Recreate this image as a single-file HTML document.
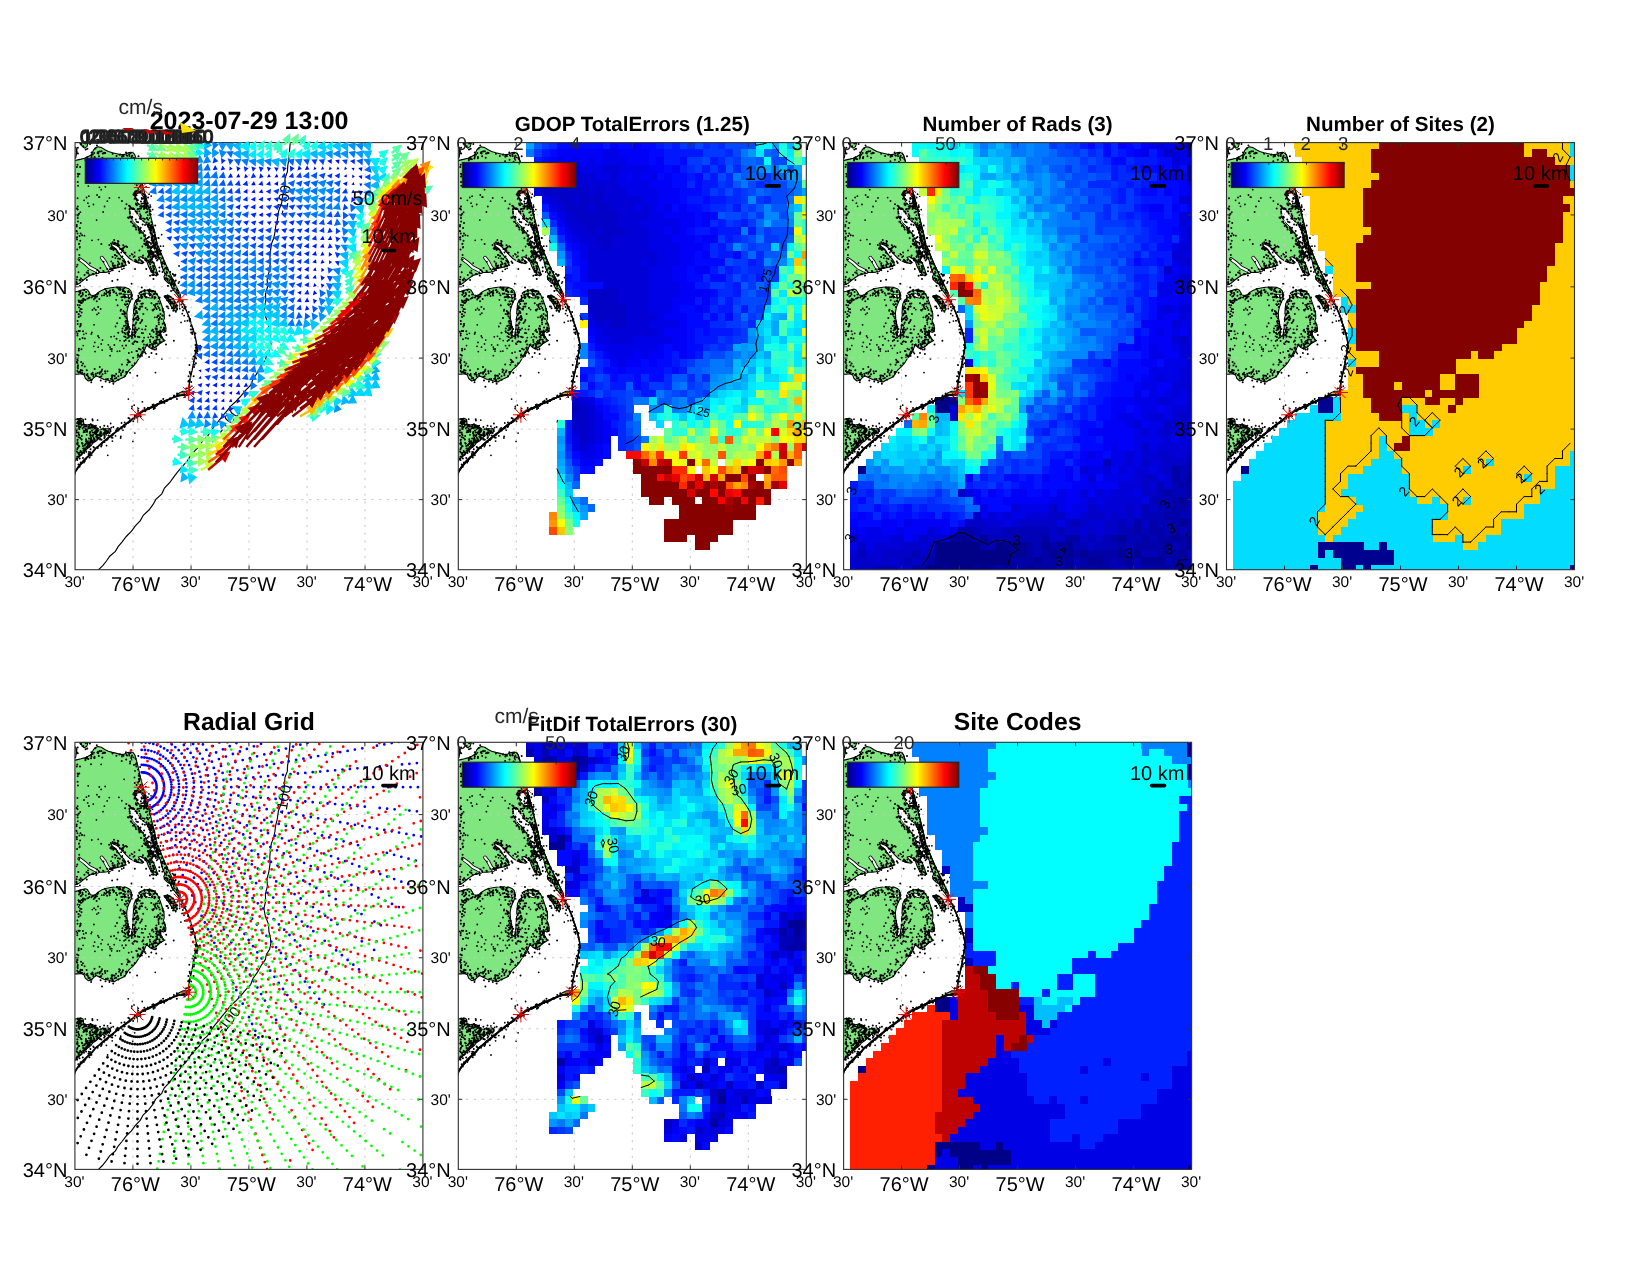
<!DOCTYPE html>
<html><head><meta charset="utf-8"><title>HFR totals</title>
<style>html,body{margin:0;padding:0;background:#fff}svg{display:block}text{font-family:"Liberation Sans", sans-serif;fill:#000;-webkit-font-smoothing:antialiased;text-rendering:geometricPrecision}</style></head><body>
<svg width="1650" height="1275" viewBox="0 0 1650 1275">
<rect width="1650" height="1275" fill="#fff"/>
<g opacity="0.999">
<defs>
<linearGradient id="jet" x1="0" x2="1" y1="0" y2="0"><stop offset="0.0000" stop-color="#000080"/><stop offset="0.0312" stop-color="#00009f"/><stop offset="0.0625" stop-color="#0000bf"/><stop offset="0.0938" stop-color="#0000df"/><stop offset="0.1250" stop-color="#0000ff"/><stop offset="0.1562" stop-color="#0020ff"/><stop offset="0.1875" stop-color="#0040ff"/><stop offset="0.2188" stop-color="#0060ff"/><stop offset="0.2500" stop-color="#0080ff"/><stop offset="0.2812" stop-color="#009fff"/><stop offset="0.3125" stop-color="#00bfff"/><stop offset="0.3438" stop-color="#00dfff"/><stop offset="0.3750" stop-color="#00ffff"/><stop offset="0.4062" stop-color="#20ffdf"/><stop offset="0.4375" stop-color="#40ffbf"/><stop offset="0.4688" stop-color="#60ff9f"/><stop offset="0.5000" stop-color="#80ff80"/><stop offset="0.5312" stop-color="#9fff60"/><stop offset="0.5625" stop-color="#bfff40"/><stop offset="0.5938" stop-color="#dfff20"/><stop offset="0.6250" stop-color="#ffff00"/><stop offset="0.6562" stop-color="#ffdf00"/><stop offset="0.6875" stop-color="#ffbf00"/><stop offset="0.7188" stop-color="#ff9f00"/><stop offset="0.7500" stop-color="#ff8000"/><stop offset="0.7812" stop-color="#ff6000"/><stop offset="0.8125" stop-color="#ff4000"/><stop offset="0.8438" stop-color="#ff2000"/><stop offset="0.8750" stop-color="#ff0000"/><stop offset="0.9062" stop-color="#df0000"/><stop offset="0.9375" stop-color="#bf0000"/><stop offset="0.9688" stop-color="#9f0000"/><stop offset="1.0000" stop-color="#800000"/></linearGradient>
<clipPath id="clip"><rect x="0" y="0" width="348.0" height="427.1"/></clipPath>
<g id="land">
<polygon points="-1.2,18.2 2.7,17.3 6.1,16.5 9.5,15.6 13.3,13.9 16.3,12.2 17.3,10.1 18.4,7.6 20.1,5.5 23.1,4.2 26.5,5.0 29.9,7.2 33.3,8.9 37.5,10.1 41.8,11.1 46.0,12.2 49.4,11.8 52.8,10.3 55.8,9.7 58.3,10.3 60.0,12.7 61.7,18.6 63.4,25.4 65.1,33.0 67.2,41.5 69.3,49.2 71.5,56.8 73.6,65.3 75.7,73.8 77.8,82.2 79.9,90.7 82.5,103.7 83.3,103.6 85.9,110.4 88.4,116.4 91.0,122.3 93.9,128.7 96.9,135.0 100.3,141.8 103.7,148.6 105.4,152.9 104.6,156.2 102.2,152.0 99.5,148.6 96.9,145.2 95.6,141.8 92.7,140.1 90.1,137.6 88.9,134.2 90.1,131.6 88.4,128.2 86.7,123.2 85.5,117.6 83.3,114.7 79.9,113.4 77.8,114.7 76.6,117.6 78.7,120.6 80.8,125.7 82.5,131.2 81.6,133.3 79.1,132.1 75.7,128.2 73.6,124.0 71.9,119.3 68.9,115.9 65.9,114.2 63.4,114.7 65.5,117.2 68.7,119.9 67.2,121.0 62.1,119.8 57.9,118.1 54.5,115.9 51.1,112.5 48.1,109.2 45.2,105.8 42.2,103.2 37.5,101.1 36.0,102.4 38.4,104.5 41.3,107.0 43.5,110.4 46.0,113.8 49.0,116.8 50.7,120.2 49.8,123.2 46.0,124.4 41.8,125.3 37.5,126.1 35.8,127.8 32.4,129.5 29.0,129.8 24.8,129.9 22.3,130.6 18.9,131.6 15.5,132.5 12.1,134.6 8.7,137.2 5.3,140.1 2.7,141.8 -1.2,142.7" fill="#80e680" stroke="#000" stroke-width="1.1" stroke-linejoin="round"/>
<polygon points="-1.2,149.6 2.7,148.6 6.1,147.6 10.4,146.5 12.5,147.3 14.2,149.9 15.5,152.4 18.4,152.9 21.0,152.0 23.1,149.9 26.5,147.8 30.7,146.2 35.8,145.2 40.9,144.5 46.0,144.4 50.3,144.8 53.6,146.1 55.8,148.2 56.9,152.0 56.4,156.2 54.5,160.5 52.8,164.7 51.8,169.8 52.1,175.8 53.2,181.7 54.1,187.6 53.6,192.3 54.9,194.0 56.6,191.9 57.5,186.8 57.9,180.8 58.3,174.1 58.6,167.3 59.2,161.3 60.9,157.5 63.8,155.4 66.8,153.7 65.1,152.0 63.8,150.5 66.4,148.8 70.6,147.6 74.9,147.3 79.1,148.6 82.1,151.6 84.2,155.8 85.9,160.5 87.6,165.6 89.1,170.7 89.3,175.8 88.4,178.3 90.0,181.3 91.0,185.9 90.6,188.9 88.4,189.8 86.7,188.5 85.2,190.6 86.7,194.0 88.9,197.4 90.1,197.8 85.0,200.7 80.8,204.5 76.6,206.2 74.4,204.9 71.9,202.4 70.6,204.5 69.3,207.9 67.2,211.3 63.8,215.9 60.9,220.6 57.9,224.0 54.5,227.0 51.5,231.2 49.8,234.2 46.0,235.9 42.2,237.6 39.6,239.4 36.7,238.9 33.3,237.7 29.0,236.9 24.8,235.0 21.4,233.3 18.9,235.0 16.7,237.4 13.3,238.4 10.4,235.9 9.1,232.5 6.1,231.2 2.7,231.6 -1.2,231.6" fill="#80e680" stroke="#000" stroke-width="1.1" stroke-linejoin="round"/>
<polygon points="-1.2,277.0 2.7,276.2 6.1,275.8 8.3,277.0 8.7,281.3 11.6,282.5 15.5,281.7 19.3,283.0 22.3,285.5 24.4,287.2 29.0,286.1 34.6,285.9 35.8,288.9 31.6,290.9 27.3,292.3 24.4,295.3 21.4,298.2 18.0,300.4 15.9,303.3 12.1,306.2 7.8,310.4 3.6,314.7 -1.2,319.3" fill="#80e680" stroke="#000" stroke-width="1.1" stroke-linejoin="round"/>
<polygon points="89.1,153.5 92.7,152.9 96.5,154.7 99.5,158.4 101.8,163.0 102.2,167.3 100.3,168.5 97.3,165.6 94.8,161.3 91.8,157.1" fill="#80e680" stroke="#000" stroke-width="1.1" stroke-linejoin="round"/>
<polygon points="6.1,0.1 13.1,0.1 11.9,4.0 9.4,5.5 7.1,3.8" fill="#80e680" stroke="#000" stroke-width="1.1" stroke-linejoin="round"/>
<polygon points="-1.2,4.2 1.0,5.0 1.7,9.3 0.7,15.2 -1.2,16.1" fill="#80e680" stroke="#000" stroke-width="1.1" stroke-linejoin="round"/>
<polygon points="113.7,248.6 114.1,252.4 108.8,252.9 104.6,253.0 101.2,253.7 103.7,250.7 107.9,248.6" fill="#80e680" stroke="#000" stroke-width="1.1" stroke-linejoin="round"/>
<polygon points="62.6,271.5 67.2,268.3 75.7,264.4 84.2,260.5 92.7,256.9 92.7,257.8 84.2,261.5 75.7,265.6 67.2,269.5 63.0,272.9" fill="#80e680" stroke="#000" stroke-width="1.1" stroke-linejoin="round"/>
<polygon points="60.9,51.3 65.5,50.0 68.9,55.1 69.8,62.7 67.2,63.6 63.0,61.0 60.4,55.9" fill="#fff" stroke="#000" stroke-width="0.9"/>
<polygon points="54.5,66.1 59.6,67.0 63.0,72.1 66.4,77.2 71.5,81.4 74.9,87.3 76.6,95.8 78.7,103.7 74.0,103.7 71.5,96.7 67.2,89.0 63.0,83.9 58.7,79.7 55.3,73.8" fill="#fff" stroke="#000" stroke-width="0.9"/>
<polygon points="74.0,103.7 78.7,103.7 79.9,107.9 82.5,112.5 84.2,115.9 82.5,115.1 78.7,111.7 76.1,107.9" fill="#fff" stroke="#000" stroke-width="0.9"/>
<polyline points="4.4,116.5 9.5,120.2 14.6,124.9 19.7,127.4 22.7,129.3" fill="none" stroke="#000" stroke-width="3.8" stroke-linecap="round"/>
<polyline points="4.4,116.5 9.5,120.2 14.6,124.9 19.7,127.4 22.7,129.3" fill="none" stroke="#fff" stroke-width="2.2" stroke-linecap="round"/>
<polyline points="26.7,115.1 29.9,119.3 32.4,124.0 35.0,127.6" fill="none" stroke="#000" stroke-width="3.8" stroke-linecap="round"/>
<polyline points="26.7,115.1 29.9,119.3 32.4,124.0 35.0,127.6" fill="none" stroke="#fff" stroke-width="2.2" stroke-linecap="round"/>
<polyline points="51.1,153.3 55.8,153.3" fill="none" stroke="#000" stroke-width="3.8" stroke-linecap="round"/>
<polyline points="51.1,153.3 55.8,153.3" fill="none" stroke="#fff" stroke-width="2.2" stroke-linecap="round"/>
<polyline points="70.6,152.0 74.0,153.7 76.6,154.1" fill="none" stroke="#000" stroke-width="3.8" stroke-linecap="round"/>
<polyline points="70.6,152.0 74.0,153.7 76.6,154.1" fill="none" stroke="#fff" stroke-width="2.2" stroke-linecap="round"/>
<polyline points="104.6,156.2 106.2,158.8 108.8,162.2 111.3,168.1 113.9,174.1 116.0,180.8 118.1,186.8 119.8,192.7 121.1,198.7 122.1,205.7 121.5,202.8 120.7,208.7 119.5,214.7 118.5,220.6 117.3,226.5 115.9,232.5 114.6,238.4 113.9,244.4 113.7,249.5 113.9,252.0 108.8,252.0 105.4,252.4" fill="none" stroke="#000" stroke-width="1.4" stroke-linejoin="round"/>
<polyline points="105.4,252.4 99.5,254.4 92.7,257.3 84.2,260.9 75.7,264.9 67.2,268.8 62.6,272.2 56.2,277.5 49.4,282.5 42.6,287.8 35.8,293.2 29.0,298.7 23.1,303.8 20.6,305.7 17.2,310.0 12.1,314.7 7.8,318.9 3.6,324.0 0.2,329.1 -1.2,333.8" fill="none" stroke="#000" stroke-width="1.9" stroke-linejoin="round"/>
<path d="M95.2 129.3h.01M16.5 9.9h.01M90.8 135.6h.01M69.3 64.8h.01M60.0 126.5h.01M57.0 17.2h.01M64.6 44.4h.01M103.4 150.5h.01M29.1 10.6h.01M61.8 119.1h.01M92.5 138.0h.01M70.4 117.6h.01M42.9 121.8h.01M61.5 21.0h.01M2.0 94.6h.01M73.9 112.3h.01M68.2 46.6h.01M75.1 117.3h.01M70.3 115.6h.01M76.4 129.2h.01M51.0 9.9h.01M74.4 65.0h.01M64.1 31.6h.01M96.5 141.4h.01M63.1 27.3h.01M78.8 93.4h.01M94.9 134.4h.01M2.4 22.2h.01M78.5 132.5h.01M81.9 107.4h.01M1.9 24.3h.01M74.8 71.2h.01M73.9 111.0h.01M14.2 132.6h.01M97.4 138.8h.01M11.6 15.4h.01M78.8 126.6h.01M78.3 89.0h.01M66.5 118.2h.01M80.2 129.8h.01M63.8 117.3h.01M1.6 139.5h.01M76.9 129.2h.01M49.9 119.3h.01M65.2 24.6h.01M1.8 82.3h.01M91.6 129.1h.01M55.1 21.3h.01M48.6 13.5h.01M96.8 140.1h.01M41.0 101.2h.01M4.8 104.3h.01M55.6 10.7h.01M70.8 61.1h.01M100.7 137.8h.01M23.8 129.2h.01M80.5 113.3h.01M37.8 123.1h.01M99.9 138.4h.01M21.4 132.8h.01M2.2 106.8h.01M82.7 106.4h.01M87.6 121.2h.01M82.7 131.8h.01M83.3 95.4h.01M10.6 17.1h.01M37.8 125.8h.01M43.4 98.8h.01M59.0 22.8h.01M42.9 101.7h.01M47.3 108.1h.01M63.8 33.4h.01M87.4 114.8h.01M27.7 11.0h.01M46.9 121.3h.01M1.7 88.6h.01M2.5 55.6h.01M2.4 122.1h.01M83.0 103.9h.01M71.6 62.6h.01M78.2 128.6h.01M16.5 14.3h.01M4.3 116.8h.01M38.9 125.4h.01M95.1 158.2h.01M26.6 8.6h.01M2.7 66.9h.01M13.2 130.7h.01M95.7 141.0h.01M84.0 112.0h.01M81.8 132.0h.01M73.0 54.9h.01M76.9 83.8h.01M27.4 15.1h.01M56.3 15.7h.01M75.6 86.9h.01M2.7 39.5h.01M16.1 16.0h.01M4.3 112.5h.01M5.1 137.9h.01M36.2 104.7h.01M75.6 82.8h.01M103.6 157.7h.01M76.0 83.2h.01M70.3 53.8h.01M75.3 64.5h.01M22.5 10.3h.01M41.7 113.4h.01M68.9 66.5h.01M74.5 118.9h.01M65.9 58.9h.01M97.9 137.1h.01M23.9 13.6h.01M34.0 130.6h.01M17.5 131.4h.01M75.3 87.9h.01M25.3 125.4h.01M36.0 126.8h.01M45.1 12.0h.01M66.7 118.8h.01M72.1 64.2h.01M39.6 105.9h.01M92.3 125.3h.01M91.3 124.8h.01M71.3 117.6h.01M96.0 148.4h.01M65.0 33.9h.01M63.4 119.9h.01M2.0 96.9h.01M70.9 53.7h.01M99.5 142.3h.01M2.7 73.0h.01M102.4 149.9h.01M47.7 105.9h.01M71.0 70.0h.01M2.9 78.9h.01M79.3 126.5h.01M41.5 13.4h.01M2.2 141.4h.01M4.2 101.1h.01M2.1 134.4h.01M86.4 120.2h.01M68.1 30.5h.01M81.7 130.7h.01M1.7 84.0h.01M7.1 92.7h.01M38.3 107.5h.01M7.3 137.5h.01M42.4 100.9h.01M43.7 111.0h.01M19.5 15.0h.01M75.1 72.3h.01M101.5 147.1h.01M61.1 119.1h.01M2.7 75.3h.01M37.7 99.7h.01M88.7 118.7h.01M49.5 119.9h.01M77.4 93.5h.01M39.0 101.2h.01M47.4 121.8h.01M28.2 128.4h.01M72.4 63.3h.01M19.6 14.5h.01M39.1 97.5h.01M5.6 90.9h.01M54.1 11.7h.01M20.4 6.0h.01M42.9 98.4h.01M70.9 63.4h.01M10.5 17.9h.01M84.4 124.9h.01M38.9 124.9h.01M4.0 101.5h.01M2.7 31.1h.01M84.6 108.9h.01M84.4 128.6h.01M4.8 85.4h.01M13.5 16.6h.01M74.4 119.9h.01M35.4 105.8h.01M61.7 42.6h.01M76.5 87.8h.01M64.7 37.5h.01M91.7 136.0h.01M54.4 13.3h.01M12.1 14.7h.01M42.8 123.9h.01M87.3 119.8h.01M96.7 138.3h.01M46.7 120.9h.01M34.2 102.4h.01M46.4 106.4h.01M75.5 87.4h.01M42.2 109.8h.01M2.8 33.9h.01M77.7 128.5h.01M46.2 124.0h.01M63.4 13.6h.01M81.2 99.8h.01M81.5 99.6h.01M79.8 113.3h.01M84.0 109.2h.01M79.1 97.3h.01M89.7 136.5h.01M73.0 118.0h.01M37.5 114.5h.01M4.6 104.9h.01M52.2 13.1h.01M42.5 122.8h.01M92.3 126.9h.01M80.7 95.6h.01M75.1 121.9h.01M5.2 98.1h.01M78.1 112.5h.01M3.0 43.2h.01M44.2 102.9h.01M75.0 133.1h.01M32.1 126.5h.01M76.2 126.2h.01M82.7 109.9h.01M73.5 119.1h.01M5.1 24.3h.01M48.1 107.9h.01M42.8 100.8h.01M11.8 137.3h.01M78.7 93.4h.01M90.8 125.7h.01M67.6 115.0h.01M77.4 115.0h.01M36.8 104.5h.01M12.6 16.3h.01M39.8 123.0h.01M24.9 9.0h.01M99.5 142.3h.01M87.3 124.1h.01M91.6 132.9h.01M44.9 116.5h.01M76.5 95.1h.01M53.2 119.0h.01M68.0 112.9h.01M18.4 131.3h.01M50.4 110.2h.01M72.4 66.7h.01M71.3 116.5h.01M61.5 118.5h.01M54.1 120.4h.01M23.3 11.0h.01M75.4 118.3h.01M11.6 130.0h.01M44.6 12.2h.01M2.9 72.2h.01M59.5 109.9h.01M43.1 115.9h.01M17.8 11.8h.01M4.0 71.1h.01M18.4 131.7h.01M81.9 109.0h.01M51.6 12.6h.01M58.6 15.1h.01M80.1 83.0h.01M61.5 24.1h.01M45.1 106.3h.01M34.7 126.6h.01M64.2 38.9h.01M5.7 80.4h.01M46.8 18.7h.01M92.0 130.2h.01M37.7 127.6h.01M48.3 105.3h.01M96.2 142.6h.01M63.0 40.2h.01M104.7 154.6h.01M2.5 90.9h.01M77.1 132.3h.01M51.3 17.1h.01M19.5 15.7h.01M76.5 128.1h.01M56.6 14.4h.01M60.3 117.1h.01M75.5 83.3h.01M29.1 10.1h.01M16.1 21.9h.01M36.4 106.5h.01M75.3 85.5h.01M40.9 106.9h.01M60.9 22.1h.01M84.4 107.8h.01M73.0 114.0h.01M89.4 120.6h.01M78.4 136.3h.01M91.8 130.2h.01M88.7 127.4h.01M92.7 136.3h.01M52.0 104.5h.01M78.5 126.4h.01M5.8 136.0h.01M40.4 125.0h.01M4.5 93.3h.01M93.9 133.4h.01M79.0 127.0h.01M90.0 135.8h.01M98.4 141.4h.01M47.0 14.2h.01M57.5 111.8h.01M48.2 105.7h.01M75.5 124.3h.01M64.1 36.8h.01M47.2 123.4h.01M42.8 102.9h.01M61.0 117.8h.01M78.2 124.5h.01M26.3 101.4h.01M79.1 125.7h.01M66.8 41.9h.01M67.5 119.4h.01M73.6 85.0h.01M72.2 75.8h.01M104.5 151.6h.01M83.3 107.1h.01M71.2 126.5h.01M69.8 54.9h.01M55.3 19.1h.01M90.0 125.8h.01M76.4 82.1h.01M1.7 95.0h.01M39.2 106.7h.01M104.1 153.4h.01M92.4 137.2h.01M70.3 59.5h.01M16.3 12.8h.01M21.9 3.0h.01M2.7 63.9h.01M75.1 116.9h.01M38.7 123.5h.01M73.9 80.6h.01M1.5 88.5h.01M64.7 36.4h.01M85.8 111.1h.01M57.1 13.2h.01M81.0 115.8h.01M10.4 16.5h.01M48.2 102.7h.01M78.9 88.2h.01M65.3 44.6h.01M1.7 65.8h.01M47.2 121.0h.01M77.9 123.5h.01M85.6 111.8h.01M47.4 12.6h.01M81.2 100.3h.01M4.4 31.3h.01M3.3 32.0h.01M3.4 129.7h.01M75.3 114.3h.01M48.0 117.9h.01M39.7 112.4h.01M60.7 16.4h.01M74.9 121.3h.01M76.5 120.0h.01M37.6 11.1h.01M91.6 126.1h.01M36.1 126.0h.01M49.5 104.2h.01M28.5 128.6h.01M4.5 137.5h.01M48.0 118.1h.01M89.7 121.6h.01M66.8 48.3h.01M48.8 123.3h.01M95.2 135.1h.01M62.4 119.6h.01M97.6 145.7h.01M23.1 9.4h.01M80.9 102.3h.01M76.6 90.8h.01M64.4 108.0h.01M1.7 136.9h.01M9.5 132.4h.01M37.7 105.7h.01M99.6 146.0h.01M78.0 85.0h.01M30.2 10.4h.01M22.2 127.3h.01M100.3 132.1h.01M59.8 40.8h.01M24.8 8.8h.01M81.8 101.0h.01M65.7 42.7h.01M72.4 69.1h.01M56.8 111.5h.01M39.7 100.1h.01M48.8 118.6h.01M98.8 142.4h.01M90.6 131.2h.01M79.1 89.7h.01M47.2 13.8h.01M37.8 120.6h.01M75.7 71.9h.01M78.9 123.6h.01M4.7 196.6h.01M54.1 198.3h.01M61.5 175.0h.01M49.8 161.6h.01M54.0 149.4h.01M80.0 163.7h.01M2.6 217.8h.01M44.2 229.5h.01M13.4 155.6h.01M60.3 165.6h.01M39.2 148.8h.01M4.4 158.9h.01M59.1 189.5h.01M29.5 150.6h.01M76.7 148.8h.01M81.4 196.8h.01M4.0 152.1h.01M75.7 152.5h.01M91.6 163.8h.01M68.3 151.3h.01M81.3 211.3h.01M25.8 229.5h.01M74.6 203.4h.01M62.7 212.9h.01M50.4 178.8h.01M82.7 192.7h.01M6.1 219.5h.01M8.5 157.2h.01M57.8 195.8h.01M19.5 155.6h.01M38.2 238.8h.01M5.3 228.7h.01M63.2 153.1h.01M50.4 170.8h.01M53.2 158.3h.01M59.3 172.7h.01M10.9 153.1h.01M78.0 204.1h.01M89.9 182.4h.01M85.4 193.4h.01M45.3 146.2h.01M18.4 233.8h.01M47.5 229.5h.01M57.2 189.5h.01M59.0 189.0h.01M85.8 189.5h.01M63.9 166.3h.01M13.8 151.8h.01M83.1 173.5h.01M77.3 148.9h.01M58.6 182.3h.01M39.2 233.1h.01M14.4 154.8h.01M87.6 181.2h.01M60.3 185.2h.01M63.5 154.6h.01M7.8 152.0h.01M51.2 180.6h.01M4.1 149.2h.01M53.6 184.7h.01M34.4 148.8h.01M4.9 183.9h.01M53.6 188.8h.01M94.5 173.0h.01M84.4 197.2h.01M49.2 171.8h.01M49.5 154.0h.01M7.5 150.5h.01M59.6 176.7h.01M5.0 158.7h.01M46.1 232.7h.01M32.2 153.5h.01M15.5 237.3h.01M70.6 165.3h.01M51.0 229.5h.01M8.0 220.9h.01M27.1 226.9h.01M63.8 206.1h.01M12.4 231.4h.01M46.0 231.0h.01M11.7 227.7h.01M74.9 197.4h.01M87.3 172.9h.01M69.6 148.8h.01M61.2 179.8h.01M51.4 175.7h.01M66.3 161.1h.01M4.0 159.5h.01M81.5 183.3h.01M82.5 196.8h.01M25.1 234.4h.01M71.2 202.3h.01M44.7 145.5h.01M56.3 152.5h.01M62.1 170.5h.01M61.3 169.3h.01M66.6 155.3h.01M60.0 198.6h.01M63.0 174.3h.01M82.9 173.2h.01M69.4 152.8h.01M59.1 192.4h.01M17.6 230.2h.01M48.1 228.0h.01M2.8 226.0h.01M26.6 228.5h.01M3.7 208.0h.01M37.2 236.8h.01M52.6 178.8h.01M62.2 187.2h.01M84.6 200.3h.01M16.5 237.5h.01M68.8 207.0h.01M6.5 230.6h.01M3.6 157.9h.01M45.0 147.3h.01M78.6 151.6h.01M22.3 151.6h.01M48.4 168.4h.01M44.5 151.2h.01M78.2 203.9h.01M64.4 194.7h.01M77.6 148.5h.01M52.4 183.6h.01M75.4 151.4h.01M50.1 149.4h.01M68.3 198.1h.01M93.3 165.7h.01M83.7 179.9h.01M23.1 164.3h.01M47.2 188.6h.01M24.3 156.4h.01M57.3 191.3h.01M85.8 184.8h.01M35.0 147.9h.01M39.7 233.4h.01M83.4 172.8h.01M2.6 181.5h.01M3.5 212.9h.01M63.1 157.1h.01M24.7 224.5h.01M8.8 156.7h.01M18.4 232.2h.01M59.7 220.7h.01M1.8 169.5h.01M46.9 221.8h.01M33.5 149.5h.01M2.4 190.8h.01M37.8 238.1h.01M83.7 155.5h.01M22.6 230.4h.01M62.8 194.1h.01M51.4 187.0h.01M53.8 218.6h.01M68.8 202.0h.01M23.2 150.8h.01M6.7 157.8h.01M53.4 148.4h.01M55.0 230.1h.01M79.2 206.9h.01M6.9 222.8h.01M50.6 197.4h.01M42.1 152.7h.01M52.2 186.2h.01M9.1 147.7h.01M88.6 169.2h.01M42.0 144.8h.01M51.5 185.3h.01M20.5 153.4h.01M57.3 156.4h.01M61.5 187.2h.01M49.7 169.7h.01M47.5 185.9h.01M27.5 231.6h.01M11.0 149.5h.01M52.2 161.3h.01M50.4 194.3h.01M77.6 187.6h.01M20.4 155.1h.01M68.5 204.9h.01M90.4 153.4h.01M42.6 145.2h.01M67.1 177.3h.01M74.8 153.0h.01M44.6 151.2h.01M75.9 194.0h.01M85.5 191.3h.01M20.7 231.2h.01M51.4 231.2h.01M85.4 171.3h.01M43.2 190.2h.01M42.1 180.6h.01M53.9 184.4h.01M48.6 148.3h.01M72.9 147.7h.01M58.0 182.6h.01M75.2 199.4h.01M30.6 239.0h.01M54.6 159.5h.01M52.9 191.3h.01M88.8 180.7h.01M31.2 148.2h.01M63.0 212.0h.01M7.3 227.8h.01M21.7 158.6h.01M41.1 231.5h.01M59.3 188.4h.01M77.0 154.5h.01M58.1 215.2h.01M16.7 232.0h.01M37.6 147.6h.01M43.9 146.6h.01M89.7 187.9h.01M50.8 185.3h.01M37.0 234.4h.01M97.2 160.9h.01M70.3 186.8h.01M2.4 192.9h.01M16.2 239.6h.01M47.8 154.4h.01M59.1 165.1h.01M83.4 159.0h.01M32.4 228.7h.01M87.6 166.2h.01M54.0 155.6h.01M41.5 196.2h.01M2.8 223.1h.01M3.5 171.6h.01M30.0 228.6h.01M52.3 190.1h.01M2.7 224.1h.01M84.4 176.2h.01M12.3 232.7h.01M61.2 159.4h.01M67.1 163.9h.01M47.3 171.5h.01M7.1 230.4h.01M81.7 186.0h.01M4.8 188.5h.01M84.6 154.9h.01M89.7 185.6h.01M67.8 160.9h.01M80.5 165.0h.01M89.4 186.0h.01M4.7 168.6h.01M20.8 233.0h.01M64.1 213.4h.01M84.4 189.3h.01M46.4 154.7h.01M45.6 168.2h.01M19.6 226.4h.01M63.0 177.5h.01M23.0 151.1h.01M38.6 149.6h.01M32.0 150.0h.01M61.9 161.4h.01M80.3 162.3h.01M79.9 154.9h.01M83.9 165.3h.01M52.5 217.2h.01M49.8 154.9h.01M2.3 228.4h.01M66.5 155.4h.01M80.0 150.7h.01M53.5 194.9h.01M69.5 148.5h.01M53.4 192.4h.01M56.2 153.6h.01M59.9 171.2h.01M56.2 150.4h.01M24.6 230.0h.01M44.0 147.0h.01M62.3 199.4h.01M70.1 151.5h.01M74.1 150.7h.01M6.0 160.5h.01M5.2 150.7h.01M67.4 209.0h.01M67.3 210.9h.01M5.3 166.5h.01M45.1 227.6h.01M5.8 227.5h.01M8.0 188.7h.01M5.6 183.0h.01M37.9 147.1h.01M54.9 186.4h.01M50.6 191.6h.01M3.7 174.5h.01M80.9 198.3h.01M37.2 138.3h.01M82.0 174.6h.01M58.2 176.7h.01M91.3 192.5h.01M43.3 233.6h.01M53.2 192.8h.01M14.8 235.5h.01M2.7 162.3h.01M61.6 168.9h.01M46.1 150.8h.01M5.8 181.4h.01M37.5 238.7h.01M72.2 201.8h.01M80.5 200.5h.01M4.7 162.7h.01M60.0 190.9h.01M62.9 212.9h.01M57.0 195.6h.01M49.2 145.5h.01M50.6 154.3h.01M77.4 206.1h.01M17.6 153.7h.01M77.9 167.9h.01M69.9 209.7h.01M65.1 164.2h.01M82.3 161.2h.01M53.3 153.5h.01M62.2 233.2h.01M50.6 182.8h.01M43.4 237.1h.01M98.8 198.1h.01M76.9 205.4h.01M35.9 236.2h.01M64.6 166.8h.01M6.6 153.3h.01M69.5 147.5h.01M78.7 201.5h.01M81.2 191.4h.01M52.2 184.2h.01M81.8 151.6h.01M84.4 191.5h.01M52.9 182.3h.01M53.0 219.9h.01M66.7 163.8h.01M87.9 173.1h.01M2.2 212.1h.01M79.0 166.6h.01M81.6 166.3h.01M59.9 194.1h.01M73.6 148.3h.01M59.4 167.0h.01M54.7 219.4h.01M47.7 148.3h.01M76.4 160.7h.01M50.0 187.6h.01M16.6 154.9h.01M65.5 207.0h.01M30.1 146.5h.01M82.8 189.0h.01M62.9 158.5h.01M70.2 154.0h.01M86.1 199.7h.01M52.9 149.5h.01M84.8 167.3h.01M87.9 187.3h.01M50.5 154.2h.01M51.1 159.0h.01M49.6 151.9h.01M81.3 194.1h.01M80.2 200.4h.01M2.6 224.9h.01M1.7 219.3h.01M64.8 158.5h.01M29.0 152.6h.01M48.2 147.6h.01M66.4 178.9h.01M3.8 206.2h.01M78.0 194.8h.01M24.7 231.1h.01M89.3 186.7h.01M27.1 244.2h.01M76.4 210.3h.01M67.9 205.5h.01M51.9 229.5h.01M79.4 151.3h.01M50.5 162.4h.01M83.8 176.5h.01M90.3 188.5h.01M75.0 202.2h.01M49.6 149.2h.01M42.5 137.1h.01M56.7 193.9h.01M83.5 177.7h.01M34.5 239.7h.01M64.7 166.1h.01M13.5 235.8h.01M74.2 149.0h.01M45.9 167.2h.01M22.0 154.0h.01M5.3 159.7h.01M65.2 214.0h.01M48.3 151.8h.01M69.0 207.4h.01M88.2 197.2h.01M38.3 241.1h.01M62.7 173.5h.01M87.7 172.9h.01M53.5 158.0h.01M5.8 153.9h.01M44.7 175.3h.01M60.8 189.4h.01M81.1 203.9h.01M47.9 144.8h.01M56.8 152.5h.01M34.9 151.0h.01M37.5 233.0h.01M57.6 187.2h.01M88.9 184.9h.01M9.8 196.0h.01M58.3 187.0h.01M58.6 172.7h.01M57.1 223.0h.01M6.6 170.0h.01M9.7 224.0h.01M51.1 178.2h.01M61.4 158.6h.01M78.5 148.7h.01M56.8 194.1h.01M32.8 236.3h.01M51.0 203.0h.01M75.8 148.3h.01M80.3 154.9h.01M78.7 199.4h.01M77.4 202.2h.01M34.4 151.2h.01M66.6 210.6h.01M49.6 233.6h.01M48.3 145.8h.01M3.8 171.7h.01M5.3 229.6h.01M85.4 188.5h.01M86.4 195.1h.01M5.2 149.1h.01M88.9 185.8h.01M30.3 230.7h.01M65.2 180.5h.01M66.7 155.5h.01M5.5 148.2h.01M36.6 235.9h.01M84.9 174.6h.01M6.4 206.7h.01M71.0 154.9h.01M84.1 192.3h.01M80.4 200.9h.01M67.2 154.3h.01M47.1 157.7h.01M2.5 178.3h.01M66.7 144.8h.01M60.5 163.6h.01M5.0 143.1h.01M16.3 231.4h.01M2.9 222.6h.01M2.3 220.4h.01M44.2 226.9h.01M41.2 235.4h.01M11.4 232.5h.01M34.7 152.9h.01M66.2 153.3h.01M25.7 238.0h.01M48.9 183.4h.01M80.0 151.0h.01M61.6 165.3h.01M36.8 233.0h.01M62.1 177.2h.01M81.7 187.0h.01M2.3 217.1h.01M77.5 167.3h.01M3.5 188.5h.01M5.5 173.2h.01M86.7 176.5h.01M4.1 229.5h.01M74.0 148.1h.01M45.3 147.0h.01M61.4 208.5h.01M79.5 156.0h.01M84.6 161.0h.01M78.7 189.5h.01M21.0 153.8h.01M63.7 176.0h.01M87.8 168.1h.01M65.9 149.7h.01M51.5 229.3h.01M59.1 165.9h.01M86.8 194.6h.01M61.0 168.4h.01M9.3 231.1h.01M52.6 181.4h.01M3.3 230.0h.01M8.2 156.1h.01M60.6 175.6h.01M85.9 195.0h.01M13.1 233.8h.01M26.3 233.6h.01M82.7 192.9h.01M50.2 174.0h.01M31.0 151.4h.01M84.8 199.0h.01M39.7 235.9h.01M7.5 195.5h.01M68.3 171.4h.01M58.0 188.8h.01M66.5 152.1h.01M49.5 190.4h.01M50.5 171.0h.01M77.8 204.2h.01M56.6 141.2h.01M52.0 222.2h.01M52.3 164.5h.01M59.5 187.5h.01M90.9 201.9h.01M5.5 181.4h.01M12.4 231.4h.01M31.1 236.6h.01M9.7 157.1h.01M41.1 150.7h.01M7.9 157.6h.01M37.7 237.4h.01M47.5 147.5h.01M47.6 189.7h.01M83.1 201.8h.01M89.8 188.5h.01M10.4 282.8h.01M8.3 308.1h.01M10.9 283.7h.01M2.6 309.9h.01M21.1 294.1h.01M25.4 293.4h.01M6.6 311.9h.01M1.6 293.1h.01M2.5 299.6h.01M19.4 284.2h.01M3.4 289.8h.01M5.4 278.7h.01M21.2 290.7h.01M29.2 290.3h.01M5.3 284.3h.01M20.8 289.3h.01M17.3 283.9h.01M20.4 288.6h.01M13.6 300.7h.01M22.9 287.8h.01M6.2 278.3h.01M16.9 299.9h.01M2.7 301.3h.01M35.3 288.3h.01M10.7 287.1h.01M30.6 287.6h.01M3.6 280.4h.01M28.8 291.1h.01M21.3 286.6h.01M10.9 298.7h.01M27.2 300.5h.01M9.9 289.3h.01M14.4 285.5h.01M8.2 285.5h.01M6.9 309.8h.01M4.4 286.5h.01M4.2 292.6h.01M15.1 300.2h.01M10.4 283.6h.01M16.1 295.3h.01M32.1 286.6h.01M9.7 307.5h.01M19.6 296.8h.01M12.6 303.0h.01M6.5 282.8h.01M11.5 286.8h.01M4.6 315.9h.01M4.4 278.8h.01M25.9 286.6h.01M1.6 287.8h.01M2.5 301.9h.01M2.8 279.2h.01M19.7 284.9h.01M20.0 290.6h.01M15.1 285.5h.01M12.0 288.9h.01M11.2 309.2h.01M7.1 278.6h.01M14.8 299.9h.01M4.6 312.7h.01M13.9 296.0h.01M19.7 289.9h.01M15.3 293.1h.01M6.0 280.4h.01M2.2 317.4h.01M29.5 287.2h.01M38.3 284.5h.01M15.2 298.4h.01M3.9 285.2h.01M2.8 276.6h.01M4.1 285.0h.01M22.0 289.5h.01M2.4 280.0h.01M15.9 282.5h.01M16.6 284.0h.01M20.3 285.2h.01M9.7 305.9h.01M5.3 276.2h.01M13.5 284.2h.01M32.4 289.5h.01M6.4 282.2h.01M8.3 286.5h.01M32.4 290.4h.01M8.8 305.9h.01M11.9 287.4h.01M17.3 284.3h.01M3.9 283.7h.01M5.4 309.1h.01M19.2 296.1h.01M19.0 284.1h.01M13.2 302.7h.01M13.8 300.7h.01M17.0 282.9h.01M15.4 291.8h.01M2.1 306.6h.01M10.7 282.4h.01M8.5 289.6h.01M3.5 294.6h.01M8.2 281.9h.01M19.6 298.4h.01M6.4 296.7h.01M2.1 280.6h.01M3.7 281.9h.01M15.7 297.0h.01M17.4 293.2h.01M25.1 284.5h.01M33.0 289.2h.01M14.5 302.7h.01M6.5 309.8h.01M5.9 279.9h.01M25.8 289.3h.01M5.5 312.6h.01M2.9 276.3h.01M13.0 304.7h.01M14.7 290.6h.01M19.9 298.3h.01M18.8 296.5h.01M22.8 286.2h.01M30.8 289.0h.01M22.5 294.3h.01M9.2 283.9h.01M17.7 298.4h.01M25.0 296.8h.01M25.3 296.5h.01M1.5 315.8h.01M24.9 293.0h.01M3.7 313.6h.01M22.5 295.3h.01M17.6 277.9h.01M17.8 284.6h.01M26.0 290.2h.01M29.2 283.1h.01M22.9 295.4h.01M15.5 306.6h.01M11.1 298.2h.01M4.5 281.1h.01M11.3 304.7h.01M1.7 289.9h.01M18.9 305.0h.01M6.9 300.4h.01M5.4 308.5h.01M4.2 303.7h.01M15.6 299.9h.01M3.6 311.5h.01M33.2 286.0h.01M31.6 288.3h.01M3.7 291.6h.01M25.4 290.5h.01M22.1 296.5h.01M9.1 310.4h.01M30.4 287.3h.01M10.7 301.4h.01M21.2 287.7h.01M22.3 287.1h.01M20.5 291.7h.01M29.8 289.9h.01M28.3 290.8h.01M25.6 289.1h.01M2.2 314.1h.01M4.0 278.4h.01M8.0 278.9h.01M25.0 290.6h.01M15.7 281.7h.01M3.8 303.8h.01M26.8 302.4h.01M12.8 301.2h.01M25.6 291.8h.01M15.6 299.0h.01M17.6 286.9h.01M30.1 286.9h.01M25.4 290.5h.01M15.1 289.8h.01M14.8 302.2h.01M17.4 276.7h.01M11.2 300.7h.01M13.5 302.4h.01M2.3 297.3h.01M7.6 285.7h.01M2.7 305.5h.01M16.2 284.6h.01M10.9 306.8h.01M19.7 297.9h.01M22.3 292.4h.01M5.6 281.2h.01M7.9 303.5h.01M9.6 302.8h.01M23.1 292.3h.01M21.9 292.6h.01M11.8 300.1h.01M19.9 285.0h.01M8.2 305.8h.01M9.0 287.8h.01M4.5 277.7h.01M31.8 287.4h.01M2.6 300.6h.01M4.3 276.7h.01M3.6 313.9h.01M7.3 301.0h.01M30.4 288.3h.01M19.3 297.1h.01M10.4 283.7h.01M16.1 286.2h.01M5.1 295.2h.01M21.6 287.3h.01M12.6 300.7h.01M12.6 299.9h.01M16.1 297.7h.01M30.3 290.3h.01M20.2 290.8h.01M16.3 282.9h.01M5.0 279.5h.01M1.8 283.5h.01M30.4 289.9h.01M17.0 299.7h.01M11.0 296.7h.01M1.8 308.9h.01M1.9 301.2h.01M10.5 305.9h.01M2.6 297.1h.01M4.5 310.1h.01M95.4 157.1h.01M99.0 165.7h.01M91.9 155.4h.01M93.3 155.2h.01M90.0 153.8h.01M92.4 153.0h.01M100.5 163.8h.01M99.1 162.4h.01M93.8 158.6h.01M96.9 165.7h.01M97.4 156.3h.01M98.7 163.1h.01M94.7 158.5h.01M95.4 159.1h.01M97.9 165.1h.01M92.8 153.0h.01M100.5 165.0h.01M95.3 154.2h.01M102.0 166.5h.01M98.7 161.1h.01M91.0 154.1h.01M92.0 154.5h.01M97.0 160.9h.01M93.5 156.8h.01M102.3 163.0h.01M93.4 156.3h.01M98.2 168.1h.01M99.3 160.5h.01M94.0 153.7h.01M101.0 162.8h.01M91.5 154.8h.01M89.9 154.5h.01M92.6 163.8h.01M96.9 159.3h.01M95.7 160.8h.01M100.8 169.1h.01M91.1 154.4h.01M91.1 154.7h.01M99.2 159.1h.01M98.1 156.1h.01M71.3 63.8h.01M70.6 58.0h.01M58.9 51.8h.01M61.2 50.9h.01M65.0 50.0h.01M66.4 61.1h.01M63.6 48.9h.01M64.2 49.6h.01M69.7 52.5h.01M68.6 54.0h.01M60.1 48.8h.01M69.0 63.5h.01M61.5 56.5h.01M62.3 49.1h.01M69.9 61.3h.01M59.3 50.4h.01M65.5 49.0h.01M61.6 50.4h.01M60.9 60.9h.01M61.8 62.7h.01M61.0 61.9h.01M59.3 56.1h.01M70.3 60.8h.01M67.0 56.1h.01M58.4 52.0h.01M70.8 59.5h.01M71.1 65.7h.01M66.7 63.6h.01M66.7 55.3h.01M69.4 63.8h.01M61.4 61.3h.01M67.8 63.9h.01M69.9 58.3h.01M69.8 56.1h.01M68.1 60.8h.01M63.4 61.1h.01M60.4 55.0h.01M64.8 66.1h.01M61.5 52.7h.01M63.1 48.0h.01M61.4 48.4h.01M65.1 63.8h.01M62.8 57.6h.01M59.4 52.1h.01M68.3 51.3h.01M70.5 60.1h.01M70.7 55.8h.01M59.2 52.7h.01M59.7 51.0h.01M59.7 53.1h.01M68.2 90.6h.01M59.5 82.8h.01M78.1 99.2h.01M75.4 86.6h.01M66.1 95.6h.01M54.0 63.2h.01M64.1 86.8h.01M60.7 76.9h.01M80.5 99.6h.01M73.0 83.8h.01M60.3 84.3h.01M54.5 66.6h.01M53.6 75.3h.01M75.6 90.0h.01M76.9 95.2h.01M55.3 64.7h.01M69.6 98.5h.01M55.8 79.1h.01M76.6 98.0h.01M65.6 85.2h.01M56.6 79.2h.01M64.5 90.3h.01M58.0 65.7h.01M80.0 93.0h.01M74.3 86.9h.01M67.6 81.9h.01M62.9 66.5h.01M64.7 75.8h.01M78.6 87.0h.01M63.2 84.3h.01M58.9 82.4h.01M76.8 96.6h.01M63.6 85.8h.01M70.0 82.5h.01M79.5 105.3h.01M69.3 93.7h.01M60.8 84.9h.01M63.0 79.6h.01M77.5 97.7h.01M78.2 100.7h.01M65.4 88.5h.01M78.5 99.1h.01M69.2 101.2h.01M79.6 102.4h.01M57.3 74.8h.01M71.0 96.2h.01M80.3 100.8h.01M72.2 82.0h.01M65.0 71.6h.01M79.5 89.7h.01M59.2 66.7h.01M79.2 101.6h.01M73.0 82.0h.01M65.7 73.1h.01M78.4 89.7h.01M78.6 98.9h.01M75.3 84.1h.01M54.7 69.3h.01M74.1 82.3h.01M50.2 66.0h.01M53.0 74.9h.01M64.8 86.5h.01M79.9 96.0h.01M77.8 99.2h.01M55.1 63.9h.01M54.7 74.4h.01M79.7 103.1h.01M57.0 74.2h.01M68.6 78.7h.01M69.5 96.8h.01M79.6 103.3h.01M75.8 100.3h.01M62.2 70.9h.01M51.4 61.6h.01M58.2 83.5h.01M54.9 71.2h.01M75.3 90.2h.01M79.1 101.6h.01M61.8 69.2h.01M65.9 76.4h.01M71.8 99.1h.01M77.9 97.4h.01M57.6 80.6h.01M78.3 99.7h.01M60.6 69.0h.01M73.9 94.3h.01M69.2 92.9h.01M56.4 75.7h.01M74.0 99.6h.01M71.0 102.2h.01M66.3 89.8h.01M55.1 74.0h.01M61.1 86.8h.01M77.0 85.9h.01M57.4 66.4h.01M77.8 95.3h.01M77.3 104.7h.01M56.5 65.7h.01M77.0 91.8h.01M70.3 92.7h.01M65.8 74.5h.01M70.3 101.4h.01M79.7 94.2h.01M64.3 68.7h.01M70.9 100.6h.01M68.0 76.0h.01M71.6 80.0h.01M72.6 99.0h.01M79.8 104.3h.01M73.5 103.6h.01M72.8 103.5h.01M61.5 79.2h.01M71.8 102.5h.01M72.7 95.4h.01M69.7 76.4h.01M63.6 87.4h.01M64.4 89.4h.01M78.1 99.9h.01M69.3 98.2h.01M69.2 88.3h.01M77.1 111.9h.01M83.3 114.9h.01M75.3 112.0h.01M73.0 108.6h.01M72.6 104.8h.01M78.9 109.3h.01M78.0 103.1h.01M75.3 105.2h.01M78.4 111.2h.01M84.9 111.7h.01M84.7 115.1h.01M75.7 109.8h.01M75.3 105.2h.01M83.3 109.3h.01M73.2 105.2h.01M82.6 109.9h.01M80.8 114.5h.01M72.9 109.1h.01M79.8 102.0h.01M83.5 109.5h.01M86.8 116.0h.01M75.4 107.9h.01M78.8 109.8h.01M82.6 112.5h.01M75.1 109.0h.01M77.0 104.4h.01M82.1 106.8h.01M80.1 105.5h.01M80.0 113.0h.01M75.6 108.8h.01M76.6 108.6h.01M82.4 111.4h.01M83.1 113.6h.01M83.4 110.2h.01M80.3 103.3h.01M77.0 109.8h.01M81.1 109.2h.01M83.9 111.8h.01M83.1 113.3h.01M74.1 109.6h.01M120.3 190.9h.01M109.9 254.3h.01M54.5 279.3h.01M26.5 297.2h.01M120.8 220.6h.01M116.6 243.6h.01M15.5 312.8h.01M95.0 255.7h.01M121.5 209.4h.01M26.1 303.8h.01M6.9 320.6h.01M115.2 247.7h.01M63.3 273.6h.01M114.4 222.5h.01M84.8 259.2h.01M114.7 250.3h.01M77.5 262.4h.01M114.6 237.8h.01M86.7 259.1h.01M95.8 256.5h.01M113.5 233.7h.01M49.8 284.0h.01M41.0 287.6h.01M8.9 319.8h.01M112.4 178.1h.01M36.5 295.0h.01M89.4 260.0h.01M43.4 287.9h.01M62.3 272.3h.01M113.8 238.2h.01M62.0 275.1h.01M58.2 278.6h.01M113.3 238.9h.01M125.0 203.2h.01M9.8 318.3h.01M119.9 208.2h.01M47.0 286.2h.01M49.3 284.3h.01M107.7 158.4h.01M5.8 321.1h.01M10.6 316.7h.01M59.8 273.0h.01M120.4 202.5h.01M37.4 295.2h.01M108.9 252.3h.01M50.8 281.9h.01M121.0 215.8h.01M120.0 190.7h.01M117.3 191.5h.01M7.9 315.3h.01M116.1 189.8h.01M122.6 208.5h.01M121.9 207.6h.01M35.4 293.3h.01M78.3 264.2h.01M81.0 263.5h.01M9.0 318.2h.01M101.8 252.6h.01M85.8 260.7h.01M117.2 189.6h.01M13.9 309.5h.01M82.4 261.7h.01M49.6 280.0h.01M5.2 322.0h.01M85.5 259.3h.01M47.9 287.3h.01M115.7 187.0h.01M4.5 324.2h.01M53.4 275.5h.01M109.1 165.8h.01M114.8 244.7h.01M78.6 266.5h.01M119.0 224.3h.01M116.2 239.3h.01M83.1 261.3h.01M28.4 299.2h.01M115.1 176.3h.01M118.6 233.7h.01M38.1 291.6h.01M34.4 290.4h.01M122.1 210.8h.01M55.5 278.5h.01M120.5 214.7h.01M122.9 203.5h.01M105.5 158.1h.01M106.2 161.9h.01M8.9 319.0h.01M114.0 249.3h.01M102.0 251.0h.01M102.8 159.1h.01M88.2 256.5h.01M74.0 266.3h.01M114.7 229.5h.01M54.6 278.9h.01M122.7 206.4h.01M118.6 218.9h.01M111.2 246.0h.01M91.4 258.4h.01M114.5 176.6h.01M79.9 265.5h.01M64.1 270.4h.01M115.9 183.4h.01M116.9 186.8h.01M111.7 250.3h.01M123.1 204.6h.01M74.3 265.7h.01M121.4 203.7h.01M29.4 299.5h.01M69.4 265.5h.01M86.2 258.1h.01M82.0 262.7h.01M111.5 252.5h.01M79.6 265.2h.01M121.6 202.3h.01M54.7 278.3h.01M49.1 282.4h.01M62.1 271.2h.01M118.5 213.8h.01M15.3 311.7h.01M14.9 311.3h.01M87.6 259.8h.01M59.5 276.2h.01M32.9 296.2h.01M31.8 297.5h.01M120.1 195.1h.01M14.5 315.0h.01M41.6 286.6h.01M117.7 186.7h.01M37.5 292.7h.01M99.0 252.8h.01M98.7 254.5h.01M42.3 286.0h.01M88.0 259.6h.01M54.5 276.1h.01M3.4 322.0h.01M114.7 178.1h.01M62.3 274.2h.01M29.2 295.4h.01M72.9 265.2h.01M33.4 292.9h.01M91.8 258.3h.01M5.7 320.0h.01M110.7 164.3h.01M107.9 167.8h.01M42.9 285.5h.01M89.3 260.4h.01M115.5 231.4h.01M13.5 311.5h.01M101.9 256.4h.01M113.1 245.7h.01M53.0 280.3h.01M107.4 252.2h.01M114.0 247.1h.01M64.5 272.8h.01M70.2 268.7h.01M113.3 248.2h.01M9.4 317.5h.01M115.1 230.9h.01M109.2 251.7h.01M119.4 222.2h.01M86.6 258.9h.01M78.5 261.9h.01M117.6 216.1h.01M115.6 179.9h.01M113.8 169.5h.01M109.1 251.8h.01M48.9 283.1h.01M121.0 205.0h.01M22.7 305.4h.01M107.3 164.3h.01M6.3 0.1h.01M12.4 0.2h.01M10.8 0.9h.01M5.9 1.8h.01M12.4 6.1h.01M13.9 -2.0h.01M8.4 3.6h.01M5.3 0.8h.01M10.7 7.0h.01M15.0 1.3h.01M1.6 8.6h.01M1.6 7.0h.01M1.8 10.5h.01M2.8 5.1h.01M2.9 11.0h.01" stroke="#000" stroke-width="2.0" stroke-linecap="round" fill="none"/>
<path d="M77.6 119.6h.01M73.0 114.4h.01M82.9 110.9h.01M86.6 92.1h.01M80.7 109.2h.01M77.8 98.2h.01M73.7 119.7h.01M80.5 101.8h.01M79.5 114.0h.01M75.3 107.8h.01M81.9 118.0h.01M78.1 119.9h.01M82.8 116.9h.01M82.0 106.7h.01M78.8 120.4h.01M86.0 108.1h.01M76.4 111.7h.01M82.8 110.4h.01M80.7 112.8h.01M81.3 105.8h.01M82.3 104.4h.01M81.8 105.9h.01M74.8 111.8h.01M72.5 101.4h.01M70.7 102.7h.01M75.7 111.1h.01M83.5 111.1h.01M81.7 108.3h.01M76.1 105.8h.01M73.4 108.5h.01M74.0 113.1h.01M76.5 116.4h.01M79.5 100.8h.01M77.6 114.0h.01M74.2 99.8h.01M77.9 103.9h.01M76.8 116.4h.01M74.1 113.1h.01M67.3 103.9h.01M76.7 108.9h.01M78.1 113.8h.01M97.6 131.4h.01M106.3 135.1h.01M94.0 139.3h.01M97.8 141.4h.01M95.7 136.8h.01M102.0 147.8h.01M97.3 139.5h.01M99.6 140.3h.01M92.7 143.2h.01M99.2 140.4h.01M96.6 142.0h.01M98.0 147.7h.01M93.1 143.4h.01M99.0 140.8h.01M104.0 123.4h.01M99.1 133.3h.01M96.5 135.5h.01M104.1 139.2h.01M96.3 139.5h.01M92.2 136.4h.01M94.2 140.1h.01M100.2 133.0h.01M98.8 144.0h.01M98.6 132.0h.01M94.4 137.6h.01M87.4 129.4h.01M101.8 148.5h.01M94.4 137.5h.01M96.6 137.0h.01M103.4 140.5h.01M109.1 173.0h.01M113.0 173.8h.01M106.0 179.8h.01M104.7 166.1h.01M109.8 178.5h.01M98.5 163.5h.01M107.2 171.1h.01M59.6 35.2h.01M75.1 62.5h.01M69.5 58.5h.01M65.7 48.8h.01M71.8 75.3h.01M71.5 61.5h.01M76.1 53.5h.01M76.3 79.4h.01M74.0 51.6h.01M67.7 50.9h.01M66.1 65.9h.01M69.6 65.4h.01M66.5 50.2h.01M62.4 67.0h.01M66.7 56.2h.01M63.2 46.2h.01M69.1 59.4h.01M72.8 77.0h.01M70.5 55.8h.01M77.7 85.0h.01M74.5 75.5h.01M61.3 49.5h.01M69.8 55.5h.01M71.0 44.3h.01M74.8 66.9h.01M62.8 66.6h.01M70.1 54.1h.01M72.7 72.6h.01M70.0 63.9h.01M68.7 55.9h.01M64.3 36.5h.01M77.6 67.0h.01M70.9 60.7h.01M72.8 60.5h.01M66.3 64.9h.01M73.3 77.2h.01M75.6 68.6h.01M68.5 55.7h.01M60.1 28.6h.01M84.3 107.8h.01M80.8 95.6h.01M85.5 103.6h.01M82.7 111.7h.01M79.4 105.7h.01M83.6 95.5h.01M79.0 102.2h.01M80.1 105.4h.01M88.3 103.5h.01M79.7 92.3h.01M79.3 105.2h.01M80.7 96.7h.01M76.2 84.7h.01M79.9 101.8h.01M76.0 101.4h.01M53.3 256.5h.01M57.0 263.9h.01M56.8 265.8h.01M67.3 259.2h.01M65.7 273.6h.01M63.3 268.3h.01M59.1 262.6h.01M63.4 266.0h.01M25.0 292.7h.01M28.1 285.8h.01M57.8 298.8h.01M26.3 293.2h.01M36.3 285.1h.01M32.6 283.6h.01M45.6 295.4h.01M30.1 289.1h.01M46.5 280.4h.01M59.8 290.5h.01M46.4 284.4h.01M40.5 293.3h.01M45.8 293.9h.01M20.5 289.4h.01M35.4 286.9h.01M35.6 280.9h.01M17.4 283.8h.01M25.7 291.3h.01M29.2 293.1h.01M33.3 287.3h.01M30.0 294.2h.01M3.7 303.4h.01M20.2 290.7h.01M12.0 299.0h.01M23.6 295.3h.01M15.9 293.1h.01M15.4 300.2h.01M18.3 304.2h.01M13.0 298.5h.01M32.7 312.7h.01M14.3 304.3h.01M17.7 292.8h.01M14.8 302.3h.01M24.6 292.2h.01M16.7 312.5h.01M22.7 288.3h.01M7.4 301.0h.01M9.7 302.1h.01M30.5 297.6h.01M37.3 298.5h.01M14.3 283.6h.01M23.0 287.1h.01M28.7 287.0h.01M18.5 294.7h.01M31.5 303.0h.01M31.1 292.3h.01M19.3 290.5h.01M10.6 287.6h.01M15.2 309.6h.01M17.5 289.9h.01M18.4 292.0h.01M29.6 290.2h.01M12.1 304.2h.01M16.6 296.9h.01M15.6 295.9h.01M21.7 287.3h.01M19.1 290.0h.01M11.7 284.1h.01M17.5 292.9h.01M16.6 288.1h.01M17.6 298.9h.01M17.3 283.2h.01M9.5 282.3h.01M19.5 285.9h.01M14.3 284.0h.01M19.8 283.7h.01M6.6 297.0h.01M17.0 287.4h.01M9.9 285.9h.01M11.7 292.2h.01M20.9 283.1h.01M6.8 293.4h.01M13.1 285.9h.01M15.0 289.3h.01M11.9 289.2h.01M10.4 276.6h.01M21.8 293.8h.01M22.5 277.5h.01M14.2 282.8h.01M19.2 290.1h.01M17.3 286.3h.01M34.4 55.3h.01M11.5 54.9h.01M40.2 112.5h.01M26.3 22.1h.01M16.9 97.7h.01M49.2 37.0h.01M28.1 69.4h.01M29.5 63.9h.01M23.8 54.5h.01M14.0 63.7h.01M24.5 54.5h.01M19.5 15.4h.01M21.5 77.5h.01M24.4 44.7h.01M18.4 61.9h.01M13.8 53.6h.01M44.0 55.0h.01M46.9 58.4h.01M30.3 44.2h.01M22.0 52.4h.01M9.4 93.1h.01M32.3 58.6h.01M12.8 60.6h.01M13.3 43.5h.01M23.3 97.0h.01M5.3 69.6h.01M19.1 10.4h.01M9.1 57.7h.01M26.2 47.1h.01M41.1 157.2h.01M13.1 128.1h.01M1.6 124.0h.01M1.5 140.3h.01M26.8 152.9h.01M42.5 162.8h.01M42.6 162.8h.01M22.0 171.8h.01M20.8 167.3h.01M17.4 167.3h.01M18.8 156.9h.01M12.3 156.1h.01M14.9 120.5h.01M6.6 166.6h.01M1.5 189.1h.01M19.0 153.6h.01M35.0 150.4h.01M10.4 157.2h.01M25.6 166.3h.01M19.2 165.9h.01M23.6 170.5h.01M6.8 160.3h.01M8.0 159.1h.01M49.0 170.5h.01M48.8 205.7h.01M66.7 190.4h.01M63.8 185.8h.01M35.0 204.5h.01M54.3 189.6h.01M52.1 195.5h.01M60.6 181.2h.01M23.2 204.6h.01M57.5 200.8h.01M47.3 203.1h.01M74.8 191.6h.01M68.1 198.0h.01M58.2 201.6h.01M80.9 207.0h.01M62.6 214.7h.01M69.0 195.1h.01M81.8 200.6h.01M57.5 192.8h.01M85.2 187.7h.01M84.0 189.8h.01M39.2 193.7h.01M53.8 210.4h.01M76.8 201.0h.01M77.4 202.5h.01M49.2 198.4h.01M61.5 199.0h.01M56.7 209.5h.01M59.7 186.5h.01M68.1 190.5h.01M70.8 211.0h.01M62.0 208.6h.01M44.9 198.0h.01M39.3 202.4h.01M26.2 201.4h.01M44.6 208.5h.01M23.0 193.4h.01M20.0 209.0h.01M36.0 194.2h.01M23.9 195.0h.01M33.3 202.2h.01M16.8 189.9h.01M40.5 183.9h.01M3.9 164.7h.01M49.1 193.8h.01M35.3 206.5h.01M35.1 213.1h.01M19.7 199.8h.01M36.8 206.4h.01M16.3 191.3h.01M8.2 203.0h.01M19.0 182.2h.01M18.7 203.7h.01M27.4 197.5h.01M27.1 207.5h.01M11.1 190.7h.01M36.7 208.5h.01M8.7 191.7h.01M42.3 208.7h.01M74.0 214.4h.01M81.1 161.0h.01M78.7 162.2h.01M81.2 206.2h.01M86.8 216.3h.01M73.2 194.7h.01M77.2 113.8h.01M82.4 194.9h.01M81.0 187.1h.01M74.7 191.3h.01M67.3 199.2h.01M67.0 213.3h.01M92.0 157.7h.01M81.9 190.8h.01M65.8 212.3h.01M78.2 129.7h.01M79.6 198.0h.01M81.4 189.1h.01M83.8 181.7h.01M82.8 163.7h.01M60.5 170.9h.01M80.7 199.8h.01M60.2 193.6h.01M80.4 230.0h.01M59.6 183.1h.01M72.2 167.0h.01M67.1 186.7h.01M79.7 174.7h.01M79.5 154.5h.01M80.5 185.7h.01M77.6 187.0h.01M82.0 189.8h.01M76.9 188.2h.01M70.8 183.6h.01M59.1 199.4h.01M74.6 146.9h.01M80.2 148.8h.01M58.7 177.2h.01M80.3 200.2h.01M40.3 115.5h.01M49.3 109.9h.01M43.6 120.0h.01M44.2 128.7h.01M28.6 119.1h.01M54.9 113.2h.01M51.0 103.6h.01M58.5 114.5h.01M36.0 100.7h.01M46.9 126.6h.01M51.0 122.5h.01M59.6 113.6h.01M48.8 125.7h.01M69.8 101.4h.01M59.7 118.7h.01M47.4 113.7h.01M42.8 118.7h.01M37.6 121.4h.01M21.2 129.8h.01M46.2 109.9h.01M46.5 114.5h.01M44.4 121.4h.01M36.2 118.9h.01M42.3 108.8h.01" stroke="#000" stroke-width="1.8" stroke-linecap="round" fill="none"/>
</g>
<g id="coasttop"><polyline points="104.6,156.2 106.2,158.8 108.8,162.2 111.3,168.1 113.9,174.1 116.0,180.8 118.1,186.8 119.8,192.7 121.1,198.7 122.1,205.7 121.5,202.8 120.7,208.7 119.5,214.7 118.5,220.6 117.3,226.5 115.9,232.5 114.6,238.4 113.9,244.4 113.7,249.5 113.9,252.0 108.8,252.0 105.4,252.4" fill="none" stroke="#000" stroke-width="1.4" stroke-linejoin="round"/><polyline points="105.4,252.4 99.5,254.4 92.7,257.3 84.2,260.9 75.7,264.9 67.2,268.8 62.6,272.2 56.2,277.5 49.4,282.5 42.6,287.8 35.8,293.2 29.0,298.7 23.1,303.8 20.6,305.7 17.2,310.0 12.1,314.7 7.8,318.9 3.6,324.0 0.2,329.1 -1.2,333.8" fill="none" stroke="#000" stroke-width="1.9" stroke-linejoin="round"/><polyline points="58.3,10.3 60.0,12.7 61.7,18.6 63.4,25.4 65.1,33.0 67.2,41.5 69.3,49.2 71.5,56.8 73.6,65.3 75.7,73.8 77.8,82.2 79.9,90.7 82.5,103.7 83.3,103.6 85.9,110.4 88.4,116.4 91.0,122.3 93.9,128.7 96.9,135.0 100.3,141.8 103.7,148.6 105.4,152.9 104.6,156.2" fill="none" stroke="#000" stroke-width="1.1"/></g>
<g id="grid">
<line x1="58.0" y1="0" x2="58.0" y2="427.1" stroke="#c8c8c8" stroke-width="1" stroke-dasharray="2.2 5.6"/>
<line x1="116.0" y1="0" x2="116.0" y2="427.1" stroke="#c8c8c8" stroke-width="1" stroke-dasharray="2.2 5.6"/>
<line x1="174.0" y1="0" x2="174.0" y2="427.1" stroke="#c8c8c8" stroke-width="1" stroke-dasharray="2.2 5.6"/>
<line x1="232.0" y1="0" x2="232.0" y2="427.1" stroke="#c8c8c8" stroke-width="1" stroke-dasharray="2.2 5.6"/>
<line x1="290.0" y1="0" x2="290.0" y2="427.1" stroke="#c8c8c8" stroke-width="1" stroke-dasharray="2.2 5.6"/>
<line x1="0" y1="72.3" x2="348.0" y2="72.3" stroke="#c8c8c8" stroke-width="1" stroke-dasharray="2.2 5.6"/>
<line x1="0" y1="144.2" x2="348.0" y2="144.2" stroke="#c8c8c8" stroke-width="1" stroke-dasharray="2.2 5.6"/>
<line x1="0" y1="215.5" x2="348.0" y2="215.5" stroke="#c8c8c8" stroke-width="1" stroke-dasharray="2.2 5.6"/>
<line x1="0" y1="286.5" x2="348.0" y2="286.5" stroke="#c8c8c8" stroke-width="1" stroke-dasharray="2.2 5.6"/>
<line x1="0" y1="357.0" x2="348.0" y2="357.0" stroke="#c8c8c8" stroke-width="1" stroke-dasharray="2.2 5.6"/>
</g>
<g id="frame">
<rect x="0" y="0" width="348.0" height="427.1" fill="none" stroke="#303030" stroke-width="1.1"/>
<path d="M58.0 0v4M58.0 427.1v-4M116.0 0v4M116.0 427.1v-4M174.0 0v4M174.0 427.1v-4M232.0 0v4M232.0 427.1v-4M290.0 0v4M290.0 427.1v-4M0 72.3h4M348.0 72.3h-4M0 144.2h4M348.0 144.2h-4M0 215.5h4M348.0 215.5h-4M0 286.5h4M348.0 286.5h-4M0 357.0h4M348.0 357.0h-4" stroke="#303030" stroke-width="1" fill="none"/>
</g>
<g id="star" stroke="#f00" stroke-width="1" fill="none"><path d="M-8 0h16M0 -8v16M-5.7 -5.7l11.4 11.4M-5.7 5.7l11.4 -11.4"/></g>
</defs>
<g transform="translate(75.05,142.60)">
<g clip-path="url(#clip)">
<use href="#land"/><use href="#grid"/>

<polyline points="215.3,-1.0 214.8,5.0 214.2,11.0 213.8,17.1 212.7,23.1 212.4,29.1 210.1,35.1 209.6,41.3 209.2,47.5 207.5,53.8 206.7,60.0 203.5,68.7 202.3,77.4 200.7,83.3 200.0,89.2 198.8,95.2 196.5,101.1 195.6,107.0 194.9,114.4 195.1,121.8 194.0,129.3 192.1,136.7 192.5,144.1 190.5,151.5 190.7,158.9 189.0,166.3 190.5,174.2 193.7,182.0 194.0,189.0 195.6,196.0 195.9,201.5 194.7,207.0 191.5,212.1 190.5,217.1 186.1,223.4 182.6,229.8 178.1,236.2 175.7,242.5 170.5,247.8 166.2,253.1 161.3,258.4 155.4,263.7 151.7,268.6 147.4,273.6 143.5,278.5 139.5,283.4 136.0,288.4 132.7,293.3 127.4,298.4 124.4,303.5 119.5,308.5 115.3,313.6 112.0,318.7 107.1,324.0 102.6,329.3 98.6,334.6 94.8,339.9 89.4,345.5 86.8,351.2 80.8,356.8 77.9,362.1 73.9,367.4 68.2,372.7 65.3,378.0 60.3,383.3 56.5,388.6 51.2,393.9 47.1,399.2 43.1,404.0 40.3,408.8 34.7,413.6 31.4,418.4 27.5,423.2 22.5,428.0" fill="none" stroke="#000" stroke-width="1.15"/><text transform="translate(211,73) rotate(-80)" style="font-size:15px">-100</text><text transform="translate(148,293) rotate(-52)" style="font-size:15px">-100</text>
</g>
<use href="#frame"/>
<path fill="#0000b7" d="M123.3 235.8L126.4 236.4L125.8 233.3z"/><path fill="#0000c7" d="M278.6 28.2L279.5 25.2L276.4 25.4z"/><path fill="#0000d7" d="M276.4 42.2L279.5 42.4L278.6 39.5zM126.0 229.9L126.3 226.8L123.2 227.7zM269.2 27.5L272.1 26.3L270.0 24.0zM285.9 43.8L287.3 41.0L284.2 40.8z"/><path fill="#0000e7" d="M277.2 35.6L279.8 33.8L277.2 32.0zM261.3 27.0L264.4 26.6L262.8 23.8zM238.4 27.3L241.5 26.4L239.5 23.9zM268.6 33.6L271.6 35.0L271.8 31.7zM253.7 27.4L256.9 26.4L254.7 23.8zM245.9 27.1L249.1 26.6L247.5 23.7zM153.7 250.3L156.7 252.1L157.2 248.7zM276.3 50.6L279.8 50.1L278.1 47.0zM153.7 259.2L157.2 259.4L156.1 256.0z"/><path fill="#0000f7" d="M254.2 121.7L257.0 119.5L254.0 117.6zM145.9 266.8L149.6 267.1L148.5 263.6zM237.7 127.9L241.4 128.4L240.5 124.7zM246.3 129.4L249.5 127.4L246.4 125.2zM238.0 144.3L241.7 143.4L239.5 140.3zM192.0 35.0L195.7 34.5L193.9 31.2zM154.3 28.0L157.6 26.1L154.6 23.8zM145.7 258.6L149.4 259.7L149.1 255.9zM138.1 250.2L141.4 252.3L142.1 248.5zM199.4 34.8L203.3 34.7L201.8 31.1zM169.2 35.6L173.0 34.3L170.4 31.2zM161.1 35.0L165.2 34.6L163.4 31.0zM222.2 149.9L225.6 152.1L226.4 148.1z"/><path fill="#0008ff" d="M246.7 145.4L249.6 142.5L245.8 140.9zM286.7 36.6L287.3 32.6L283.3 33.5zM245.5 121.1L249.5 120.2L247.1 116.8zM237.4 135.7L241.5 136.2L240.5 132.2zM176.2 49.9L180.2 50.7L179.4 46.6zM245.3 113.1L249.4 112.6L247.4 109.0zM145.5 250.5L149.3 252.3L149.5 248.1zM253.7 114.1L257.3 111.9L253.9 109.3zM237.2 119.7L241.4 121.0L241.0 116.6zM191.4 56.2L194.8 59.0L196.2 54.8zM191.7 79.1L194.5 82.5L196.6 78.6zM286.6 29.0L287.5 24.7L283.1 25.5zM168.5 244.4L173.0 244.0L171.0 240.0zM183.6 64.7L187.6 66.7L187.9 62.2zM244.9 97.1L249.4 97.4L248.0 93.1zM244.8 104.7L249.3 105.2L248.2 100.9zM183.6 50.0L188.0 50.7L187.0 46.3zM229.8 27.5L234.3 26.8L232.0 22.9zM183.5 72.5L187.6 74.5L187.9 70.0zM263.7 21.3L264.5 16.8L260.1 17.7zM176.0 42.7L180.6 42.7L178.9 38.5zM252.6 97.3L257.1 97.3L255.5 93.1zM198.8 41.5L203.0 43.2L203.1 38.7zM237.8 152.6L242.1 151.0L239.0 147.7zM193.4 29.0L196.1 25.4L191.7 24.2zM160.6 251.5L165.1 252.1L164.0 247.6zM267.8 41.0L271.6 43.4L272.4 38.9zM161.6 260.8L165.6 258.7L162.1 255.7z"/><path fill="#0018ff" d="M222.4 28.0L226.8 26.5L223.8 23.0zM130.0 249.8L133.7 252.6L135.0 248.2zM152.8 242.7L157.0 244.8L157.4 240.2zM201.5 29.2L203.7 25.1L199.0 24.6zM130.1 241.8L133.5 245.0L135.2 240.7zM238.8 161.3L242.1 158.0L237.9 156.1zM162.2 28.9L165.6 25.7L161.4 23.7zM122.3 242.2L126.1 245.0L127.3 240.5zM160.5 244.1L165.3 244.3L163.7 239.8zM145.6 27.8L150.2 26.7L147.5 22.8zM229.5 159.7L234.3 159.3L232.2 155.0zM236.9 103.6L241.2 105.8L241.7 101.0zM183.3 56.9L187.7 59.0L188.0 54.2zM221.7 126.5L225.7 129.2L226.7 124.4zM208.4 29.1L211.6 25.5L207.0 23.9zM236.9 112.3L241.7 113.2L240.7 108.4zM175.7 56.8L180.0 59.0L180.5 54.2zM190.9 42.0L195.7 43.1L195.0 38.3zM145.1 242.5L149.3 244.9L150.0 240.1zM198.8 87.2L202.5 90.4L204.1 85.8zM184.1 36.0L188.6 34.3L185.3 30.7zM168.0 49.4L172.5 51.1L172.4 46.2zM246.4 138.1L249.9 134.8L245.5 132.7zM177.8 29.2L181.0 25.4L176.3 23.9zM229.9 168.2L234.5 166.6L231.4 162.8zM137.3 242.7L141.8 244.9L142.2 240.0zM229.1 142.5L233.7 144.6L233.9 139.6zM152.6 235.7L157.4 237.0L156.9 232.1zM198.8 79.2L202.4 82.7L204.3 78.1zM183.2 42.2L188.1 43.1L187.2 38.2zM137.4 257.5L141.5 260.4L142.7 255.6zM229.1 127.1L233.7 129.1L233.8 124.0zM221.5 159.0L226.5 159.7L225.3 154.8zM114.4 249.9L118.6 252.8L119.7 247.8zM256.6 21.5L256.8 16.5L252.0 18.2zM276.1 59.9L280.6 57.5L276.7 54.2zM152.8 35.2L157.9 34.9L155.7 30.3zM137.6 27.7L142.6 26.9L140.1 22.5z"/><path fill="#0028ff" d="M221.8 86.8L225.2 90.6L227.5 86.0zM129.6 226.8L133.8 229.8L135.1 224.8zM252.6 106.0L257.6 104.8L254.6 100.6zM169.8 29.3L173.5 25.6L168.7 23.6zM206.2 35.0L211.4 35.0L209.5 30.2zM183.1 79.9L187.5 82.6L188.5 77.5zM229.1 151.7L234.3 151.9L232.6 147.0zM175.6 79.4L179.6 82.8L181.3 77.8zM175.5 95.2L179.8 98.3L181.0 93.2zM221.3 119.0L225.9 121.5L226.6 116.3zM221.5 95.0L225.5 98.3L227.2 93.4zM229.0 135.5L234.1 136.7L233.2 131.5zM167.9 63.7L171.9 67.2L173.7 62.2zM213.6 34.3L218.8 35.4L217.9 30.2zM285.3 53.0L288.2 48.6L283.0 47.6zM198.6 55.8L202.4 59.4L204.4 54.5zM263.3 123.3L264.9 118.2L259.7 118.6zM146.6 21.4L150.6 17.9L145.9 15.4zM190.7 48.9L195.3 51.4L196.0 46.1zM279.7 21.7L279.8 16.3L274.8 18.3zM251.9 33.1L256.5 35.8L257.3 30.6zM185.7 29.6L188.7 25.2L183.5 24.0zM153.5 268.8L158.2 266.4L154.3 262.9zM236.5 96.6L241.7 97.9L241.0 92.6zM167.6 57.4L172.7 59.0L172.3 53.7zM129.4 258.9L134.6 260.1L133.8 254.8zM215.4 29.2L219.5 25.7L214.7 23.2zM228.9 88.1L233.7 90.4L234.1 85.0zM167.9 79.2L171.9 82.8L173.8 77.8zM261.7 99.7L265.4 95.7L260.3 93.8zM91.3 94.9L95.4 98.4L97.1 93.3zM160.0 64.4L164.7 67.1L165.5 61.7zM252.3 90.5L257.7 89.3L254.6 84.8zM129.3 219.9L134.4 221.9L134.4 216.5zM198.3 71.8L202.7 75.0L204.1 69.7zM228.9 111.0L233.5 113.9L234.5 108.5zM175.2 64.7L180.2 67.0L180.5 61.6zM175.7 35.7L181.1 34.7L178.2 30.1zM228.7 104.0L233.9 105.9L233.8 100.4zM221.1 111.9L226.3 113.6L226.0 108.1zM206.2 94.4L210.0 98.5L212.4 93.5zM259.4 33.1L264.2 35.9L265.0 30.4zM213.7 94.9L217.9 98.5L219.7 93.2zM175.4 71.4L179.5 75.1L181.5 69.9zM167.5 42.2L173.0 43.3L172.0 37.8zM213.6 79.4L217.9 82.9L219.6 77.6zM206.1 86.9L210.1 90.7L212.2 85.5zM190.6 71.7L195.0 75.1L196.6 69.7z"/><path fill="#0038ff" d="M159.8 236.1L165.4 237.1L164.3 231.5zM221.0 166.7L226.6 167.7L225.5 162.1zM182.8 87.6L187.6 90.6L188.6 85.0zM190.4 103.4L195.4 106.1L196.1 100.5zM136.8 266.7L142.4 267.8L141.4 262.2zM190.7 63.4L194.8 67.4L197.0 62.2zM260.7 91.6L265.6 88.6L261.0 85.2zM243.9 88.5L249.3 90.3L249.0 84.6zM221.0 134.6L226.1 137.2L226.6 131.5zM271.3 22.1L272.6 16.6L266.9 17.4zM144.4 235.2L149.7 237.4L149.8 231.7zM221.3 71.1L225.4 75.2L227.7 70.0zM129.4 233.7L133.6 237.8L135.8 232.5zM251.5 81.1L257.2 82.4L256.4 76.7zM121.6 249.7L126.3 253.1L127.7 247.5zM236.2 80.3L241.5 82.7L241.8 76.9zM213.4 87.4L218.1 90.7L219.5 85.1zM236.2 88.4L241.7 90.4L241.5 84.6zM221.0 141.8L225.8 145.1L227.1 139.4zM198.0 48.4L202.9 51.7L204.2 46.0zM152.0 49.9L157.7 51.3L156.9 45.5zM262.0 115.7L265.5 111.0L259.8 109.5zM145.6 276.8L150.8 274.1L146.4 270.2zM121.4 266.5L127.0 268.0L126.3 262.2zM228.9 78.9L233.1 83.1L235.4 77.7zM198.1 63.7L202.7 67.4L204.5 61.8zM220.9 34.7L226.8 35.5L225.4 29.7zM182.5 111.4L188.0 113.9L188.2 107.9zM125.0 208.8L127.6 203.4L121.6 203.0zM266.8 50.6L272.8 51.0L271.0 45.3zM159.6 42.5L165.6 43.3L164.1 37.5zM137.6 21.0L143.2 18.7L139.0 14.3zM205.5 103.5L210.8 106.2L211.4 100.2zM213.1 119.3L218.6 121.7L218.8 115.6zM175.0 87.3L179.9 90.8L181.4 85.0zM240.1 22.4L242.3 16.7L236.3 16.8zM213.2 102.9L218.2 106.4L219.6 100.5zM267.7 67.8L273.3 65.6L269.2 61.2zM213.4 63.3L217.8 67.5L220.1 61.9zM121.2 258.7L127.0 260.4L126.5 254.4zM254.9 139.3L257.8 133.9L251.7 133.2z"/><path fill="#0048ff" d="M205.3 41.8L211.2 43.6L210.8 37.5zM253.5 131.1L258.1 127.0L252.5 124.3zM262.1 108.2L265.6 103.1L259.6 101.7zM154.8 22.3L158.5 17.3L152.5 15.7zM205.6 79.1L210.3 83.1L212.3 77.3zM213.4 141.0L217.8 145.4L220.3 139.7zM137.0 276.1L143.1 274.8L139.7 269.6zM136.4 227.0L141.9 230.1L142.8 223.9zM205.8 63.0L210.0 67.6L212.7 62.0zM144.0 220.3L150.0 222.1L149.5 215.8zM190.0 111.5L195.7 114.0L195.9 107.7zM205.4 110.6L210.5 114.2L212.0 108.1zM243.6 81.4L249.8 82.5L248.5 76.3zM228.2 119.6L234.2 121.6L233.8 115.3zM128.7 266.3L134.7 268.2L134.3 261.9zM248.2 22.6L249.9 16.4L243.6 17.2zM220.7 40.4L225.9 44.1L227.4 37.9zM228.2 95.4L233.7 98.6L234.7 92.3zM98.3 94.8L103.2 98.8L105.1 92.7zM182.2 103.8L188.1 106.2L188.3 99.9zM238.2 170.1L242.9 165.6L237.0 163.0zM220.7 102.5L225.7 106.6L227.6 100.4zM205.6 71.0L210.2 75.5L212.6 69.6zM167.1 94.7L172.1 98.8L174.1 92.7zM243.6 32.4L248.7 36.4L250.5 30.2zM205.3 55.9L210.5 59.8L212.2 53.6zM151.7 43.0L158.2 43.2L156.0 37.1zM167.0 87.1L172.3 91.0L173.9 84.7zM136.2 219.8L142.2 222.3L142.4 215.8zM113.3 257.8L119.0 260.9L119.8 254.4zM189.9 87.3L195.3 91.0L196.7 84.6zM212.8 149.6L218.4 153.1L219.6 146.7zM212.9 126.0L218.2 129.9L219.8 123.6zM220.8 63.1L225.4 67.7L228.1 61.8zM136.4 234.3L141.7 238.0L143.2 231.6zM266.7 59.2L273.2 58.6L270.3 52.7zM159.6 78.7L164.2 83.3L166.8 77.4zM159.2 95.6L165.0 98.6L165.6 92.1zM105.8 110.4L111.0 114.4L112.8 108.1zM251.0 73.6L257.5 74.8L256.2 68.4zM113.2 266.7L119.6 268.1L118.6 261.7zM159.2 50.0L165.6 51.4L164.5 45.0zM295.7 38.0L295.2 31.5L289.3 34.4zM197.4 111.5L203.5 114.1L203.6 107.5z"/><path fill="#0058ff" d="M159.2 56.3L164.8 59.8L166.0 53.3zM97.9 110.8L103.6 114.3L104.8 107.8zM213.0 156.6L218.0 161.0L220.2 154.7zM220.6 78.9L225.6 83.3L227.9 77.1zM90.2 72.2L96.1 75.3L96.9 68.7zM151.4 227.8L157.7 230.0L157.4 223.3zM82.5 72.8L88.8 75.1L88.7 68.5zM174.5 103.0L180.1 106.6L181.3 100.0zM82.5 65.3L88.9 67.2L88.4 60.6zM189.7 118.8L195.6 122.0L196.4 115.4zM98.0 79.4L103.4 83.3L105.0 76.8zM232.8 22.8L234.7 16.4L228.0 17.0zM229.6 177.4L235.4 174.0L230.1 169.8zM151.4 72.3L157.4 75.3L158.0 68.6zM166.7 236.3L173.4 237.3L171.9 230.8zM213.0 70.8L217.8 75.6L220.5 69.5zM212.8 110.2L218.1 114.5L220.2 108.1zM235.5 33.2L241.6 36.3L242.2 29.5zM159.0 103.5L165.1 106.5L165.6 99.7zM90.1 87.8L96.2 90.9L96.8 84.2zM212.6 134.1L218.5 137.6L219.6 130.9zM189.7 95.1L195.4 98.9L196.8 92.2zM166.7 71.9L172.5 75.5L173.7 68.7zM82.4 50.0L89.1 51.5L88.1 44.8zM151.5 63.6L157.0 67.8L158.8 61.2zM197.4 94.9L202.9 98.9L204.7 92.3zM258.6 40.2L264.1 44.3L265.9 37.7zM113.5 101.9L118.3 106.8L121.1 100.5zM90.0 64.8L96.4 67.5L96.5 60.6zM158.9 119.2L165.2 122.0L165.5 115.1zM227.7 33.8L234.3 36.1L234.0 29.2zM121.3 276.3L128.1 274.9L124.3 269.1zM120.7 118.5L126.6 122.2L127.9 115.4zM213.0 55.1L217.8 60.1L220.7 53.8zM287.5 22.8L287.9 15.9L281.3 18.0zM166.5 111.9L173.1 114.1L172.7 107.1zM258.6 74.5L265.6 74.5L263.0 68.0zM158.9 227.1L165.1 230.3L165.7 223.3zM90.1 79.6L96.0 83.3L97.2 76.4zM158.8 127.1L165.3 129.7L165.4 122.8zM197.2 118.5L203.1 122.2L204.4 115.3zM169.4 255.3L174.2 250.2L167.6 247.6zM220.8 176.4L227.6 174.8L223.7 169.1zM174.2 134.3L180.3 137.7L181.2 130.7zM204.8 48.8L211.0 52.0L211.7 45.0zM268.1 77.0L273.8 72.8L267.8 69.0zM120.5 126.8L126.9 129.8L127.4 122.8zM113.2 110.0L118.5 114.6L120.9 108.0zM227.9 40.1L233.5 44.4L235.5 37.6zM143.6 35.2L150.7 35.6L148.5 28.9zM126.7 217.2L127.3 210.1L120.5 212.2zM105.2 118.9L111.5 122.1L112.2 115.1zM143.5 227.1L149.8 230.3L150.5 223.3zM143.6 42.8L150.7 43.5L148.7 36.7zM181.8 95.4L188.0 98.9L188.9 91.8z"/><path fill="#0068ff" d="M74.5 34.1L81.4 36.1L80.8 29.0zM120.5 134.8L127.0 137.6L127.2 130.4zM212.5 40.4L218.4 44.4L220.0 37.4zM151.1 212.7L158.0 214.6L157.2 207.5zM159.1 86.6L164.4 91.3L166.9 84.6zM269.9 101.2L273.5 95.0L266.4 93.9zM159.0 71.1L164.5 75.7L166.8 68.9zM143.4 118.7L149.7 122.2L150.7 115.1zM243.1 55.9L248.9 60.1L250.7 53.1zM204.8 118.0L210.6 122.4L212.5 115.4zM166.3 127.1L173.0 129.8L173.1 122.6zM228.0 63.0L233.2 68.0L235.9 61.3zM258.2 48.7L264.6 52.1L265.4 44.9zM166.3 228.0L173.3 230.1L172.6 222.9zM143.3 127.1L150.1 129.8L150.1 122.6zM151.1 102.9L157.2 106.8L158.6 99.6zM189.3 126.5L195.7 130.0L196.6 122.8zM143.3 56.8L150.0 59.8L150.3 52.6zM250.5 56.9L257.2 59.8L257.4 52.5zM105.1 134.1L111.4 137.8L112.6 130.6zM258.9 83.4L266.0 81.8L261.9 75.7zM143.4 110.6L149.5 114.6L151.1 107.4zM197.0 102.8L203.1 106.8L204.6 99.7zM268.4 85.2L273.9 80.3L267.3 77.0zM235.4 39.9L241.1 44.6L243.4 37.5zM296.7 30.3L294.9 23.1L288.9 27.4zM205.1 148.1L210.1 153.6L213.3 147.0zM250.7 40.0L256.5 44.6L258.6 37.4zM112.7 134.3L119.2 137.8L120.1 130.4zM135.6 142.8L142.5 145.3L142.4 137.9zM245.3 155.0L251.0 150.3L244.4 146.7zM218.1 23.3L219.4 16.0L212.1 17.4zM150.9 57.4L157.9 59.7L157.5 52.3zM156.1 15.5L158.5 8.5L151.1 8.8zM97.3 72.5L104.1 75.5L104.4 68.0zM163.7 23.4L166.2 16.3L158.7 16.6zM173.8 112.0L180.9 114.2L180.4 106.8zM275.9 69.6L281.6 64.7L275.0 61.2zM120.2 142.8L127.3 145.3L127.0 137.8zM128.2 275.8L135.7 275.5L132.7 268.6zM181.5 141.9L188.1 145.6L189.1 138.2zM151.0 86.9L157.1 91.4L159.1 84.1zM254.6 148.0L258.4 141.5L250.9 140.4zM128.0 102.5L134.2 107.0L136.0 99.6zM127.8 134.9L134.9 137.7L134.8 130.1zM181.4 118.9L188.2 122.3L188.9 114.8zM135.4 212.3L142.5 214.9L142.4 207.4zM97.7 101.7L103.0 107.1L106.2 100.2zM128.1 27.8L135.7 27.8L132.9 20.7zM212.0 165.3L218.8 168.8L219.6 161.3zM150.7 119.4L157.8 122.2L157.8 114.5z"/><path fill="#0078ff" d="M127.8 205.3L135.3 207.0L134.1 199.4zM237.6 178.4L243.4 173.4L236.6 169.9zM166.0 220.6L173.5 222.4L172.4 214.8zM143.2 87.2L149.6 91.4L151.2 83.9zM246.0 163.4L251.0 157.4L243.6 155.0zM143.1 50.4L150.7 51.6L149.0 44.1zM235.1 71.4L241.4 75.9L243.2 68.4zM257.8 56.8L264.8 60.0L265.3 52.3zM250.2 65.7L257.7 67.4L256.5 59.8zM166.0 103.3L172.9 106.8L173.7 99.2zM135.4 49.7L142.7 52.0L142.2 44.3zM143.2 102.6L149.5 107.0L151.3 99.5zM143.0 72.4L150.0 75.6L150.5 67.9zM158.4 142.0L165.2 145.7L166.1 138.0zM143.0 212.2L150.2 215.0L150.1 207.2zM279.2 15.7L280.8 8.1L273.2 9.4zM227.7 70.6L233.3 76.0L236.2 68.8zM150.7 110.8L157.4 114.7L158.6 107.0zM166.0 141.9L172.8 145.7L173.9 138.0zM143.0 142.5L150.1 145.5L150.3 137.8zM104.7 126.9L111.8 130.1L112.2 122.3zM204.3 134.1L211.0 138.0L212.2 130.3zM138.1 7.3L143.9 2.0L137.0 -1.4zM196.8 133.4L203.0 138.1L205.1 130.6zM165.9 119.9L173.4 122.1L172.7 114.3zM127.8 126.1L134.4 130.3L135.9 122.6zM158.3 111.0L165.2 114.7L166.1 106.9zM295.5 46.8L295.7 39.0L288.4 41.7zM112.5 94.9L119.0 99.3L120.6 91.6zM135.5 94.5L141.7 99.3L144.0 91.8zM220.1 184.0L227.9 183.0L224.0 176.1zM104.6 150.5L112.0 153.2L111.8 145.4zM204.2 126.6L211.2 130.2L212.0 122.3zM112.4 126.4L119.3 130.2L120.3 122.4zM135.3 150.0L142.4 153.4L142.9 145.5zM127.6 212.3L135.0 215.0L134.8 207.1zM135.4 42.9L143.2 43.8L141.2 36.1zM158.2 220.7L165.9 222.5L164.7 214.6zM242.5 64.1L249.3 68.0L250.5 60.2zM189.0 133.5L195.4 138.2L197.4 130.5zM225.4 23.7L227.4 16.0L219.5 17.0zM173.5 228.4L181.3 230.1L180.0 222.3zM128.0 78.6L133.9 83.9L136.6 76.4zM174.0 237.7L181.9 237.1L178.3 230.0zM212.0 47.7L218.3 52.6L220.5 45.0zM135.2 127.0L142.5 130.1L142.7 122.1zM150.8 94.5L157.1 99.4L159.3 91.7zM127.7 35.3L135.7 35.9L133.3 28.3zM81.6 33.8L89.1 36.5L88.9 28.5zM268.5 93.5L274.1 87.8L266.7 84.7zM97.2 86.6L103.4 91.6L105.8 84.0zM135.4 102.3L141.8 107.2L144.0 99.5zM181.2 133.9L188.0 138.1L189.4 130.2zM171.9 23.7L173.8 15.9L165.9 17.1zM219.5 55.7L226.1 60.4L228.0 52.6zM119.8 158.7L127.6 160.9L126.8 152.9zM135.2 110.9L142.3 114.8L143.3 106.8zM135.2 34.8L143.2 36.1L141.4 28.2zM211.6 173.9L219.3 176.5L218.9 168.4zM142.9 94.9L149.7 99.3L151.3 91.4zM135.1 181.6L142.8 184.2L142.3 176.1zM188.9 141.3L195.5 146.0L197.4 138.1zM104.5 79.8L111.6 83.7L112.7 75.6zM175.5 247.6L182.4 243.2L175.8 238.5zM158.0 150.4L165.6 153.4L165.6 145.3zM127.5 142.3L134.8 145.7L135.3 137.6zM150.5 79.3L157.3 83.8L159.0 75.8zM278.1 78.5L281.4 71.1L273.2 70.8zM135.1 134.8L142.6 137.9L142.7 129.8zM204.1 164.8L211.0 169.2L212.5 161.2zM89.1 49.6L96.9 52.1L96.4 44.0zM73.9 50.0L81.7 52.0L80.7 43.9zM104.5 72.0L111.7 75.9L112.6 67.8zM234.6 48.5L241.8 52.5L242.8 44.4zM158.0 158.7L165.9 160.9L165.0 152.8zM211.8 183.0L219.9 183.6L217.5 175.8z"/><path fill="#0087ff" d="M120.1 86.6L126.4 91.7L128.9 83.9zM270.7 109.7L273.7 102.1L265.5 102.1zM234.6 64.1L241.8 68.1L242.8 60.0zM104.4 142.9L112.2 145.5L111.7 137.4zM135.0 158.3L142.7 161.1L142.5 152.9zM189.0 156.2L195.1 161.6L198.0 153.9zM142.7 157.9L150.2 161.2L150.5 153.0zM196.3 126.3L203.5 130.4L204.7 122.3zM142.7 64.6L150.2 68.0L150.6 59.8zM295.7 54.9L295.7 46.6L288.1 49.7zM242.2 72.7L249.8 75.7L249.8 67.4zM165.6 135.3L173.5 137.8L172.9 129.5zM196.6 148.6L202.9 153.9L205.5 146.0zM127.4 42.3L135.4 44.1L134.2 36.0zM104.8 101.9L111.0 107.3L113.7 99.5zM173.2 150.2L180.9 153.5L181.1 145.2zM180.9 126.7L188.4 130.3L189.0 122.0zM127.3 57.1L135.0 60.1L135.0 51.8zM112.2 118.1L119.0 122.8L120.9 114.7zM142.6 173.8L150.4 176.5L150.1 168.3zM257.5 66.2L265.7 67.4L263.9 59.3zM173.4 141.6L180.4 146.0L181.9 137.8zM150.2 134.8L158.0 137.9L158.0 129.6zM127.4 118.2L134.4 122.7L136.1 114.6zM142.6 197.2L150.5 199.6L149.9 191.3zM173.2 126.9L180.8 130.3L181.2 121.9zM142.6 189.4L150.5 192.0L150.0 183.6zM157.9 165.3L165.4 169.1L166.1 160.8zM89.0 56.9L96.7 60.2L96.9 51.8zM173.3 157.0L180.4 161.5L182.0 153.3zM181.1 156.7L187.9 161.6L189.9 153.5zM150.2 220.3L158.2 222.8L157.6 214.4zM294.1 24.0L296.5 16.0L288.2 16.7zM195.8 23.8L196.5 15.5L188.5 17.8zM127.9 21.0L136.2 19.6L131.9 12.4zM89.0 26.5L97.1 28.6L96.1 20.3zM246.3 171.7L251.2 164.8L243.0 162.8zM134.9 173.6L142.7 176.7L142.7 168.3zM157.8 135.5L165.9 137.8L165.1 129.4zM96.6 33.7L104.5 36.7L104.3 28.2zM204.3 155.9L210.4 161.7L213.5 153.9zM150.2 127.2L158.1 130.2L157.9 121.7zM127.2 165.9L135.1 168.9L135.0 160.5zM253.1 156.0L259.0 149.9L251.2 146.6zM127.2 174.6L135.5 176.3L134.1 168.0zM81.4 43.0L89.9 43.9L87.5 35.7zM180.7 23.8L181.1 15.4L173.1 18.1zM104.4 94.6L111.3 99.5L113.4 91.3zM146.4 15.9L151.8 9.3L143.7 6.7zM119.6 26.7L127.8 28.6L126.5 20.2zM142.5 149.8L150.1 153.7L150.9 145.2zM203.9 141.3L210.9 146.1L212.8 137.8zM127.4 110.0L134.2 115.1L136.5 106.9zM242.3 39.6L248.9 45.0L251.5 36.9zM150.1 142.6L158.0 145.8L158.0 137.2zM150.1 204.9L158.3 207.4L157.6 198.9zM104.2 57.1L112.1 60.2L112.1 51.7zM142.5 166.6L150.7 168.7L149.7 160.3zM135.3 86.1L141.5 91.9L144.7 84.0zM226.9 47.8L233.8 52.8L235.9 44.5zM73.5 41.8L81.7 44.4L81.1 35.9zM265.9 15.7L264.8 7.2L257.3 11.2zM165.4 157.8L173.2 161.4L173.7 152.8zM157.8 213.4L166.3 214.8L164.4 206.4zM249.9 47.5L256.6 52.9L259.2 44.7zM188.7 148.4L195.2 154.0L198.1 145.9zM128.9 285.8L136.6 281.9L130.2 276.2zM142.4 134.5L150.2 138.1L150.7 129.6zM150.1 189.2L158.1 192.1L157.9 183.5zM264.2 133.3L265.7 124.8L257.3 126.5zM287.1 8.4L288.7 -0.0L280.2 1.6zM286.3 63.3L289.0 55.1L280.4 55.6zM227.0 55.1L233.5 60.7L236.3 52.5zM81.2 58.2L89.7 59.8L88.1 51.3zM150.0 157.7L157.9 161.4L158.4 152.8z"/><path fill="#0097ff" d="M134.7 119.0L142.6 122.6L143.1 114.0zM181.0 148.4L187.6 154.0L190.4 145.8zM172.9 119.4L181.1 122.5L181.0 113.8zM287.3 16.3L288.6 7.7L280.1 9.7zM112.2 276.1L120.9 275.7L117.3 267.8zM142.8 78.4L149.3 84.2L152.3 76.0zM165.3 173.1L173.2 176.9L173.8 168.2zM219.2 47.3L225.9 53.0L228.7 44.7zM149.9 165.8L158.1 169.1L158.1 160.3zM104.3 86.5L111.2 91.9L113.7 83.5zM196.1 141.0L203.1 146.3L205.5 137.8zM111.6 142.7L119.9 145.8L119.7 137.0zM88.7 42.4L97.3 44.3L95.9 35.6zM119.4 79.6L127.1 83.9L128.3 75.2zM134.6 203.9L142.5 207.8L143.3 199.0zM142.3 181.9L150.7 184.3L149.9 175.5zM242.1 47.5L249.0 52.9L251.5 44.5zM258.6 270.3L266.8 266.9L260.6 260.6zM147.3 8.6L151.7 0.9L142.9 -0.4zM234.4 55.4L241.4 60.7L243.8 52.2zM119.6 109.8L126.5 115.3L129.1 106.8zM137.2 15.4L144.4 10.2L136.9 5.4zM111.6 72.3L119.7 76.0L120.2 67.2zM119.2 72.3L127.3 76.0L127.9 67.1zM134.8 71.1L142.0 76.4L144.3 67.7zM279.9 8.5L280.9 -0.3L272.3 2.0zM180.9 230.1L189.8 229.7L186.2 221.5zM119.7 20.6L128.6 20.0L124.8 11.9zM165.2 149.4L172.9 153.9L174.4 145.1zM112.0 86.2L118.7 92.0L121.7 83.6zM149.8 150.5L158.2 153.6L158.0 144.7zM245.0 179.4L251.6 173.2L243.5 169.4zM103.9 34.7L112.7 36.5L111.1 27.6zM145.9 287.2L152.0 280.6L143.7 277.4zM165.1 165.3L173.2 169.3L173.9 160.3zM119.8 101.2L126.0 107.7L129.8 99.5zM126.8 158.3L135.3 161.3L134.9 152.3zM134.5 64.1L142.5 68.4L143.5 59.4zM96.2 57.9L105.0 60.1L103.8 51.1zM172.9 221.6L181.9 222.4L179.3 213.8zM273.3 16.2L272.8 7.1L264.6 10.9zM126.9 71.7L134.7 76.3L136.1 67.3zM119.1 34.0L127.8 36.8L127.1 27.7zM127.3 93.7L133.9 99.9L137.2 91.4zM257.5 16.4L257.8 7.3L249.2 10.4zM119.1 150.5L127.6 153.6L127.4 144.5zM111.4 150.7L120.1 153.6L119.5 144.5zM96.1 26.4L104.9 28.9L104.0 19.8zM126.7 150.7L135.4 153.6L134.8 144.5zM203.3 173.6L211.8 176.9L211.7 167.8zM126.7 197.3L135.5 199.9L134.7 190.8zM210.6 24.5L212.3 15.5L203.3 17.2zM142.1 205.4L151.0 207.4L149.5 198.4zM111.5 34.8L120.4 36.5L118.8 27.5zM103.7 41.6L112.3 44.7L112.1 35.6z"/><path fill="#00a7ff" d="M111.3 57.4L120.1 60.3L119.6 51.1zM156.2 8.9L159.1 0.1L149.8 0.7zM126.8 86.8L134.5 92.0L136.5 83.0zM134.4 79.3L142.3 84.2L144.0 75.0zM73.1 26.8L82.2 28.8L80.7 19.6zM134.2 57.0L142.9 60.5L142.9 51.1zM296.2 231.6L305.2 228.9L299.3 221.6zM118.9 174.2L127.9 176.8L127.0 167.4zM188.6 24.4L189.0 15.0L180.1 18.1zM157.2 196.8L165.9 200.1L165.8 190.7zM136.0 285.9L144.6 282.2L137.9 275.6zM111.6 78.6L119.0 84.4L121.6 75.4zM103.6 49.7L112.5 52.5L111.9 43.1zM119.2 94.2L126.7 99.9L129.2 90.9zM164.8 205.3L174.0 207.6L172.7 198.2zM111.2 41.6L120.1 44.8L119.8 35.3zM126.5 189.6L135.6 192.3L134.7 182.8zM172.5 165.3L181.0 169.5L181.7 160.0zM182.5 240.6L190.6 235.7L183.0 229.9zM227.8 186.0L236.4 182.2L229.7 175.6zM80.5 26.2L89.6 29.1L89.0 19.6zM95.8 65.0L104.8 68.3L104.5 58.8zM103.6 27.2L113.0 28.7L110.9 19.4zM195.9 155.6L202.8 162.2L206.4 153.4zM149.4 173.9L158.4 177.0L158.0 167.4zM118.8 41.4L127.7 44.9L127.6 35.3zM128.7 15.4L137.0 10.6L129.6 4.6zM118.8 57.9L128.1 60.2L126.8 50.7zM95.8 41.3L104.7 44.9L104.8 35.3zM165.8 16.7L166.0 7.1L157.0 10.4zM149.4 197.7L158.7 199.9L157.4 190.3zM126.4 182.4L135.9 184.4L134.3 174.9zM157.0 173.1L165.7 177.2L166.4 167.6z"/><path fill="#00b7ff" d="M126.3 64.7L135.3 68.4L135.5 58.7zM265.7 262.9L274.8 259.4L268.2 252.3zM128.4 7.4L137.1 3.0L129.8 -3.4zM203.5 24.8L204.6 15.1L195.2 17.7zM134.0 166.5L143.3 169.2L142.4 159.5zM156.9 181.4L166.0 184.8L165.9 175.1zM118.7 64.3L127.4 68.6L128.2 58.8zM111.0 64.7L120.0 68.4L120.1 58.7zM118.7 50.3L128.2 52.4L126.7 42.8zM111.0 26.8L120.6 28.9L119.0 19.3zM133.9 197.6L143.4 200.0L142.2 190.3zM264.0 141.9L266.2 132.3L256.5 133.8zM105.3 339.8L114.1 335.5L106.9 328.9zM154.2 280.4L159.8 272.4L150.3 270.1zM242.8 16.7L242.4 6.9L233.4 10.9zM88.0 34.5L97.5 36.8L96.2 27.1zM126.2 49.7L135.6 52.7L135.0 42.8zM295.2 9.2L296.6 -0.5L287.0 1.8zM278.2 87.6L281.9 78.4L272.0 78.3zM156.8 189.8L166.4 192.3L165.2 182.5zM103.2 64.9L112.5 68.5L112.4 58.5zM272.2 261.2L282.0 260.6L277.8 251.6zM273.3 9.0L273.1 -1.0L264.0 2.9zM272.3 118.6L273.6 108.7L264.0 111.2zM156.8 205.0L166.3 207.9L165.4 197.9zM295.0 238.0L305.0 237.7L301.0 228.5zM195.3 164.2L203.4 169.9L205.7 160.2zM133.8 189.5L143.3 192.5L142.5 182.5zM253.4 165.0L259.5 157.0L249.8 154.3zM164.4 213.3L174.2 215.4L172.6 205.5zM187.6 164.2L195.8 170.0L198.1 160.2zM173.8 16.9L173.7 6.8L164.3 10.7zM165.3 9.3L166.4 -0.7L156.7 2.0zM263.0 149.9L266.6 140.5L256.5 140.5zM149.0 181.5L158.5 184.9L158.2 174.8zM305.1 47.7L303.1 37.8L294.6 43.2zM293.9 17.4L297.2 7.8L287.0 8.3z"/><path fill="#00c7ff" d="M95.3 49.7L105.1 52.8L104.4 42.6zM202.5 182.4L212.5 184.6L211.0 174.5zM278.9 95.7L281.8 85.8L271.5 86.7zM305.2 40.1L303.2 29.9L294.4 35.5zM265.9 9.2L265.5 -1.2L256.0 3.0zM250.6 17.1L250.2 6.6L240.6 10.9zM187.3 171.7L195.8 177.9L198.4 167.7zM287.0 72.4L289.4 62.1L279.0 63.7zM254.1 173.3L259.5 164.2L249.1 162.6zM110.8 20.4L121.3 20.7L117.7 10.8zM236.8 188.1L244.6 180.9L235.0 176.3zM194.6 173.0L204.2 177.6L205.0 167.0zM164.0 180.7L173.6 185.3L174.3 174.7zM272.7 255.3L282.7 252.0L275.9 243.9zM294.7 246.1L305.3 245.3L300.6 235.8zM112.3 286.5L122.1 282.4L114.7 274.7zM110.4 49.9L120.6 52.9L119.6 42.2zM163.3 273.6L167.4 263.8L156.8 263.5zM119.6 286.1L129.7 282.6L122.8 274.5zM171.7 213.8L182.3 215.4L179.8 205.0zM104.3 286.1L114.4 282.7L107.5 274.5zM171.7 172.1L180.8 177.8L182.8 167.3z"/><path fill="#00d7ff" d="M194.5 181.6L204.7 185.1L204.1 174.3zM259.3 264.9L267.6 258.1L258.2 252.9zM179.4 164.0L188.2 170.2L190.8 159.8zM179.3 221.5L189.9 223.1L187.5 212.6zM301.4 33.5L305.1 23.4L294.3 23.7zM163.8 197.1L174.1 200.5L173.4 189.7zM272.5 126.9L273.8 116.2L263.3 119.0zM251.6 9.2L249.8 -1.7L240.4 4.1zM279.0 253.5L290.0 253.3L285.7 243.1zM286.8 246.2L297.8 245.4L293.0 235.5zM179.1 172.4L188.7 177.9L190.3 167.0zM171.3 196.8L181.7 200.7L181.4 189.6zM286.3 252.5L297.3 253.8L294.5 243.1zM114.2 341.8L122.3 334.3L112.3 329.5zM287.5 239.9L298.2 236.9L291.4 228.1zM263.3 158.4L266.9 147.8L255.8 148.4zM313.2 40.5L310.9 29.6L301.6 35.7z"/><path fill="#00e7ff" d="M251.5 272.9L260.2 265.7L250.4 260.3zM280.5 111.7L281.5 100.4L270.7 103.6zM174.5 9.7L173.7 -1.6L163.5 3.3zM301.3 26.0L305.3 15.5L294.0 15.6zM218.3 193.5L229.3 190.9L222.9 181.6zM296.6 226.3L306.2 220.2L297.0 213.5zM235.4 17.8L235.2 6.4L224.7 10.8zM171.0 189.1L181.8 193.1L181.5 181.7zM167.6 186.1L167.6 186.1L164.9 188.0L174.1 193.1L172.3 182.8L169.6 184.7L169.6 184.7zM254.2 7.2L254.2 7.2L257.1 8.8L258.0 -1.6L249.3 4.3L252.1 6.0L252.1 6.0zM105.4 16.6L105.5 16.6L103.7 19.4L114.2 20.7L108.5 11.8L106.8 14.6L106.7 14.6zM120.5 10.4L120.6 10.4L119.8 13.6L130.1 11.4L121.9 4.8L121.1 8.1L121.1 8.0zM182.1 210.4L182.2 210.4L180.2 213.1L190.5 215.3L185.7 205.9L183.7 208.5L183.6 208.5zM178.0 15.2L178.0 15.1L181.0 16.5L181.1 6.0L172.9 12.6L175.9 14.0L175.8 14.1zM212.5 187.7L212.7 187.8L210.9 190.6L221.4 191.8L215.7 182.9L213.9 185.8L213.8 185.7zM105.1 327.4L105.3 327.4L104.6 330.7L114.8 328.4L106.6 321.9L105.8 325.1L105.7 325.1z"/><path fill="#00f7ff" d="M185.2 15.2L185.4 14.9L188.3 16.6L189.1 6.1L180.4 12.1L183.3 13.7L183.2 14.0zM189.8 210.0L190.0 210.2L187.9 212.7L198.0 215.6L193.8 205.9L191.6 208.4L191.4 208.2zM175.5 177.9L175.6 178.2L172.8 179.8L181.5 185.8L180.6 175.2L177.7 176.9L177.6 176.7zM190.5 185.9L190.7 186.2L188.0 188.1L197.2 193.2L195.3 182.9L192.6 184.8L192.4 184.5zM227.7 190.6L228.0 190.6L228.1 193.9L237.5 189.1L227.9 184.9L228.0 188.2L227.6 188.2zM288.8 228.6L289.2 228.6L288.9 232.0L298.8 228.1L289.6 222.9L289.3 226.2L289.0 226.2zM90.1 16.1L90.5 16.3L88.5 19.0L98.8 21.2L94.0 11.8L91.9 14.4L91.6 14.2zM306.0 30.1L306.4 29.8L308.5 32.4L313.0 22.8L302.7 25.3L304.9 27.9L304.5 28.2zM74.7 16.4L75.1 16.6L73.2 19.4L83.7 20.9L78.3 11.9L76.4 14.6L76.0 14.4zM191.0 177.6L191.2 178.0L188.2 179.6L196.6 186.0L196.3 175.4L193.3 176.9L193.1 176.5zM182.7 185.9L183.0 186.3L180.3 188.4L189.7 193.3L187.6 182.9L184.9 184.9L184.6 184.5zM212.3 195.6L212.7 195.9L211.2 198.8L221.7 199.3L215.5 190.8L213.9 193.8L213.4 193.5zM183.1 177.7L183.4 178.2L180.5 179.8L189.2 186.0L188.5 175.4L185.5 177.0L185.2 176.5zM268.6 132.0L269.0 131.6L271.5 133.7L274.1 123.4L264.5 127.9L267.1 130.0L266.7 130.5zM291.8 62.1L292.2 61.6L294.9 63.6L296.8 53.1L287.5 58.2L290.2 60.2L289.9 60.7zM275.8 100.7L276.3 100.3L278.7 102.6L282.1 92.6L272.1 96.3L274.5 98.6L274.1 99.1zM283.6 77.5L284.0 77.0L286.5 79.2L289.6 69.1L279.8 73.1L282.3 75.3L281.8 75.8z"/><path fill="#08fff7" d="M174.6 201.6L175.2 202.2L172.7 204.5L182.5 208.5L179.4 198.3L176.9 200.6L176.4 200.0zM82.2 16.1L82.9 16.6L80.9 19.3L91.4 21.2L86.2 11.9L84.3 14.6L83.6 14.2zM178.0 7.7L178.4 7.0L181.4 8.3L181.1 -2.3L173.1 4.7L176.2 6.0L175.8 6.8zM189.9 193.9L190.5 194.5L188.0 196.8L197.9 200.8L194.7 190.6L192.2 192.9L191.7 192.3zM97.1 319.8L98.0 320.0L97.3 323.3L107.6 320.8L99.2 314.3L98.5 317.6L97.6 317.4zM280.8 242.7L281.7 242.9L280.6 246.1L291.2 244.7L283.4 237.5L282.4 240.7L281.5 240.4zM136.0 291.6L136.9 291.4L137.7 294.7L145.8 287.8L135.4 285.8L136.2 289.1L135.4 289.3zM223.4 15.5L223.9 14.7L226.8 16.3L227.5 5.7L218.9 11.9L221.8 13.5L221.3 14.4zM197.5 193.9L198.2 194.6L195.7 196.9L205.6 200.9L202.4 190.7L199.9 193.0L199.3 192.2zM196.7 211.1L197.6 211.6L196.1 214.6L206.8 214.7L200.1 206.4L198.7 209.4L197.7 208.9zM167.4 262.3L168.3 261.8L170.1 264.6L175.9 255.7L165.3 256.8L167.1 259.7L166.2 260.2zM120.0 2.6L121.0 2.8L120.3 6.1L130.7 3.6L122.2 -2.9L121.5 0.4L120.5 0.2zM188.9 228.2L189.9 228.4L189.5 231.7L199.6 228.5L190.7 222.6L190.3 226.0L189.2 225.8zM97.5 15.8L98.4 16.5L96.3 19.2L106.7 21.4L101.9 11.9L99.8 14.6L99.0 13.9zM296.5 214.7L297.6 214.5L298.3 217.7L306.7 211.2L296.3 208.8L297.1 212.1L296.0 212.4z"/><path fill="#18ffe7" d="M189.0 218.5L190.1 219.1L188.4 222.1L199.1 222.7L192.8 214.0L191.2 217.0L190.1 216.4zM127.6 290.2L128.9 290.3L128.8 293.6L138.5 289.2L129.0 284.5L128.9 287.9L127.7 287.8zM182.0 201.6L182.9 202.5L180.5 204.8L190.4 208.6L187.1 198.5L184.6 200.8L183.8 199.9zM230.6 7.7L231.3 6.6L234.1 8.5L235.6 -2.1L226.5 3.4L229.3 5.3L228.6 6.4zM250.6 261.1L251.8 260.7L252.7 264.0L260.8 257.1L250.3 255.1L251.2 258.4L250.0 258.7zM283.6 85.7L284.4 84.6L287.1 86.8L289.7 76.4L280.0 81.0L282.6 83.1L281.7 84.1zM182.1 193.7L183.0 194.7L180.5 197.0L190.4 201.0L187.3 190.8L184.8 193.1L183.8 192.1zM204.7 194.3L205.7 195.2L203.5 197.7L213.8 200.6L209.5 190.8L207.3 193.3L206.2 192.4zM235.2 276.4L236.5 276.0L237.4 279.3L245.6 272.4L235.1 270.4L235.9 273.7L234.6 274.0zM204.8 186.3L205.8 187.3L203.5 189.8L213.7 193.0L209.8 183.1L207.4 185.5L206.4 184.6zM207.5 15.6L208.3 14.4L211.1 16.3L212.7 5.7L203.5 11.2L206.3 13.1L205.5 14.2zM204.2 203.1L205.4 203.8L203.8 206.8L214.5 207.3L208.2 198.7L206.6 201.7L205.3 201.0zM192.8 15.8L193.5 14.5L196.5 16.1L196.9 5.4L188.4 11.8L191.4 13.4L190.7 14.7zM305.8 22.8L307.0 21.8L309.3 24.3L313.2 14.4L303.0 17.6L305.3 20.0L304.2 21.1zM197.3 185.9L198.4 187.0L195.8 189.3L205.7 193.4L202.7 183.2L200.2 185.4L199.1 184.3zM280.4 235.9L282.0 236.1L281.6 239.5L291.7 236.2L282.7 230.4L282.3 233.7L280.8 233.5zM104.4 289.9L106.0 290.0L105.8 293.4L115.7 289.5L106.4 284.3L106.2 287.6L104.6 287.5zM238.7 8.0L239.4 6.6L242.5 8.2L242.9 -2.5L234.3 3.9L237.3 5.5L236.6 6.9zM305.5 14.8L306.7 13.8L308.9 16.4L313.6 6.8L303.1 9.2L305.2 11.9L304.0 12.9zM242.6 268.4L244.2 268.1L244.8 271.4L253.5 265.1L243.1 262.4L243.7 265.7L242.1 266.0z"/><path fill="#28ffd7" d="M112.0 289.7L113.7 289.9L113.3 293.3L123.4 289.7L114.3 284.1L113.9 287.5L112.3 287.3zM189.5 201.4L190.7 202.6L188.2 205.0L198.3 208.8L194.9 198.6L192.4 201.0L191.2 199.7zM215.4 15.8L216.3 14.4L219.2 16.1L220.2 5.4L211.3 11.4L214.2 13.1L213.3 14.6zM192.7 8.1L193.5 6.6L196.5 8.1L197.0 -2.6L188.4 3.8L191.4 5.4L190.6 7.0zM112.0 9.6L113.6 10.2L112.6 13.4L123.2 12.1L115.5 4.7L114.4 7.9L112.7 7.4zM96.6 297.4L98.4 297.6L98.1 301.0L108.2 297.4L99.0 291.8L98.7 295.2L96.9 295.0zM174.1 254.2L175.9 253.4L177.2 256.6L184.4 248.6L173.6 248.1L174.9 251.2L173.2 252.0zM265.0 251.7L266.9 251.8L266.8 255.2L276.7 251.1L267.2 246.0L267.0 249.4L265.1 249.3zM299.9 55.2L300.8 53.4L303.8 55.0L304.2 44.2L295.6 50.8L298.6 52.3L297.7 54.1zM258.3 161.8L260.2 161.0L261.5 164.1L268.6 156.0L257.8 155.6L259.2 158.8L257.3 159.6zM184.7 8.2L185.7 6.4L188.7 8.1L189.7 -2.6L180.7 3.4L183.7 5.1L182.6 6.9z"/><path fill="#38ffc7" d="M275.6 117.1L277.0 115.5L279.6 117.7L282.4 107.3L272.5 111.7L275.2 113.9L273.8 115.6zM200.1 8.3L201.2 6.4L204.2 8.0L204.9 -2.7L196.1 3.5L199.1 5.2L198.0 7.1zM111.9 328.7L114.1 328.7L114.2 332.1L123.8 327.1L113.8 322.8L114.0 326.3L111.8 326.4zM203.1 10.9L204.1 8.8L207.2 10.3L207.4 -0.5L198.9 6.2L201.9 7.7L200.9 9.8zM102.4 313.3L104.7 313.4L104.6 316.8L114.5 312.7L105.0 307.5L104.9 311.0L102.5 310.9zM278.4 244.3L280.7 244.5L280.5 247.9L290.6 244.1L281.2 238.7L280.9 242.1L278.6 241.9zM117.4 3.6L119.7 4.3L118.7 7.6L129.4 5.9L121.3 -1.3L120.4 2.0L118.1 1.3zM226.0 3.1L227.2 1.0L230.1 2.7L231.0 -8.0L222.1 -1.9L225.1 -0.2L223.9 1.9zM271.7 151.4L273.5 149.7L275.9 152.2L279.6 142.1L269.4 145.6L271.8 148.0L270.0 149.7zM110.0 320.9L112.4 321.2L112.0 324.6L122.3 321.1L113.1 315.4L112.7 318.8L110.3 318.5zM271.7 143.7L273.4 141.9L275.9 144.2L279.1 133.9L269.1 137.9L271.6 140.2L270.0 142.0zM294.0 221.3L296.4 221.0L296.8 224.4L306.0 218.7L295.8 215.2L296.2 218.6L293.7 218.9zM271.7 135.9L273.5 134.1L276.0 136.5L279.3 126.2L269.2 130.1L271.7 132.4L270.0 134.3zM125.4 290.3L127.9 290.4L127.8 293.8L137.8 289.5L128.1 284.6L128.0 288.0L125.5 287.9z"/><path fill="#48ffb7" d="M201.8 221.3L204.4 221.7L203.9 225.1L214.3 222.2L205.4 215.9L204.8 219.3L202.2 218.9zM201.2 205.6L203.4 207.4L201.2 210.0L211.7 212.7L207.1 202.8L204.9 205.5L202.7 203.7zM310.2 42.1L311.4 39.6L314.6 41.0L314.5 30.2L306.1 37.1L309.2 38.6L308.0 41.1zM271.0 244.3L273.8 244.0L274.2 247.5L283.4 241.7L273.2 238.2L273.5 241.6L270.7 241.9zM348.0 50.5L350.6 48.9L352.4 51.9L358.3 42.8L347.5 43.9L349.3 46.9L346.8 48.4zM224.9 198.2L227.9 198.4L227.7 201.8L237.8 197.9L228.3 192.5L228.1 196.0L225.0 195.8z"/><path fill="#58ffa7" d="M71.3 11.4L74.1 12.9L72.4 16.0L83.3 16.6L77.0 7.8L75.3 10.8L72.4 9.3zM133.3 298.0L136.6 297.4L137.1 300.9L146.1 294.7L135.6 291.6L136.2 295.1L132.9 295.6zM210.7 3.0L212.1 -0.0L215.3 1.4L215.2 -9.5L206.8 -2.5L209.9 -1.0L208.5 2.0zM317.6 19.1L320.1 16.8L322.5 19.4L326.6 9.3L316.2 12.4L318.5 15.0L316.0 17.3zM278.6 236.7L281.9 236.6L282.0 240.0L291.8 235.1L281.8 230.7L281.9 234.2L278.5 234.3zM71.3 3.5L74.4 5.1L72.8 8.2L83.7 8.5L77.0 -0.2L75.4 2.9L72.4 1.4zM102.4 305.6L105.9 305.7L105.8 309.2L115.8 304.8L106.1 299.8L106.0 303.3L102.5 303.2zM317.5 11.3L320.3 9.1L322.4 11.8L327.2 1.9L316.6 4.5L318.7 7.2L316.0 9.4zM317.5 26.9L320.3 24.8L322.4 27.5L327.3 17.7L316.6 20.1L318.8 22.9L316.0 25.0zM110.1 298.0L113.6 298.1L113.4 301.6L123.5 297.4L113.8 292.3L113.7 295.7L110.2 295.6zM287.0 89.3L289.6 86.9L292.0 89.5L295.9 79.3L285.5 82.6L287.9 85.2L285.3 87.6zM217.0 205.8L220.5 206.6L219.8 210.0L230.4 207.6L221.8 200.9L221.0 204.3L217.5 203.5z"/><path fill="#68ff97" d="M187.1 244.2L190.5 242.8L191.9 246.0L199.1 237.8L188.1 237.4L189.5 240.6L186.2 242.0zM218.3 3.1L220.1 -0.2L223.2 1.5L223.8 -9.4L214.9 -3.0L218.0 -1.3L216.2 1.9zM317.6 34.7L320.3 32.1L322.7 34.7L326.8 24.5L316.3 27.8L318.7 30.4L316.0 32.9zM263.4 252.0L267.1 251.3L267.8 254.8L276.7 248.4L266.1 245.5L266.7 249.0L263.0 249.6zM109.7 3.6L113.3 5.0L112.1 8.3L123.0 7.4L115.5 -0.5L114.2 2.8L110.6 1.4zM294.8 65.7L296.9 62.3L299.9 64.2L301.1 53.2L291.8 59.2L294.9 61.1L292.8 64.5zM325.2 19.1L328.2 16.4L330.5 19.1L334.9 9.0L324.3 12.0L326.6 14.6L323.6 17.3zM240.8 267.2L244.4 265.5L245.9 268.7L252.9 260.2L241.9 260.2L243.4 263.4L239.7 265.1z"/><path fill="#78ff87" d="M209.3 213.5L213.3 214.6L212.4 218.0L223.2 216.0L214.8 208.8L213.9 212.3L209.9 211.2zM79.0 3.6L82.7 5.4L81.2 8.6L92.2 8.7L85.3 0.1L83.8 3.2L80.0 1.4zM109.7 11.4L113.8 13.1L112.4 16.4L123.5 15.6L116.0 7.5L114.6 10.8L110.6 9.2zM286.2 229.0L290.7 228.8L290.8 232.4L300.7 227.3L290.6 222.9L290.7 226.4L286.1 226.6z"/><path fill="#87ff78" d="M302.0 205.8L306.2 203.9L307.6 207.2L314.8 198.8L303.8 198.5L305.2 201.7L301.0 203.6zM117.8 298.0L122.4 298.0L122.4 301.5L132.4 296.7L122.3 292.0L122.4 295.6L117.8 295.6zM279.6 120.2L281.8 116.1L284.9 117.8L285.7 106.8L276.7 113.2L279.8 114.9L277.5 119.0zM287.1 96.9L289.9 93.1L292.8 95.2L294.8 84.3L285.1 89.6L288.0 91.7L285.2 95.5zM310.3 49.9L311.9 45.4L315.2 46.6L314.2 35.6L306.3 43.3L309.6 44.6L308.0 49.0zM110.1 305.6L114.9 305.6L115.0 309.1L124.9 304.2L114.8 299.6L114.9 303.2L110.1 303.2zM148.9 290.2L153.2 288.1L154.8 291.2L161.6 282.5L150.5 282.7L152.1 285.9L147.9 288.1zM125.4 298.0L130.2 298.1L130.1 301.7L140.3 297.2L130.4 292.2L130.3 295.7L125.5 295.6zM233.1 274.9L237.5 272.7L239.1 275.8L245.9 267.0L234.7 267.3L236.4 270.5L232.0 272.8zM317.9 42.1L319.7 37.5L323.0 38.8L322.1 27.7L314.1 35.4L317.4 36.6L315.7 41.2zM156.8 282.5L160.7 279.6L162.8 282.5L168.2 272.7L157.2 274.7L159.3 277.6L155.4 280.5zM110.1 313.3L115.1 313.2L115.1 316.8L125.1 311.9L115.0 307.3L115.1 310.8L110.1 310.9z"/><path fill="#97ff68" d="M325.2 26.9L329.2 23.8L331.4 26.6L336.4 16.7L325.5 19.1L327.7 21.9L323.7 25.0zM287.2 104.7L289.9 100.4L293.0 102.3L294.4 91.3L284.9 97.1L287.9 99.1L285.2 103.4zM117.9 320.9L123.0 320.5L123.2 324.1L132.9 318.5L122.5 314.5L122.8 318.1L117.7 318.5zM79.0 11.4L83.7 13.6L82.2 16.9L93.3 16.8L86.2 8.2L84.7 11.4L80.0 9.2zM294.8 73.5L297.7 69.1L300.7 71.1L302.2 60.0L292.7 65.9L295.7 67.8L292.8 72.2zM125.5 305.6L130.8 305.1L131.1 308.7L140.7 303.0L130.3 299.2L130.6 302.7L125.3 303.2zM117.9 313.3L123.2 312.8L123.5 316.4L133.1 310.8L122.7 306.9L123.0 310.4L117.7 310.9zM256.1 174.9L260.9 172.5L262.5 175.7L269.4 167.0L258.2 167.1L259.8 170.4L255.0 172.7zM94.3 11.4L99.1 13.9L97.4 17.1L108.6 17.6L101.9 8.6L100.2 11.8L95.4 9.3zM248.4 182.6L253.4 180.4L254.8 183.7L262.2 175.3L251.0 174.9L252.4 178.2L247.4 180.4zM194.7 236.6L199.9 234.9L201.0 238.3L209.1 230.6L198.0 229.2L199.2 232.6L193.9 234.3z"/><path fill="#a7ff58" d="M102.0 3.6L106.9 5.9L105.4 9.2L116.6 9.2L109.5 0.5L108.0 3.8L103.0 1.4zM125.6 313.2L131.2 312.2L131.8 315.8L140.9 309.3L130.1 306.3L130.8 309.9L125.2 310.9zM94.3 3.6L99.4 6.0L97.8 9.2L109.0 9.3L102.0 0.6L100.4 3.8L95.3 1.4zM117.9 305.6L123.5 305.2L123.8 308.8L133.5 303.2L123.1 299.2L123.3 302.8L117.7 303.2zM302.6 57.7L304.8 52.5L308.1 53.9L307.6 42.7L299.2 50.2L302.6 51.6L300.4 56.8zM102.0 11.4L107.1 13.8L105.6 17.1L116.8 17.0L109.7 8.4L108.1 11.6L103.0 9.2zM248.3 259.6L253.7 258.0L254.8 261.4L263.1 253.8L252.0 252.2L253.0 255.7L247.5 257.3zM294.3 213.5L299.6 211.3L301.0 214.7L308.6 206.5L297.4 205.8L298.7 209.1L293.4 211.3zM263.7 167.1L269.0 164.6L270.5 167.8L277.5 159.0L266.3 159.2L267.9 162.4L262.7 165.0zM86.7 3.6L92.1 5.9L90.6 9.2L101.9 8.7L94.4 0.3L93.0 3.7L87.6 1.4zM240.6 190.4L246.2 188.5L247.4 191.9L255.4 184.0L244.3 182.8L245.4 186.2L239.9 188.1zM271.7 159.2L276.0 155.1L278.5 157.7L282.4 147.1L271.8 150.7L274.3 153.3L270.0 157.5z"/><path fill="#b7ff48" d="M164.5 274.7L169.1 270.8L171.4 273.5L176.0 263.2L165.1 266.2L167.5 269.0L162.9 272.9zM332.9 26.9L337.4 22.8L339.9 25.5L344.2 15.1L333.4 18.3L335.8 21.0L331.3 25.1zM255.9 251.9L261.7 249.9L262.9 253.4L271.0 245.5L259.7 244.2L260.9 247.7L255.2 249.7zM141.2 297.9L146.8 295.4L148.3 298.7L155.6 290.1L144.4 289.9L145.9 293.2L140.3 295.7zM332.9 34.7L337.6 30.8L339.9 33.6L344.7 23.4L333.8 26.2L336.1 29.0L331.3 32.9zM279.6 127.9L282.4 122.4L285.6 124.0L285.9 112.7L277.0 119.6L280.2 121.3L277.4 126.8zM325.2 34.7L330.0 30.8L332.4 33.6L337.2 23.4L326.2 26.1L328.5 28.9L323.7 32.9zM86.6 11.4L92.2 14.3L90.5 17.5L101.8 17.9L95.0 8.9L93.3 12.1L87.7 9.3zM125.7 320.9L131.9 319.3L132.7 322.9L141.5 315.7L130.4 313.5L131.3 317.0L125.1 318.5zM202.2 228.9L208.5 227.9L209.1 231.5L218.3 225.0L207.5 221.9L208.1 225.5L201.8 226.6z"/><path fill="#c7ff38" d="M126.0 328.4L132.1 325.5L133.7 328.8L140.8 319.9L129.4 320.0L131.0 323.3L124.9 326.2z"/><path fill="#d7ff28" d="M294.9 81.3L298.3 75.2L301.5 77.1L302.4 65.8L293.1 72.2L296.3 74.0L292.8 80.1zM278.8 228.9L285.6 227.4L286.4 230.9L295.3 223.9L284.2 221.4L285.1 225.0L278.2 226.6zM279.4 143.6L284.1 138.4L286.8 140.9L290.1 130.0L279.6 134.4L282.3 136.8L277.6 142.0zM287.2 112.5L291.1 106.6L294.1 108.7L295.8 97.4L286.0 103.2L289.1 105.3L285.2 111.1zM232.9 198.1L239.7 196.6L240.6 200.2L249.5 193.2L238.4 190.6L239.2 194.2L232.3 195.8zM133.4 305.6L140.4 303.8L141.3 307.4L150.0 300.1L138.9 297.9L139.8 301.5L132.8 303.3zM325.3 42.5L330.6 37.6L333.1 40.3L337.4 29.8L326.5 33.1L329.0 35.8L323.6 40.8z"/><path fill="#e7ff18" d="M279.4 135.9L284.2 130.0L287.1 132.4L289.9 121.3L279.5 126.1L282.4 128.5L277.6 134.3zM317.9 49.9L320.5 42.7L324.0 44.0L322.9 32.6L314.7 40.7L318.2 41.9L315.7 49.1zM340.5 50.4L346.5 45.2L348.9 48.1L353.5 37.6L342.5 40.6L344.9 43.4L339.0 48.6zM286.5 221.2L294.1 219.0L295.1 222.5L303.7 214.8L292.3 213.1L293.4 216.7L285.8 218.9zM225.1 205.9L232.9 204.9L233.3 208.6L243.1 202.5L232.2 198.8L232.6 202.5L224.8 203.5z"/><path fill="#f7ff08" d="M263.6 244.3L271.1 241.9L272.2 245.4L280.6 237.6L269.2 236.0L270.4 239.6L262.8 242.0zM271.2 236.6L279.2 234.2L280.3 237.7L288.8 229.9L277.3 228.3L278.4 231.9L270.5 234.3zM209.8 221.3L218.0 220.3L218.4 224.0L228.2 217.9L217.3 214.2L217.7 217.9L209.5 218.9zM310.3 57.7L313.2 49.9L316.7 51.2L315.7 39.7L307.4 47.7L310.9 49.0L308.0 56.9z"/><path fill="#ffe700" d="M302.5 65.6L306.6 57.6L310.0 59.3L310.3 47.7L301.1 54.8L304.5 56.5L300.4 64.5zM217.4 213.6L226.4 212.4L226.9 216.2L236.7 209.9L225.6 206.3L226.1 210.0L217.1 211.2zM339.8 27.2L349.0 26.5L349.3 30.3L359.4 24.4L348.5 20.3L348.8 24.1L339.7 24.8z"/><path fill="#ffd700" d="M287.2 120.1L291.8 111.9L295.1 113.8L295.8 102.1L286.3 108.9L289.7 110.8L285.1 119.0zM172.2 267.0L179.1 260.7L181.7 263.5L186.1 252.7L174.9 256.1L177.5 258.9L170.5 265.3zM133.6 313.2L142.3 309.2L143.9 312.6L151.4 303.6L139.7 303.5L141.3 307.0L132.6 311.0zM141.4 305.4L149.5 300.3L151.5 303.6L157.8 293.7L146.2 295.1L148.2 298.3L140.1 303.4z"/><path fill="#ffc700" d="M302.1 198.0L310.6 192.3L312.8 195.5L318.8 185.4L307.2 187.1L309.3 190.3L300.8 196.0zM340.6 42.5L347.9 35.3L350.6 38.1L354.6 27.0L343.5 30.9L346.2 33.6L338.9 40.8zM325.6 49.9L329.4 40.5L333.0 41.9L332.4 30.2L323.7 38.1L327.2 39.5L323.3 49.0z"/><path fill="#ffb700" d="M233.2 267.2L242.4 262.1L244.3 265.5L251.2 255.9L239.4 256.6L241.2 260.0L232.0 265.1zM225.6 274.8L234.7 269.4L236.7 272.7L243.2 262.8L231.4 264.0L233.4 267.3L224.3 272.8z"/><path fill="#ffa700" d="M294.5 205.7L304.0 199.7L306.0 203.0L312.4 192.9L300.6 194.3L302.7 197.6L293.2 203.7z"/><path fill="#ff9700" d="M287.2 135.7L292.8 125.8L296.2 127.8L297.2 115.9L287.4 122.7L290.8 124.7L285.1 134.5zM333.2 49.9L337.2 39.2L340.9 40.5L339.8 28.6L331.3 37.0L334.9 38.3L331.0 49.0zM240.8 259.6L251.2 254.3L253.0 257.8L260.3 248.4L248.3 248.7L250.1 252.2L239.7 257.4zM286.7 213.4L297.1 208.2L298.9 211.7L306.2 202.3L294.3 202.6L296.1 206.1L285.6 211.3z"/><path fill="#ff8700" d="M340.6 34.7L348.9 26.4L351.7 29.2L355.7 17.9L344.4 21.9L347.2 24.7L338.9 33.0zM287.2 127.9L292.5 117.3L296.0 119.0L296.2 107.1L286.8 114.5L290.3 116.2L285.1 126.8zM317.9 57.7L321.9 46.4L325.6 47.7L324.3 35.8L315.9 44.3L319.6 45.6L315.7 56.9zM340.9 65.5L345.4 54.3L349.1 55.8L348.3 43.8L339.5 51.9L343.2 53.4L338.6 64.6zM325.6 57.6L329.4 46.1L333.1 47.4L331.6 35.4L323.3 44.2L327.1 45.4L323.3 56.9z"/><path fill="#ff7800" d="M279.5 151.3L287.2 141.6L290.3 144.1L293.0 132.3L282.2 137.6L285.3 140.1L277.6 149.8zM294.8 89.1L301.5 78.5L304.9 80.6L306.3 68.7L296.1 75.1L299.5 77.2L292.8 87.8zM179.9 259.3L188.5 250.2L191.4 252.9L195.1 241.4L183.9 245.8L186.8 248.5L178.1 257.7z"/><path fill="#ff6800" d="M302.6 73.4L308.1 61.9L311.7 63.6L311.8 51.5L302.4 59.1L306.0 60.8L300.4 72.4zM248.4 251.9L260.0 246.1L261.8 249.6L269.2 240.0L257.1 240.3L258.9 243.9L247.4 249.7zM310.2 65.6L315.6 53.6L319.3 55.3L319.0 43.1L309.8 51.0L313.4 52.6L308.0 64.6z"/><path fill="#ff5800" d="M133.8 320.7L144.7 313.3L147.0 316.7L153.2 306.2L141.2 308.0L143.4 311.3L132.4 318.7z"/><path fill="#ff4800" d="M149.2 297.7L159.2 288.4L162.0 291.3L166.4 280.0L154.8 283.6L157.6 286.6L147.6 295.9zM256.1 244.2L268.4 238.3L270.1 241.9L277.8 232.4L265.6 232.5L267.3 236.1L255.0 242.1zM263.7 236.6L276.4 231.1L278.0 234.8L286.0 225.6L273.8 225.2L275.4 228.9L262.7 234.3zM279.0 221.2L291.8 215.7L293.4 219.4L301.5 210.2L289.3 209.7L290.9 213.5L278.0 219.0zM332.9 42.5L342.8 32.5L345.7 35.4L349.7 23.8L338.2 28.0L341.1 30.9L331.2 40.8z"/><path fill="#ff3800" d="M271.4 228.8L284.3 222.6L286.0 226.3L293.7 216.7L281.4 216.8L283.2 220.5L270.3 226.7zM294.9 96.8L301.6 84.2L305.2 86.1L305.7 73.8L295.8 81.1L299.4 83.0L292.8 95.7zM187.3 251.8L199.4 243.6L201.7 247.0L207.9 236.4L195.7 238.3L198.0 241.7L186.0 249.8z"/><path fill="#ff2800" d="M202.5 236.5L215.6 229.9L217.5 233.5L225.0 223.8L212.7 224.1L214.6 227.7L201.4 234.4zM194.9 244.2L207.9 237.0L209.8 240.6L217.0 230.6L204.7 231.3L206.7 234.9L193.7 242.1z"/><path fill="#ff1800" d="M156.9 290.0L168.0 279.8L170.8 282.9L175.4 271.4L163.6 275.0L166.4 278.1L155.2 288.2zM317.9 65.5L323.0 51.1L326.8 52.4L325.5 40.1L316.8 48.9L320.7 50.3L315.7 64.7z"/><path fill="#ff0800" d="M256.3 182.5L268.9 173.2L271.4 176.5L277.3 165.6L265.0 167.9L267.5 171.3L254.8 180.6zM294.9 104.5L301.6 90.0L305.4 91.8L305.3 79.3L295.7 87.3L299.5 89.0L292.7 103.5z"/><path fill="#e70000" d="M263.9 174.8L277.2 164.7L279.7 168.0L285.5 156.9L273.2 159.4L275.8 162.8L262.5 172.8zM333.2 57.6L338.4 41.6L342.4 42.8L340.7 30.4L332.1 39.6L336.1 40.8L331.0 56.9z"/><path fill="#d70000" d="M302.6 81.1L308.8 65.1L312.8 66.7L311.9 54.1L302.7 62.7L306.6 64.3L300.4 80.2zM294.9 112.4L303.4 97.3L307.1 99.4L308.1 86.8L297.7 94.1L301.4 96.2L292.8 111.2zM240.8 198.0L256.1 189.7L258.1 193.4L265.6 183.2L252.9 183.9L254.9 187.6L239.7 195.9zM271.6 167.0L285.4 156.3L288.0 159.7L293.7 148.4L281.3 151.1L283.9 154.4L270.1 165.1z"/><path fill="#c70000" d="M141.5 313.0L155.3 302.4L157.9 305.7L163.6 294.4L151.3 297.1L153.8 300.5L140.0 311.1zM217.7 221.2L234.2 215.2L235.6 219.2L244.5 210.2L231.9 209.0L233.3 213.0L216.9 218.9zM164.5 282.3L177.3 270.2L180.2 273.2L184.7 261.4L172.7 265.4L175.6 268.4L162.9 280.6zM248.5 190.3L263.6 180.9L265.9 184.5L272.7 173.9L260.1 175.3L262.4 178.9L247.3 188.2zM133.9 328.2L147.5 316.9L150.2 320.1L155.5 308.6L143.2 311.8L146.0 315.0L132.3 326.4zM310.3 73.3L316.7 56.6L320.7 58.1L319.7 45.4L310.5 54.2L314.5 55.7L308.0 72.4z"/><path fill="#a70000" d="M210.1 228.9L227.0 221.3L228.7 225.3L237.1 215.5L224.3 215.2L226.0 219.1L209.1 226.7zM302.2 190.2L316.7 178.1L319.5 181.4L324.9 169.7L312.4 172.9L315.2 176.2L300.7 188.3z"/><path fill="#970000" d="M233.1 205.8L250.3 197.9L252.1 201.8L260.4 191.9L247.5 191.8L249.3 195.7L232.1 203.6zM225.3 213.5L243.3 207.3L244.7 211.4L253.9 202.4L241.1 200.9L242.5 205.0L224.5 211.2z"/><path fill="#870000" d="M287.2 143.5L298.1 127.0L301.7 129.4L303.5 116.6L292.4 123.3L296.1 125.7L285.2 142.2zM294.5 197.9L310.5 186.3L313.1 189.8L319.3 178.4L306.6 180.8L309.1 184.3L293.1 196.0zM172.2 274.7L186.1 260.3L189.2 263.3L193.3 251.0L181.2 255.6L184.3 258.6L170.5 273.0zM218.0 274.8L234.4 262.2L237.1 265.7L243.1 254.1L230.3 256.8L233.0 260.3L216.6 272.9zM294.9 120.1L304.1 101.5L308.1 103.5L308.3 90.4L298.0 98.5L302.0 100.5L292.8 119.0zM279.5 159.1L292.2 142.5L295.7 145.2L298.5 132.4L286.8 138.4L290.3 141.1L277.6 157.6zM225.6 267.1L242.9 254.6L245.5 258.2L251.8 246.6L238.9 249.1L241.5 252.7L224.2 265.2zM233.2 259.5L251.5 248.0L253.9 251.7L260.9 240.6L247.8 242.2L250.2 245.9L232.0 257.5zM240.9 251.8L259.5 240.9L261.8 244.7L269.1 233.8L256.0 235.0L258.3 238.8L239.6 249.8zM302.6 89.0L312.2 69.5L316.2 71.4L316.4 58.2L306.0 66.4L310.0 68.4L300.4 87.9zM286.9 205.6L304.7 193.1L307.3 196.7L313.8 185.2L300.8 187.4L303.3 191.1L285.5 203.7zM149.3 305.3L164.4 289.4L167.6 292.5L171.8 280.0L159.4 284.7L162.6 287.8L147.5 303.6zM294.9 127.9L305.1 107.0L309.1 109.0L309.3 95.7L298.8 104.0L302.9 106.0L292.7 126.8zM333.2 65.5L340.8 43.2L345.1 44.7L343.6 31.4L334.3 41.0L338.6 42.5L331.0 64.7zM317.9 73.3L325.7 50.8L330.0 52.3L328.6 39.0L319.1 48.5L323.5 50.0L315.7 72.5zM248.5 244.2L269.5 232.1L271.8 236.1L279.5 225.0L266.0 226.1L268.3 230.1L247.3 242.1zM310.3 81.1L318.5 58.3L322.8 59.9L321.5 46.4L311.9 55.9L316.2 57.5L308.0 80.3zM141.6 320.5L158.1 302.8L161.5 305.9L165.6 293.0L153.0 298.0L156.4 301.1L139.9 318.9zM279.1 213.4L300.4 201.1L302.7 205.1L310.3 194.0L296.9 195.1L299.2 199.1L277.9 211.3zM263.8 228.8L284.9 215.6L287.3 219.5L294.6 208.0L281.2 209.6L283.6 213.5L262.6 226.7zM271.5 221.1L293.1 208.5L295.4 212.5L303.1 201.3L289.5 202.5L291.9 206.5L270.3 219.0zM256.1 236.5L278.4 224.5L280.6 228.6L288.7 217.6L275.1 218.3L277.3 222.3L255.0 234.4zM195.1 251.8L215.9 235.3L218.8 239.0L224.9 226.7L211.5 229.7L214.4 233.4L193.6 249.9zM302.6 96.8L314.3 72.9L318.5 74.9L318.7 61.1L307.9 69.7L312.1 71.8L300.4 95.7zM187.4 259.4L208.5 242.8L211.4 246.5L217.6 234.1L204.1 237.2L207.0 240.9L185.9 257.5zM202.6 244.1L226.1 228.6L228.7 232.5L235.9 220.6L222.1 222.6L224.7 226.6L201.3 242.1zM210.3 236.5L234.4 221.7L236.9 225.8L244.6 214.1L230.6 215.5L233.1 219.6L209.0 234.4zM164.6 290.0L185.0 269.4L188.5 272.8L193.2 259.5L179.9 264.2L183.3 267.7L162.9 288.3zM302.6 104.5L313.9 77.2L318.4 79.1L317.6 64.9L307.1 74.4L311.7 76.3L300.4 103.6zM325.6 65.4L334.6 37.2L339.2 38.7L337.3 24.6L327.6 35.0L332.3 36.5L323.3 64.7zM302.3 182.4L324.8 162.9L328.0 166.5L333.7 153.5L320.0 157.4L323.2 161.0L300.7 180.6zM256.2 190.2L280.8 173.3L283.6 177.3L290.6 165.0L276.6 167.3L279.4 171.3L254.9 188.3zM287.2 151.3L304.2 126.8L308.2 129.6L310.6 115.6L298.2 122.6L302.2 125.4L285.2 149.9zM240.9 205.7L266.5 189.8L269.1 193.9L276.8 182.0L262.7 183.6L265.2 187.7L239.6 203.6zM264.0 182.5L287.6 163.5L290.6 167.4L296.8 154.5L283.0 157.8L286.1 161.7L262.5 180.6zM248.6 198.0L273.9 181.4L276.6 185.5L284.0 173.3L269.9 175.3L272.6 179.4L247.2 196.0zM294.9 135.6L307.8 108.1L312.3 110.2L312.2 96.0L301.2 105.0L305.6 107.1L292.7 134.6zM317.9 81.0L327.0 52.0L331.7 53.5L329.7 39.4L320.0 49.8L324.7 51.3L315.6 80.3zM233.2 213.4L259.9 199.0L262.2 203.3L270.7 191.8L256.4 192.5L258.8 196.8L232.0 211.3zM333.2 73.2L342.1 44.1L346.8 45.6L344.7 31.5L335.1 42.0L339.8 43.4L330.9 72.5zM217.9 228.8L244.7 214.3L247.0 218.6L255.4 207.1L241.2 207.9L243.5 212.2L216.7 226.7zM172.2 282.3L193.1 259.6L196.7 262.9L200.9 249.2L187.7 254.6L191.3 257.9L170.5 280.7zM310.2 88.9L322.7 60.4L327.3 62.4L326.8 48.0L316.0 57.4L320.5 59.4L308.0 88.0zM149.3 312.8L169.8 289.2L173.5 292.5L177.4 278.6L164.2 284.4L168.0 287.6L147.5 311.3zM225.5 221.1L253.3 206.1L255.6 210.5L264.1 198.9L249.8 199.6L252.1 204.0L224.4 219.0zM302.6 112.3L315.4 83.4L319.9 85.4L319.5 71.0L308.6 80.4L313.2 82.4L300.4 111.3zM271.6 174.7L295.9 154.0L299.1 157.8L305.0 144.7L291.1 148.4L294.3 152.2L270.1 172.9zM294.6 190.2L318.9 169.5L322.1 173.3L328.1 160.1L314.1 163.8L317.3 167.6L293.0 188.3zM279.3 167.0L304.2 145.3L307.5 149.1L313.4 135.7L299.3 139.7L302.6 143.5L277.7 165.2zM225.7 259.4L251.9 239.2L255.0 243.2L261.5 230.2L247.3 233.3L250.4 237.3L224.2 257.5zM179.9 274.6L201.8 249.3L205.7 252.6L209.6 238.5L196.2 244.4L200.0 247.7L178.1 273.0zM210.4 274.7L236.3 253.5L239.6 257.4L245.8 244.2L231.6 247.7L234.8 251.6L208.9 272.9zM287.0 197.9L312.7 175.8L316.1 179.7L322.0 166.2L307.9 170.1L311.2 174.0L285.4 196.0zM218.0 267.1L244.3 245.6L247.6 249.5L253.9 236.2L239.6 239.8L242.8 243.7L216.5 265.2zM233.3 251.8L261.6 231.5L264.6 235.7L271.7 222.7L257.1 225.3L260.2 229.5L231.9 249.8zM202.9 282.3L225.7 256.0L229.6 259.4L233.6 245.1L220.0 251.0L223.9 254.4L201.1 280.7zM333.2 81.0L343.3 47.1L348.3 48.6L346.0 33.9L336.0 45.0L341.0 46.4L330.9 80.3zM302.6 120.1L317.2 87.7L321.9 89.9L321.6 75.0L310.3 84.6L315.0 86.7L300.4 119.1zM317.9 88.8L328.0 54.4L333.0 55.8L330.6 41.1L320.7 52.2L325.7 53.7L315.6 88.1zM287.2 159.0L306.8 128.7L311.2 131.6L313.2 116.7L300.4 124.6L304.8 127.4L285.2 157.7zM333.2 96.7L347.2 63.1L352.0 65.1L351.2 50.1L340.1 60.2L344.9 62.2L331.0 95.8zM333.2 88.8L343.8 53.6L348.8 55.1L346.5 40.3L336.4 51.4L341.5 52.9L330.9 88.1zM310.2 96.7L325.2 63.0L330.0 65.1L329.6 50.1L318.2 59.9L323.0 62.0L308.0 95.8zM240.9 244.1L271.6 223.6L274.6 228.0L282.3 215.0L267.4 217.2L270.3 221.6L239.6 242.1zM294.8 143.5L314.6 112.2L319.0 115.0L320.8 100.0L308.1 108.1L312.5 110.9L292.8 142.2zM279.3 205.6L308.5 182.3L311.8 186.5L318.4 172.9L303.7 176.3L307.0 180.4L277.8 203.7zM325.6 73.2L336.1 37.1L341.2 38.6L338.8 23.6L328.7 34.9L333.8 36.4L323.3 72.5zM302.6 127.8L318.4 93.5L323.2 95.7L323.0 80.5L311.4 90.3L316.2 92.5L300.4 126.8zM195.1 259.4L224.1 234.8L227.6 238.9L233.8 225.0L219.1 228.9L222.6 233.0L193.5 257.6zM271.5 213.4L302.9 191.7L305.9 196.0L313.5 182.9L298.5 185.3L301.5 189.7L270.2 211.4zM248.6 236.5L280.5 215.6L283.4 220.0L291.4 207.0L276.3 209.1L279.2 213.5L247.2 234.4zM164.6 297.6L191.0 269.8L194.9 273.5L199.7 259.0L185.4 264.5L189.3 268.2L162.8 296.0zM256.2 228.7L287.8 206.7L290.9 211.1L298.4 197.9L283.4 200.4L286.4 204.8L254.9 226.8zM325.5 120.0L340.6 84.2L345.5 86.3L344.8 71.0L333.4 81.2L338.3 83.3L323.3 119.1zM202.7 251.8L233.2 227.5L236.5 231.7L243.2 218.0L228.3 221.4L231.7 225.6L201.2 249.9zM310.2 104.5L324.8 67.8L329.8 69.7L328.8 54.4L317.6 64.9L322.6 66.9L308.0 103.6zM210.3 244.1L242.3 220.7L245.5 225.1L252.8 211.5L237.7 214.4L240.9 218.8L208.9 242.2zM263.9 221.1L296.9 198.3L299.9 202.8L307.7 189.4L292.4 191.9L295.5 196.4L262.5 219.1zM218.0 236.4L251.0 213.9L254.1 218.4L261.9 205.0L246.6 207.4L249.7 211.9L216.6 234.5zM302.5 174.4L323.8 140.4L328.4 143.3L330.2 128.0L317.2 136.3L321.8 139.1L300.5 173.2zM172.2 289.9L199.3 260.2L203.4 263.8L207.8 249.0L193.5 254.9L197.6 258.5L170.5 288.3zM310.3 112.2L325.2 74.0L330.2 76.0L329.1 60.5L317.8 71.2L322.9 73.1L308.0 111.4zM302.6 135.6L319.8 98.3L324.8 100.6L324.6 85.1L312.7 95.0L317.6 97.3L300.4 134.6zM310.1 159.0L332.7 124.5L337.3 127.5L339.4 112.2L326.1 120.2L330.7 123.2L308.1 157.7zM310.2 120.1L327.1 81.9L332.0 84.1L331.6 68.6L319.9 78.7L324.9 80.9L308.0 119.1zM264.0 190.1L295.4 162.7L299.0 166.8L305.1 152.5L290.2 156.8L293.8 160.9L262.4 188.3zM317.9 96.7L334.2 58.1L339.2 60.3L338.6 44.8L327.0 55.1L332.0 57.2L315.7 95.8zM294.8 151.2L317.4 115.8L322.0 118.7L323.9 103.3L310.8 111.6L315.4 114.5L292.8 149.9zM179.9 282.3L207.3 250.4L211.5 253.9L215.6 239.0L201.4 245.2L205.5 248.8L178.1 280.7zM225.6 228.8L261.3 206.3L264.2 210.9L272.5 197.8L257.1 199.7L260.0 204.3L224.3 226.7zM279.3 174.7L310.5 145.9L314.2 149.9L319.9 135.5L305.1 140.1L308.8 144.1L277.7 172.9zM271.7 182.4L303.3 154.0L307.0 158.1L312.9 143.8L298.1 148.2L301.7 152.3L270.1 180.6zM256.3 197.9L290.4 172.3L293.7 176.7L300.9 163.0L285.7 166.1L289.0 170.4L254.8 196.0zM287.2 166.7L309.8 130.5L314.4 133.4L316.2 118.0L303.1 126.3L307.8 129.2L285.2 165.4zM248.6 205.6L283.1 180.3L286.3 184.7L293.6 171.0L278.4 174.0L281.6 178.3L247.2 203.7zM195.1 267.1L227.9 239.5L231.4 243.6L237.9 229.5L222.9 233.4L226.4 237.6L193.6 265.2zM240.9 213.4L276.2 188.9L279.3 193.3L287.0 179.9L271.7 182.4L274.8 186.9L239.6 211.4zM233.2 221.1L270.0 198.0L272.9 202.7L281.2 189.6L265.9 191.4L268.7 196.0L232.0 219.1zM187.6 297.6L216.8 265.3L220.8 269.0L225.3 254.1L210.9 260.1L215.0 263.7L185.8 296.0zM210.4 251.7L244.0 223.6L247.5 227.8L254.0 213.7L239.0 217.6L242.5 221.8L208.9 249.9zM202.7 259.4L236.4 231.2L239.9 235.4L246.4 221.3L231.4 225.2L234.9 229.4L201.2 257.6zM164.7 305.1L189.5 268.1L194.0 271.2L196.3 255.8L183.0 263.7L187.5 266.8L162.7 303.8zM218.0 244.1L255.1 217.1L258.3 221.5L265.7 207.8L250.5 210.7L253.7 215.1L216.6 242.2zM325.6 112.2L342.4 69.4L347.5 71.4L346.4 55.9L335.1 66.5L340.1 68.5L323.3 111.4zM271.7 190.1L306.3 159.4L309.9 163.5L315.9 149.2L301.1 153.5L304.7 157.6L270.1 188.3zM317.9 135.6L337.4 93.4L342.3 95.7L342.2 80.2L330.3 90.1L335.2 92.4L315.7 134.6zM225.6 236.4L264.0 209.9L267.1 214.4L274.8 200.9L259.6 203.4L262.7 207.9L224.3 234.5zM263.9 197.9L301.1 168.8L304.4 173.1L311.4 159.2L296.2 162.6L299.6 166.9L262.5 196.0zM233.3 228.8L272.3 202.2L275.4 206.7L283.2 193.3L267.9 195.7L271.0 200.2L231.9 226.8zM248.6 213.3L286.8 185.4L290.1 189.8L297.4 176.1L282.2 179.0L285.4 183.4L247.2 211.4zM294.7 182.4L329.2 149.5L332.9 153.4L338.5 138.9L323.8 143.8L327.5 147.7L293.0 180.7zM240.9 221.1L280.8 194.0L283.8 198.6L291.7 185.2L276.4 187.5L279.4 192.1L239.6 219.1zM256.3 205.6L294.6 176.0L298.0 180.3L305.0 166.5L289.8 169.8L293.2 174.1L254.8 203.7zM325.6 81.0L339.0 34.4L344.3 35.9L341.8 20.6L331.5 32.2L336.7 33.7L323.3 80.3zM287.0 190.1L322.6 156.9L326.3 160.9L332.0 146.5L317.3 151.1L321.0 155.1L285.4 188.4zM210.4 267.1L247.7 235.7L251.2 239.8L257.6 225.7L242.6 229.7L246.2 233.8L208.9 265.2zM218.0 259.4L256.8 227.8L260.2 232.0L266.8 218.0L251.8 221.7L255.2 225.9L216.5 257.6zM302.5 166.7L328.4 123.8L333.1 126.6L334.6 111.2L321.7 119.7L326.3 122.6L300.5 165.4zM202.8 274.7L240.8 241.5L244.4 245.6L250.5 231.4L235.6 235.6L239.2 239.7L201.2 272.9zM179.9 305.2L213.4 267.4L217.5 271.0L221.8 256.2L207.6 262.2L211.7 265.8L178.1 303.6zM279.3 197.8L317.0 164.1L320.6 168.2L326.6 153.9L311.7 158.2L315.4 162.3L277.7 196.1zM225.7 251.8L265.6 220.1L269.0 224.3L275.8 210.4L260.7 213.9L264.1 218.2L224.2 249.9zM325.6 104.5L345.3 56.5L350.3 58.6L349.5 43.1L338.0 53.5L343.1 55.6L323.3 103.6zM310.2 151.2L337.9 106.8L342.5 109.7L344.3 94.3L331.2 102.7L335.8 105.5L308.1 150.0zM317.9 127.8L339.3 79.9L344.3 82.1L343.9 66.6L332.1 76.7L337.1 78.9L315.7 126.8zM233.3 244.1L276.3 212.9L279.5 217.3L287.0 203.7L271.7 206.5L274.9 210.9L231.9 242.2zM271.6 205.6L313.8 172.8L317.1 177.1L324.1 163.3L309.0 166.6L312.3 170.9L270.1 203.7zM325.6 88.8L340.2 37.1L345.4 38.6L342.8 23.3L332.6 35.0L337.9 36.5L323.3 88.1zM263.9 213.3L307.5 180.0L310.8 184.3L317.9 170.5L302.7 173.8L306.0 178.1L262.5 211.4zM241.0 236.4L285.7 203.8L288.9 208.2L296.3 194.6L281.1 197.5L284.3 201.9L239.5 234.5zM256.3 221.0L301.3 187.7L304.5 192.1L311.8 178.5L296.6 181.4L299.8 185.8L254.8 219.1zM248.6 228.7L293.9 195.6L297.2 200.0L304.5 186.4L289.3 189.3L292.5 193.7L247.2 226.8zM325.6 96.7L345.9 43.4L351.0 45.3L349.8 29.9L338.6 40.6L343.7 42.5L323.3 95.8zM310.2 143.3L332.7 89.5L337.7 91.6L336.9 76.1L325.4 86.5L330.4 88.6L308.0 142.4zM317.9 120.1L341.7 66.1L346.7 68.4L346.2 52.9L334.5 63.0L339.5 65.2L315.7 119.1zM294.8 174.4L325.9 123.4L330.6 126.3L332.2 110.8L319.2 119.3L323.9 122.2L292.8 173.2zM302.5 159.0L333.7 107.7L338.4 110.5L340.0 95.1L327.0 103.6L331.7 106.4L300.5 157.7zM179.9 297.6L219.7 251.8L223.8 255.4L227.9 240.5L213.7 246.7L217.8 250.3L178.1 296.0zM195.3 274.6L234.3 226.5L238.5 229.9L242.2 214.8L228.2 221.5L232.4 225.0L193.4 273.1zM202.8 267.0L249.0 225.3L252.6 229.3L258.5 215.0L243.7 219.5L247.4 223.5L201.2 265.3zM287.0 182.4L331.5 138.6L335.3 142.5L340.6 127.9L326.0 133.0L329.8 136.9L285.3 180.7zM210.4 259.4L257.5 217.6L261.1 221.7L267.2 207.4L252.3 211.7L255.9 215.8L208.8 257.6zM317.9 112.2L341.1 53.7L346.2 55.7L345.1 40.2L333.8 50.8L338.9 52.8L315.7 111.4zM310.2 135.6L335.0 77.2L340.0 79.3L339.4 63.8L327.8 74.1L332.8 76.2L308.0 134.6zM218.1 251.7L266.3 210.2L269.8 214.4L276.1 200.2L261.1 204.3L264.7 208.4L216.5 249.9zM225.7 244.1L276.2 205.0L279.5 209.3L286.5 195.5L271.4 198.8L274.7 203.1L224.2 242.2zM172.3 305.2L213.7 256.4L217.8 259.9L221.8 244.9L207.7 251.3L211.8 254.8L170.4 303.6zM317.9 104.5L341.6 44.2L346.7 46.2L345.7 30.7L334.3 41.3L339.4 43.3L315.7 103.6zM279.3 190.1L326.4 145.3L330.2 149.2L335.7 134.8L321.0 139.6L324.7 143.6L277.7 188.4zM271.7 197.8L319.8 153.7L323.5 157.7L329.3 143.3L314.5 147.9L318.2 151.9L270.1 196.1zM310.2 127.8L336.2 67.3L341.2 69.5L340.7 54.0L329.0 64.2L334.0 66.4L308.0 126.9zM294.9 166.7L328.8 110.3L333.5 113.1L335.0 97.6L322.1 106.2L326.8 109.0L292.8 165.4zM179.9 289.9L222.5 239.3L226.6 242.8L230.6 227.8L216.5 234.2L220.6 237.8L178.1 288.4zM233.3 236.4L286.3 196.7L289.5 201.0L296.7 187.3L281.6 190.4L284.8 194.7L231.9 234.5zM302.6 143.3L327.7 81.5L332.7 83.5L331.8 68.1L320.4 78.5L325.5 80.6L300.4 142.4zM302.5 151.2L335.9 93.3L340.7 96.0L341.9 80.6L329.1 89.4L333.9 92.1L300.4 150.0zM264.0 205.6L316.6 162.7L320.0 166.9L326.7 152.9L311.6 156.6L315.1 160.8L262.5 203.7zM172.3 297.6L216.7 246.1L220.8 249.6L224.9 234.7L210.7 240.9L214.9 244.5L170.5 296.0zM256.3 213.3L309.1 170.3L312.6 174.6L319.2 160.6L304.2 164.2L307.6 168.5L254.8 211.4zM241.0 228.7L296.3 188.6L299.5 193.0L307.0 179.4L291.7 182.2L294.9 186.7L239.5 226.8zM279.3 182.4L329.1 134.9L332.8 138.9L338.4 124.4L323.6 129.3L327.4 133.2L277.7 180.7zM294.9 158.9L329.2 99.4L333.9 102.1L335.2 86.7L322.4 95.5L327.1 98.2L292.8 157.7zM248.7 221.0L302.2 177.5L305.7 181.7L312.3 167.7L297.3 171.4L300.7 175.6L247.1 219.1zM287.0 174.7L336.9 126.1L340.7 130.0L346.1 115.4L331.4 120.5L335.2 124.4L285.3 172.9z"/>
</g>
<use href="#star" x="141.8" y="187.5"/><use href="#star" x="179.6" y="299.7"/><use href="#star" x="188.6" y="392.5"/><use href="#star" x="137.7" y="414.8"/>
<text x="67.5" y="149.8" text-anchor="end" style="font-size:20px">37°N</text>
<text x="67.5" y="220.5" text-anchor="end" style="font-size:15.5px">30'</text>
<text x="67.5" y="293.9" text-anchor="end" style="font-size:20px">36°N</text>
<text x="67.5" y="363.7" text-anchor="end" style="font-size:15.5px">30'</text>
<text x="67.5" y="436.3" text-anchor="end" style="font-size:20px">35°N</text>
<text x="67.5" y="505.2" text-anchor="end" style="font-size:15.5px">30'</text>
<text x="67.5" y="576.9" text-anchor="end" style="font-size:20px">34°N</text>
<text x="74.5" y="587.4" text-anchor="middle" style="font-size:15.5px">30'</text>
<text x="135.6" y="590.8" text-anchor="middle" style="font-size:20px">76°W</text>
<text x="190.6" y="587.4" text-anchor="middle" style="font-size:15.5px">30'</text>
<text x="251.6" y="590.8" text-anchor="middle" style="font-size:20px">75°W</text>
<text x="306.6" y="587.4" text-anchor="middle" style="font-size:15.5px">30'</text>
<text x="367.6" y="590.8" text-anchor="middle" style="font-size:20px">74°W</text>
<text x="422.6" y="587.4" text-anchor="middle" style="font-size:15.5px">30'</text>
<text x="249.1" y="129.3" text-anchor="middle" style="font-size:25.0px;font-weight:bold">2023-07-29 13:00</text><text x="118.6" y="114.2" style="font-size:21px;fill:#262626">cm/s</text><rect x="85.3" y="158.3" width="112.4" height="25.1" fill="url(#jet)" stroke="#262626" stroke-width="1.2"/><line x1="85.3" y1="158.3" x2="85.3" y2="160.5" stroke="#262626" stroke-width="1"/><line x1="92.4" y1="158.3" x2="92.4" y2="160.5" stroke="#262626" stroke-width="1"/><line x1="99.4" y1="158.3" x2="99.4" y2="160.5" stroke="#262626" stroke-width="1"/><line x1="106.4" y1="158.3" x2="106.4" y2="160.5" stroke="#262626" stroke-width="1"/><line x1="113.4" y1="158.3" x2="113.4" y2="160.5" stroke="#262626" stroke-width="1"/><line x1="120.5" y1="158.3" x2="120.5" y2="160.5" stroke="#262626" stroke-width="1"/><line x1="127.5" y1="158.3" x2="127.5" y2="160.5" stroke="#262626" stroke-width="1"/><line x1="134.5" y1="158.3" x2="134.5" y2="160.5" stroke="#262626" stroke-width="1"/><line x1="141.6" y1="158.3" x2="141.6" y2="160.5" stroke="#262626" stroke-width="1"/><line x1="148.6" y1="158.3" x2="148.6" y2="160.5" stroke="#262626" stroke-width="1"/><line x1="155.6" y1="158.3" x2="155.6" y2="160.5" stroke="#262626" stroke-width="1"/><line x1="162.6" y1="158.3" x2="162.6" y2="160.5" stroke="#262626" stroke-width="1"/><line x1="169.7" y1="158.3" x2="169.7" y2="160.5" stroke="#262626" stroke-width="1"/><line x1="176.7" y1="158.3" x2="176.7" y2="160.5" stroke="#262626" stroke-width="1"/><line x1="183.7" y1="158.3" x2="183.7" y2="160.5" stroke="#262626" stroke-width="1"/><line x1="190.7" y1="158.3" x2="190.7" y2="160.5" stroke="#262626" stroke-width="1"/><line x1="197.8" y1="158.3" x2="197.8" y2="160.5" stroke="#262626" stroke-width="1"/><g style="font-size:18.7px" fill="#262626" stroke="#262626" stroke-width="1.3" text-anchor="middle"><text x="85.3" y="143.2" fill="#262626">0</text><text x="92.3" y="143.2" fill="#262626">10</text><text x="99.3" y="143.2" fill="#262626">20</text><text x="106.4" y="143.2" fill="#262626">30</text><text x="113.4" y="143.2" fill="#262626">40</text><text x="120.4" y="143.2" fill="#262626">50</text><text x="127.5" y="143.2" fill="#262626">60</text><text x="134.5" y="143.2" fill="#262626">70</text><text x="141.5" y="143.2" fill="#262626">80</text><text x="148.5" y="143.2" fill="#262626">90</text><text x="155.6" y="143.2" fill="#262626">100</text><text x="162.6" y="143.2" fill="#262626">110</text><text x="169.6" y="143.2" fill="#262626">120</text><text x="176.6" y="143.2" fill="#262626">130</text><text x="183.7" y="143.2" fill="#262626">140</text><text x="190.7" y="143.2" fill="#262626">150</text><text x="197.7" y="143.2" fill="#262626">160</text></g><path d="M122 128l12 0l-6 3zM143 129l16 3l-10 2zM160 130l14 3l-9 2z" fill="#c80000"/><path d="M180 122l16 9l-14 2z" fill="#ffe000"/><text x="387.6" y="204.9" text-anchor="middle" style="font-size:20px">50 cm/s</text><text x="388.7" y="243.1" text-anchor="middle" style="font-size:20px">10 km</text><line x1="383.1" y1="250.5" x2="394.6" y2="250.5" stroke="#000" stroke-width="3.6" stroke-linecap="round"/>
<g transform="translate(458.30,142.60)">
<g clip-path="url(#clip)">
<use href="#land"/><use href="#grid"/>
<g shape-rendering="crispEdges"><path fill="#00a7ff" d="M68.0 0.0h7.9v6.7h-7.9zM313.0 0.0h7.9v6.7h-7.9zM305.3 22.1h7.9v8.1h-7.9zM335.9 22.1h7.9v8.1h-7.9zM328.3 29.9h7.9v8.1h-7.9zM343.6 45.6h4.7v8.1h-4.7zM328.3 61.2h7.9v8.1h-7.9zM305.3 76.8h7.9v8.0h-7.9zM320.6 169.9h7.9v8.0h-7.9zM313.0 177.7h7.9v8.0h-7.9zM313.0 185.4h7.9v8.0h-7.9zM297.7 193.1h7.9v8.0h-7.9zM274.7 200.8h7.9v8.0h-7.9zM290.0 200.8h15.6v8.0h-15.6zM305.3 208.5h7.9v8.0h-7.9zM290.0 223.9h7.9v7.9h-7.9zM267.0 231.6h7.9v7.9h-7.9zM282.3 231.6h7.9v7.9h-7.9zM274.7 239.3h7.9v7.9h-7.9zM236.4 254.7h7.9v7.9h-7.9zM98.6 300.6h7.9v7.9h-7.9zM98.6 315.9h7.9v7.9h-7.9zM121.6 369.2h7.9v7.8h-7.9z"/><path fill="#0058ff" d="M75.7 0.0h7.9v6.7h-7.9zM313.0 6.4h7.9v8.1h-7.9zM297.7 14.2h7.9v8.1h-7.9zM267.0 22.1h7.9v8.1h-7.9zM282.3 22.1h15.6v8.1h-15.6zM328.3 22.1h7.9v8.1h-7.9zM282.3 29.9h7.9v8.1h-7.9zM313.0 29.9h7.9v8.1h-7.9zM274.7 37.7h7.9v8.1h-7.9zM305.3 45.6h7.9v8.1h-7.9zM328.3 45.6h7.9v8.1h-7.9zM297.7 61.2h7.9v8.1h-7.9zM313.0 61.2h15.6v8.1h-15.6zM83.3 69.0h7.9v8.0h-7.9zM259.4 69.0h7.9v8.0h-7.9zM290.0 69.0h7.9v8.0h-7.9zM297.7 84.6h7.9v8.0h-7.9zM282.3 100.1h7.9v8.0h-7.9zM305.3 107.9h15.6v8.0h-15.6zM305.3 131.2h7.9v8.0h-7.9zM282.3 139.0h7.9v8.0h-7.9zM290.0 146.7h7.9v8.0h-7.9zM244.1 208.5h7.9v8.0h-7.9zM129.3 216.2h7.9v7.9h-7.9zM236.4 216.2h15.6v7.9h-15.6zM228.8 223.9h15.6v7.9h-15.6zM213.5 231.6h15.6v7.9h-15.6zM236.4 231.6h7.9v7.9h-7.9zM167.5 239.3h7.9v7.9h-7.9zM244.1 239.3h7.9v7.9h-7.9zM205.8 247.0h7.9v7.9h-7.9zM228.8 247.0h7.9v7.9h-7.9zM198.2 254.7h15.6v7.9h-15.6zM167.5 277.7h7.9v7.9h-7.9zM175.2 300.6h7.9v7.9h-7.9zM106.3 315.9h7.9v7.9h-7.9z"/><path fill="#0038ff" d="M83.3 0.0h7.9v6.7h-7.9zM221.1 0.0h7.9v6.7h-7.9zM251.7 0.0h7.9v6.7h-7.9zM75.7 6.4h7.9v8.1h-7.9zM244.1 6.4h23.2v8.1h-23.2zM228.8 14.2h15.6v8.1h-15.6zM274.7 14.2h7.9v8.1h-7.9zM236.4 22.1h7.9v8.1h-7.9zM251.7 22.1h7.9v8.1h-7.9zM244.1 29.9h7.9v8.1h-7.9zM305.3 29.9h7.9v8.1h-7.9zM259.4 37.7h7.9v8.1h-7.9zM305.3 37.7h7.9v8.1h-7.9zM251.7 45.6h7.9v8.1h-7.9zM282.3 45.6h7.9v8.1h-7.9zM282.3 53.4h7.9v8.1h-7.9zM297.7 53.4h7.9v8.1h-7.9zM267.0 61.2h7.9v8.1h-7.9zM290.0 61.2h7.9v8.1h-7.9zM282.3 69.0h7.9v8.0h-7.9zM297.7 69.0h7.9v8.0h-7.9zM267.0 76.8h7.9v8.0h-7.9zM290.0 76.8h7.9v8.0h-7.9zM305.3 84.6h7.9v8.0h-7.9zM259.4 92.4h7.9v8.0h-7.9zM282.3 92.4h7.9v8.0h-7.9zM305.3 92.4h15.6v8.0h-15.6zM267.0 100.1h7.9v8.0h-7.9zM290.0 100.1h7.9v8.0h-7.9zM282.3 107.9h7.9v8.0h-7.9zM106.3 115.7h7.9v8.0h-7.9zM274.7 115.7h15.6v8.0h-15.6zM259.4 123.5h7.9v8.0h-7.9zM282.3 123.5h7.9v8.0h-7.9zM313.0 123.5h7.9v8.0h-7.9zM290.0 131.2h7.9v8.0h-7.9zM313.0 131.2h7.9v8.0h-7.9zM251.7 139.0h15.6v8.0h-15.6zM290.0 139.0h7.9v8.0h-7.9zM297.7 146.7h15.6v8.0h-15.6zM259.4 154.5h7.9v8.0h-7.9zM274.7 154.5h7.9v8.0h-7.9zM297.7 162.2h7.9v8.0h-7.9zM121.6 169.9h7.9v8.0h-7.9zM274.7 169.9h7.9v8.0h-7.9zM290.0 169.9h7.9v8.0h-7.9zM267.0 177.7h15.6v8.0h-15.6zM282.3 185.4h7.9v8.0h-7.9zM259.4 193.1h7.9v8.0h-7.9zM274.7 193.1h15.6v8.0h-15.6zM251.7 200.8h7.9v8.0h-7.9zM267.0 200.8h7.9v8.0h-7.9zM129.3 208.5h7.9v8.0h-7.9zM228.8 216.2h7.9v7.9h-7.9zM144.6 231.6h7.9v7.9h-7.9zM144.6 239.3h7.9v7.9h-7.9zM190.5 239.3h15.6v7.9h-15.6zM228.8 239.3h7.9v7.9h-7.9zM152.2 247.0h15.6v7.9h-15.6zM175.2 247.0h7.9v7.9h-7.9zM221.1 247.0h7.9v7.9h-7.9zM244.1 247.0h7.9v7.9h-7.9zM159.9 254.7h7.9v7.9h-7.9zM167.5 270.0h7.9v7.9h-7.9zM167.5 293.0h7.9v7.9h-7.9zM167.5 300.6h7.9v7.9h-7.9zM106.3 308.2h7.9v7.9h-7.9zM114.0 323.5h7.9v7.9h-7.9zM114.0 331.1h7.9v7.9h-7.9z"/><path fill="#0028ff" d="M91.0 0.0h7.9v6.7h-7.9zM205.8 0.0h7.9v6.7h-7.9zM228.8 0.0h7.9v6.7h-7.9zM244.1 0.0h7.9v6.7h-7.9zM259.4 0.0h7.9v6.7h-7.9zM267.0 6.4h7.9v8.1h-7.9zM259.4 14.2h7.9v8.1h-7.9zM228.8 22.1h7.9v8.1h-7.9zM274.7 22.1h7.9v8.1h-7.9zM267.0 29.9h7.9v8.1h-7.9zM228.8 37.7h7.9v8.1h-7.9zM267.0 37.7h7.9v8.1h-7.9zM297.7 37.7h7.9v8.1h-7.9zM259.4 45.6h7.9v8.1h-7.9zM274.7 45.6h7.9v8.1h-7.9zM267.0 53.4h15.6v8.1h-15.6zM305.3 53.4h7.9v8.1h-7.9zM251.7 61.2h15.6v8.1h-15.6zM91.0 76.8h7.9v8.0h-7.9zM251.7 76.8h7.9v8.0h-7.9zM274.7 76.8h7.9v8.0h-7.9zM98.6 92.4h7.9v8.0h-7.9zM274.7 92.4h7.9v8.0h-7.9zM251.7 100.1h7.9v8.0h-7.9zM106.3 107.9h7.9v8.0h-7.9zM251.7 107.9h7.9v8.0h-7.9zM297.7 107.9h7.9v8.0h-7.9zM297.7 115.7h7.9v8.0h-7.9zM106.3 123.5h7.9v8.0h-7.9zM274.7 123.5h7.9v8.0h-7.9zM290.0 123.5h15.6v8.0h-15.6zM244.1 131.2h7.9v8.0h-7.9zM267.0 131.2h7.9v8.0h-7.9zM282.3 131.2h7.9v8.0h-7.9zM267.0 139.0h7.9v8.0h-7.9zM106.3 146.7h7.9v8.0h-7.9zM259.4 146.7h15.6v8.0h-15.6zM121.6 154.5h7.9v8.0h-7.9zM251.7 162.2h7.9v8.0h-7.9zM244.1 169.9h7.9v8.0h-7.9zM259.4 169.9h7.9v8.0h-7.9zM251.7 177.7h15.6v8.0h-15.6zM290.0 177.7h7.9v8.0h-7.9zM274.7 185.4h7.9v8.0h-7.9zM267.0 193.1h7.9v8.0h-7.9zM244.1 200.8h7.9v8.0h-7.9zM259.4 200.8h7.9v8.0h-7.9zM136.9 216.2h7.9v7.9h-7.9zM221.1 216.2h7.9v7.9h-7.9zM136.9 223.9h7.9v7.9h-7.9zM129.3 231.6h7.9v7.9h-7.9zM182.8 231.6h7.9v7.9h-7.9zM205.8 231.6h7.9v7.9h-7.9zM228.8 231.6h7.9v7.9h-7.9zM244.1 231.6h7.9v7.9h-7.9zM136.9 239.3h7.9v7.9h-7.9zM205.8 239.3h7.9v7.9h-7.9zM129.3 247.0h7.9v7.9h-7.9zM144.6 247.0h7.9v7.9h-7.9zM152.2 254.7h7.9v7.9h-7.9zM159.9 262.3h7.9v7.9h-7.9zM159.9 270.0h7.9v7.9h-7.9zM159.9 277.7h7.9v7.9h-7.9zM159.9 285.3h7.9v7.9h-7.9zM159.9 293.0h7.9v7.9h-7.9zM106.3 300.6h7.9v7.9h-7.9zM159.9 300.6h7.9v7.9h-7.9z"/><path fill="#0008ff" d="M98.6 0.0h46.2v6.7h-46.2zM159.9 0.0h15.6v6.7h-15.6zM182.8 0.0h15.6v6.7h-15.6zM91.0 6.4h7.9v8.1h-7.9zM190.5 6.4h15.6v8.1h-15.6zM83.3 14.2h7.9v8.1h-7.9zM190.5 14.2h7.9v8.1h-7.9zM221.1 14.2h7.9v8.1h-7.9zM205.8 22.1h7.9v8.1h-7.9zM198.2 29.9h7.9v8.1h-7.9zM213.5 29.9h15.6v8.1h-15.6zM236.4 29.9h7.9v8.1h-7.9zM213.5 37.7h15.6v8.1h-15.6zM236.4 37.7h7.9v8.1h-7.9zM221.1 45.6h23.2v8.1h-23.2zM221.1 53.4h7.9v8.1h-7.9zM244.1 53.4h7.9v8.1h-7.9zM213.5 61.2h7.9v8.1h-7.9zM228.8 61.2h15.6v8.1h-15.6zM91.0 69.0h7.9v8.0h-7.9zM236.4 69.0h7.9v8.0h-7.9zM251.7 69.0h7.9v8.0h-7.9zM236.4 76.8h7.9v8.0h-7.9zM98.6 84.6h7.9v8.0h-7.9zM228.8 84.6h7.9v8.0h-7.9zM251.7 84.6h7.9v8.0h-7.9zM236.4 92.4h7.9v8.0h-7.9zM106.3 100.1h7.9v8.0h-7.9zM244.1 100.1h7.9v8.0h-7.9zM114.0 107.9h7.9v8.0h-7.9zM236.4 107.9h7.9v8.0h-7.9zM274.7 107.9h7.9v8.0h-7.9zM114.0 115.7h7.9v8.0h-7.9zM236.4 115.7h30.9v8.0h-30.9zM228.8 123.5h7.9v8.0h-7.9zM106.3 131.2h7.9v8.0h-7.9zM228.8 131.2h15.6v8.0h-15.6zM251.7 131.2h15.6v8.0h-15.6zM114.0 139.0h30.9v8.0h-30.9zM121.6 146.7h7.9v8.0h-7.9zM251.7 146.7h7.9v8.0h-7.9zM221.1 162.2h15.6v8.0h-15.6zM244.1 162.2h7.9v8.0h-7.9zM228.8 169.9h15.6v8.0h-15.6zM251.7 169.9h7.9v8.0h-7.9zM267.0 169.9h7.9v8.0h-7.9zM228.8 177.7h23.2v8.0h-23.2zM228.8 185.4h7.9v8.0h-7.9zM244.1 185.4h7.9v8.0h-7.9zM129.3 193.1h7.9v8.0h-7.9zM228.8 193.1h7.9v8.0h-7.9zM205.8 200.8h7.9v8.0h-7.9zM228.8 200.8h15.6v8.0h-15.6zM205.8 208.5h7.9v8.0h-7.9zM228.8 208.5h7.9v8.0h-7.9zM182.8 216.2h7.9v7.9h-7.9zM198.2 216.2h15.6v7.9h-15.6zM144.6 223.9h15.6v7.9h-15.6zM167.5 223.9h38.5v7.9h-38.5zM213.5 223.9h7.9v7.9h-7.9zM121.6 231.6h7.9v7.9h-7.9zM152.2 231.6h7.9v7.9h-7.9zM175.2 231.6h7.9v7.9h-7.9zM190.5 231.6h15.6v7.9h-15.6zM129.3 239.3h7.9v7.9h-7.9zM175.2 239.3h7.9v7.9h-7.9zM136.9 254.7h7.9v7.9h-7.9zM144.6 262.3h7.9v7.9h-7.9zM144.6 270.0h15.6v7.9h-15.6zM152.2 285.3h7.9v7.9h-7.9zM144.6 300.6h7.9v7.9h-7.9zM114.0 308.2h7.9v7.9h-7.9zM144.6 308.2h7.9v7.9h-7.9zM136.9 315.9h7.9v7.9h-7.9zM121.6 323.5h15.6v7.9h-15.6z"/><path fill="#0018ff" d="M144.6 0.0h7.9v6.7h-7.9zM198.2 0.0h7.9v6.7h-7.9zM213.5 0.0h7.9v6.7h-7.9zM83.3 6.4h7.9v8.1h-7.9zM205.8 6.4h38.5v8.1h-38.5zM75.7 14.2h7.9v8.1h-7.9zM205.8 14.2h15.6v8.1h-15.6zM251.7 14.2h7.9v8.1h-7.9zM221.1 22.1h7.9v8.1h-7.9zM244.1 22.1h7.9v8.1h-7.9zM259.4 22.1h7.9v8.1h-7.9zM228.8 29.9h7.9v8.1h-7.9zM251.7 29.9h7.9v8.1h-7.9zM244.1 37.7h15.6v8.1h-15.6zM244.1 45.6h7.9v8.1h-7.9zM228.8 53.4h15.6v8.1h-15.6zM251.7 53.4h15.6v8.1h-15.6zM83.3 61.2h7.9v8.1h-7.9zM244.1 61.2h7.9v8.1h-7.9zM274.7 61.2h7.9v8.1h-7.9zM259.4 76.8h7.9v8.0h-7.9zM282.3 76.8h7.9v8.0h-7.9zM236.4 84.6h15.6v8.0h-15.6zM259.4 84.6h23.2v8.0h-23.2zM290.0 84.6h7.9v8.0h-7.9zM267.0 92.4h7.9v8.0h-7.9zM259.4 100.1h7.9v8.0h-7.9zM259.4 107.9h15.6v8.0h-15.6zM290.0 115.7h7.9v8.0h-7.9zM114.0 123.5h7.9v8.0h-7.9zM251.7 123.5h7.9v8.0h-7.9zM267.0 123.5h7.9v8.0h-7.9zM114.0 131.2h7.9v8.0h-7.9zM297.7 131.2h7.9v8.0h-7.9zM106.3 139.0h7.9v8.0h-7.9zM236.4 139.0h15.6v8.0h-15.6zM274.7 139.0h7.9v8.0h-7.9zM114.0 146.7h7.9v8.0h-7.9zM274.7 146.7h7.9v8.0h-7.9zM236.4 154.5h7.9v8.0h-7.9zM251.7 154.5h7.9v8.0h-7.9zM267.0 154.5h7.9v8.0h-7.9zM259.4 162.2h15.6v8.0h-15.6zM282.3 162.2h7.9v8.0h-7.9zM236.4 185.4h7.9v8.0h-7.9zM251.7 185.4h23.2v8.0h-23.2zM236.4 193.1h23.2v8.0h-23.2zM129.3 200.8h7.9v8.0h-7.9zM136.9 208.5h7.9v8.0h-7.9zM213.5 208.5h7.9v8.0h-7.9zM236.4 208.5h7.9v8.0h-7.9zM144.6 216.2h7.9v7.9h-7.9zM213.5 216.2h7.9v7.9h-7.9zM121.6 223.9h15.6v7.9h-15.6zM205.8 223.9h7.9v7.9h-7.9zM221.1 223.9h7.9v7.9h-7.9zM159.9 231.6h15.6v7.9h-15.6zM152.2 239.3h15.6v7.9h-15.6zM182.8 239.3h7.9v7.9h-7.9zM114.0 247.0h15.6v7.9h-15.6zM182.8 247.0h15.6v7.9h-15.6zM144.6 254.7h7.9v7.9h-7.9zM152.2 262.3h7.9v7.9h-7.9zM106.3 277.7h7.9v7.9h-7.9zM152.2 277.7h7.9v7.9h-7.9zM106.3 285.3h7.9v7.9h-7.9zM106.3 293.0h7.9v7.9h-7.9zM114.0 315.9h7.9v7.9h-7.9z"/><path fill="#0000f7" d="M152.2 0.0h7.9v6.7h-7.9zM175.2 0.0h7.9v6.7h-7.9zM98.6 6.4h46.2v8.1h-46.2zM159.9 6.4h30.9v8.1h-30.9zM91.0 14.2h7.9v8.1h-7.9zM106.3 14.2h7.9v8.1h-7.9zM121.6 14.2h7.9v8.1h-7.9zM136.9 14.2h7.9v8.1h-7.9zM167.5 14.2h23.2v8.1h-23.2zM198.2 14.2h7.9v8.1h-7.9zM75.7 22.1h7.9v8.1h-7.9zM190.5 22.1h15.6v8.1h-15.6zM213.5 22.1h7.9v8.1h-7.9zM167.5 29.9h7.9v8.1h-7.9zM182.8 29.9h7.9v8.1h-7.9zM205.8 29.9h7.9v8.1h-7.9zM190.5 37.7h23.2v8.1h-23.2zM198.2 45.6h23.2v8.1h-23.2zM198.2 53.4h23.2v8.1h-23.2zM198.2 61.2h7.9v8.1h-7.9zM221.1 61.2h7.9v8.1h-7.9zM205.8 69.0h30.9v8.0h-30.9zM244.1 69.0h7.9v8.0h-7.9zM98.6 76.8h7.9v8.0h-7.9zM221.1 76.8h15.6v8.0h-15.6zM244.1 76.8h7.9v8.0h-7.9zM205.8 84.6h7.9v8.0h-7.9zM221.1 84.6h7.9v8.0h-7.9zM106.3 92.4h7.9v8.0h-7.9zM213.5 92.4h23.2v8.0h-23.2zM244.1 92.4h15.6v8.0h-15.6zM114.0 100.1h7.9v8.0h-7.9zM221.1 100.1h23.2v8.0h-23.2zM221.1 107.9h15.6v8.0h-15.6zM244.1 107.9h7.9v8.0h-7.9zM121.6 115.7h7.9v8.0h-7.9zM221.1 115.7h15.6v8.0h-15.6zM121.6 123.5h7.9v8.0h-7.9zM213.5 123.5h15.6v8.0h-15.6zM236.4 123.5h15.6v8.0h-15.6zM121.6 131.2h7.9v8.0h-7.9zM213.5 131.2h15.6v8.0h-15.6zM221.1 139.0h15.6v8.0h-15.6zM221.1 146.7h30.9v8.0h-30.9zM213.5 154.5h23.2v8.0h-23.2zM244.1 154.5h7.9v8.0h-7.9zM213.5 162.2h7.9v8.0h-7.9zM236.4 162.2h7.9v8.0h-7.9zM205.8 169.9h23.2v8.0h-23.2zM221.1 177.7h7.9v8.0h-7.9zM129.3 185.4h7.9v8.0h-7.9zM205.8 185.4h23.2v8.0h-23.2zM213.5 193.1h15.6v8.0h-15.6zM136.9 200.8h7.9v8.0h-7.9zM198.2 200.8h7.9v8.0h-7.9zM213.5 200.8h15.6v8.0h-15.6zM144.6 208.5h7.9v8.0h-7.9zM175.2 208.5h7.9v8.0h-7.9zM190.5 208.5h15.6v8.0h-15.6zM221.1 208.5h7.9v8.0h-7.9zM152.2 216.2h7.9v7.9h-7.9zM167.5 216.2h15.6v7.9h-15.6zM190.5 216.2h7.9v7.9h-7.9zM159.9 223.9h7.9v7.9h-7.9zM136.9 262.3h7.9v7.9h-7.9zM144.6 277.7h7.9v7.9h-7.9zM144.6 285.3h7.9v7.9h-7.9zM144.6 293.0h7.9v7.9h-7.9zM136.9 300.6h7.9v7.9h-7.9zM136.9 308.2h7.9v7.9h-7.9zM121.6 315.9h15.6v7.9h-15.6z"/><path fill="#0048ff" d="M236.4 0.0h7.9v6.7h-7.9zM267.0 0.0h30.9v6.7h-30.9zM274.7 6.4h7.9v8.1h-7.9zM244.1 14.2h7.9v8.1h-7.9zM267.0 14.2h7.9v8.1h-7.9zM313.0 14.2h15.6v8.1h-15.6zM259.4 29.9h7.9v8.1h-7.9zM290.0 37.7h7.9v8.1h-7.9zM313.0 37.7h15.6v8.1h-15.6zM267.0 45.6h7.9v8.1h-7.9zM290.0 45.6h7.9v8.1h-7.9zM313.0 45.6h15.6v8.1h-15.6zM313.0 53.4h15.6v8.1h-15.6zM282.3 61.2h7.9v8.1h-7.9zM267.0 69.0h15.6v8.0h-15.6zM320.6 69.0h7.9v8.0h-7.9zM313.0 84.6h23.2v8.0h-23.2zM290.0 92.4h7.9v8.0h-7.9zM320.6 92.4h7.9v8.0h-7.9zM297.7 100.1h15.6v8.0h-15.6zM320.6 100.1h7.9v8.0h-7.9zM267.0 115.7h7.9v8.0h-7.9zM305.3 123.5h7.9v8.0h-7.9zM274.7 131.2h7.9v8.0h-7.9zM305.3 139.0h7.9v8.0h-7.9zM282.3 146.7h7.9v8.0h-7.9zM282.3 154.5h30.9v8.0h-30.9zM274.7 162.2h7.9v8.0h-7.9zM290.0 162.2h7.9v8.0h-7.9zM297.7 169.9h7.9v8.0h-7.9zM282.3 177.7h7.9v8.0h-7.9zM251.7 208.5h15.6v8.0h-15.6zM136.9 231.6h7.9v7.9h-7.9zM121.6 239.3h7.9v7.9h-7.9zM236.4 239.3h7.9v7.9h-7.9zM136.9 247.0h7.9v7.9h-7.9zM167.5 247.0h7.9v7.9h-7.9zM213.5 247.0h7.9v7.9h-7.9zM236.4 247.0h7.9v7.9h-7.9zM167.5 254.7h7.9v7.9h-7.9zM228.8 254.7h7.9v7.9h-7.9zM167.5 262.3h7.9v7.9h-7.9zM167.5 285.3h7.9v7.9h-7.9zM175.2 293.0h7.9v7.9h-7.9z"/><path fill="#00f7ff" d="M297.7 0.0h15.6v6.7h-15.6zM328.3 14.2h7.9v8.1h-7.9zM343.6 14.2h4.7v8.1h-4.7zM328.3 100.1h7.9v8.0h-7.9zM313.0 154.5h7.9v8.0h-7.9zM328.3 154.5h15.6v8.0h-15.6zM305.3 169.9h7.9v8.0h-7.9zM313.0 193.1h7.9v8.0h-7.9zM320.6 200.8h7.9v8.0h-7.9zM335.9 200.8h7.9v8.0h-7.9zM320.6 231.6h7.9v7.9h-7.9zM297.7 239.3h23.2v7.9h-23.2zM274.7 247.0h7.9v7.9h-7.9zM251.7 254.7h7.9v7.9h-7.9zM236.4 262.3h7.9v7.9h-7.9zM213.5 270.0h7.9v7.9h-7.9zM244.1 270.0h7.9v7.9h-7.9zM244.1 277.7h7.9v7.9h-7.9zM106.3 354.0h7.9v7.9h-7.9zM114.0 369.2h7.9v7.8h-7.9z"/><path fill="#18ffe7" d="M320.6 0.0h7.9v6.7h-7.9zM91.0 100.1h7.9v8.0h-7.9zM328.3 123.5h7.9v8.0h-7.9zM320.6 131.2h7.9v8.0h-7.9zM328.3 139.0h7.9v8.0h-7.9zM328.3 177.7h7.9v8.0h-7.9zM328.3 193.1h20.0v8.0h-20.0zM305.3 200.8h15.6v8.0h-15.6zM320.6 216.2h7.9v7.9h-7.9zM320.6 223.9h7.9v7.9h-7.9zM343.6 239.3h4.7v7.9h-4.7zM274.7 254.7h7.9v7.9h-7.9zM305.3 262.3h7.9v7.9h-7.9zM267.0 270.0h7.9v7.9h-7.9zM282.3 277.7h7.9v7.9h-7.9zM106.3 361.6h7.9v7.9h-7.9z"/><path fill="#00b7ff" d="M328.3 0.0h7.9v6.7h-7.9zM320.6 22.1h7.9v8.1h-7.9zM91.0 92.4h7.9v8.0h-7.9zM98.6 115.7h7.9v8.0h-7.9zM313.0 169.9h7.9v8.0h-7.9zM274.7 216.2h7.9v7.9h-7.9zM274.7 223.9h7.9v7.9h-7.9zM305.3 223.9h7.9v7.9h-7.9zM267.0 239.3h7.9v7.9h-7.9zM282.3 239.3h7.9v7.9h-7.9zM251.7 247.0h7.9v7.9h-7.9zM244.1 254.7h7.9v7.9h-7.9zM228.8 262.3h7.9v7.9h-7.9zM244.1 262.3h7.9v7.9h-7.9zM98.6 285.3h7.9v7.9h-7.9zM98.6 323.5h7.9v7.9h-7.9zM106.3 338.8h7.9v7.9h-7.9z"/><path fill="#28ffd7" d="M335.9 0.0h7.9v6.7h-7.9zM320.6 6.4h7.9v8.1h-7.9zM343.6 84.6h4.7v8.0h-4.7zM343.6 154.5h4.7v8.0h-4.7zM313.0 162.2h7.9v8.0h-7.9zM320.6 208.5h7.9v8.0h-7.9zM313.0 216.2h7.9v7.9h-7.9zM343.6 216.2h4.7v7.9h-4.7zM320.6 254.7h7.9v7.9h-7.9zM205.8 262.3h7.9v7.9h-7.9zM313.0 262.3h7.9v7.9h-7.9zM205.8 270.0h7.9v7.9h-7.9zM98.6 277.7h7.9v7.9h-7.9zM213.5 277.7h7.9v7.9h-7.9zM290.0 277.7h15.6v7.9h-15.6zM213.5 285.3h15.6v7.9h-15.6zM267.0 285.3h15.6v7.9h-15.6z"/><path fill="#0078ff" d="M68.0 6.4h7.9v8.1h-7.9zM282.3 6.4h7.9v8.1h-7.9zM313.0 22.1h7.9v8.1h-7.9zM274.7 29.9h7.9v8.1h-7.9zM282.3 37.7h7.9v8.1h-7.9zM328.3 37.7h15.6v8.1h-15.6zM335.9 45.6h7.9v8.1h-7.9zM328.3 53.4h7.9v8.1h-7.9zM282.3 84.6h7.9v8.0h-7.9zM297.7 92.4h7.9v8.0h-7.9zM274.7 208.5h7.9v8.0h-7.9zM251.7 216.2h15.6v7.9h-15.6zM251.7 223.9h23.2v7.9h-23.2zM221.1 239.3h7.9v7.9h-7.9zM198.2 247.0h7.9v7.9h-7.9zM175.2 254.7h15.6v7.9h-15.6zM213.5 254.7h7.9v7.9h-7.9zM213.5 262.3h7.9v7.9h-7.9zM182.8 293.0h7.9v7.9h-7.9z"/><path fill="#0000e7" d="M144.6 6.4h15.6v8.1h-15.6zM98.6 14.2h7.9v8.1h-7.9zM114.0 14.2h7.9v8.1h-7.9zM129.3 14.2h7.9v8.1h-7.9zM144.6 14.2h23.2v8.1h-23.2zM83.3 22.1h15.6v8.1h-15.6zM121.6 22.1h23.2v8.1h-23.2zM159.9 22.1h30.9v8.1h-30.9zM136.9 29.9h15.6v8.1h-15.6zM159.9 29.9h7.9v8.1h-7.9zM175.2 29.9h7.9v8.1h-7.9zM190.5 29.9h7.9v8.1h-7.9zM159.9 37.7h30.9v8.1h-30.9zM167.5 45.6h30.9v8.1h-30.9zM83.3 53.4h7.9v8.1h-7.9zM182.8 53.4h15.6v8.1h-15.6zM91.0 61.2h7.9v8.1h-7.9zM175.2 61.2h7.9v8.1h-7.9zM190.5 61.2h7.9v8.1h-7.9zM205.8 61.2h7.9v8.1h-7.9zM98.6 69.0h7.9v8.0h-7.9zM190.5 69.0h15.6v8.0h-15.6zM182.8 76.8h38.5v8.0h-38.5zM106.3 84.6h7.9v8.0h-7.9zM190.5 84.6h15.6v8.0h-15.6zM213.5 84.6h7.9v8.0h-7.9zM114.0 92.4h7.9v8.0h-7.9zM190.5 92.4h23.2v8.0h-23.2zM121.6 100.1h7.9v8.0h-7.9zM190.5 100.1h30.9v8.0h-30.9zM121.6 107.9h7.9v8.0h-7.9zM198.2 107.9h23.2v8.0h-23.2zM182.8 115.7h7.9v8.0h-7.9zM198.2 115.7h23.2v8.0h-23.2zM190.5 123.5h23.2v8.0h-23.2zM190.5 131.2h23.2v8.0h-23.2zM190.5 139.0h30.9v8.0h-30.9zM190.5 146.7h30.9v8.0h-30.9zM190.5 154.5h23.2v8.0h-23.2zM190.5 162.2h23.2v8.0h-23.2zM198.2 169.9h7.9v8.0h-7.9zM129.3 177.7h7.9v8.0h-7.9zM190.5 177.7h30.9v8.0h-30.9zM136.9 185.4h7.9v8.0h-7.9zM198.2 185.4h7.9v8.0h-7.9zM136.9 193.1h15.6v8.0h-15.6zM175.2 193.1h38.5v8.0h-38.5zM144.6 200.8h53.8v8.0h-53.8zM152.2 208.5h23.2v8.0h-23.2zM182.8 208.5h7.9v8.0h-7.9zM159.9 216.2h7.9v7.9h-7.9zM129.3 254.7h7.9v7.9h-7.9zM136.9 270.0h7.9v7.9h-7.9zM136.9 277.7h7.9v7.9h-7.9zM136.9 285.3h7.9v7.9h-7.9zM114.0 293.0h7.9v7.9h-7.9zM136.9 293.0h7.9v7.9h-7.9zM114.0 300.6h7.9v7.9h-7.9zM129.3 300.6h7.9v7.9h-7.9zM121.6 308.2h15.6v7.9h-15.6z"/><path fill="#0097ff" d="M290.0 6.4h7.9v8.1h-7.9zM335.9 29.9h7.9v8.1h-7.9zM328.3 69.0h7.9v8.0h-7.9zM98.6 107.9h7.9v8.0h-7.9zM290.0 185.4h7.9v8.0h-7.9zM282.3 200.8h7.9v8.0h-7.9zM282.3 208.5h7.9v8.0h-7.9zM282.3 216.2h7.9v7.9h-7.9zM259.4 231.6h7.9v7.9h-7.9zM251.7 239.3h15.6v7.9h-15.6zM98.6 293.0h7.9v7.9h-7.9zM98.6 308.2h7.9v7.9h-7.9zM114.0 354.0h7.9v7.9h-7.9zM121.6 361.6h7.9v7.9h-7.9z"/><path fill="#00e7ff" d="M297.7 6.4h7.9v8.1h-7.9zM328.3 6.4h7.9v8.1h-7.9zM83.3 76.8h7.9v8.0h-7.9zM313.0 139.0h7.9v8.0h-7.9zM320.6 146.7h7.9v8.0h-7.9zM335.9 169.9h7.9v8.0h-7.9zM335.9 177.7h7.9v8.0h-7.9zM305.3 185.4h7.9v8.0h-7.9zM328.3 185.4h7.9v8.0h-7.9zM335.9 208.5h7.9v8.0h-7.9zM297.7 216.2h7.9v7.9h-7.9zM335.9 216.2h7.9v7.9h-7.9zM290.0 239.3h7.9v7.9h-7.9zM267.0 247.0h7.9v7.9h-7.9zM290.0 247.0h7.9v7.9h-7.9zM259.4 254.7h7.9v7.9h-7.9zM274.7 262.3h7.9v7.9h-7.9zM98.6 331.1h7.9v7.9h-7.9z"/><path fill="#0068ff" d="M305.3 6.4h7.9v8.1h-7.9zM282.3 14.2h15.6v8.1h-15.6zM290.0 29.9h15.6v8.1h-15.6zM320.6 29.9h7.9v8.1h-7.9zM297.7 45.6h7.9v8.1h-7.9zM297.7 76.8h7.9v8.0h-7.9zM313.0 76.8h15.6v8.0h-15.6zM91.0 84.6h7.9v8.0h-7.9zM328.3 92.4h7.9v8.0h-7.9zM98.6 100.1h7.9v8.0h-7.9zM290.0 107.9h7.9v8.0h-7.9zM320.6 107.9h7.9v8.0h-7.9zM313.0 115.7h7.9v8.0h-7.9zM297.7 139.0h7.9v8.0h-7.9zM282.3 169.9h7.9v8.0h-7.9zM267.0 208.5h7.9v8.0h-7.9zM267.0 216.2h7.9v7.9h-7.9zM244.1 223.9h7.9v7.9h-7.9zM213.5 239.3h7.9v7.9h-7.9zM175.2 277.7h7.9v7.9h-7.9zM175.2 285.3h7.9v7.9h-7.9zM106.3 323.5h7.9v7.9h-7.9zM114.0 338.8h7.9v7.9h-7.9zM121.6 354.0h7.9v7.9h-7.9zM129.3 361.6h7.9v7.9h-7.9z"/><path fill="#87ff78" d="M335.9 6.4h7.9v8.1h-7.9zM343.6 61.2h4.7v8.1h-4.7zM343.6 100.1h4.7v8.0h-4.7zM328.3 162.2h7.9v8.0h-7.9zM328.3 169.9h7.9v8.0h-7.9zM328.3 200.8h7.9v8.0h-7.9zM343.6 270.0h4.7v7.9h-4.7zM213.5 293.0h7.9v7.9h-7.9zM236.4 293.0h15.6v7.9h-15.6zM313.0 293.0h7.9v7.9h-7.9zM267.0 300.6h15.6v7.9h-15.6zM267.0 308.2h7.9v7.9h-7.9zM98.6 361.6h7.9v7.9h-7.9zM106.3 384.4h7.9v7.8h-7.9z"/><path fill="#08fff7" d="M305.3 14.2h7.9v8.1h-7.9zM335.9 107.9h7.9v8.0h-7.9zM320.6 162.2h7.9v8.0h-7.9zM335.9 162.2h7.9v8.0h-7.9zM297.7 223.9h7.9v7.9h-7.9zM313.0 223.9h7.9v7.9h-7.9zM267.0 254.7h7.9v7.9h-7.9zM290.0 254.7h15.6v7.9h-15.6zM251.7 262.3h7.9v7.9h-7.9zM267.0 262.3h7.9v7.9h-7.9zM198.2 270.0h7.9v7.9h-7.9zM228.8 270.0h7.9v7.9h-7.9zM259.4 270.0h7.9v7.9h-7.9zM228.8 277.7h7.9v7.9h-7.9zM267.0 277.7h7.9v7.9h-7.9zM98.6 338.8h7.9v7.9h-7.9zM114.0 376.8h7.9v7.8h-7.9z"/><path fill="#58ffa7" d="M335.9 14.2h7.9v8.1h-7.9zM335.9 76.8h7.9v8.0h-7.9zM335.9 100.1h7.9v8.0h-7.9zM343.6 115.7h4.7v8.0h-4.7zM343.6 139.0h4.7v8.0h-4.7zM313.0 146.7h7.9v8.0h-7.9zM343.6 146.7h4.7v8.0h-4.7zM343.6 223.9h4.7v7.9h-4.7zM335.9 247.0h7.9v7.9h-7.9zM313.0 254.7h7.9v7.9h-7.9zM274.7 270.0h15.6v7.9h-15.6zM221.1 277.7h7.9v7.9h-7.9zM205.8 293.0h7.9v7.9h-7.9z"/><path fill="#0000d7" d="M98.6 22.1h23.2v8.1h-23.2zM144.6 22.1h15.6v8.1h-15.6zM75.7 29.9h61.5v8.1h-61.5zM152.2 29.9h7.9v8.1h-7.9zM106.3 37.7h53.8v8.1h-53.8zM75.7 45.6h7.9v8.1h-7.9zM129.3 45.6h7.9v8.1h-7.9zM144.6 45.6h23.2v8.1h-23.2zM91.0 53.4h7.9v8.1h-7.9zM114.0 53.4h7.9v8.1h-7.9zM144.6 53.4h38.5v8.1h-38.5zM98.6 61.2h7.9v8.1h-7.9zM129.3 61.2h7.9v8.1h-7.9zM152.2 61.2h23.2v8.1h-23.2zM182.8 61.2h7.9v8.1h-7.9zM106.3 69.0h7.9v8.0h-7.9zM159.9 69.0h30.9v8.0h-30.9zM106.3 76.8h15.6v8.0h-15.6zM159.9 76.8h23.2v8.0h-23.2zM114.0 84.6h15.6v8.0h-15.6zM136.9 84.6h7.9v8.0h-7.9zM167.5 84.6h23.2v8.0h-23.2zM121.6 92.4h15.6v8.0h-15.6zM152.2 92.4h38.5v8.0h-38.5zM129.3 100.1h15.6v8.0h-15.6zM152.2 100.1h38.5v8.0h-38.5zM129.3 107.9h69.1v8.0h-69.1zM129.3 115.7h53.8v8.0h-53.8zM190.5 115.7h7.9v8.0h-7.9zM129.3 123.5h61.5v8.0h-61.5zM129.3 131.2h61.5v8.0h-61.5zM144.6 139.0h46.2v8.0h-46.2zM159.9 146.7h30.9v8.0h-30.9zM159.9 154.5h30.9v8.0h-30.9zM167.5 162.2h23.2v8.0h-23.2zM129.3 169.9h7.9v8.0h-7.9zM167.5 169.9h30.9v8.0h-30.9zM136.9 177.7h15.6v8.0h-15.6zM167.5 177.7h23.2v8.0h-23.2zM144.6 185.4h53.8v8.0h-53.8zM152.2 193.1h23.2v8.0h-23.2zM121.6 254.7h7.9v7.9h-7.9zM129.3 262.3h7.9v7.9h-7.9zM129.3 270.0h7.9v7.9h-7.9zM129.3 277.7h7.9v7.9h-7.9zM114.0 285.3h7.9v7.9h-7.9zM129.3 285.3h7.9v7.9h-7.9zM129.3 293.0h7.9v7.9h-7.9zM121.6 300.6h7.9v7.9h-7.9z"/><path fill="#0087ff" d="M297.7 22.1h7.9v8.1h-7.9zM290.0 53.4h7.9v8.1h-7.9zM305.3 61.2h7.9v8.1h-7.9zM305.3 69.0h15.6v8.0h-15.6zM328.3 76.8h7.9v8.0h-7.9zM274.7 100.1h7.9v8.0h-7.9zM305.3 115.7h7.9v8.0h-7.9zM320.6 115.7h7.9v8.0h-7.9zM290.0 193.1h7.9v8.0h-7.9zM121.6 200.8h7.9v8.0h-7.9zM121.6 208.5h7.9v8.0h-7.9zM290.0 208.5h7.9v8.0h-7.9zM251.7 231.6h7.9v7.9h-7.9zM221.1 254.7h7.9v7.9h-7.9zM190.5 262.3h15.6v7.9h-15.6zM221.1 262.3h7.9v7.9h-7.9zM175.2 270.0h7.9v7.9h-7.9zM106.3 331.1h7.9v7.9h-7.9z"/><path fill="#0000c7" d="M75.7 37.7h30.9v8.1h-30.9zM83.3 45.6h46.2v8.1h-46.2zM136.9 45.6h7.9v8.1h-7.9zM98.6 53.4h15.6v8.1h-15.6zM121.6 53.4h23.2v8.1h-23.2zM106.3 61.2h23.2v8.1h-23.2zM136.9 61.2h15.6v8.1h-15.6zM114.0 69.0h46.2v8.0h-46.2zM121.6 76.8h38.5v8.0h-38.5zM129.3 84.6h7.9v8.0h-7.9zM144.6 84.6h23.2v8.0h-23.2zM136.9 92.4h15.6v8.0h-15.6zM144.6 100.1h7.9v8.0h-7.9zM129.3 146.7h30.9v8.0h-30.9zM129.3 154.5h30.9v8.0h-30.9zM129.3 162.2h38.5v8.0h-38.5zM136.9 169.9h30.9v8.0h-30.9zM152.2 177.7h15.6v8.0h-15.6zM114.0 254.7h7.9v7.9h-7.9zM121.6 262.3h7.9v7.9h-7.9zM114.0 270.0h15.6v7.9h-15.6zM114.0 277.7h15.6v7.9h-15.6zM121.6 285.3h7.9v7.9h-7.9zM121.6 293.0h7.9v7.9h-7.9z"/><path fill="#68ff97" d="M343.6 37.7h4.7v8.1h-4.7zM335.9 69.0h7.9v8.0h-7.9zM335.9 131.2h7.9v8.0h-7.9zM320.6 139.0h7.9v8.0h-7.9zM305.3 247.0h7.9v7.9h-7.9zM305.3 254.7h7.9v7.9h-7.9zM328.3 262.3h7.9v7.9h-7.9zM259.4 277.7h7.9v7.9h-7.9zM335.9 277.7h7.9v7.9h-7.9zM205.8 285.3h7.9v7.9h-7.9zM259.4 285.3h7.9v7.9h-7.9zM274.7 293.0h7.9v7.9h-7.9zM98.6 354.0h7.9v7.9h-7.9z"/><path fill="#ffe700" d="M335.9 53.4h7.9v8.1h-7.9zM320.6 247.0h7.9v7.9h-7.9zM335.9 270.0h7.9v7.9h-7.9zM198.2 300.6h7.9v7.9h-7.9zM221.1 300.6h7.9v7.9h-7.9z"/><path fill="#d7ff28" d="M343.6 53.4h4.7v8.1h-4.7zM335.9 123.5h12.3v8.0h-12.3zM343.6 169.9h4.7v8.0h-4.7zM343.6 208.5h4.7v8.0h-4.7zM343.6 231.6h4.7v7.9h-4.7zM290.0 285.3h7.9v7.9h-7.9zM320.6 285.3h7.9v7.9h-7.9zM198.2 293.0h7.9v7.9h-7.9zM282.3 293.0h7.9v7.9h-7.9zM282.3 315.9h7.9v7.9h-7.9z"/><path fill="#00c7ff" d="M335.9 61.2h7.9v8.1h-7.9zM313.0 100.1h7.9v8.0h-7.9zM305.3 162.2h7.9v8.0h-7.9zM297.7 177.7h7.9v8.0h-7.9zM297.7 185.4h7.9v8.0h-7.9zM320.6 193.1h7.9v8.0h-7.9zM297.7 208.5h7.9v8.0h-7.9zM290.0 216.2h7.9v7.9h-7.9zM274.7 231.6h7.9v7.9h-7.9zM282.3 254.7h7.9v7.9h-7.9zM190.5 270.0h7.9v7.9h-7.9zM221.1 270.0h7.9v7.9h-7.9zM236.4 270.0h7.9v7.9h-7.9zM106.3 346.4h7.9v7.9h-7.9zM114.0 361.6h7.9v7.9h-7.9z"/><path fill="#fff700" d="M343.6 69.0h4.7v8.0h-4.7zM335.9 84.6h7.9v8.0h-7.9zM121.6 177.7h7.9v8.0h-7.9zM320.6 270.0h7.9v7.9h-7.9zM343.6 285.3h4.7v7.9h-4.7zM182.8 300.6h7.9v7.9h-7.9zM213.5 308.2h7.9v7.9h-7.9z"/><path fill="#38ffc7" d="M343.6 76.8h4.7v8.0h-4.7zM320.6 154.5h7.9v8.0h-7.9zM313.0 208.5h7.9v8.0h-7.9zM328.3 208.5h7.9v8.0h-7.9zM297.7 231.6h7.9v7.9h-7.9zM328.3 231.6h7.9v7.9h-7.9zM259.4 262.3h7.9v7.9h-7.9zM320.6 262.3h7.9v7.9h-7.9zM335.9 262.3h7.9v7.9h-7.9zM236.4 277.7h7.9v7.9h-7.9zM259.4 293.0h7.9v7.9h-7.9zM98.6 346.4h7.9v7.9h-7.9zM106.3 369.2h7.9v7.8h-7.9z"/><path fill="#a7ff58" d="M83.3 84.6h7.9v8.0h-7.9zM335.9 92.4h7.9v8.0h-7.9zM343.6 131.2h4.7v8.0h-4.7zM297.7 247.0h7.9v7.9h-7.9zM297.7 270.0h7.9v7.9h-7.9zM313.0 270.0h7.9v7.9h-7.9zM190.5 293.0h7.9v7.9h-7.9zM205.8 300.6h7.9v7.9h-7.9zM282.3 300.6h7.9v7.9h-7.9zM251.7 308.2h7.9v7.9h-7.9zM282.3 308.2h7.9v7.9h-7.9z"/><path fill="#e7ff18" d="M343.6 92.4h4.7v8.0h-4.7zM343.6 185.4h4.7v8.0h-4.7zM320.6 239.3h7.9v7.9h-7.9zM343.6 247.0h4.7v7.9h-4.7zM251.7 285.3h7.9v7.9h-7.9zM328.3 293.0h7.9v7.9h-7.9zM205.8 308.2h7.9v7.9h-7.9zM236.4 308.2h7.9v7.9h-7.9zM221.1 315.9h7.9v7.9h-7.9z"/><path fill="#78ff87" d="M328.3 107.9h7.9v8.0h-7.9zM328.3 131.2h7.9v8.0h-7.9zM328.3 247.0h7.9v7.9h-7.9zM328.3 254.7h7.9v7.9h-7.9zM297.7 262.3h7.9v7.9h-7.9zM328.3 270.0h7.9v7.9h-7.9zM305.3 277.7h7.9v7.9h-7.9zM244.1 285.3h7.9v7.9h-7.9zM282.3 285.3h7.9v7.9h-7.9zM297.7 285.3h7.9v7.9h-7.9zM290.0 300.6h7.9v7.9h-7.9zM106.3 376.8h7.9v7.8h-7.9z"/><path fill="#ff9700" d="M343.6 107.9h4.7v8.0h-4.7zM328.3 277.7h7.9v7.9h-7.9zM320.6 315.9h7.9v7.9h-7.9zM335.9 315.9h7.9v7.9h-7.9zM305.3 338.8h7.9v7.9h-7.9zM91.0 376.8h7.9v7.8h-7.9z"/><path fill="#00d7ff" d="M328.3 115.7h7.9v8.0h-7.9zM305.3 177.7h7.9v8.0h-7.9zM343.6 177.7h4.7v8.0h-4.7zM335.9 185.4h7.9v8.0h-7.9zM305.3 193.1h7.9v8.0h-7.9zM305.3 216.2h7.9v7.9h-7.9zM282.3 223.9h7.9v7.9h-7.9zM290.0 231.6h7.9v7.9h-7.9zM305.3 231.6h15.6v7.9h-15.6zM259.4 247.0h7.9v7.9h-7.9zM282.3 247.0h7.9v7.9h-7.9zM190.5 254.7h7.9v7.9h-7.9zM282.3 262.3h7.9v7.9h-7.9zM198.2 277.7h7.9v7.9h-7.9z"/><path fill="#ffc700" d="M335.9 115.7h7.9v8.0h-7.9zM305.3 315.9h7.9v7.9h-7.9zM244.1 323.5h7.9v7.9h-7.9zM274.7 323.5h7.9v7.9h-7.9zM98.6 384.4h7.9v7.8h-7.9z"/><path fill="#48ffb7" d="M320.6 123.5h7.9v8.0h-7.9zM320.6 177.7h7.9v8.0h-7.9zM320.6 185.4h7.9v8.0h-7.9zM328.3 216.2h7.9v7.9h-7.9zM335.9 223.9h7.9v7.9h-7.9zM313.0 247.0h7.9v7.9h-7.9zM251.7 270.0h7.9v7.9h-7.9zM305.3 270.0h7.9v7.9h-7.9zM236.4 285.3h7.9v7.9h-7.9zM228.8 293.0h7.9v7.9h-7.9z"/><path fill="#97ff68" d="M335.9 139.0h7.9v8.0h-7.9zM335.9 146.7h7.9v8.0h-7.9zM290.0 262.3h7.9v7.9h-7.9zM251.7 277.7h7.9v7.9h-7.9zM320.6 277.7h7.9v7.9h-7.9zM213.5 300.6h7.9v7.9h-7.9zM244.1 300.6h15.6v7.9h-15.6zM328.3 300.6h7.9v7.9h-7.9zM244.1 308.2h7.9v7.9h-7.9zM98.6 369.2h7.9v7.8h-7.9z"/><path fill="#c7ff38" d="M328.3 146.7h7.9v8.0h-7.9zM343.6 162.2h4.7v8.0h-4.7zM328.3 223.9h7.9v7.9h-7.9zM328.3 239.3h15.6v7.9h-15.6zM343.6 254.7h4.7v7.9h-4.7zM221.1 293.0h7.9v7.9h-7.9zM305.3 293.0h7.9v7.9h-7.9zM190.5 300.6h7.9v7.9h-7.9zM259.4 300.6h7.9v7.9h-7.9zM228.8 308.2h7.9v7.9h-7.9zM251.7 315.9h7.9v7.9h-7.9zM267.0 315.9h7.9v7.9h-7.9z"/><path fill="#b7ff48" d="M343.6 200.8h4.7v8.0h-4.7zM343.6 262.3h4.7v7.9h-4.7zM313.0 277.7h7.9v7.9h-7.9zM228.8 285.3h7.9v7.9h-7.9zM290.0 293.0h15.6v7.9h-15.6zM236.4 300.6h7.9v7.9h-7.9zM274.7 308.2h7.9v7.9h-7.9zM290.0 308.2h7.9v7.9h-7.9zM313.0 308.2h7.9v7.9h-7.9z"/><path fill="#ffd700" d="M335.9 231.6h7.9v7.9h-7.9zM328.3 285.3h7.9v7.9h-7.9zM335.9 293.0h12.3v7.9h-12.3zM274.7 315.9h7.9v7.9h-7.9zM313.0 315.9h7.9v7.9h-7.9z"/><path fill="#ffb700" d="M335.9 254.7h7.9v7.9h-7.9zM343.6 277.7h4.7v7.9h-4.7zM190.5 308.2h7.9v7.9h-7.9zM328.3 308.2h7.9v7.9h-7.9zM244.1 331.1h7.9v7.9h-7.9z"/><path fill="#0000b7" d="M114.0 262.3h7.9v7.9h-7.9z"/><path fill="#f7ff08" d="M290.0 270.0h7.9v7.9h-7.9zM274.7 277.7h7.9v7.9h-7.9zM305.3 285.3h7.9v7.9h-7.9zM320.6 293.0h7.9v7.9h-7.9zM228.8 300.6h7.9v7.9h-7.9zM297.7 300.6h7.9v7.9h-7.9zM213.5 315.9h7.9v7.9h-7.9zM236.4 315.9h7.9v7.9h-7.9zM290.0 315.9h7.9v7.9h-7.9zM228.8 323.5h7.9v7.9h-7.9zM251.7 323.5h7.9v7.9h-7.9zM98.6 376.8h7.9v7.8h-7.9z"/><path fill="#f70000" d="M313.0 285.3h7.9v7.9h-7.9zM259.4 354.0h7.9v7.9h-7.9zM282.3 354.0h7.9v7.9h-7.9z"/><path fill="#ffa700" d="M335.9 285.3h7.9v7.9h-7.9zM251.7 293.0h7.9v7.9h-7.9zM305.3 300.6h7.9v7.9h-7.9zM297.7 308.2h7.9v7.9h-7.9zM267.0 323.5h7.9v7.9h-7.9zM259.4 331.1h7.9v7.9h-7.9zM305.3 331.1h7.9v7.9h-7.9zM274.7 338.8h7.9v7.9h-7.9z"/><path fill="#ff5800" d="M267.0 293.0h7.9v7.9h-7.9zM335.9 300.6h7.9v7.9h-7.9zM259.4 308.2h7.9v7.9h-7.9zM335.9 308.2h7.9v7.9h-7.9zM313.0 331.1h15.6v7.9h-15.6zM267.0 338.8h7.9v7.9h-7.9z"/><path fill="#ff7800" d="M313.0 300.6h7.9v7.9h-7.9z"/><path fill="#d70000" d="M320.6 300.6h7.9v7.9h-7.9zM290.0 323.5h7.9v7.9h-7.9zM251.7 331.1h7.9v7.9h-7.9zM228.8 346.4h7.9v7.9h-7.9z"/><path fill="#c70000" d="M343.6 300.6h4.7v7.9h-4.7zM320.6 308.2h7.9v7.9h-7.9zM182.8 315.9h7.9v7.9h-7.9zM198.2 315.9h7.9v7.9h-7.9zM297.7 323.5h7.9v7.9h-7.9zM205.8 331.1h7.9v7.9h-7.9zM236.4 331.1h7.9v7.9h-7.9z"/><path fill="#ff0800" d="M167.5 308.2h15.6v7.9h-15.6zM305.3 308.2h7.9v7.9h-7.9zM198.2 331.1h7.9v7.9h-7.9zM251.7 346.4h7.9v7.9h-7.9zM274.7 346.4h7.9v7.9h-7.9z"/><path fill="#ff6800" d="M182.8 308.2h7.9v7.9h-7.9zM244.1 315.9h7.9v7.9h-7.9zM313.0 323.5h7.9v7.9h-7.9z"/><path fill="#ff3800" d="M198.2 308.2h7.9v7.9h-7.9zM221.1 308.2h7.9v7.9h-7.9z"/><path fill="#870000" d="M175.2 315.9h7.9v7.9h-7.9zM228.8 315.9h7.9v7.9h-7.9zM297.7 315.9h7.9v7.9h-7.9zM328.3 315.9h7.9v7.9h-7.9zM175.2 323.5h38.5v7.9h-38.5zM282.3 323.5h7.9v7.9h-7.9zM305.3 323.5h7.9v7.9h-7.9zM182.8 331.1h15.6v7.9h-15.6zM267.0 331.1h15.6v7.9h-15.6zM290.0 331.1h7.9v7.9h-7.9zM182.8 338.8h38.5v7.9h-38.5zM244.1 338.8h7.9v7.9h-7.9zM259.4 338.8h7.9v7.9h-7.9zM297.7 338.8h7.9v7.9h-7.9zM182.8 346.4h46.2v7.9h-46.2zM236.4 346.4h15.6v7.9h-15.6zM259.4 346.4h7.9v7.9h-7.9zM282.3 346.4h30.9v7.9h-30.9zM190.5 354.0h15.6v7.9h-15.6zM213.5 354.0h23.2v7.9h-23.2zM244.1 354.0h15.6v7.9h-15.6zM274.7 354.0h7.9v7.9h-7.9zM290.0 354.0h7.9v7.9h-7.9zM305.3 354.0h7.9v7.9h-7.9zM221.1 361.6h46.2v7.9h-46.2zM274.7 361.6h23.2v7.9h-23.2zM221.1 369.2h76.8v7.8h-76.8zM205.8 376.8h69.1v7.8h-69.1zM205.8 384.4h69.1v7.8h-69.1zM205.8 392.0h23.2v7.8h-23.2zM236.4 392.0h23.2v7.8h-23.2zM236.4 399.5h15.6v7.8h-15.6z"/><path fill="#ff8700" d="M190.5 315.9h7.9v7.9h-7.9zM282.3 338.8h7.9v7.9h-7.9zM91.0 369.2h7.9v7.8h-7.9z"/><path fill="#b70000" d="M205.8 315.9h7.9v7.9h-7.9z"/><path fill="#ff2800" d="M213.5 323.5h15.6v7.9h-15.6zM228.8 331.1h7.9v7.9h-7.9zM221.1 338.8h7.9v7.9h-7.9z"/><path fill="#ff4800" d="M259.4 323.5h7.9v7.9h-7.9zM320.6 323.5h7.9v7.9h-7.9zM221.1 331.1h7.9v7.9h-7.9zM282.3 331.1h7.9v7.9h-7.9zM91.0 384.4h7.9v7.8h-7.9z"/><path fill="#e70000" d="M213.5 331.1h7.9v7.9h-7.9zM236.4 338.8h7.9v7.9h-7.9zM320.6 338.8h7.9v7.9h-7.9zM267.0 346.4h7.9v7.9h-7.9z"/><path fill="#970000" d="M228.8 338.8h7.9v7.9h-7.9zM267.0 361.6h7.9v7.9h-7.9z"/><path fill="#a70000" d="M251.7 338.8h7.9v7.9h-7.9zM290.0 338.8h7.9v7.9h-7.9zM313.0 338.8h7.9v7.9h-7.9zM267.0 354.0h7.9v7.9h-7.9z"/><path fill="#ff1800" d="M297.7 354.0h7.9v7.9h-7.9z"/></g><path transform="translate(-3.8,-3.8)" d="M299.9 2.5L301.5 6.4M309.1 5.1L301.5 6.4M316.1 2.5L309.1 5.1M316.9 2.5L322.3 10.3M322.3 10.3L324.4 13.4M330.0 18.2L324.4 13.4M330.0 18.2L332.1 20.2M339.7 25.1L332.1 20.2M342.5 41.6L340.0 49.5M339.7 49.6L332.4 57.3M340.0 49.5L339.7 49.6M332.4 57.3L334.1 65.1M334.1 65.1L332.8 72.9M87.8 80.7L87.2 80.0M332.8 72.9L333.6 80.7M87.8 80.7L92.3 88.5M333.6 80.7L333.2 88.5M333.2 88.5L332.8 96.2M96.2 104.0L94.8 101.5M332.1 98.7L328.9 104.0M332.8 96.2L332.1 98.7M328.9 104.0L327.1 111.8M327.1 111.8L325.6 119.6M324.4 121.9L321.7 127.3M325.6 119.6L324.4 121.9M321.7 127.3L320.0 135.1M316.8 141.0L315.4 142.8M320.0 135.1L316.8 141.0M315.4 142.8L313.9 150.6M313.9 150.6L313.2 158.3M313.2 158.3L310.5 166.1M309.1 173.1L309.0 173.8M310.5 166.1L309.1 173.1M128.1 181.5L125.4 176.9M309.0 173.8L306.8 181.5M306.8 181.5L302.3 189.2M302.3 189.2L303.7 197.0M301.5 204.3L301.3 204.7M303.7 197.0L301.5 204.3M301.3 204.7L301.5 205.6M302.5 212.4L301.5 205.6M301.5 213.4L295.5 220.1M302.5 212.4L301.5 213.4M293.8 223.8L290.3 227.8M295.5 220.1L293.8 223.8M290.3 227.8L286.7 235.5M278.5 242.3L277.5 243.1M286.2 239.9L278.5 242.3M286.7 235.5L286.2 239.9M263.2 248.2L260.5 250.8M270.9 244.6L263.2 248.2M277.5 243.1L270.9 244.6M255.6 253.9L251.1 258.5M260.5 250.8L255.6 253.9M209.6 264.8L206.4 266.2M212.8 266.2L209.6 264.8M240.2 264.5L236.6 266.2M247.9 261.9L240.2 264.5M251.1 258.5L247.9 261.9M202.0 268.8L194.3 273.0M206.4 266.2L202.0 268.8M212.8 266.2L217.3 268.4M224.9 269.8L217.3 268.4M232.6 268.2L224.9 269.8M236.6 266.2L232.6 268.2M102.9 281.5L102.5 283.4M179.0 301.3L172.6 304.4M183.9 296.8L179.0 301.3M172.6 304.4L171.4 304.7M104.7 334.9L102.5 330.1M104.7 334.9L108.5 342.6M108.5 342.6L110.1 344.8M115.9 357.8L117.8 362.2M119.5 365.4L117.8 362.2M119.5 365.4L124.0 373.0" fill="none" stroke="#000" stroke-width="1.0" stroke-linecap="round"/><text transform="translate(311.0,139.0) rotate(-75)" text-anchor="middle" style="font-size:12px">1.25</text><text transform="translate(239.0,272.0) rotate(15)" text-anchor="middle" style="font-size:12px">1.25</text>
<use href="#coasttop"/>

</g>
<use href="#frame"/>

</g>
<use href="#star" x="525.1" y="187.5"/><use href="#star" x="562.8" y="299.7"/><use href="#star" x="571.8" y="392.5"/><use href="#star" x="520.9" y="414.8"/>
<text x="450.8" y="149.8" text-anchor="end" style="font-size:20px">37°N</text>
<text x="450.8" y="220.5" text-anchor="end" style="font-size:15.5px">30'</text>
<text x="450.8" y="293.9" text-anchor="end" style="font-size:20px">36°N</text>
<text x="450.8" y="363.7" text-anchor="end" style="font-size:15.5px">30'</text>
<text x="450.8" y="436.3" text-anchor="end" style="font-size:20px">35°N</text>
<text x="450.8" y="505.2" text-anchor="end" style="font-size:15.5px">30'</text>
<text x="450.8" y="576.9" text-anchor="end" style="font-size:20px">34°N</text>
<text x="457.8" y="587.4" text-anchor="middle" style="font-size:15.5px">30'</text>
<text x="518.8" y="590.8" text-anchor="middle" style="font-size:20px">76°W</text>
<text x="573.8" y="587.4" text-anchor="middle" style="font-size:15.5px">30'</text>
<text x="634.8" y="590.8" text-anchor="middle" style="font-size:20px">75°W</text>
<text x="689.8" y="587.4" text-anchor="middle" style="font-size:15.5px">30'</text>
<text x="750.8" y="590.8" text-anchor="middle" style="font-size:20px">74°W</text>
<text x="805.8" y="587.4" text-anchor="middle" style="font-size:15.5px">30'</text>
<text x="632.3" y="130.6" text-anchor="middle" style="font-size:20.6px;font-weight:bold">GDOP TotalErrors (1.25)</text><rect x="462.4" y="162.5" width="113.6" height="25.0" fill="url(#jet)" stroke="#262626" stroke-width="1.2"/><line x1="462.4" y1="162.5" x2="462.4" y2="164.7" stroke="#262626" stroke-width="1"/><text x="461.6" y="149.7" text-anchor="middle" style="font-size:18.7px;fill:#262626">0</text><line x1="519.2" y1="162.5" x2="519.2" y2="164.7" stroke="#262626" stroke-width="1"/><text x="518.4" y="149.7" text-anchor="middle" style="font-size:18.7px;fill:#262626">2</text><line x1="576.0" y1="162.5" x2="576.0" y2="164.7" stroke="#262626" stroke-width="1"/><text x="575.2" y="149.7" text-anchor="middle" style="font-size:18.7px;fill:#262626">4</text><text x="771.9" y="180.4" text-anchor="middle" style="font-size:20px">10 km</text><line x1="766.3" y1="185.9" x2="779.3" y2="185.9" stroke="#000" stroke-width="3.6" stroke-linecap="round"/>
<g transform="translate(843.60,142.60)">
<g clip-path="url(#clip)">
<use href="#land"/><use href="#grid"/>
<g shape-rendering="crispEdges"><path fill="#08fff7" d="M68.0 0.0h15.6v6.7h-15.6zM91.0 0.0h15.6v6.7h-15.6zM114.0 0.0h7.9v6.7h-7.9zM68.0 6.4h7.9v8.1h-7.9zM114.0 6.4h15.6v8.1h-15.6zM106.3 22.1h7.9v8.1h-7.9zM144.6 22.1h7.9v8.1h-7.9zM152.2 37.7h7.9v8.1h-7.9zM136.9 45.6h15.6v8.1h-15.6zM121.6 53.4h7.9v8.1h-7.9zM129.3 69.0h7.9v8.0h-7.9zM159.9 84.6h7.9v8.0h-7.9zM159.9 92.4h7.9v8.0h-7.9zM175.2 115.7h7.9v8.0h-7.9zM182.8 123.5h7.9v8.0h-7.9zM175.2 131.2h15.6v8.0h-15.6zM182.8 146.7h7.9v8.0h-7.9zM198.2 154.5h7.9v8.0h-7.9zM190.5 162.2h7.9v8.0h-7.9zM182.8 169.9h15.6v8.0h-15.6zM175.2 193.1h7.9v8.0h-7.9zM190.5 208.5h7.9v8.0h-7.9zM129.3 216.2h7.9v7.9h-7.9zM175.2 247.0h7.9v7.9h-7.9zM106.3 277.7h7.9v7.9h-7.9zM167.5 277.7h7.9v7.9h-7.9zM83.3 285.3h7.9v7.9h-7.9zM106.3 285.3h7.9v7.9h-7.9zM159.9 285.3h7.9v7.9h-7.9zM175.2 293.0h7.9v7.9h-7.9zM136.9 308.2h7.9v7.9h-7.9zM129.3 323.5h7.9v7.9h-7.9z"/><path fill="#00f7ff" d="M83.3 0.0h7.9v6.7h-7.9zM106.3 6.4h7.9v8.1h-7.9zM121.6 22.1h15.6v8.1h-15.6zM129.3 29.9h7.9v8.1h-7.9zM129.3 53.4h7.9v8.1h-7.9zM159.9 53.4h7.9v8.1h-7.9zM159.9 61.2h7.9v8.1h-7.9zM152.2 69.0h15.6v8.0h-15.6zM129.3 76.8h7.9v8.0h-7.9zM136.9 84.6h7.9v8.0h-7.9zM175.2 84.6h7.9v8.0h-7.9zM167.5 92.4h15.6v8.0h-15.6zM159.9 100.1h7.9v8.0h-7.9zM175.2 107.9h7.9v8.0h-7.9zM98.6 123.5h7.9v8.0h-7.9zM175.2 123.5h7.9v8.0h-7.9zM198.2 123.5h7.9v8.0h-7.9zM198.2 146.7h7.9v8.0h-7.9zM198.2 169.9h7.9v8.0h-7.9zM175.2 185.4h7.9v8.0h-7.9zM190.5 193.1h7.9v8.0h-7.9zM182.8 200.8h7.9v8.0h-7.9zM175.2 223.9h15.6v7.9h-15.6zM182.8 239.3h7.9v7.9h-7.9zM83.3 262.3h7.9v7.9h-7.9zM52.7 285.3h15.6v7.9h-15.6zM45.1 293.0h7.9v7.9h-7.9zM68.0 293.0h7.9v7.9h-7.9zM98.6 308.2h15.6v7.9h-15.6zM121.6 323.5h7.9v7.9h-7.9z"/><path fill="#00c7ff" d="M106.3 0.0h7.9v6.7h-7.9zM144.6 14.2h15.6v8.1h-15.6zM136.9 22.1h7.9v8.1h-7.9zM167.5 22.1h7.9v8.1h-7.9zM152.2 29.9h7.9v8.1h-7.9zM152.2 45.6h7.9v8.1h-7.9zM175.2 61.2h7.9v8.1h-7.9zM190.5 76.8h7.9v8.0h-7.9zM182.8 84.6h15.6v8.0h-15.6zM198.2 100.1h7.9v8.0h-7.9zM190.5 107.9h7.9v8.0h-7.9zM205.8 123.5h7.9v8.0h-7.9zM190.5 131.2h23.2v8.0h-23.2zM213.5 154.5h7.9v8.0h-7.9zM213.5 177.7h7.9v8.0h-7.9zM198.2 185.4h15.6v8.0h-15.6zM198.2 200.8h23.2v8.0h-23.2zM198.2 223.9h7.9v7.9h-7.9zM182.8 231.6h7.9v7.9h-7.9zM98.6 277.7h7.9v7.9h-7.9zM98.6 285.3h7.9v7.9h-7.9zM60.4 300.6h7.9v7.9h-7.9zM175.2 300.6h7.9v7.9h-7.9zM52.7 308.2h23.2v7.9h-23.2zM83.3 308.2h7.9v7.9h-7.9zM29.8 315.9h7.9v7.9h-7.9zM75.7 315.9h7.9v7.9h-7.9zM106.3 315.9h15.6v7.9h-15.6zM114.0 323.5h7.9v7.9h-7.9z"/><path fill="#00d7ff" d="M121.6 0.0h7.9v6.7h-7.9zM129.3 14.2h15.6v8.1h-15.6zM152.2 22.1h7.9v8.1h-7.9zM159.9 45.6h15.6v8.1h-15.6zM175.2 53.4h7.9v8.1h-7.9zM167.5 69.0h7.9v8.0h-7.9zM182.8 69.0h7.9v8.0h-7.9zM167.5 76.8h7.9v8.0h-7.9zM190.5 92.4h7.9v8.0h-7.9zM182.8 107.9h7.9v8.0h-7.9zM198.2 107.9h7.9v8.0h-7.9zM182.8 115.7h23.2v8.0h-23.2zM190.5 123.5h7.9v8.0h-7.9zM190.5 139.0h15.6v8.0h-15.6zM121.6 162.2h7.9v8.0h-7.9zM205.8 162.2h7.9v8.0h-7.9zM121.6 169.9h7.9v8.0h-7.9zM205.8 193.1h7.9v8.0h-7.9zM190.5 200.8h7.9v8.0h-7.9zM198.2 216.2h7.9v7.9h-7.9zM190.5 223.9h7.9v7.9h-7.9zM190.5 231.6h7.9v7.9h-7.9zM175.2 239.3h7.9v7.9h-7.9zM190.5 239.3h7.9v7.9h-7.9zM114.0 247.0h7.9v7.9h-7.9zM182.8 247.0h7.9v7.9h-7.9zM175.2 285.3h7.9v7.9h-7.9zM52.7 293.0h15.6v7.9h-15.6zM37.4 300.6h7.9v7.9h-7.9zM52.7 300.6h7.9v7.9h-7.9zM83.3 300.6h7.9v7.9h-7.9zM98.6 300.6h7.9v7.9h-7.9zM37.4 308.2h15.6v7.9h-15.6zM75.7 308.2h7.9v7.9h-7.9zM45.1 315.9h15.6v7.9h-15.6zM98.6 315.9h7.9v7.9h-7.9zM136.9 315.9h7.9v7.9h-7.9z"/><path fill="#00a7ff" d="M129.3 0.0h7.9v6.7h-7.9zM152.2 6.4h15.6v8.1h-15.6zM159.9 14.2h7.9v8.1h-7.9zM175.2 14.2h7.9v8.1h-7.9zM159.9 22.1h7.9v8.1h-7.9zM136.9 29.9h15.6v8.1h-15.6zM167.5 37.7h7.9v8.1h-7.9zM182.8 37.7h7.9v8.1h-7.9zM175.2 45.6h15.6v8.1h-15.6zM190.5 53.4h7.9v8.1h-7.9zM182.8 61.2h7.9v8.1h-7.9zM175.2 69.0h7.9v8.0h-7.9zM190.5 69.0h7.9v8.0h-7.9zM182.8 76.8h7.9v8.0h-7.9zM198.2 92.4h7.9v8.0h-7.9zM213.5 100.1h7.9v8.0h-7.9zM205.8 107.9h7.9v8.0h-7.9zM205.8 115.7h15.6v8.0h-15.6zM221.1 123.5h7.9v8.0h-7.9zM221.1 139.0h7.9v8.0h-7.9zM205.8 154.5h7.9v8.0h-7.9zM213.5 162.2h7.9v8.0h-7.9zM213.5 169.9h7.9v8.0h-7.9zM213.5 185.4h15.6v8.0h-15.6zM221.1 193.1h7.9v8.0h-7.9zM205.8 208.5h7.9v8.0h-7.9zM205.8 216.2h15.6v7.9h-15.6zM198.2 231.6h7.9v7.9h-7.9zM198.2 239.3h7.9v7.9h-7.9zM205.8 247.0h7.9v7.9h-7.9zM182.8 254.7h7.9v7.9h-7.9zM175.2 262.3h7.9v7.9h-7.9zM91.0 315.9h7.9v7.9h-7.9zM37.4 323.5h7.9v7.9h-7.9zM106.3 323.5h7.9v7.9h-7.9zM114.0 338.8h7.9v7.9h-7.9z"/><path fill="#0078ff" d="M136.9 0.0h7.9v6.7h-7.9zM175.2 0.0h7.9v6.7h-7.9zM190.5 0.0h15.6v6.7h-15.6zM167.5 6.4h15.6v8.1h-15.6zM190.5 6.4h15.6v8.1h-15.6zM182.8 14.2h15.6v8.1h-15.6zM190.5 22.1h7.9v8.1h-7.9zM182.8 29.9h7.9v8.1h-7.9zM205.8 29.9h7.9v8.1h-7.9zM205.8 37.7h7.9v8.1h-7.9zM190.5 45.6h7.9v8.1h-7.9zM205.8 45.6h7.9v8.1h-7.9zM221.1 53.4h7.9v8.1h-7.9zM190.5 61.2h7.9v8.1h-7.9zM213.5 69.0h15.6v8.0h-15.6zM213.5 76.8h23.2v8.0h-23.2zM213.5 92.4h7.9v8.0h-7.9zM221.1 107.9h7.9v8.0h-7.9zM221.1 115.7h7.9v8.0h-7.9zM236.4 131.2h15.6v8.0h-15.6zM228.8 139.0h7.9v8.0h-7.9zM244.1 139.0h15.6v8.0h-15.6zM236.4 154.5h7.9v8.0h-7.9zM251.7 154.5h7.9v8.0h-7.9zM244.1 162.2h7.9v8.0h-7.9zM221.1 169.9h7.9v8.0h-7.9zM244.1 169.9h7.9v8.0h-7.9zM228.8 177.7h7.9v8.0h-7.9zM251.7 177.7h15.6v8.0h-15.6zM236.4 193.1h7.9v8.0h-7.9zM251.7 200.8h7.9v8.0h-7.9zM205.8 231.6h7.9v7.9h-7.9zM228.8 239.3h7.9v7.9h-7.9zM228.8 247.0h7.9v7.9h-7.9zM198.2 254.7h7.9v7.9h-7.9zM190.5 262.3h7.9v7.9h-7.9zM29.8 323.5h7.9v7.9h-7.9zM14.5 331.1h7.9v7.9h-7.9zM29.8 331.1h7.9v7.9h-7.9zM75.7 331.1h15.6v7.9h-15.6zM98.6 331.1h7.9v7.9h-7.9zM29.8 338.8h15.6v7.9h-15.6zM52.7 338.8h7.9v7.9h-7.9zM68.0 338.8h15.6v7.9h-15.6zM98.6 338.8h15.6v7.9h-15.6zM106.3 346.4h7.9v7.9h-7.9zM121.6 354.0h7.9v7.9h-7.9z"/><path fill="#0097ff" d="M144.6 0.0h7.9v6.7h-7.9zM159.9 0.0h7.9v6.7h-7.9zM175.2 22.1h7.9v8.1h-7.9zM175.2 29.9h7.9v8.1h-7.9zM198.2 29.9h7.9v8.1h-7.9zM198.2 37.7h7.9v8.1h-7.9zM198.2 45.6h7.9v8.1h-7.9zM213.5 61.2h7.9v8.1h-7.9zM198.2 84.6h15.6v8.0h-15.6zM221.1 100.1h7.9v8.0h-7.9zM213.5 107.9h7.9v8.0h-7.9zM236.4 139.0h7.9v8.0h-7.9zM228.8 146.7h7.9v8.0h-7.9zM221.1 154.5h15.6v8.0h-15.6zM228.8 169.9h15.6v8.0h-15.6zM121.6 177.7h7.9v8.0h-7.9zM221.1 177.7h7.9v8.0h-7.9zM228.8 185.4h7.9v8.0h-7.9zM221.1 200.8h15.6v8.0h-15.6zM221.1 216.2h7.9v7.9h-7.9zM205.8 223.9h7.9v7.9h-7.9zM190.5 247.0h7.9v7.9h-7.9zM91.0 308.2h7.9v7.9h-7.9zM22.1 315.9h7.9v7.9h-7.9zM37.4 315.9h7.9v7.9h-7.9zM45.1 323.5h15.6v7.9h-15.6zM75.7 323.5h7.9v7.9h-7.9zM68.0 331.1h7.9v7.9h-7.9zM106.3 331.1h7.9v7.9h-7.9z"/><path fill="#00b7ff" d="M152.2 0.0h7.9v6.7h-7.9zM129.3 6.4h7.9v8.1h-7.9zM144.6 6.4h7.9v8.1h-7.9zM167.5 14.2h7.9v8.1h-7.9zM159.9 29.9h7.9v8.1h-7.9zM175.2 37.7h7.9v8.1h-7.9zM167.5 53.4h7.9v8.1h-7.9zM198.2 69.0h7.9v8.0h-7.9zM205.8 92.4h7.9v8.0h-7.9zM213.5 131.2h15.6v8.0h-15.6zM205.8 139.0h15.6v8.0h-15.6zM205.8 146.7h15.6v8.0h-15.6zM205.8 177.7h7.9v8.0h-7.9zM198.2 193.1h7.9v8.0h-7.9zM213.5 193.1h7.9v8.0h-7.9zM198.2 208.5h7.9v8.0h-7.9zM190.5 216.2h7.9v7.9h-7.9zM205.8 239.3h7.9v7.9h-7.9zM175.2 254.7h7.9v7.9h-7.9zM91.0 270.0h15.6v7.9h-15.6zM91.0 277.7h7.9v7.9h-7.9zM91.0 285.3h7.9v7.9h-7.9zM83.3 293.0h7.9v7.9h-7.9zM75.7 300.6h7.9v7.9h-7.9zM91.0 300.6h7.9v7.9h-7.9zM29.8 308.2h7.9v7.9h-7.9zM60.4 315.9h15.6v7.9h-15.6zM60.4 323.5h15.6v7.9h-15.6zM83.3 323.5h7.9v7.9h-7.9zM114.0 331.1h7.9v7.9h-7.9z"/><path fill="#0068ff" d="M167.5 0.0h7.9v6.7h-7.9zM205.8 6.4h7.9v8.1h-7.9zM198.2 14.2h23.2v8.1h-23.2zM182.8 22.1h7.9v8.1h-7.9zM221.1 29.9h7.9v8.1h-7.9zM213.5 45.6h7.9v8.1h-7.9zM228.8 45.6h7.9v8.1h-7.9zM205.8 53.4h15.6v8.1h-15.6zM236.4 53.4h7.9v8.1h-7.9zM236.4 69.0h15.6v8.0h-15.6zM236.4 76.8h15.6v8.0h-15.6zM213.5 84.6h23.2v8.0h-23.2zM244.1 84.6h7.9v8.0h-7.9zM244.1 92.4h15.6v8.0h-15.6zM228.8 100.1h15.6v8.0h-15.6zM244.1 107.9h7.9v8.0h-7.9zM236.4 115.7h15.6v8.0h-15.6zM228.8 123.5h7.9v8.0h-7.9zM259.4 123.5h7.9v8.0h-7.9zM267.0 131.2h7.9v8.0h-7.9zM114.0 162.2h7.9v8.0h-7.9zM236.4 162.2h7.9v8.0h-7.9zM251.7 169.9h23.2v8.0h-23.2zM251.7 185.4h15.6v8.0h-15.6zM251.7 193.1h7.9v8.0h-7.9zM221.1 223.9h7.9v7.9h-7.9zM228.8 231.6h15.6v7.9h-15.6zM236.4 247.0h7.9v7.9h-7.9zM221.1 262.3h7.9v7.9h-7.9zM182.8 270.0h7.9v7.9h-7.9zM198.2 270.0h7.9v7.9h-7.9zM60.4 277.7h7.9v7.9h-7.9zM152.2 300.6h7.9v7.9h-7.9zM22.1 331.1h7.9v7.9h-7.9zM37.4 331.1h7.9v7.9h-7.9zM83.3 338.8h7.9v7.9h-7.9zM60.4 346.4h7.9v7.9h-7.9zM121.6 361.6h15.6v7.9h-15.6z"/><path fill="#0087ff" d="M182.8 0.0h7.9v6.7h-7.9zM136.9 6.4h7.9v8.1h-7.9zM182.8 6.4h7.9v8.1h-7.9zM198.2 22.1h7.9v8.1h-7.9zM167.5 29.9h7.9v8.1h-7.9zM190.5 29.9h7.9v8.1h-7.9zM190.5 37.7h7.9v8.1h-7.9zM213.5 37.7h7.9v8.1h-7.9zM182.8 53.4h7.9v8.1h-7.9zM198.2 53.4h7.9v8.1h-7.9zM198.2 61.2h15.6v8.1h-15.6zM205.8 69.0h7.9v8.0h-7.9zM198.2 76.8h15.6v8.0h-15.6zM221.1 92.4h15.6v8.0h-15.6zM205.8 100.1h7.9v8.0h-7.9zM228.8 107.9h7.9v8.0h-7.9zM228.8 115.7h7.9v8.0h-7.9zM213.5 123.5h7.9v8.0h-7.9zM228.8 131.2h7.9v8.0h-7.9zM221.1 146.7h7.9v8.0h-7.9zM236.4 146.7h15.6v8.0h-15.6zM221.1 162.2h15.6v8.0h-15.6zM236.4 177.7h15.6v8.0h-15.6zM228.8 193.1h7.9v8.0h-7.9zM244.1 193.1h7.9v8.0h-7.9zM236.4 200.8h15.6v8.0h-15.6zM213.5 208.5h30.9v8.0h-30.9zM213.5 223.9h7.9v7.9h-7.9zM213.5 247.0h7.9v7.9h-7.9zM205.8 254.7h7.9v7.9h-7.9zM152.2 293.0h7.9v7.9h-7.9zM182.8 293.0h7.9v7.9h-7.9zM83.3 315.9h7.9v7.9h-7.9zM22.1 323.5h7.9v7.9h-7.9zM91.0 323.5h15.6v7.9h-15.6zM45.1 331.1h23.2v7.9h-23.2zM91.0 331.1h7.9v7.9h-7.9zM45.1 338.8h7.9v7.9h-7.9zM60.4 338.8h7.9v7.9h-7.9z"/><path fill="#0038ff" d="M205.8 0.0h7.9v6.7h-7.9zM221.1 0.0h15.6v6.7h-15.6zM228.8 6.4h7.9v8.1h-7.9zM251.7 6.4h7.9v8.1h-7.9zM236.4 14.2h7.9v8.1h-7.9zM251.7 14.2h7.9v8.1h-7.9zM221.1 22.1h7.9v8.1h-7.9zM251.7 22.1h15.6v8.1h-15.6zM267.0 37.7h7.9v8.1h-7.9zM259.4 45.6h7.9v8.1h-7.9zM282.3 45.6h7.9v8.1h-7.9zM244.1 53.4h7.9v8.1h-7.9zM282.3 53.4h7.9v8.1h-7.9zM274.7 61.2h15.6v8.1h-15.6zM251.7 69.0h7.9v8.0h-7.9zM251.7 76.8h30.9v8.0h-30.9zM290.0 76.8h7.9v8.0h-7.9zM251.7 84.6h7.9v8.0h-7.9zM282.3 84.6h15.6v8.0h-15.6zM274.7 92.4h7.9v8.0h-7.9zM267.0 100.1h7.9v8.0h-7.9zM282.3 100.1h15.6v8.0h-15.6zM274.7 107.9h15.6v8.0h-15.6zM297.7 107.9h7.9v8.0h-7.9zM267.0 115.7h7.9v8.0h-7.9zM274.7 123.5h15.6v8.0h-15.6zM305.3 123.5h7.9v8.0h-7.9zM282.3 131.2h7.9v8.0h-7.9zM274.7 139.0h7.9v8.0h-7.9zM282.3 146.7h7.9v8.0h-7.9zM305.3 146.7h7.9v8.0h-7.9zM259.4 154.5h15.6v8.0h-15.6zM290.0 154.5h7.9v8.0h-7.9zM290.0 162.2h7.9v8.0h-7.9zM290.0 177.7h7.9v8.0h-7.9zM282.3 185.4h7.9v8.0h-7.9zM244.1 208.5h7.9v8.0h-7.9zM228.8 216.2h15.6v7.9h-15.6zM236.4 223.9h15.6v7.9h-15.6zM251.7 231.6h7.9v7.9h-7.9zM244.1 247.0h7.9v7.9h-7.9zM221.1 254.7h7.9v7.9h-7.9zM213.5 262.3h7.9v7.9h-7.9zM228.8 270.0h7.9v7.9h-7.9zM182.8 277.7h23.2v7.9h-23.2zM213.5 277.7h7.9v7.9h-7.9zM205.8 285.3h7.9v7.9h-7.9zM221.1 285.3h7.9v7.9h-7.9zM190.5 293.0h7.9v7.9h-7.9zM205.8 293.0h7.9v7.9h-7.9zM182.8 300.6h7.9v7.9h-7.9zM213.5 300.6h15.6v7.9h-15.6zM159.9 308.2h7.9v7.9h-7.9zM159.9 315.9h7.9v7.9h-7.9zM175.2 315.9h7.9v7.9h-7.9zM190.5 315.9h7.9v7.9h-7.9zM136.9 323.5h7.9v7.9h-7.9zM175.2 323.5h23.2v7.9h-23.2zM14.5 338.8h15.6v7.9h-15.6zM144.6 338.8h7.9v7.9h-7.9zM37.4 346.4h15.6v7.9h-15.6zM60.4 354.0h23.2v7.9h-23.2zM91.0 354.0h7.9v7.9h-7.9zM106.3 361.6h15.6v7.9h-15.6z"/><path fill="#0048ff" d="M213.5 0.0h7.9v6.7h-7.9zM213.5 6.4h15.6v8.1h-15.6zM236.4 6.4h7.9v8.1h-7.9zM244.1 14.2h7.9v8.1h-7.9zM236.4 22.1h7.9v8.1h-7.9zM228.8 29.9h15.6v8.1h-15.6zM251.7 29.9h15.6v8.1h-15.6zM221.1 37.7h15.6v8.1h-15.6zM236.4 45.6h23.2v8.1h-23.2zM251.7 53.4h15.6v8.1h-15.6zM236.4 61.2h23.2v8.1h-23.2zM267.0 61.2h7.9v8.1h-7.9zM228.8 69.0h7.9v8.0h-7.9zM267.0 69.0h7.9v8.0h-7.9zM259.4 84.6h23.2v8.0h-23.2zM236.4 92.4h7.9v8.0h-7.9zM282.3 92.4h7.9v8.0h-7.9zM259.4 100.1h7.9v8.0h-7.9zM274.7 100.1h7.9v8.0h-7.9zM251.7 107.9h23.2v8.0h-23.2zM251.7 123.5h7.9v8.0h-7.9zM259.4 139.0h7.9v8.0h-7.9zM282.3 139.0h7.9v8.0h-7.9zM267.0 146.7h15.6v8.0h-15.6zM274.7 154.5h7.9v8.0h-7.9zM274.7 162.2h7.9v8.0h-7.9zM274.7 169.9h7.9v8.0h-7.9zM267.0 177.7h7.9v8.0h-7.9zM282.3 177.7h7.9v8.0h-7.9zM274.7 185.4h7.9v8.0h-7.9zM267.0 193.1h15.6v8.0h-15.6zM267.0 200.8h7.9v8.0h-7.9zM228.8 223.9h7.9v7.9h-7.9zM244.1 231.6h7.9v7.9h-7.9zM213.5 239.3h15.6v7.9h-15.6zM236.4 239.3h15.6v7.9h-15.6zM221.1 247.0h7.9v7.9h-7.9zM213.5 254.7h7.9v7.9h-7.9zM228.8 254.7h7.9v7.9h-7.9zM182.8 262.3h7.9v7.9h-7.9zM198.2 262.3h15.6v7.9h-15.6zM205.8 270.0h7.9v7.9h-7.9zM182.8 285.3h7.9v7.9h-7.9zM213.5 285.3h7.9v7.9h-7.9zM198.2 293.0h7.9v7.9h-7.9zM190.5 300.6h7.9v7.9h-7.9zM182.8 308.2h15.6v7.9h-15.6zM152.2 315.9h7.9v7.9h-7.9zM144.6 323.5h7.9v7.9h-7.9zM159.9 323.5h7.9v7.9h-7.9zM129.3 331.1h7.9v7.9h-7.9zM29.8 346.4h7.9v7.9h-7.9zM83.3 346.4h7.9v7.9h-7.9zM98.6 346.4h7.9v7.9h-7.9zM29.8 354.0h7.9v7.9h-7.9zM45.1 354.0h15.6v7.9h-15.6zM98.6 354.0h15.6v7.9h-15.6zM121.6 369.2h7.9v7.8h-7.9z"/><path fill="#0018ff" d="M236.4 0.0h7.9v6.7h-7.9zM290.0 0.0h7.9v6.7h-7.9zM274.7 6.4h7.9v8.1h-7.9zM305.3 6.4h7.9v8.1h-7.9zM290.0 14.2h23.2v8.1h-23.2zM267.0 22.1h7.9v8.1h-7.9zM282.3 22.1h15.6v8.1h-15.6zM267.0 29.9h7.9v8.1h-7.9zM297.7 29.9h7.9v8.1h-7.9zM282.3 37.7h7.9v8.1h-7.9zM297.7 37.7h7.9v8.1h-7.9zM274.7 45.6h7.9v8.1h-7.9zM290.0 45.6h7.9v8.1h-7.9zM313.0 45.6h7.9v8.1h-7.9zM274.7 53.4h7.9v8.1h-7.9zM297.7 53.4h30.9v8.1h-30.9zM290.0 61.2h7.9v8.1h-7.9zM320.6 61.2h7.9v8.1h-7.9zM282.3 69.0h7.9v8.0h-7.9zM297.7 69.0h7.9v8.0h-7.9zM320.6 69.0h7.9v8.0h-7.9zM297.7 76.8h15.6v8.0h-15.6zM305.3 84.6h7.9v8.0h-7.9zM305.3 92.4h15.6v8.0h-15.6zM297.7 100.1h7.9v8.0h-7.9zM290.0 107.9h7.9v8.0h-7.9zM305.3 107.9h23.2v8.0h-23.2zM297.7 115.7h15.6v8.0h-15.6zM320.6 115.7h7.9v8.0h-7.9zM313.0 123.5h7.9v8.0h-7.9zM290.0 131.2h15.6v8.0h-15.6zM313.0 131.2h7.9v8.0h-7.9zM297.7 139.0h7.9v8.0h-7.9zM290.0 146.7h15.6v8.0h-15.6zM297.7 154.5h7.9v8.0h-7.9zM282.3 162.2h7.9v8.0h-7.9zM297.7 162.2h7.9v8.0h-7.9zM297.7 169.9h7.9v8.0h-7.9zM297.7 185.4h7.9v8.0h-7.9zM274.7 208.5h23.2v8.0h-23.2zM267.0 223.9h7.9v7.9h-7.9zM267.0 231.6h7.9v7.9h-7.9zM251.7 239.3h15.6v7.9h-15.6zM251.7 247.0h15.6v7.9h-15.6zM244.1 254.7h15.6v7.9h-15.6zM236.4 262.3h7.9v7.9h-7.9zM221.1 270.0h7.9v7.9h-7.9zM236.4 270.0h7.9v7.9h-7.9zM205.8 277.7h7.9v7.9h-7.9zM228.8 277.7h7.9v7.9h-7.9zM251.7 277.7h7.9v7.9h-7.9zM198.2 285.3h7.9v7.9h-7.9zM251.7 293.0h7.9v7.9h-7.9zM205.8 308.2h15.6v7.9h-15.6zM228.8 308.2h7.9v7.9h-7.9zM198.2 323.5h7.9v7.9h-7.9zM228.8 323.5h7.9v7.9h-7.9zM136.9 331.1h7.9v7.9h-7.9zM175.2 331.1h7.9v7.9h-7.9zM190.5 331.1h7.9v7.9h-7.9zM228.8 331.1h7.9v7.9h-7.9zM6.8 338.8h7.9v7.9h-7.9zM121.6 338.8h7.9v7.9h-7.9zM152.2 338.8h7.9v7.9h-7.9zM167.5 338.8h7.9v7.9h-7.9zM190.5 338.8h7.9v7.9h-7.9zM22.1 346.4h7.9v7.9h-7.9zM136.9 346.4h7.9v7.9h-7.9zM159.9 346.4h7.9v7.9h-7.9zM6.8 354.0h7.9v7.9h-7.9zM6.8 361.6h7.9v7.9h-7.9zM37.4 361.6h7.9v7.9h-7.9zM52.7 361.6h7.9v7.9h-7.9zM75.7 361.6h7.9v7.9h-7.9zM45.1 369.2h7.9v7.8h-7.9zM68.0 369.2h7.9v7.8h-7.9zM106.3 369.2h7.9v7.8h-7.9zM106.3 376.8h7.9v7.8h-7.9z"/><path fill="#0008ff" d="M244.1 0.0h7.9v6.7h-7.9zM259.4 0.0h7.9v6.7h-7.9zM282.3 0.0h7.9v6.7h-7.9zM259.4 6.4h7.9v8.1h-7.9zM282.3 6.4h7.9v8.1h-7.9zM267.0 14.2h15.6v8.1h-15.6zM313.0 14.2h15.6v8.1h-15.6zM305.3 22.1h7.9v8.1h-7.9zM320.6 22.1h7.9v8.1h-7.9zM335.9 22.1h7.9v8.1h-7.9zM313.0 29.9h7.9v8.1h-7.9zM305.3 37.7h30.9v8.1h-30.9zM297.7 45.6h15.6v8.1h-15.6zM328.3 45.6h7.9v8.1h-7.9zM328.3 53.4h7.9v8.1h-7.9zM297.7 61.2h7.9v8.1h-7.9zM335.9 61.2h7.9v8.1h-7.9zM305.3 69.0h15.6v8.0h-15.6zM328.3 69.0h7.9v8.0h-7.9zM313.0 76.8h23.2v8.0h-23.2zM313.0 84.6h15.6v8.0h-15.6zM320.6 92.4h7.9v8.0h-7.9zM313.0 100.1h15.6v8.0h-15.6zM290.0 115.7h7.9v8.0h-7.9zM313.0 115.7h7.9v8.0h-7.9zM305.3 154.5h7.9v8.0h-7.9zM305.3 162.2h7.9v8.0h-7.9zM305.3 169.9h7.9v8.0h-7.9zM290.0 185.4h7.9v8.0h-7.9zM297.7 193.1h7.9v8.0h-7.9zM274.7 200.8h15.6v8.0h-15.6zM297.7 200.8h7.9v8.0h-7.9zM297.7 208.5h7.9v8.0h-7.9zM259.4 216.2h7.9v7.9h-7.9zM274.7 216.2h23.2v7.9h-23.2zM313.0 216.2h7.9v7.9h-7.9zM274.7 223.9h30.9v7.9h-30.9zM274.7 231.6h7.9v7.9h-7.9zM290.0 231.6h7.9v7.9h-7.9zM267.0 239.3h23.2v7.9h-23.2zM267.0 247.0h23.2v7.9h-23.2zM297.7 247.0h7.9v7.9h-7.9zM259.4 254.7h7.9v7.9h-7.9zM251.7 262.3h15.6v7.9h-15.6zM282.3 262.3h7.9v7.9h-7.9zM251.7 270.0h15.6v7.9h-15.6zM236.4 277.7h15.6v7.9h-15.6zM236.4 285.3h7.9v7.9h-7.9zM228.8 293.0h23.2v7.9h-23.2zM236.4 300.6h23.2v7.9h-23.2zM221.1 308.2h7.9v7.9h-7.9zM259.4 308.2h7.9v7.9h-7.9zM205.8 315.9h15.6v7.9h-15.6zM228.8 315.9h7.9v7.9h-7.9zM205.8 323.5h15.6v7.9h-15.6zM159.9 331.1h15.6v7.9h-15.6zM182.8 331.1h7.9v7.9h-7.9zM205.8 331.1h15.6v7.9h-15.6zM251.7 331.1h7.9v7.9h-7.9zM175.2 338.8h15.6v7.9h-15.6zM198.2 338.8h30.9v7.9h-30.9zM152.2 346.4h7.9v7.9h-7.9zM182.8 346.4h15.6v7.9h-15.6zM205.8 346.4h7.9v7.9h-7.9zM14.5 354.0h7.9v7.9h-7.9zM136.9 354.0h23.2v7.9h-23.2zM29.8 361.6h7.9v7.9h-7.9zM60.4 361.6h7.9v7.9h-7.9zM144.6 361.6h23.2v7.9h-23.2zM6.8 369.2h7.9v7.8h-7.9zM22.1 369.2h7.9v7.8h-7.9zM37.4 369.2h7.9v7.8h-7.9zM52.7 369.2h15.6v7.8h-15.6zM75.7 369.2h15.6v7.8h-15.6zM98.6 369.2h7.9v7.8h-7.9zM14.5 376.8h23.2v7.8h-23.2zM52.7 376.8h7.9v7.8h-7.9zM114.0 376.8h7.9v7.8h-7.9z"/><path fill="#0028ff" d="M251.7 0.0h7.9v6.7h-7.9zM267.0 0.0h7.9v6.7h-7.9zM244.1 6.4h7.9v8.1h-7.9zM267.0 6.4h7.9v8.1h-7.9zM259.4 14.2h7.9v8.1h-7.9zM282.3 14.2h7.9v8.1h-7.9zM244.1 22.1h7.9v8.1h-7.9zM274.7 22.1h7.9v8.1h-7.9zM274.7 29.9h23.2v8.1h-23.2zM305.3 29.9h7.9v8.1h-7.9zM244.1 37.7h23.2v8.1h-23.2zM274.7 37.7h7.9v8.1h-7.9zM290.0 37.7h7.9v8.1h-7.9zM267.0 45.6h7.9v8.1h-7.9zM267.0 53.4h7.9v8.1h-7.9zM290.0 53.4h7.9v8.1h-7.9zM259.4 61.2h7.9v8.1h-7.9zM259.4 69.0h7.9v8.0h-7.9zM274.7 69.0h7.9v8.0h-7.9zM290.0 69.0h7.9v8.0h-7.9zM282.3 76.8h7.9v8.0h-7.9zM297.7 84.6h7.9v8.0h-7.9zM290.0 92.4h15.6v8.0h-15.6zM328.3 92.4h7.9v8.0h-7.9zM305.3 100.1h7.9v8.0h-7.9zM282.3 115.7h7.9v8.0h-7.9zM290.0 123.5h15.6v8.0h-15.6zM305.3 131.2h7.9v8.0h-7.9zM290.0 139.0h7.9v8.0h-7.9zM305.3 139.0h7.9v8.0h-7.9zM282.3 154.5h7.9v8.0h-7.9zM290.0 169.9h7.9v8.0h-7.9zM121.6 185.4h7.9v8.0h-7.9zM121.6 193.1h7.9v8.0h-7.9zM267.0 208.5h7.9v8.0h-7.9zM244.1 216.2h15.6v7.9h-15.6zM267.0 216.2h7.9v7.9h-7.9zM251.7 223.9h15.6v7.9h-15.6zM259.4 231.6h7.9v7.9h-7.9zM236.4 254.7h7.9v7.9h-7.9zM228.8 262.3h7.9v7.9h-7.9zM244.1 262.3h7.9v7.9h-7.9zM213.5 270.0h7.9v7.9h-7.9zM244.1 270.0h7.9v7.9h-7.9zM221.1 277.7h7.9v7.9h-7.9zM190.5 285.3h7.9v7.9h-7.9zM228.8 285.3h7.9v7.9h-7.9zM213.5 293.0h15.6v7.9h-15.6zM198.2 300.6h15.6v7.9h-15.6zM228.8 300.6h7.9v7.9h-7.9zM198.2 308.2h7.9v7.9h-7.9zM167.5 315.9h7.9v7.9h-7.9zM182.8 315.9h7.9v7.9h-7.9zM198.2 315.9h7.9v7.9h-7.9zM221.1 315.9h7.9v7.9h-7.9zM152.2 323.5h7.9v7.9h-7.9zM167.5 323.5h7.9v7.9h-7.9zM144.6 331.1h15.6v7.9h-15.6zM129.3 338.8h15.6v7.9h-15.6zM159.9 338.8h7.9v7.9h-7.9zM6.8 346.4h15.6v7.9h-15.6zM91.0 346.4h7.9v7.9h-7.9zM22.1 354.0h7.9v7.9h-7.9zM37.4 354.0h7.9v7.9h-7.9zM83.3 354.0h7.9v7.9h-7.9zM14.5 361.6h15.6v7.9h-15.6zM45.1 361.6h7.9v7.9h-7.9zM68.0 361.6h7.9v7.9h-7.9zM83.3 361.6h23.2v7.9h-23.2zM29.8 369.2h7.9v7.8h-7.9zM91.0 369.2h7.9v7.8h-7.9zM114.0 369.2h7.9v7.8h-7.9z"/><path fill="#0000f7" d="M274.7 0.0h7.9v6.7h-7.9zM297.7 0.0h7.9v6.7h-7.9zM290.0 6.4h7.9v8.1h-7.9zM313.0 6.4h7.9v8.1h-7.9zM297.7 22.1h7.9v8.1h-7.9zM320.6 29.9h23.2v8.1h-23.2zM335.9 37.7h7.9v8.1h-7.9zM320.6 45.6h7.9v8.1h-7.9zM335.9 45.6h7.9v8.1h-7.9zM305.3 61.2h15.6v8.1h-15.6zM328.3 61.2h7.9v8.1h-7.9zM328.3 84.6h7.9v8.0h-7.9zM328.3 123.5h7.9v8.0h-7.9zM320.6 131.2h7.9v8.0h-7.9zM328.3 146.7h7.9v8.0h-7.9zM343.6 146.7h4.7v8.0h-4.7zM313.0 154.5h23.2v8.0h-23.2zM320.6 169.9h15.6v8.0h-15.6zM297.7 177.7h30.9v8.0h-30.9zM305.3 185.4h7.9v8.0h-7.9zM320.6 185.4h7.9v8.0h-7.9zM335.9 185.4h7.9v8.0h-7.9zM290.0 193.1h7.9v8.0h-7.9zM305.3 193.1h23.2v8.0h-23.2zM290.0 200.8h7.9v8.0h-7.9zM313.0 200.8h15.6v8.0h-15.6zM320.6 208.5h15.6v8.0h-15.6zM297.7 216.2h15.6v7.9h-15.6zM282.3 231.6h7.9v7.9h-7.9zM297.7 231.6h7.9v7.9h-7.9zM290.0 239.3h7.9v7.9h-7.9zM313.0 239.3h15.6v7.9h-15.6zM313.0 247.0h7.9v7.9h-7.9zM267.0 254.7h23.2v7.9h-23.2zM267.0 262.3h15.6v7.9h-15.6zM290.0 262.3h7.9v7.9h-7.9zM313.0 262.3h7.9v7.9h-7.9zM267.0 270.0h7.9v7.9h-7.9zM290.0 270.0h7.9v7.9h-7.9zM259.4 277.7h23.2v7.9h-23.2zM297.7 277.7h7.9v7.9h-7.9zM244.1 285.3h46.2v7.9h-46.2zM259.4 293.0h30.9v7.9h-30.9zM259.4 300.6h7.9v7.9h-7.9zM274.7 300.6h15.6v7.9h-15.6zM236.4 308.2h7.9v7.9h-7.9zM251.7 308.2h7.9v7.9h-7.9zM236.4 315.9h23.2v7.9h-23.2zM221.1 323.5h7.9v7.9h-7.9zM267.0 323.5h7.9v7.9h-7.9zM121.6 331.1h7.9v7.9h-7.9zM198.2 331.1h7.9v7.9h-7.9zM221.1 331.1h7.9v7.9h-7.9zM236.4 331.1h7.9v7.9h-7.9zM228.8 338.8h15.6v7.9h-15.6zM251.7 338.8h23.2v7.9h-23.2zM129.3 346.4h7.9v7.9h-7.9zM144.6 346.4h7.9v7.9h-7.9zM167.5 346.4h15.6v7.9h-15.6zM198.2 346.4h7.9v7.9h-7.9zM221.1 346.4h15.6v7.9h-15.6zM244.1 346.4h7.9v7.9h-7.9zM129.3 354.0h7.9v7.9h-7.9zM159.9 354.0h46.2v7.9h-46.2zM221.1 354.0h15.6v7.9h-15.6zM221.1 361.6h7.9v7.9h-7.9zM14.5 369.2h7.9v7.8h-7.9zM136.9 369.2h7.9v7.8h-7.9zM6.8 376.8h7.9v7.8h-7.9zM37.4 376.8h15.6v7.8h-15.6zM68.0 376.8h38.5v7.8h-38.5zM14.5 384.4h7.9v7.8h-7.9zM37.4 384.4h15.6v7.8h-15.6zM60.4 384.4h23.2v7.8h-23.2zM98.6 384.4h7.9v7.8h-7.9zM60.4 392.0h7.9v7.8h-7.9z"/><path fill="#0000e7" d="M305.3 0.0h7.9v6.7h-7.9zM320.6 0.0h7.9v6.7h-7.9zM297.7 6.4h7.9v8.1h-7.9zM335.9 6.4h7.9v8.1h-7.9zM335.9 14.2h7.9v8.1h-7.9zM313.0 22.1h7.9v8.1h-7.9zM328.3 22.1h7.9v8.1h-7.9zM343.6 45.6h4.7v8.1h-4.7zM343.6 61.2h4.7v8.1h-4.7zM343.6 76.8h4.7v8.0h-4.7zM335.9 84.6h7.9v8.0h-7.9zM335.9 92.4h7.9v8.0h-7.9zM328.3 100.1h7.9v8.0h-7.9zM343.6 107.9h4.7v8.0h-4.7zM328.3 115.7h7.9v8.0h-7.9zM335.9 123.5h12.3v8.0h-12.3zM328.3 131.2h7.9v8.0h-7.9zM313.0 139.0h30.9v8.0h-30.9zM313.0 146.7h15.6v8.0h-15.6zM335.9 146.7h7.9v8.0h-7.9zM335.9 154.5h12.3v8.0h-12.3zM313.0 162.2h7.9v8.0h-7.9zM328.3 162.2h7.9v8.0h-7.9zM313.0 169.9h7.9v8.0h-7.9zM343.6 169.9h4.7v8.0h-4.7zM335.9 177.7h12.3v8.0h-12.3zM313.0 185.4h7.9v8.0h-7.9zM328.3 185.4h7.9v8.0h-7.9zM343.6 193.1h4.7v8.0h-4.7zM305.3 200.8h7.9v8.0h-7.9zM328.3 200.8h7.9v8.0h-7.9zM305.3 208.5h15.6v8.0h-15.6zM121.6 216.2h7.9v7.9h-7.9zM320.6 216.2h23.2v7.9h-23.2zM305.3 223.9h30.9v7.9h-30.9zM305.3 231.6h7.9v7.9h-7.9zM320.6 231.6h15.6v7.9h-15.6zM297.7 239.3h15.6v7.9h-15.6zM290.0 247.0h7.9v7.9h-7.9zM305.3 247.0h7.9v7.9h-7.9zM320.6 247.0h7.9v7.9h-7.9zM335.9 247.0h7.9v7.9h-7.9zM290.0 254.7h23.2v7.9h-23.2zM328.3 254.7h15.6v7.9h-15.6zM297.7 262.3h15.6v7.9h-15.6zM320.6 262.3h7.9v7.9h-7.9zM274.7 270.0h15.6v7.9h-15.6zM297.7 270.0h7.9v7.9h-7.9zM320.6 270.0h7.9v7.9h-7.9zM282.3 277.7h7.9v7.9h-7.9zM305.3 277.7h15.6v7.9h-15.6zM290.0 285.3h7.9v7.9h-7.9zM305.3 285.3h7.9v7.9h-7.9zM290.0 293.0h30.9v7.9h-30.9zM328.3 293.0h7.9v7.9h-7.9zM267.0 300.6h7.9v7.9h-7.9zM290.0 300.6h7.9v7.9h-7.9zM305.3 300.6h7.9v7.9h-7.9zM244.1 308.2h7.9v7.9h-7.9zM267.0 308.2h15.6v7.9h-15.6zM290.0 308.2h7.9v7.9h-7.9zM267.0 315.9h15.6v7.9h-15.6zM290.0 315.9h7.9v7.9h-7.9zM244.1 323.5h15.6v7.9h-15.6zM282.3 323.5h7.9v7.9h-7.9zM305.3 323.5h7.9v7.9h-7.9zM259.4 331.1h30.9v7.9h-30.9zM313.0 331.1h7.9v7.9h-7.9zM244.1 338.8h7.9v7.9h-7.9zM121.6 346.4h7.9v7.9h-7.9zM213.5 346.4h7.9v7.9h-7.9zM259.4 346.4h7.9v7.9h-7.9zM290.0 346.4h7.9v7.9h-7.9zM205.8 354.0h15.6v7.9h-15.6zM236.4 354.0h7.9v7.9h-7.9zM251.7 354.0h7.9v7.9h-7.9zM297.7 354.0h7.9v7.9h-7.9zM136.9 361.6h7.9v7.9h-7.9zM175.2 361.6h30.9v7.9h-30.9zM213.5 361.6h7.9v7.9h-7.9zM228.8 361.6h15.6v7.9h-15.6zM152.2 369.2h7.9v7.8h-7.9zM167.5 369.2h15.6v7.8h-15.6zM221.1 369.2h15.6v7.8h-15.6zM60.4 376.8h7.9v7.8h-7.9zM159.9 376.8h7.9v7.8h-7.9zM213.5 376.8h7.9v7.8h-7.9zM6.8 384.4h7.9v7.8h-7.9zM22.1 384.4h15.6v7.8h-15.6zM52.7 384.4h7.9v7.8h-7.9zM91.0 384.4h7.9v7.8h-7.9zM106.3 384.4h7.9v7.8h-7.9zM14.5 392.0h30.9v7.8h-30.9zM68.0 392.0h7.9v7.8h-7.9zM6.8 399.5h7.9v7.8h-7.9zM22.1 399.5h7.9v7.8h-7.9z"/><path fill="#0000d7" d="M313.0 0.0h7.9v6.7h-7.9zM328.3 0.0h7.9v6.7h-7.9zM328.3 6.4h7.9v8.1h-7.9zM328.3 14.2h7.9v8.1h-7.9zM343.6 14.2h4.7v8.1h-4.7zM335.9 53.4h7.9v8.1h-7.9zM335.9 69.0h12.3v8.0h-12.3zM335.9 76.8h7.9v8.0h-7.9zM335.9 100.1h12.3v8.0h-12.3zM328.3 107.9h15.6v8.0h-15.6zM335.9 115.7h7.9v8.0h-7.9zM343.6 131.2h4.7v8.0h-4.7zM320.6 162.2h7.9v8.0h-7.9zM335.9 162.2h12.3v8.0h-12.3zM335.9 169.9h7.9v8.0h-7.9zM328.3 177.7h7.9v8.0h-7.9zM343.6 185.4h4.7v8.0h-4.7zM328.3 193.1h7.9v8.0h-7.9zM335.9 200.8h12.3v8.0h-12.3zM335.9 208.5h12.3v8.0h-12.3zM343.6 216.2h4.7v7.9h-4.7zM335.9 223.9h12.3v7.9h-12.3zM313.0 231.6h7.9v7.9h-7.9zM335.9 231.6h12.3v7.9h-12.3zM328.3 239.3h15.6v7.9h-15.6zM328.3 247.0h7.9v7.9h-7.9zM313.0 254.7h15.6v7.9h-15.6zM106.3 262.3h7.9v7.9h-7.9zM328.3 262.3h15.6v7.9h-15.6zM305.3 270.0h15.6v7.9h-15.6zM328.3 270.0h7.9v7.9h-7.9zM343.6 270.0h4.7v7.9h-4.7zM290.0 277.7h7.9v7.9h-7.9zM335.9 277.7h7.9v7.9h-7.9zM297.7 285.3h7.9v7.9h-7.9zM313.0 285.3h7.9v7.9h-7.9zM328.3 285.3h7.9v7.9h-7.9zM343.6 285.3h4.7v7.9h-4.7zM320.6 293.0h7.9v7.9h-7.9zM335.9 293.0h12.3v7.9h-12.3zM313.0 300.6h30.9v7.9h-30.9zM282.3 308.2h7.9v7.9h-7.9zM297.7 308.2h15.6v7.9h-15.6zM328.3 308.2h15.6v7.9h-15.6zM282.3 315.9h7.9v7.9h-7.9zM305.3 315.9h15.6v7.9h-15.6zM236.4 323.5h7.9v7.9h-7.9zM259.4 323.5h7.9v7.9h-7.9zM274.7 323.5h7.9v7.9h-7.9zM290.0 323.5h15.6v7.9h-15.6zM313.0 323.5h7.9v7.9h-7.9zM244.1 331.1h7.9v7.9h-7.9zM290.0 331.1h7.9v7.9h-7.9zM320.6 331.1h7.9v7.9h-7.9zM274.7 338.8h23.2v7.9h-23.2zM305.3 338.8h7.9v7.9h-7.9zM320.6 338.8h7.9v7.9h-7.9zM236.4 346.4h7.9v7.9h-7.9zM251.7 346.4h7.9v7.9h-7.9zM267.0 346.4h23.2v7.9h-23.2zM244.1 354.0h7.9v7.9h-7.9zM259.4 354.0h38.5v7.9h-38.5zM167.5 361.6h7.9v7.9h-7.9zM251.7 361.6h30.9v7.9h-30.9zM290.0 361.6h7.9v7.9h-7.9zM144.6 369.2h7.9v7.8h-7.9zM159.9 369.2h7.9v7.8h-7.9zM182.8 369.2h23.2v7.8h-23.2zM236.4 369.2h7.9v7.8h-7.9zM259.4 369.2h7.9v7.8h-7.9zM274.7 369.2h7.9v7.8h-7.9zM290.0 369.2h7.9v7.8h-7.9zM144.6 376.8h15.6v7.8h-15.6zM167.5 376.8h7.9v7.8h-7.9zM244.1 376.8h15.6v7.8h-15.6zM83.3 384.4h7.9v7.8h-7.9zM236.4 384.4h7.9v7.8h-7.9zM251.7 384.4h7.9v7.8h-7.9zM45.1 392.0h15.6v7.8h-15.6zM83.3 392.0h15.6v7.8h-15.6zM29.8 399.5h30.9v7.8h-30.9zM75.7 399.5h7.9v7.8h-7.9zM6.8 407.1h7.9v7.8h-7.9zM22.1 407.1h15.6v7.8h-15.6zM29.8 414.7h7.9v7.8h-7.9zM45.1 414.7h7.9v7.8h-7.9zM6.8 422.3h7.9v5.1h-7.9z"/><path fill="#0000c7" d="M335.9 0.0h7.9v6.7h-7.9zM320.6 6.4h7.9v8.1h-7.9zM343.6 37.7h4.7v8.1h-4.7zM343.6 53.4h4.7v8.1h-4.7zM343.6 84.6h4.7v8.0h-4.7zM343.6 92.4h4.7v8.0h-4.7zM343.6 115.7h4.7v8.0h-4.7zM320.6 123.5h7.9v8.0h-7.9zM335.9 131.2h7.9v8.0h-7.9zM343.6 139.0h4.7v8.0h-4.7zM335.9 193.1h7.9v8.0h-7.9zM343.6 239.3h4.7v7.9h-4.7zM343.6 247.0h4.7v7.9h-4.7zM343.6 254.7h4.7v7.9h-4.7zM343.6 262.3h4.7v7.9h-4.7zM106.3 270.0h7.9v7.9h-7.9zM335.9 270.0h7.9v7.9h-7.9zM320.6 277.7h15.6v7.9h-15.6zM343.6 277.7h4.7v7.9h-4.7zM320.6 285.3h7.9v7.9h-7.9zM335.9 285.3h7.9v7.9h-7.9zM297.7 300.6h7.9v7.9h-7.9zM343.6 300.6h4.7v7.9h-4.7zM313.0 308.2h15.6v7.9h-15.6zM297.7 315.9h7.9v7.9h-7.9zM320.6 315.9h23.2v7.9h-23.2zM320.6 323.5h7.9v7.9h-7.9zM297.7 331.1h15.6v7.9h-15.6zM297.7 338.8h7.9v7.9h-7.9zM114.0 346.4h7.9v7.9h-7.9zM297.7 346.4h15.6v7.9h-15.6zM205.8 361.6h7.9v7.9h-7.9zM244.1 361.6h7.9v7.9h-7.9zM282.3 361.6h7.9v7.9h-7.9zM305.3 361.6h7.9v7.9h-7.9zM129.3 369.2h7.9v7.8h-7.9zM205.8 369.2h15.6v7.8h-15.6zM244.1 369.2h15.6v7.8h-15.6zM267.0 369.2h7.9v7.8h-7.9zM282.3 369.2h7.9v7.8h-7.9zM121.6 376.8h23.2v7.8h-23.2zM175.2 376.8h38.5v7.8h-38.5zM221.1 376.8h7.9v7.8h-7.9zM236.4 376.8h7.9v7.8h-7.9zM259.4 376.8h15.6v7.8h-15.6zM282.3 376.8h7.9v7.8h-7.9zM297.7 376.8h7.9v7.8h-7.9zM136.9 384.4h23.2v7.8h-23.2zM205.8 384.4h7.9v7.8h-7.9zM221.1 384.4h15.6v7.8h-15.6zM244.1 384.4h7.9v7.8h-7.9zM259.4 384.4h15.6v7.8h-15.6zM6.8 392.0h7.9v7.8h-7.9zM75.7 392.0h7.9v7.8h-7.9zM98.6 392.0h7.9v7.8h-7.9zM205.8 392.0h15.6v7.8h-15.6zM236.4 392.0h7.9v7.8h-7.9zM251.7 392.0h7.9v7.8h-7.9zM14.5 399.5h7.9v7.8h-7.9zM60.4 399.5h15.6v7.8h-15.6zM83.3 399.5h7.9v7.8h-7.9zM244.1 399.5h7.9v7.8h-7.9zM37.4 407.1h30.9v7.8h-30.9zM75.7 407.1h7.9v7.8h-7.9zM6.8 414.7h23.2v7.8h-23.2zM37.4 414.7h7.9v7.8h-7.9zM52.7 414.7h7.9v7.8h-7.9zM68.0 414.7h7.9v7.8h-7.9zM14.5 422.3h15.6v5.1h-15.6zM52.7 422.3h15.6v5.1h-15.6z"/><path fill="#000087" d="M343.6 0.0h4.7v6.7h-4.7zM343.6 6.4h4.7v8.1h-4.7zM343.6 22.1h4.7v8.1h-4.7zM343.6 29.9h4.7v8.1h-4.7zM91.0 254.7h23.2v7.9h-23.2zM91.0 262.3h15.6v7.9h-15.6zM14.5 323.5h7.9v7.9h-7.9zM91.0 399.5h46.2v7.8h-46.2zM152.2 399.5h7.9v7.8h-7.9zM91.0 407.1h76.8v7.8h-76.8zM91.0 414.7h76.8v7.8h-76.8zM83.3 422.3h15.6v5.1h-15.6zM106.3 422.3h23.2v5.1h-23.2zM136.9 422.3h7.9v5.1h-7.9zM343.6 422.3h4.7v5.1h-4.7z"/><path fill="#58ffa7" d="M75.7 6.4h7.9v8.1h-7.9zM98.6 22.1h7.9v8.1h-7.9zM98.6 29.9h7.9v8.1h-7.9zM106.3 37.7h7.9v8.1h-7.9zM121.6 37.7h7.9v8.1h-7.9zM106.3 53.4h7.9v8.1h-7.9zM121.6 76.8h7.9v8.0h-7.9zM136.9 76.8h7.9v8.0h-7.9zM121.6 84.6h7.9v8.0h-7.9zM152.2 92.4h7.9v8.0h-7.9zM144.6 100.1h7.9v8.0h-7.9zM159.9 107.9h7.9v8.0h-7.9zM114.0 115.7h15.6v8.0h-15.6zM167.5 146.7h7.9v8.0h-7.9zM114.0 154.5h7.9v8.0h-7.9zM159.9 185.4h15.6v8.0h-15.6zM144.6 193.1h7.9v8.0h-7.9zM159.9 193.1h7.9v8.0h-7.9zM152.2 200.8h7.9v8.0h-7.9zM159.9 208.5h7.9v8.0h-7.9zM136.9 216.2h7.9v7.9h-7.9zM152.2 231.6h7.9v7.9h-7.9zM159.9 239.3h7.9v7.9h-7.9zM159.9 262.3h7.9v7.9h-7.9zM68.0 270.0h7.9v7.9h-7.9zM83.3 270.0h7.9v7.9h-7.9zM159.9 277.7h7.9v7.9h-7.9zM114.0 293.0h7.9v7.9h-7.9zM136.9 293.0h7.9v7.9h-7.9z"/><path fill="#28ffd7" d="M83.3 6.4h7.9v8.1h-7.9zM106.3 14.2h7.9v8.1h-7.9zM121.6 29.9h7.9v8.1h-7.9zM106.3 45.6h7.9v8.1h-7.9zM144.6 53.4h7.9v8.1h-7.9zM144.6 92.4h7.9v8.0h-7.9zM167.5 115.7h7.9v8.0h-7.9zM175.2 139.0h7.9v8.0h-7.9zM182.8 177.7h7.9v8.0h-7.9zM159.9 200.8h7.9v8.0h-7.9zM144.6 216.2h7.9v7.9h-7.9zM175.2 216.2h7.9v7.9h-7.9zM167.5 231.6h15.6v7.9h-15.6zM152.2 285.3h7.9v7.9h-7.9zM129.3 315.9h7.9v7.9h-7.9z"/><path fill="#18ffe7" d="M91.0 6.4h15.6v8.1h-15.6zM121.6 14.2h7.9v8.1h-7.9zM114.0 29.9h7.9v8.1h-7.9zM144.6 37.7h7.9v8.1h-7.9zM152.2 53.4h7.9v8.1h-7.9zM152.2 61.2h7.9v8.1h-7.9zM152.2 76.8h15.6v8.0h-15.6zM129.3 92.4h7.9v8.0h-7.9zM175.2 100.1h7.9v8.0h-7.9zM167.5 107.9h7.9v8.0h-7.9zM136.9 139.0h7.9v8.0h-7.9zM182.8 139.0h7.9v8.0h-7.9zM182.8 154.5h15.6v8.0h-15.6zM175.2 162.2h15.6v8.0h-15.6zM190.5 177.7h7.9v8.0h-7.9zM182.8 185.4h7.9v8.0h-7.9zM182.8 193.1h7.9v8.0h-7.9zM121.6 200.8h7.9v8.0h-7.9zM175.2 200.8h7.9v8.0h-7.9zM129.3 208.5h7.9v8.0h-7.9zM175.2 208.5h15.6v8.0h-15.6zM167.5 216.2h7.9v7.9h-7.9zM182.8 216.2h7.9v7.9h-7.9zM75.7 293.0h7.9v7.9h-7.9zM106.3 293.0h7.9v7.9h-7.9zM159.9 293.0h7.9v7.9h-7.9zM106.3 300.6h7.9v7.9h-7.9zM159.9 300.6h7.9v7.9h-7.9zM114.0 308.2h7.9v7.9h-7.9zM144.6 308.2h7.9v7.9h-7.9zM121.6 315.9h7.9v7.9h-7.9z"/><path fill="#48ffb7" d="M75.7 14.2h7.9v8.1h-7.9zM106.3 29.9h7.9v8.1h-7.9zM98.6 37.7h7.9v8.1h-7.9zM129.3 61.2h15.6v8.1h-15.6zM114.0 69.0h7.9v8.0h-7.9zM144.6 76.8h7.9v8.0h-7.9zM114.0 84.6h7.9v8.0h-7.9zM129.3 84.6h7.9v8.0h-7.9zM114.0 92.4h7.9v8.0h-7.9zM121.6 100.1h7.9v8.0h-7.9zM159.9 123.5h7.9v8.0h-7.9zM106.3 146.7h7.9v8.0h-7.9zM175.2 154.5h7.9v8.0h-7.9zM175.2 177.7h7.9v8.0h-7.9zM167.5 193.1h7.9v8.0h-7.9zM167.5 208.5h7.9v8.0h-7.9zM159.9 223.9h7.9v7.9h-7.9zM144.6 270.0h7.9v7.9h-7.9zM167.5 270.0h7.9v7.9h-7.9zM152.2 277.7h7.9v7.9h-7.9z"/><path fill="#38ffc7" d="M83.3 14.2h23.2v8.1h-23.2zM114.0 14.2h7.9v8.1h-7.9zM114.0 37.7h7.9v8.1h-7.9zM114.0 45.6h15.6v8.1h-15.6zM136.9 53.4h7.9v8.1h-7.9zM98.6 61.2h7.9v8.1h-7.9zM114.0 61.2h7.9v8.1h-7.9zM144.6 61.2h7.9v8.1h-7.9zM136.9 69.0h15.6v8.0h-15.6zM152.2 84.6h7.9v8.0h-7.9zM152.2 100.1h7.9v8.0h-7.9zM167.5 100.1h7.9v8.0h-7.9zM167.5 131.2h7.9v8.0h-7.9zM175.2 146.7h7.9v8.0h-7.9zM167.5 200.8h7.9v8.0h-7.9zM121.6 208.5h7.9v8.0h-7.9zM136.9 208.5h15.6v8.0h-15.6zM167.5 223.9h7.9v7.9h-7.9zM159.9 231.6h7.9v7.9h-7.9zM144.6 300.6h7.9v7.9h-7.9z"/><path fill="#0058ff" d="M221.1 14.2h15.6v8.1h-15.6zM205.8 22.1h15.6v8.1h-15.6zM228.8 22.1h7.9v8.1h-7.9zM213.5 29.9h7.9v8.1h-7.9zM244.1 29.9h7.9v8.1h-7.9zM236.4 37.7h7.9v8.1h-7.9zM221.1 45.6h7.9v8.1h-7.9zM228.8 53.4h7.9v8.1h-7.9zM221.1 61.2h15.6v8.1h-15.6zM236.4 84.6h7.9v8.0h-7.9zM259.4 92.4h15.6v8.0h-15.6zM244.1 100.1h15.6v8.0h-15.6zM236.4 107.9h7.9v8.0h-7.9zM251.7 115.7h15.6v8.0h-15.6zM274.7 115.7h7.9v8.0h-7.9zM236.4 123.5h15.6v8.0h-15.6zM267.0 123.5h7.9v8.0h-7.9zM251.7 131.2h15.6v8.0h-15.6zM274.7 131.2h7.9v8.0h-7.9zM267.0 139.0h7.9v8.0h-7.9zM251.7 146.7h15.6v8.0h-15.6zM244.1 154.5h7.9v8.0h-7.9zM251.7 162.2h23.2v8.0h-23.2zM282.3 169.9h7.9v8.0h-7.9zM274.7 177.7h7.9v8.0h-7.9zM236.4 185.4h15.6v8.0h-15.6zM267.0 185.4h7.9v8.0h-7.9zM259.4 193.1h7.9v8.0h-7.9zM282.3 193.1h7.9v8.0h-7.9zM259.4 200.8h7.9v8.0h-7.9zM251.7 208.5h15.6v8.0h-15.6zM213.5 231.6h15.6v7.9h-15.6zM198.2 247.0h7.9v7.9h-7.9zM190.5 254.7h7.9v7.9h-7.9zM190.5 270.0h7.9v7.9h-7.9zM152.2 308.2h7.9v7.9h-7.9zM167.5 308.2h15.6v7.9h-15.6zM144.6 315.9h7.9v7.9h-7.9zM91.0 338.8h7.9v7.9h-7.9zM52.7 346.4h7.9v7.9h-7.9zM68.0 346.4h15.6v7.9h-15.6zM114.0 354.0h7.9v7.9h-7.9z"/><path fill="#97ff68" d="M75.7 22.1h7.9v8.1h-7.9zM75.7 29.9h7.9v8.1h-7.9zM91.0 69.0h15.6v8.0h-15.6zM98.6 92.4h7.9v8.0h-7.9zM129.3 100.1h15.6v8.0h-15.6zM152.2 107.9h7.9v8.0h-7.9zM129.3 115.7h7.9v8.0h-7.9zM144.6 131.2h15.6v8.0h-15.6zM129.3 139.0h7.9v8.0h-7.9zM167.5 162.2h7.9v8.0h-7.9zM129.3 169.9h7.9v8.0h-7.9zM159.9 177.7h7.9v8.0h-7.9zM129.3 200.8h7.9v8.0h-7.9zM159.9 270.0h7.9v7.9h-7.9z"/><path fill="#87ff78" d="M83.3 22.1h7.9v8.1h-7.9zM98.6 53.4h7.9v8.1h-7.9zM91.0 61.2h7.9v8.1h-7.9zM83.3 69.0h7.9v8.0h-7.9zM83.3 76.8h7.9v8.0h-7.9zM121.6 92.4h7.9v8.0h-7.9zM136.9 92.4h7.9v8.0h-7.9zM114.0 100.1h7.9v8.0h-7.9zM159.9 131.2h7.9v8.0h-7.9zM167.5 154.5h7.9v8.0h-7.9zM144.6 185.4h7.9v8.0h-7.9zM152.2 223.9h7.9v7.9h-7.9zM167.5 247.0h7.9v7.9h-7.9zM114.0 254.7h7.9v7.9h-7.9zM152.2 270.0h7.9v7.9h-7.9zM114.0 277.7h7.9v7.9h-7.9zM144.6 277.7h7.9v7.9h-7.9zM75.7 285.3h7.9v7.9h-7.9zM114.0 285.3h7.9v7.9h-7.9zM136.9 285.3h7.9v7.9h-7.9zM144.6 293.0h7.9v7.9h-7.9z"/><path fill="#68ff97" d="M91.0 22.1h7.9v8.1h-7.9zM121.6 61.2h7.9v8.1h-7.9zM106.3 69.0h7.9v8.0h-7.9zM121.6 69.0h7.9v8.0h-7.9zM144.6 84.6h7.9v8.0h-7.9zM106.3 92.4h7.9v8.0h-7.9zM98.6 107.9h7.9v8.0h-7.9zM114.0 107.9h15.6v8.0h-15.6zM121.6 123.5h7.9v8.0h-7.9zM167.5 123.5h7.9v8.0h-7.9zM167.5 139.0h7.9v8.0h-7.9zM167.5 169.9h15.6v8.0h-15.6zM152.2 177.7h7.9v8.0h-7.9zM129.3 193.1h7.9v8.0h-7.9zM144.6 200.8h7.9v8.0h-7.9zM152.2 216.2h15.6v7.9h-15.6zM152.2 239.3h7.9v7.9h-7.9zM167.5 254.7h7.9v7.9h-7.9zM167.5 262.3h7.9v7.9h-7.9zM83.3 277.7h7.9v7.9h-7.9zM136.9 277.7h7.9v7.9h-7.9zM144.6 285.3h7.9v7.9h-7.9zM114.0 300.6h7.9v7.9h-7.9zM129.3 300.6h7.9v7.9h-7.9z"/><path fill="#00e7ff" d="M114.0 22.1h7.9v8.1h-7.9zM129.3 37.7h15.6v8.1h-15.6zM159.9 37.7h7.9v8.1h-7.9zM129.3 45.6h7.9v8.1h-7.9zM167.5 61.2h7.9v8.1h-7.9zM175.2 76.8h7.9v8.0h-7.9zM167.5 84.6h7.9v8.0h-7.9zM182.8 92.4h7.9v8.0h-7.9zM182.8 100.1h15.6v8.0h-15.6zM190.5 146.7h7.9v8.0h-7.9zM198.2 162.2h7.9v8.0h-7.9zM205.8 169.9h7.9v8.0h-7.9zM198.2 177.7h7.9v8.0h-7.9zM190.5 185.4h7.9v8.0h-7.9zM167.5 239.3h7.9v7.9h-7.9zM175.2 270.0h7.9v7.9h-7.9zM175.2 277.7h7.9v7.9h-7.9zM167.5 285.3h7.9v7.9h-7.9zM91.0 293.0h15.6v7.9h-15.6zM167.5 293.0h7.9v7.9h-7.9zM45.1 300.6h7.9v7.9h-7.9zM68.0 300.6h7.9v7.9h-7.9zM167.5 300.6h7.9v7.9h-7.9z"/><path fill="#ff9700" d="M83.3 29.9h7.9v8.1h-7.9z"/><path fill="#b7ff48" d="M91.0 29.9h7.9v8.1h-7.9zM83.3 61.2h7.9v8.1h-7.9zM91.0 76.8h7.9v8.0h-7.9zM91.0 84.6h7.9v8.0h-7.9zM144.6 139.0h7.9v8.0h-7.9zM136.9 146.7h7.9v8.0h-7.9zM152.2 146.7h7.9v8.0h-7.9zM159.9 154.5h7.9v8.0h-7.9zM144.6 177.7h7.9v8.0h-7.9zM136.9 200.8h7.9v8.0h-7.9zM152.2 254.7h7.9v7.9h-7.9zM136.9 262.3h7.9v7.9h-7.9zM152.2 262.3h7.9v7.9h-7.9zM136.9 270.0h7.9v7.9h-7.9zM129.3 277.7h7.9v7.9h-7.9zM121.6 285.3h7.9v7.9h-7.9zM121.6 293.0h7.9v7.9h-7.9z"/><path fill="#a7ff58" d="M75.7 37.7h7.9v8.1h-7.9zM91.0 53.4h7.9v8.1h-7.9zM98.6 76.8h23.2v8.0h-23.2zM83.3 84.6h7.9v8.0h-7.9zM98.6 84.6h7.9v8.0h-7.9zM98.6 115.7h7.9v8.0h-7.9zM136.9 115.7h7.9v8.0h-7.9zM144.6 146.7h7.9v8.0h-7.9zM159.9 146.7h7.9v8.0h-7.9zM144.6 154.5h7.9v8.0h-7.9zM159.9 162.2h7.9v8.0h-7.9zM136.9 177.7h7.9v8.0h-7.9zM129.3 185.4h7.9v8.0h-7.9zM152.2 185.4h7.9v8.0h-7.9zM159.9 254.7h7.9v7.9h-7.9zM121.6 270.0h7.9v7.9h-7.9zM121.6 300.6h7.9v7.9h-7.9z"/><path fill="#ff8700" d="M83.3 37.7h7.9v8.1h-7.9zM121.6 154.5h7.9v8.0h-7.9zM75.7 270.0h7.9v7.9h-7.9z"/><path fill="#ffa700" d="M91.0 37.7h7.9v8.1h-7.9zM136.9 254.7h7.9v7.9h-7.9zM114.0 262.3h7.9v7.9h-7.9zM75.7 277.7h7.9v7.9h-7.9z"/><path fill="#c7ff38" d="M75.7 45.6h7.9v8.1h-7.9zM106.3 84.6h7.9v8.0h-7.9zM91.0 100.1h15.6v8.0h-15.6zM106.3 107.9h7.9v8.0h-7.9zM136.9 107.9h7.9v8.0h-7.9zM152.2 139.0h7.9v8.0h-7.9zM136.9 154.5h7.9v8.0h-7.9zM144.6 162.2h15.6v8.0h-15.6zM152.2 169.9h7.9v8.0h-7.9zM136.9 185.4h7.9v8.0h-7.9zM144.6 247.0h7.9v7.9h-7.9zM144.6 254.7h7.9v7.9h-7.9zM129.3 285.3h7.9v7.9h-7.9z"/><path fill="#ff2800" d="M83.3 45.6h7.9v8.1h-7.9zM106.3 139.0h7.9v8.0h-7.9zM129.3 254.7h7.9v7.9h-7.9z"/><path fill="#ffe700" d="M91.0 45.6h7.9v8.1h-7.9zM121.6 223.9h15.6v7.9h-15.6zM114.0 270.0h7.9v7.9h-7.9zM121.6 277.7h7.9v7.9h-7.9z"/><path fill="#78ff87" d="M98.6 45.6h7.9v8.1h-7.9zM114.0 53.4h7.9v8.1h-7.9zM106.3 61.2h7.9v8.1h-7.9zM106.3 100.1h7.9v8.0h-7.9zM144.6 107.9h7.9v8.0h-7.9zM106.3 115.7h7.9v8.0h-7.9zM144.6 115.7h23.2v8.0h-23.2zM136.9 123.5h7.9v8.0h-7.9zM152.2 123.5h7.9v8.0h-7.9zM159.9 139.0h7.9v8.0h-7.9zM159.9 169.9h7.9v8.0h-7.9zM129.3 177.7h7.9v8.0h-7.9zM167.5 177.7h7.9v8.0h-7.9zM152.2 193.1h7.9v8.0h-7.9zM152.2 208.5h7.9v8.0h-7.9zM144.6 223.9h7.9v7.9h-7.9zM152.2 247.0h15.6v7.9h-15.6zM68.0 285.3h7.9v7.9h-7.9zM129.3 293.0h7.9v7.9h-7.9zM136.9 300.6h7.9v7.9h-7.9zM121.6 308.2h15.6v7.9h-15.6z"/><path fill="#f7ff08" d="M83.3 53.4h7.9v8.1h-7.9zM91.0 92.4h7.9v8.0h-7.9zM129.3 270.0h7.9v7.9h-7.9z"/><path fill="#d7ff28" d="M129.3 107.9h7.9v8.0h-7.9zM114.0 123.5h7.9v8.0h-7.9zM129.3 123.5h7.9v8.0h-7.9zM136.9 131.2h7.9v8.0h-7.9zM152.2 154.5h7.9v8.0h-7.9zM129.3 162.2h7.9v8.0h-7.9zM144.6 169.9h7.9v8.0h-7.9zM136.9 193.1h7.9v8.0h-7.9zM144.6 231.6h7.9v7.9h-7.9z"/><path fill="#e7ff18" d="M106.3 123.5h7.9v8.0h-7.9zM144.6 123.5h7.9v8.0h-7.9zM136.9 162.2h7.9v8.0h-7.9zM136.9 169.9h7.9v8.0h-7.9zM144.6 239.3h7.9v7.9h-7.9zM144.6 262.3h7.9v7.9h-7.9z"/><path fill="#ff6800" d="M106.3 131.2h7.9v8.0h-7.9zM129.3 146.7h7.9v8.0h-7.9zM121.6 254.7h7.9v7.9h-7.9z"/><path fill="#ff5800" d="M114.0 131.2h7.9v8.0h-7.9z"/><path fill="#ffd700" d="M121.6 131.2h7.9v8.0h-7.9zM121.6 262.3h7.9v7.9h-7.9z"/><path fill="#fff700" d="M129.3 131.2h7.9v8.0h-7.9zM136.9 223.9h7.9v7.9h-7.9z"/><path fill="#870000" d="M114.0 139.0h7.9v8.0h-7.9zM114.0 146.7h15.6v8.0h-15.6zM129.3 231.6h7.9v7.9h-7.9zM129.3 239.3h7.9v7.9h-7.9zM129.3 247.0h7.9v7.9h-7.9z"/><path fill="#ff0800" d="M121.6 139.0h7.9v8.0h-7.9z"/><path fill="#ff7800" d="M129.3 154.5h7.9v8.0h-7.9z"/><path fill="#a70000" d="M121.6 231.6h7.9v7.9h-7.9zM136.9 239.3h7.9v7.9h-7.9z"/><path fill="#ffc700" d="M136.9 231.6h7.9v7.9h-7.9z"/><path fill="#ff3800" d="M121.6 239.3h7.9v7.9h-7.9zM121.6 247.0h7.9v7.9h-7.9z"/><path fill="#970000" d="M136.9 247.0h7.9v7.9h-7.9z"/><path fill="#ffb700" d="M129.3 262.3h7.9v7.9h-7.9zM68.0 277.7h7.9v7.9h-7.9z"/><path fill="#0000b7" d="M343.6 308.2h4.7v7.9h-4.7zM259.4 315.9h7.9v7.9h-7.9zM335.9 323.5h7.9v7.9h-7.9zM335.9 331.1h7.9v7.9h-7.9zM313.0 338.8h7.9v7.9h-7.9zM328.3 338.8h7.9v7.9h-7.9zM313.0 346.4h7.9v7.9h-7.9zM328.3 346.4h15.6v7.9h-15.6zM305.3 354.0h23.2v7.9h-23.2zM343.6 354.0h4.7v7.9h-4.7zM297.7 361.6h7.9v7.9h-7.9zM313.0 361.6h15.6v7.9h-15.6zM343.6 361.6h4.7v7.9h-4.7zM297.7 369.2h23.2v7.8h-23.2zM335.9 369.2h12.3v7.8h-12.3zM228.8 376.8h7.9v7.8h-7.9zM274.7 376.8h7.9v7.8h-7.9zM313.0 376.8h15.6v7.8h-15.6zM129.3 384.4h7.9v7.8h-7.9zM159.9 384.4h46.2v7.8h-46.2zM213.5 384.4h7.9v7.8h-7.9zM274.7 384.4h15.6v7.8h-15.6zM297.7 384.4h7.9v7.8h-7.9zM320.6 384.4h7.9v7.8h-7.9zM335.9 384.4h7.9v7.8h-7.9zM129.3 392.0h7.9v7.8h-7.9zM144.6 392.0h53.8v7.8h-53.8zM244.1 392.0h7.9v7.8h-7.9zM259.4 392.0h7.9v7.8h-7.9zM282.3 392.0h15.6v7.8h-15.6zM305.3 392.0h7.9v7.8h-7.9zM144.6 399.5h7.9v7.8h-7.9zM190.5 399.5h7.9v7.8h-7.9zM228.8 399.5h15.6v7.8h-15.6zM251.7 399.5h23.2v7.8h-23.2zM282.3 399.5h7.9v7.8h-7.9zM328.3 399.5h7.9v7.8h-7.9zM14.5 407.1h7.9v7.8h-7.9zM68.0 407.1h7.9v7.8h-7.9zM83.3 407.1h7.9v7.8h-7.9zM190.5 407.1h7.9v7.8h-7.9zM282.3 407.1h7.9v7.8h-7.9zM297.7 407.1h15.6v7.8h-15.6zM343.6 407.1h4.7v7.8h-4.7zM60.4 414.7h7.9v7.8h-7.9zM75.7 414.7h7.9v7.8h-7.9zM228.8 414.7h7.9v7.8h-7.9zM267.0 414.7h7.9v7.8h-7.9zM290.0 414.7h7.9v7.8h-7.9zM320.6 414.7h7.9v7.8h-7.9zM29.8 422.3h23.2v5.1h-23.2zM213.5 422.3h7.9v5.1h-7.9zM228.8 422.3h7.9v5.1h-7.9zM267.0 422.3h15.6v5.1h-15.6zM290.0 422.3h7.9v5.1h-7.9z"/><path fill="#0000a7" d="M343.6 315.9h4.7v7.9h-4.7zM328.3 323.5h7.9v7.9h-7.9zM343.6 323.5h4.7v7.9h-4.7zM328.3 331.1h7.9v7.9h-7.9zM335.9 338.8h12.3v7.9h-12.3zM320.6 346.4h7.9v7.9h-7.9zM343.6 346.4h4.7v7.9h-4.7zM328.3 354.0h7.9v7.9h-7.9zM328.3 361.6h15.6v7.9h-15.6zM320.6 369.2h15.6v7.8h-15.6zM290.0 376.8h7.9v7.8h-7.9zM305.3 376.8h7.9v7.8h-7.9zM328.3 376.8h7.9v7.8h-7.9zM343.6 376.8h4.7v7.8h-4.7zM114.0 384.4h15.6v7.8h-15.6zM290.0 384.4h7.9v7.8h-7.9zM305.3 384.4h15.6v7.8h-15.6zM328.3 384.4h7.9v7.8h-7.9zM343.6 384.4h4.7v7.8h-4.7zM198.2 392.0h7.9v7.8h-7.9zM221.1 392.0h15.6v7.8h-15.6zM267.0 392.0h7.9v7.8h-7.9zM297.7 392.0h7.9v7.8h-7.9zM313.0 392.0h15.6v7.8h-15.6zM335.9 392.0h7.9v7.8h-7.9zM136.9 399.5h7.9v7.8h-7.9zM182.8 399.5h7.9v7.8h-7.9zM205.8 399.5h7.9v7.8h-7.9zM274.7 399.5h7.9v7.8h-7.9zM290.0 399.5h30.9v7.8h-30.9zM335.9 399.5h7.9v7.8h-7.9zM182.8 407.1h7.9v7.8h-7.9zM198.2 407.1h7.9v7.8h-7.9zM228.8 407.1h7.9v7.8h-7.9zM244.1 407.1h30.9v7.8h-30.9zM313.0 407.1h23.2v7.8h-23.2zM83.3 414.7h7.9v7.8h-7.9zM167.5 414.7h23.2v7.8h-23.2zM198.2 414.7h23.2v7.8h-23.2zM236.4 414.7h7.9v7.8h-7.9zM259.4 414.7h7.9v7.8h-7.9zM274.7 414.7h7.9v7.8h-7.9zM328.3 414.7h20.0v7.8h-20.0zM68.0 422.3h15.6v5.1h-15.6zM152.2 422.3h7.9v5.1h-7.9zM167.5 422.3h15.6v5.1h-15.6zM190.5 422.3h23.2v5.1h-23.2zM236.4 422.3h30.9v5.1h-30.9zM282.3 422.3h7.9v5.1h-7.9zM297.7 422.3h38.5v5.1h-38.5z"/><path fill="#000097" d="M343.6 331.1h4.7v7.9h-4.7zM335.9 354.0h7.9v7.9h-7.9zM335.9 376.8h7.9v7.8h-7.9zM106.3 392.0h23.2v7.8h-23.2zM136.9 392.0h7.9v7.8h-7.9zM274.7 392.0h7.9v7.8h-7.9zM328.3 392.0h7.9v7.8h-7.9zM343.6 392.0h4.7v7.8h-4.7zM159.9 399.5h23.2v7.8h-23.2zM198.2 399.5h7.9v7.8h-7.9zM213.5 399.5h15.6v7.8h-15.6zM320.6 399.5h7.9v7.8h-7.9zM343.6 399.5h4.7v7.8h-4.7zM167.5 407.1h15.6v7.8h-15.6zM205.8 407.1h23.2v7.8h-23.2zM236.4 407.1h7.9v7.8h-7.9zM274.7 407.1h7.9v7.8h-7.9zM290.0 407.1h7.9v7.8h-7.9zM335.9 407.1h7.9v7.8h-7.9zM190.5 414.7h7.9v7.8h-7.9zM221.1 414.7h7.9v7.8h-7.9zM244.1 414.7h15.6v7.8h-15.6zM282.3 414.7h7.9v7.8h-7.9zM297.7 414.7h23.2v7.8h-23.2zM98.6 422.3h7.9v5.1h-7.9zM129.3 422.3h7.9v5.1h-7.9zM144.6 422.3h7.9v5.1h-7.9zM159.9 422.3h7.9v5.1h-7.9zM182.8 422.3h7.9v5.1h-7.9zM221.1 422.3h7.9v5.1h-7.9zM335.9 422.3h7.9v5.1h-7.9z"/></g><path transform="translate(-3.8,-3.8)" d="M346.6 2.5L347.4 4.6M102.5 261.4L94.8 260.1M104.0 258.5L102.5 261.4M117.8 394.2L115.1 395.8M125.4 394.4L117.8 394.2M127.4 395.8L125.4 394.4M347.4 395.0L346.2 395.8M94.8 403.1L94.5 403.3M102.5 401.5L94.8 403.1M110.1 398.8L102.5 401.5M115.1 395.8L110.1 398.8M127.4 395.8L133.1 398.8M140.7 402.8L133.1 398.8M141.9 403.3L140.7 402.8M156.1 401.9L152.8 403.3M163.7 401.8L156.1 401.9M169.6 403.3L163.7 401.8M346.2 395.8L347.4 397.2M94.5 403.3L91.3 410.9M141.9 403.3L148.4 405.6M152.8 403.3L148.4 405.6M169.6 403.3L171.4 405.3M178.5 410.9L171.4 405.3M224.9 409.5L221.0 410.9M225.9 410.9L224.9 409.5M91.3 410.9L88.4 418.5M171.4 415.1L169.9 418.5M178.5 410.9L171.4 415.1M221.0 410.9L224.9 413.4M225.9 410.9L224.9 413.4M87.2 420.4L83.0 426.0M88.4 418.5L87.2 420.4M169.9 418.5L168.4 426.0M339.7 421.4L337.0 426.0M347.4 420.9L339.7 421.4" fill="none" stroke="#000" stroke-width="1.0" stroke-linecap="round"/><text transform="translate(94.9,278.0) rotate(-70)" text-anchor="middle" style="font-size:14px">3</text><text transform="translate(12.4,350.0) rotate(-70)" text-anchor="middle" style="font-size:14px">3</text><text transform="translate(10.3,398.0) rotate(-60)" text-anchor="middle" style="font-size:14px">3</text><text transform="translate(173.3,402.0) rotate(0)" text-anchor="middle" style="font-size:14px">3</text><text transform="translate(215.6,423.0) rotate(0)" text-anchor="middle" style="font-size:14px">3</text><text transform="translate(285.5,415.0) rotate(0)" text-anchor="middle" style="font-size:14px">3</text><text transform="translate(325.7,364.0) rotate(-60)" text-anchor="middle" style="font-size:14px">3</text><text transform="translate(330.0,390.0) rotate(-30)" text-anchor="middle" style="font-size:14px">3</text><text transform="translate(325.7,411.0) rotate(0)" text-anchor="middle" style="font-size:14px">3</text>
<use href="#coasttop"/>

</g>
<use href="#frame"/>

</g>
<use href="#star" x="910.4" y="187.5"/><use href="#star" x="948.1" y="299.7"/><use href="#star" x="957.1" y="392.5"/><use href="#star" x="906.2" y="414.8"/>
<text x="836.1" y="149.8" text-anchor="end" style="font-size:20px">37°N</text>
<text x="836.1" y="220.5" text-anchor="end" style="font-size:15.5px">30'</text>
<text x="836.1" y="293.9" text-anchor="end" style="font-size:20px">36°N</text>
<text x="836.1" y="363.7" text-anchor="end" style="font-size:15.5px">30'</text>
<text x="836.1" y="436.3" text-anchor="end" style="font-size:20px">35°N</text>
<text x="836.1" y="505.2" text-anchor="end" style="font-size:15.5px">30'</text>
<text x="836.1" y="576.9" text-anchor="end" style="font-size:20px">34°N</text>
<text x="843.1" y="587.4" text-anchor="middle" style="font-size:15.5px">30'</text>
<text x="904.1" y="590.8" text-anchor="middle" style="font-size:20px">76°W</text>
<text x="959.1" y="587.4" text-anchor="middle" style="font-size:15.5px">30'</text>
<text x="1020.1" y="590.8" text-anchor="middle" style="font-size:20px">75°W</text>
<text x="1075.1" y="587.4" text-anchor="middle" style="font-size:15.5px">30'</text>
<text x="1136.1" y="590.8" text-anchor="middle" style="font-size:20px">74°W</text>
<text x="1191.1" y="587.4" text-anchor="middle" style="font-size:15.5px">30'</text>
<text x="1017.6" y="130.6" text-anchor="middle" style="font-size:20.6px;font-weight:bold">Number of Rads (3)</text><rect x="847.5" y="162.5" width="111.3" height="25.0" fill="url(#jet)" stroke="#262626" stroke-width="1.2"/><line x1="847.5" y1="162.5" x2="847.5" y2="164.7" stroke="#262626" stroke-width="1"/><text x="846.7" y="149.7" text-anchor="middle" style="font-size:18.7px;fill:#262626">0</text><line x1="946.3" y1="162.5" x2="946.3" y2="164.7" stroke="#262626" stroke-width="1"/><text x="945.5" y="149.7" text-anchor="middle" style="font-size:18.7px;fill:#262626">50</text><text x="1157.2" y="180.4" text-anchor="middle" style="font-size:20px">10 km</text><line x1="1151.6" y1="185.9" x2="1164.6" y2="185.9" stroke="#000" stroke-width="3.6" stroke-linecap="round"/>
<g transform="translate(1226.50,142.60)">
<g clip-path="url(#clip)">
<use href="#land"/><use href="#grid"/>
<g shape-rendering="crispEdges"><path fill="#ffcb00" d="M68.0 0.0h84.4v6.7h-84.4zM297.7 0.0h46.2v6.7h-46.2zM68.0 6.4h76.8v8.1h-76.8zM297.7 6.4h7.9v8.1h-7.9zM320.6 6.4h23.2v8.1h-23.2zM75.7 14.2h69.1v8.1h-69.1zM328.3 14.2h20.0v8.1h-20.0zM75.7 22.1h69.1v8.1h-69.1zM75.7 29.9h76.8v8.1h-76.8zM75.7 37.7h69.1v8.1h-69.1zM343.6 37.7h4.7v8.1h-4.7zM75.7 45.6h61.5v8.1h-61.5zM83.3 53.4h53.8v8.1h-53.8zM335.9 53.4h12.3v8.1h-12.3zM83.3 61.2h53.8v8.1h-53.8zM343.6 61.2h4.7v8.1h-4.7zM83.3 69.0h53.8v8.0h-53.8zM335.9 69.0h12.3v8.0h-12.3zM83.3 76.8h53.8v8.0h-53.8zM335.9 76.8h12.3v8.0h-12.3zM83.3 84.6h61.5v8.0h-61.5zM335.9 84.6h12.3v8.0h-12.3zM91.0 92.4h46.2v8.0h-46.2zM335.9 92.4h12.3v8.0h-12.3zM91.0 100.1h38.5v8.0h-38.5zM328.3 100.1h20.0v8.0h-20.0zM98.6 107.9h30.9v8.0h-30.9zM328.3 107.9h20.0v8.0h-20.0zM98.6 115.7h30.9v8.0h-30.9zM328.3 115.7h20.0v8.0h-20.0zM106.3 123.5h23.2v8.0h-23.2zM320.6 123.5h27.6v8.0h-27.6zM106.3 131.2h23.2v8.0h-23.2zM320.6 131.2h27.6v8.0h-27.6zM106.3 139.0h38.5v8.0h-38.5zM313.0 139.0h35.3v8.0h-35.3zM106.3 146.7h23.2v8.0h-23.2zM313.0 146.7h35.3v8.0h-35.3zM121.6 154.5h7.9v8.0h-7.9zM313.0 154.5h35.3v8.0h-35.3zM305.3 162.2h42.9v8.0h-42.9zM121.6 169.9h7.9v8.0h-7.9zM305.3 169.9h42.9v8.0h-42.9zM121.6 177.7h7.9v8.0h-7.9zM297.7 177.7h50.6v8.0h-50.6zM290.0 185.4h58.3v8.0h-58.3zM290.0 193.1h58.3v8.0h-58.3zM121.6 200.8h7.9v8.0h-7.9zM274.7 200.8h73.6v8.0h-73.6zM121.6 208.5h30.9v8.0h-30.9zM244.1 208.5h7.9v8.0h-7.9zM267.0 208.5h81.2v8.0h-81.2zM129.3 216.2h23.2v7.9h-23.2zM228.8 216.2h119.5v7.9h-119.5zM121.6 223.9h7.9v7.9h-7.9zM228.8 223.9h119.5v7.9h-119.5zM121.6 231.6h15.6v7.9h-15.6zM213.5 231.6h15.6v7.9h-15.6zM251.7 231.6h96.5v7.9h-96.5zM121.6 239.3h15.6v7.9h-15.6zM167.5 239.3h7.9v7.9h-7.9zM213.5 239.3h15.6v7.9h-15.6zM251.7 239.3h96.5v7.9h-96.5zM114.0 247.0h23.2v7.9h-23.2zM198.2 247.0h7.9v7.9h-7.9zM251.7 247.0h96.5v7.9h-96.5zM114.0 254.7h30.9v7.9h-30.9zM175.2 254.7h23.2v7.9h-23.2zM213.5 254.7h15.6v7.9h-15.6zM236.4 254.7h111.8v7.9h-111.8zM114.0 262.3h30.9v7.9h-30.9zM190.5 262.3h30.9v7.9h-30.9zM228.8 262.3h119.5v7.9h-119.5zM114.0 270.0h38.5v7.9h-38.5zM175.2 270.0h7.9v7.9h-7.9zM190.5 270.0h157.8v7.9h-157.8zM98.6 277.7h84.4v7.9h-84.4zM198.2 277.7h7.9v7.9h-7.9zM213.5 277.7h134.8v7.9h-134.8zM98.6 285.3h84.4v7.9h-84.4zM205.8 285.3h142.4v7.9h-142.4zM98.6 293.0h53.8v7.9h-53.8zM159.9 293.0h15.6v7.9h-15.6zM182.8 293.0h165.4v7.9h-165.4zM98.6 300.6h53.8v7.9h-53.8zM159.9 300.6h7.9v7.9h-7.9zM182.8 300.6h165.4v7.9h-165.4zM98.6 308.2h53.8v7.9h-53.8zM167.5 308.2h176.3v7.9h-176.3zM98.6 315.9h46.2v7.9h-46.2zM175.2 315.9h84.4v7.9h-84.4zM267.0 315.9h76.8v7.9h-76.8zM98.6 323.5h38.5v7.9h-38.5zM175.2 323.5h61.5v7.9h-61.5zM244.1 323.5h84.4v7.9h-84.4zM98.6 331.1h23.2v7.9h-23.2zM182.8 331.1h115.1v7.9h-115.1zM305.3 331.1h23.2v7.9h-23.2zM98.6 338.8h23.2v7.9h-23.2zM182.8 338.8h145.7v7.9h-145.7zM98.6 346.4h15.6v7.9h-15.6zM182.8 346.4h130.4v7.9h-130.4zM98.6 354.0h30.9v7.9h-30.9zM190.5 354.0h15.6v7.9h-15.6zM213.5 354.0h23.2v7.9h-23.2zM244.1 354.0h69.1v7.9h-69.1zM98.6 361.6h38.5v7.9h-38.5zM221.1 361.6h76.8v7.9h-76.8zM91.0 369.2h38.5v7.8h-38.5zM221.1 369.2h76.8v7.8h-76.8zM91.0 376.8h30.9v7.8h-30.9zM205.8 376.8h69.1v7.8h-69.1zM91.0 384.4h23.2v7.8h-23.2zM205.8 384.4h69.1v7.8h-69.1zM98.6 392.0h7.9v7.8h-7.9zM205.8 392.0h23.2v7.8h-23.2zM236.4 392.0h23.2v7.8h-23.2zM236.4 399.5h15.6v7.8h-15.6z"/><path fill="#840000" d="M152.2 0.0h145.7v6.7h-145.7zM144.6 6.4h153.3v8.1h-153.3zM305.3 6.4h15.6v8.1h-15.6zM144.6 14.2h183.9v8.1h-183.9zM144.6 22.1h199.3v8.1h-199.3zM152.2 29.9h191.6v8.1h-191.6zM144.6 37.7h199.3v8.1h-199.3zM136.9 45.6h211.3v8.1h-211.3zM136.9 53.4h199.3v8.1h-199.3zM136.9 61.2h206.9v8.1h-206.9zM136.9 69.0h199.3v8.0h-199.3zM136.9 76.8h199.3v8.0h-199.3zM144.6 84.6h191.6v8.0h-191.6zM136.9 92.4h199.3v8.0h-199.3zM129.3 100.1h199.3v8.0h-199.3zM129.3 107.9h199.3v8.0h-199.3zM129.3 115.7h199.3v8.0h-199.3zM129.3 123.5h191.6v8.0h-191.6zM129.3 131.2h191.6v8.0h-191.6zM144.6 139.0h168.6v8.0h-168.6zM129.3 146.7h183.9v8.0h-183.9zM129.3 154.5h183.9v8.0h-183.9zM129.3 162.2h176.3v8.0h-176.3zM129.3 169.9h176.3v8.0h-176.3zM129.3 177.7h168.6v8.0h-168.6zM129.3 185.4h161.0v8.0h-161.0zM129.3 193.1h161.0v8.0h-161.0zM129.3 200.8h145.7v8.0h-145.7zM152.2 208.5h92.1v8.0h-92.1zM251.7 208.5h15.6v8.0h-15.6zM152.2 216.2h76.8v7.9h-76.8zM129.3 223.9h99.8v7.9h-99.8zM136.9 231.6h76.8v7.9h-76.8zM228.8 231.6h23.2v7.9h-23.2zM136.9 239.3h30.9v7.9h-30.9zM175.2 239.3h38.5v7.9h-38.5zM228.8 239.3h23.2v7.9h-23.2zM136.9 247.0h61.5v7.9h-61.5zM205.8 247.0h46.2v7.9h-46.2zM144.6 254.7h30.9v7.9h-30.9zM198.2 254.7h15.6v7.9h-15.6zM228.8 254.7h7.9v7.9h-7.9zM144.6 262.3h30.9v7.9h-30.9zM221.1 262.3h7.9v7.9h-7.9zM152.2 270.0h23.2v7.9h-23.2zM175.2 293.0h7.9v7.9h-7.9zM167.5 300.6h15.6v7.9h-15.6z"/><path fill="#00dcff" d="M343.6 0.0h4.7v6.7h-4.7zM343.6 6.4h4.7v8.1h-4.7zM343.6 22.1h4.7v8.1h-4.7zM343.6 29.9h4.7v8.1h-4.7zM98.6 123.5h7.9v8.0h-7.9zM114.0 154.5h7.9v8.0h-7.9zM114.0 162.2h15.6v8.0h-15.6zM121.6 185.4h7.9v8.0h-7.9zM121.6 193.1h7.9v8.0h-7.9zM121.6 216.2h7.9v7.9h-7.9zM106.3 254.7h7.9v7.9h-7.9zM83.3 262.3h7.9v7.9h-7.9zM106.3 262.3h7.9v7.9h-7.9zM175.2 262.3h15.6v7.9h-15.6zM68.0 270.0h46.2v7.9h-46.2zM182.8 270.0h7.9v7.9h-7.9zM60.4 277.7h38.5v7.9h-38.5zM182.8 277.7h15.6v7.9h-15.6zM205.8 277.7h7.9v7.9h-7.9zM52.7 285.3h46.2v7.9h-46.2zM182.8 285.3h23.2v7.9h-23.2zM45.1 293.0h53.8v7.9h-53.8zM152.2 293.0h7.9v7.9h-7.9zM37.4 300.6h61.5v7.9h-61.5zM152.2 300.6h7.9v7.9h-7.9zM29.8 308.2h69.1v7.9h-69.1zM152.2 308.2h15.6v7.9h-15.6zM343.6 308.2h4.7v7.9h-4.7zM22.1 315.9h76.8v7.9h-76.8zM144.6 315.9h30.9v7.9h-30.9zM259.4 315.9h7.9v7.9h-7.9zM343.6 315.9h4.7v7.9h-4.7zM22.1 323.5h76.8v7.9h-76.8zM136.9 323.5h38.5v7.9h-38.5zM236.4 323.5h7.9v7.9h-7.9zM328.3 323.5h20.0v7.9h-20.0zM14.5 331.1h84.4v7.9h-84.4zM121.6 331.1h61.5v7.9h-61.5zM297.7 331.1h7.9v7.9h-7.9zM328.3 331.1h20.0v7.9h-20.0zM6.8 338.8h92.1v7.9h-92.1zM121.6 338.8h61.5v7.9h-61.5zM328.3 338.8h20.0v7.9h-20.0zM6.8 346.4h92.1v7.9h-92.1zM114.0 346.4h69.1v7.9h-69.1zM313.0 346.4h35.3v7.9h-35.3zM6.8 354.0h92.1v7.9h-92.1zM129.3 354.0h61.5v7.9h-61.5zM205.8 354.0h7.9v7.9h-7.9zM236.4 354.0h7.9v7.9h-7.9zM313.0 354.0h35.3v7.9h-35.3zM6.8 361.6h92.1v7.9h-92.1zM136.9 361.6h84.4v7.9h-84.4zM297.7 361.6h50.6v7.9h-50.6zM6.8 369.2h84.4v7.8h-84.4zM129.3 369.2h92.1v7.8h-92.1zM297.7 369.2h50.6v7.8h-50.6zM6.8 376.8h84.4v7.8h-84.4zM121.6 376.8h84.4v7.8h-84.4zM274.7 376.8h73.6v7.8h-73.6zM6.8 384.4h84.4v7.8h-84.4zM114.0 384.4h92.1v7.8h-92.1zM274.7 384.4h73.6v7.8h-73.6zM6.8 392.0h92.1v7.8h-92.1zM106.3 392.0h99.8v7.8h-99.8zM228.8 392.0h7.9v7.8h-7.9zM259.4 392.0h88.9v7.8h-88.9zM6.8 399.5h84.4v7.8h-84.4zM136.9 399.5h15.6v7.8h-15.6zM159.9 399.5h76.8v7.8h-76.8zM251.7 399.5h96.5v7.8h-96.5zM6.8 407.1h84.4v7.8h-84.4zM98.6 407.1h7.9v7.8h-7.9zM167.5 407.1h180.7v7.8h-180.7zM6.8 414.7h107.4v7.8h-107.4zM167.5 414.7h180.7v7.8h-180.7zM6.8 422.3h76.8v5.1h-76.8zM91.0 422.3h23.2v5.1h-23.2zM129.3 422.3h7.9v5.1h-7.9zM144.6 422.3h199.3v5.1h-199.3z"/><path fill="#00008f" d="M91.0 254.7h15.6v7.9h-15.6zM91.0 262.3h15.6v7.9h-15.6zM14.5 323.5h7.9v7.9h-7.9zM91.0 399.5h46.2v7.8h-46.2zM152.2 399.5h7.9v7.8h-7.9zM91.0 407.1h7.9v7.8h-7.9zM106.3 407.1h61.5v7.8h-61.5zM114.0 414.7h53.8v7.8h-53.8zM83.3 422.3h7.9v5.1h-7.9zM114.0 422.3h15.6v5.1h-15.6zM136.9 422.3h7.9v5.1h-7.9zM343.6 422.3h4.7v5.1h-4.7z"/></g><path transform="translate(-3.8,-3.8)" d="M339.8 2.5L339.8 10.3M339.8 10.3L347.4 18.2M347.4 18.2L343.6 26.0M343.6 26.0L343.6 33.8M343.6 33.8L347.4 41.6M110.1 127.3L102.5 119.6M125.4 158.3L117.8 150.6M125.4 158.3L125.4 158.3M129.3 166.1L125.4 158.3M129.3 166.1L125.4 173.8M129.3 189.2L125.4 181.5M129.3 189.2L129.3 197.0M129.3 197.0L125.4 204.7M133.1 220.1L125.4 212.4M133.1 220.1L125.4 227.8M117.8 258.5L117.8 266.2M179.0 258.5L175.2 266.2M186.7 258.5L179.0 258.5M194.3 266.2L186.7 258.5M117.8 266.2L117.8 273.8M175.2 266.2L179.0 273.8M179.0 273.8L179.0 273.8M194.3 266.2L194.3 273.8M102.5 281.5L102.5 281.5M110.1 281.5L102.5 281.5M117.8 273.8L110.1 281.5M179.0 273.8L179.0 281.5M194.3 273.8L194.3 273.8M202.0 281.5L194.3 273.8M209.6 273.8L202.0 281.5M217.3 281.5L209.6 273.8M102.5 281.5L102.5 289.1M179.0 281.5L179.0 289.1M202.0 281.5L202.0 281.5M202.0 281.5L209.6 289.1M209.6 289.1L202.0 281.5M217.3 281.5L209.6 289.1M102.5 289.1L102.5 296.8M156.1 289.1L148.4 296.8M163.7 296.8L156.1 289.1M179.0 289.1L186.7 296.8M194.3 296.8L186.7 296.8M202.0 296.8L194.3 296.8M209.6 289.1L202.0 296.8M102.5 296.8L102.5 304.4M148.4 296.8L148.4 304.4M163.7 296.8L163.7 304.4M102.5 304.4L102.5 312.1M148.4 304.4L148.4 312.1M163.7 304.4L163.7 304.4M171.4 312.1L163.7 304.4M347.4 304.4L339.8 312.1M102.5 312.1L102.5 319.7M148.4 312.1L140.8 319.7M148.4 312.1L148.4 312.1M171.4 312.1L171.4 312.1M179.0 319.7L171.4 312.1M263.2 312.1L255.6 319.7M270.9 319.7L263.2 312.1M339.8 312.1L339.8 319.7M102.5 319.7L102.5 327.3M140.7 319.7L133.1 327.3M140.8 319.7L140.7 319.7M179.0 319.7L179.0 327.3M240.2 319.7L232.6 327.3M247.9 327.3L240.2 319.7M255.6 319.7L263.2 327.3M270.9 319.7L263.2 327.3M332.1 319.7L324.4 327.3M339.7 319.7L332.1 319.7M339.8 319.7L339.7 319.7M102.5 327.3L102.5 334.9M125.4 327.3L117.8 334.9M133.1 327.3L125.4 327.3M133.1 327.3L133.1 327.3M179.0 327.3L179.0 327.3M186.7 334.9L179.0 327.3M232.6 327.3L240.2 334.9M247.9 327.3L240.2 334.9M301.5 327.3L293.8 334.9M309.1 334.9L301.5 327.3M324.4 327.3L324.4 334.9M102.5 334.9L102.5 342.6M117.8 334.9L117.8 342.6M186.7 334.9L186.7 342.6M293.8 334.9L301.5 342.6M309.1 334.9L301.5 342.6M324.4 334.9L324.4 342.6M102.5 342.6L102.5 350.2M117.8 342.6L110.1 350.2M117.8 342.6L117.8 342.6M186.7 342.6L186.7 350.2M316.8 342.6L309.1 350.2M324.4 342.6L316.8 342.6M324.4 342.6L324.4 342.6M102.5 350.2L102.5 357.8M110.1 350.2L117.8 357.8M125.4 357.8L117.8 357.8M125.4 357.8L125.4 357.8M186.7 350.2L186.7 350.2M194.3 357.8L186.7 350.2M209.6 350.2L202.0 357.8M217.3 357.8L209.6 350.2M240.2 350.2L232.6 357.8M247.9 357.8L240.2 350.2M309.1 350.2L309.1 357.8M102.5 357.8L102.5 365.4M125.4 357.8L133.1 365.4M133.1 365.4L133.1 365.4M194.3 357.8L194.3 357.8M202.0 357.8L194.3 357.8M202.0 357.8L202.0 357.8M217.3 357.8L217.3 357.8M224.9 365.4L217.3 357.8M232.6 357.8L240.2 365.4M247.9 357.8L240.2 365.4M301.5 357.8L293.8 365.4M309.1 357.8L301.5 357.8M309.1 357.8L309.1 357.8M94.8 373.0L94.8 373.0M102.5 365.4L94.8 373.0M133.1 365.4L125.4 373.0M133.1 365.4L133.1 365.4M224.9 365.4L224.9 373.0M293.8 365.4L293.8 373.0M94.8 373.0L94.8 380.6M125.4 373.0L117.8 380.6M125.4 373.0L125.4 373.0M209.6 380.6L209.6 380.6M217.3 380.6L209.6 380.6M224.9 373.0L217.3 380.6M278.5 373.0L270.9 380.6M286.2 373.0L278.5 373.0M293.8 373.0L286.2 373.0M293.8 373.0L293.8 373.0M94.8 380.6L94.8 388.2M117.8 380.6L110.1 388.2M117.8 380.6L117.8 380.6M209.6 380.6L209.6 388.2M270.9 380.6L270.9 388.2M94.8 388.2L94.8 388.2M102.5 395.8L94.8 388.2M110.1 388.2L102.5 395.8M110.1 388.2L110.1 388.2M209.6 388.2L209.6 395.8M232.6 388.2L224.9 395.8M240.2 395.8L232.6 388.2M263.2 388.2L255.6 395.8M270.9 388.2L263.2 388.2M270.9 388.2L270.9 388.2M102.5 395.8L102.5 395.8M102.5 395.8L102.5 395.8M209.6 395.8L209.6 395.8M217.3 395.8L209.6 395.8M224.9 395.8L217.3 395.8M224.9 395.8L224.9 395.8M240.2 395.8L240.2 403.3M255.6 395.8L247.9 403.3M255.6 395.8L255.6 395.8M240.2 403.3L240.2 403.3M247.9 403.3L240.2 403.3M247.9 403.3L247.9 403.3" fill="none" stroke="#000" stroke-width="1.0" stroke-linecap="round"/><text transform="translate(335.5,17.0) rotate(-60)" text-anchor="middle" style="font-size:14px">2</text><text transform="translate(121.7,170.0) rotate(-60)" text-anchor="middle" style="font-size:14px">2</text><text transform="translate(123.8,208.0) rotate(-70)" text-anchor="middle" style="font-size:14px">2</text><text transform="translate(125.9,231.0) rotate(-70)" text-anchor="middle" style="font-size:14px">2</text><text transform="translate(191.5,282.0) rotate(-50)" text-anchor="middle" style="font-size:14px">2</text><text transform="translate(236.0,333.0) rotate(-45)" text-anchor="middle" style="font-size:14px">2</text><text transform="translate(259.3,324.0) rotate(-45)" text-anchor="middle" style="font-size:14px">2</text><text transform="translate(297.4,339.0) rotate(-45)" text-anchor="middle" style="font-size:14px">2</text><text transform="translate(316.4,350.0) rotate(-45)" text-anchor="middle" style="font-size:14px">2</text><text transform="translate(233.9,362.0) rotate(-45)" text-anchor="middle" style="font-size:14px">2</text><text transform="translate(181.0,352.0) rotate(-50)" text-anchor="middle" style="font-size:14px">2</text><text transform="translate(92.0,381.0) rotate(-60)" text-anchor="middle" style="font-size:14px">2</text>
<use href="#coasttop"/>

</g>
<use href="#frame"/>

</g>
<use href="#star" x="1293.3" y="187.5"/><use href="#star" x="1331.0" y="299.7"/><use href="#star" x="1340.0" y="392.5"/><use href="#star" x="1289.1" y="414.8"/>
<text x="1219.0" y="149.8" text-anchor="end" style="font-size:20px">37°N</text>
<text x="1219.0" y="220.5" text-anchor="end" style="font-size:15.5px">30'</text>
<text x="1219.0" y="293.9" text-anchor="end" style="font-size:20px">36°N</text>
<text x="1219.0" y="363.7" text-anchor="end" style="font-size:15.5px">30'</text>
<text x="1219.0" y="436.3" text-anchor="end" style="font-size:20px">35°N</text>
<text x="1219.0" y="505.2" text-anchor="end" style="font-size:15.5px">30'</text>
<text x="1219.0" y="576.9" text-anchor="end" style="font-size:20px">34°N</text>
<text x="1226.0" y="587.4" text-anchor="middle" style="font-size:15.5px">30'</text>
<text x="1287.0" y="590.8" text-anchor="middle" style="font-size:20px">76°W</text>
<text x="1342.0" y="587.4" text-anchor="middle" style="font-size:15.5px">30'</text>
<text x="1403.0" y="590.8" text-anchor="middle" style="font-size:20px">75°W</text>
<text x="1458.0" y="587.4" text-anchor="middle" style="font-size:15.5px">30'</text>
<text x="1519.0" y="590.8" text-anchor="middle" style="font-size:20px">74°W</text>
<text x="1574.0" y="587.4" text-anchor="middle" style="font-size:15.5px">30'</text>
<text x="1400.5" y="130.6" text-anchor="middle" style="font-size:20.6px;font-weight:bold">Number of Sites (2)</text><rect x="1231.3" y="162.5" width="112.8" height="25.0" fill="url(#jet)" stroke="#262626" stroke-width="1.2"/><line x1="1231.3" y1="162.5" x2="1231.3" y2="164.7" stroke="#262626" stroke-width="1"/><text x="1230.5" y="149.7" text-anchor="middle" style="font-size:18.7px;fill:#262626">0</text><line x1="1268.9" y1="162.5" x2="1268.9" y2="164.7" stroke="#262626" stroke-width="1"/><text x="1268.1" y="149.7" text-anchor="middle" style="font-size:18.7px;fill:#262626">1</text><line x1="1306.5" y1="162.5" x2="1306.5" y2="164.7" stroke="#262626" stroke-width="1"/><text x="1305.7" y="149.7" text-anchor="middle" style="font-size:18.7px;fill:#262626">2</text><line x1="1344.1" y1="162.5" x2="1344.1" y2="164.7" stroke="#262626" stroke-width="1"/><text x="1343.3" y="149.7" text-anchor="middle" style="font-size:18.7px;fill:#262626">3</text><text x="1540.1" y="180.4" text-anchor="middle" style="font-size:20px">10 km</text><line x1="1534.5" y1="185.9" x2="1547.5" y2="185.9" stroke="#000" stroke-width="3.6" stroke-linecap="round"/>
<g transform="translate(74.90,742.30)">
<g clip-path="url(#clip)">
<use href="#land"/><use href="#grid"/>

<polyline points="215.3,-1.0 214.8,5.0 214.2,11.0 213.8,17.1 212.7,23.1 212.4,29.1 210.1,35.1 209.6,41.3 209.2,47.5 207.5,53.8 206.7,60.0 203.5,68.7 202.3,77.4 200.7,83.3 200.0,89.2 198.8,95.2 196.5,101.1 195.6,107.0 194.9,114.4 195.1,121.8 194.0,129.3 192.1,136.7 192.5,144.1 190.5,151.5 190.7,158.9 189.0,166.3 190.5,174.2 193.7,182.0 194.0,189.0 195.6,196.0 195.9,201.5 194.7,207.0 191.5,212.1 190.5,217.1 186.1,223.4 182.6,229.8 178.1,236.2 175.7,242.5 170.5,247.8 166.2,253.1 161.3,258.4 155.4,263.7 151.7,268.6 147.4,273.6 143.5,278.5 139.5,283.4 136.0,288.4 132.7,293.3 127.4,298.4 124.4,303.5 119.5,308.5 115.3,313.6 112.0,318.7 107.1,324.0 102.6,329.3 98.6,334.6 94.8,339.9 89.4,345.5 86.8,351.2 80.8,356.8 77.9,362.1 73.9,367.4 68.2,372.7 65.3,378.0 60.3,383.3 56.5,388.6 51.2,393.9 47.1,399.2 43.1,404.0 40.3,408.8 34.7,413.6 31.4,418.4 27.5,423.2 22.5,428.0" fill="none" stroke="#000" stroke-width="1.15"/><text transform="translate(211,73) rotate(-80)" style="font-size:15px">-100</text><text transform="translate(148,293) rotate(-52)" style="font-size:15px">-100</text><path d="M66.8 30.0h0M66.8 22.5h0M66.8 15.0h0M66.8 7.6h0M66.8 0.1h0M68.1 30.0h0M68.8 22.6h0M69.4 15.2h0M70.1 7.7h0M70.7 0.3h0M69.4 30.2h0M70.7 22.8h0M72.0 15.5h0M73.3 8.1h0M74.6 0.8h0M70.7 30.5h0M72.6 23.3h0M74.5 16.1h0M76.5 8.8h0M78.4 1.6h0M71.9 30.9h0M74.5 23.9h0M77.0 16.8h0M79.6 9.8h0M82.1 2.8h0M73.1 31.4h0M76.3 24.6h0M79.4 17.8h0M82.6 11.1h0M85.7 4.3h0M74.3 32.0h0M78.0 25.5h0M81.7 19.0h0M85.5 12.6h0M89.2 6.1h0M92.9 -0.4h0M75.4 32.7h0M79.6 26.6h0M83.9 20.4h0M88.2 14.3h0M92.5 8.2h0M96.8 2.1h0M76.4 33.5h0M81.2 27.7h0M86.0 22.0h0M90.8 16.3h0M95.6 10.6h0M100.4 4.9h0M105.2 -0.9h0M77.4 34.3h0M82.6 29.1h0M87.9 23.8h0M93.2 18.5h0M98.5 13.2h0M103.8 7.9h0M109.0 2.7h0M78.2 35.3h0M84.0 30.5h0M89.7 25.7h0M95.4 20.9h0M101.1 16.1h0M106.8 11.3h0M112.6 6.5h0M118.3 1.7h0M79.0 36.3h0M85.1 32.1h0M91.3 27.8h0M97.4 23.5h0M103.5 19.2h0M109.6 14.9h0M115.7 10.6h0M121.8 6.4h0M128.0 2.1h0M79.7 37.4h0M86.2 33.7h0M92.7 30.0h0M99.1 26.2h0M105.6 22.5h0M112.1 18.8h0M118.5 15.0h0M125.0 11.3h0M131.5 7.6h0M137.9 3.8h0M144.4 0.1h0M80.3 38.6h0M87.1 35.4h0M93.9 32.3h0M100.6 29.1h0M107.4 26.0h0M114.2 22.8h0M120.9 19.7h0M127.7 16.5h0M134.5 13.4h0M141.2 10.2h0M148.0 7.0h0M154.8 3.9h0M161.5 0.7h0M80.8 39.8h0M87.8 37.2h0M94.9 34.7h0M101.9 32.1h0M108.9 29.6h0M115.9 27.0h0M122.9 24.5h0M129.9 21.9h0M137.0 19.4h0M144.0 16.8h0M151.0 14.3h0M158.0 11.7h0M165.0 9.2h0M172.0 6.6h0M179.0 4.0h0M186.1 1.5h0M193.1 -1.1h0M81.2 41.0h0M88.4 39.1h0M95.6 37.2h0M102.9 35.2h0M110.1 33.3h0M117.3 31.4h0M124.5 29.4h0M131.7 27.5h0M138.9 25.6h0M146.1 23.6h0M153.3 21.7h0M160.5 19.8h0M167.8 17.8h0M175.0 15.9h0M182.2 14.0h0M189.4 12.1h0M196.6 10.1h0M203.8 8.2h0M211.0 6.3h0M218.2 4.3h0M225.4 2.4h0M232.7 0.5h0M239.9 -1.5h0M81.5 42.3h0M88.9 41.0h0M96.2 39.7h0M103.6 38.4h0M110.9 37.1h0M118.3 35.8h0M125.6 34.5h0M133.0 33.2h0M140.3 31.9h0M147.7 30.6h0M155.0 29.3h0M162.4 28.0h0M169.7 26.8h0M177.1 25.5h0M184.4 24.2h0M191.8 22.9h0M199.1 21.6h0M206.5 20.3h0M213.8 19.0h0M221.2 17.7h0M228.5 16.4h0M235.9 15.1h0M243.2 13.8h0M250.6 12.5h0M257.9 11.2h0M265.3 9.9h0M272.7 8.6h0M280.0 7.3h0M287.4 6.0h0M302.1 3.4h0M309.4 2.1h0M316.8 0.8h0M324.1 -0.5h0M81.7 43.6h0M89.1 42.9h0M96.5 42.3h0M104.0 41.6h0M111.4 41.0h0M118.9 40.3h0M126.3 39.7h0M133.7 39.0h0M141.2 38.4h0M148.6 37.7h0M156.0 37.1h0M163.5 36.4h0M170.9 35.8h0M178.4 35.1h0M185.8 34.5h0M193.2 33.8h0M200.7 33.2h0M208.1 32.5h0M215.5 31.9h0M223.0 31.2h0M230.4 30.6h0M237.8 29.9h0M245.3 29.3h0M252.7 28.6h0M260.2 28.0h0M267.6 27.3h0M275.0 26.7h0M282.5 26.0h0M289.9 25.4h0M304.8 24.1h0M312.2 23.4h0M327.1 22.1h0M334.5 21.5h0M342.0 20.8h0M349.4 20.2h0M81.7 44.9h0M89.2 44.9h0M96.7 44.9h0M104.1 44.9h0M111.6 44.9h0M119.1 44.9h0M126.5 44.9h0M134.0 44.9h0M141.5 44.9h0M148.9 44.9h0M156.4 44.9h0M163.8 44.9h0M171.3 44.9h0M178.8 44.9h0M186.2 44.9h0M193.7 44.9h0M201.2 44.9h0M208.6 44.9h0M216.1 44.9h0M223.6 44.9h0M231.0 44.9h0M238.5 44.9h0M246.0 44.9h0M253.4 44.9h0M260.9 44.9h0M268.4 44.9h0M275.8 44.9h0M283.3 44.9h0M290.8 44.9h0M298.2 44.9h0M313.2 44.9h0M320.6 44.9h0M328.1 44.9h0M335.6 44.9h0M343.0 44.9h0M81.7 46.2h0M89.1 46.9h0M96.5 47.5h0M104.0 48.2h0M111.4 48.8h0M118.9 49.5h0M126.3 50.1h0M133.7 50.8h0M141.2 51.4h0M148.6 52.1h0M156.0 52.7h0M163.5 53.4h0M170.9 54.0h0M178.4 54.7h0M185.8 55.3h0M193.2 56.0h0M200.7 56.6h0M208.1 57.3h0M215.5 57.9h0M223.0 58.6h0M230.4 59.2h0M237.8 59.9h0M245.3 60.5h0M252.7 61.2h0M260.2 61.8h0M267.6 62.5h0M275.0 63.1h0M282.5 63.8h0M289.9 64.4h0M304.8 65.7h0M312.2 66.4h0M319.7 67.0h0M334.5 68.3h0M342.0 69.0h0M349.4 69.6h0M81.5 47.5h0M88.9 48.8h0M96.2 50.1h0M103.6 51.4h0M110.9 52.7h0M118.3 54.0h0M125.6 55.3h0M133.0 56.6h0M140.3 57.9h0M147.7 59.2h0M155.0 60.5h0M162.4 61.8h0M169.7 63.0h0M177.1 64.3h0M184.4 65.6h0M191.8 66.9h0M199.1 68.2h0M206.5 69.5h0M213.8 70.8h0M221.2 72.1h0M228.5 73.4h0M235.9 74.7h0M243.2 76.0h0M250.6 77.3h0M257.9 78.6h0M265.3 79.9h0M272.7 81.2h0M280.0 82.5h0M287.4 83.8h0M294.7 85.1h0M302.1 86.4h0M309.4 87.7h0M316.8 89.0h0M324.1 90.3h0M331.5 91.6h0M338.8 92.9h0M346.2 94.2h0M81.2 48.8h0M88.4 50.7h0M95.6 52.6h0M102.9 54.6h0M110.1 56.5h0M117.3 58.4h0M124.5 60.4h0M131.7 62.3h0M138.9 64.2h0M146.1 66.2h0M153.3 68.1h0M160.5 70.0h0M167.8 72.0h0M175.0 73.9h0M182.2 75.8h0M189.4 77.7h0M196.6 79.7h0M203.8 81.6h0M211.0 83.5h0M218.2 85.5h0M225.4 87.4h0M232.7 89.3h0M239.9 91.3h0M247.1 93.2h0M254.3 95.1h0M261.5 97.1h0M268.7 99.0h0M275.9 100.9h0M283.1 102.9h0M312.0 110.6h0M319.2 112.5h0M326.4 114.5h0M333.6 116.4h0M340.8 118.3h0M80.8 50.0h0M87.8 52.6h0M94.9 55.1h0M101.9 57.7h0M108.9 60.2h0M115.9 62.8h0M122.9 65.3h0M129.9 67.9h0M137.0 70.4h0M144.0 73.0h0M151.0 75.5h0M158.0 78.1h0M165.0 80.6h0M172.0 83.2h0M179.0 85.8h0M186.1 88.3h0M193.1 90.9h0M200.1 93.4h0M207.1 96.0h0M214.1 98.5h0M221.1 101.1h0M228.1 103.6h0M235.2 106.2h0M242.2 108.7h0M249.2 111.3h0M256.2 113.8h0M263.2 116.4h0M270.2 118.9h0M277.3 121.5h0M284.3 124.1h0M291.3 126.6h0M298.3 129.2h0M305.3 131.7h0M312.3 134.3h0M319.3 136.8h0M326.4 139.4h0M333.4 141.9h0M80.3 51.2h0M87.1 54.4h0M93.9 57.5h0M100.6 60.7h0M107.4 63.8h0M114.2 67.0h0M120.9 70.1h0M127.7 73.3h0M134.5 76.4h0M141.2 79.6h0M148.0 82.8h0M154.8 85.9h0M161.5 89.1h0M168.3 92.2h0M175.1 95.4h0M181.8 98.5h0M188.6 101.7h0M195.4 104.8h0M202.1 108.0h0M208.9 111.2h0M215.6 114.3h0M222.4 117.5h0M229.2 120.6h0M235.9 123.8h0M242.7 126.9h0M249.5 130.1h0M256.2 133.2h0M263.0 136.4h0M269.8 139.5h0M276.5 142.7h0M283.3 145.9h0M296.8 152.2h0M303.6 155.3h0M310.4 158.5h0M317.1 161.6h0M323.9 164.8h0M79.7 52.4h0M86.2 56.1h0M92.7 59.8h0M99.1 63.6h0M105.6 67.3h0M112.1 71.0h0M118.5 74.8h0M125.0 78.5h0M131.5 82.2h0M137.9 86.0h0M144.4 89.7h0M150.8 93.4h0M157.3 97.2h0M163.8 100.9h0M170.2 104.6h0M176.7 108.4h0M183.2 112.1h0M189.6 115.8h0M196.1 119.6h0M202.6 123.3h0M209.0 127.0h0M215.5 130.8h0M222.0 134.5h0M228.4 138.2h0M234.9 141.9h0M241.4 145.7h0M247.8 149.4h0M254.3 153.1h0M260.8 156.9h0M273.7 164.3h0M280.2 168.1h0M286.6 171.8h0M299.5 179.3h0M306.0 183.0h0M79.0 53.5h0M85.1 57.7h0M91.3 62.0h0M97.4 66.3h0M103.5 70.6h0M109.6 74.9h0M115.7 79.2h0M121.8 83.4h0M128.0 87.7h0M134.1 92.0h0M140.2 96.3h0M146.3 100.6h0M152.4 104.8h0M158.5 109.1h0M164.6 113.4h0M170.8 117.7h0M176.9 122.0h0M183.0 126.3h0M189.1 130.5h0M195.2 134.8h0M201.3 139.1h0M207.5 143.4h0M213.6 147.7h0M219.7 151.9h0M225.8 156.2h0M231.9 160.5h0M238.0 164.8h0M244.1 169.1h0M250.3 173.4h0M256.4 177.6h0M262.5 181.9h0M274.7 190.5h0M280.8 194.8h0M286.9 199.0h0M299.2 207.6h0M78.2 54.5h0M84.0 59.3h0M89.7 64.1h0M95.4 68.9h0M101.1 73.7h0M106.8 78.5h0M112.6 83.3h0M118.3 88.1h0M124.0 92.9h0M129.7 97.7h0M135.4 102.5h0M141.1 107.3h0M146.9 112.1h0M152.6 116.9h0M158.3 121.7h0M164.0 126.5h0M169.7 131.3h0M175.5 136.1h0M181.2 140.9h0M186.9 145.7h0M192.6 150.5h0M198.3 155.3h0M204.1 160.1h0M209.8 164.9h0M215.5 169.7h0M221.2 174.5h0M226.9 179.3h0M232.6 184.1h0M238.4 188.9h0M249.8 198.5h0M255.5 203.3h0M261.2 208.1h0M267.0 212.9h0M272.7 217.7h0M278.4 222.4h0M284.1 227.2h0M77.4 55.5h0M82.6 60.7h0M87.9 66.0h0M93.2 71.3h0M98.5 76.6h0M103.8 81.9h0M109.0 87.1h0M114.3 92.4h0M119.6 97.7h0M124.9 103.0h0M130.1 108.2h0M135.4 113.5h0M140.7 118.8h0M146.0 124.1h0M151.3 129.4h0M156.5 134.6h0M161.8 139.9h0M167.1 145.2h0M172.4 150.5h0M177.7 155.8h0M182.9 161.0h0M188.2 166.3h0M193.5 171.6h0M198.8 176.9h0M204.0 182.1h0M209.3 187.4h0M214.6 192.7h0M219.9 198.0h0M225.2 203.3h0M235.7 213.8h0M251.6 229.7h0M256.8 234.9h0M76.4 56.3h0M81.2 62.1h0M86.0 67.8h0M90.8 73.5h0M95.6 79.2h0M100.4 84.9h0M105.2 90.7h0M110.0 96.4h0M114.8 102.1h0M119.6 107.8h0M124.4 113.5h0M129.2 119.2h0M134.0 125.0h0M138.8 130.7h0M143.6 136.4h0M148.4 142.1h0M153.2 147.8h0M158.0 153.6h0M162.8 159.3h0M167.6 165.0h0M172.4 170.7h0M177.2 176.4h0M182.0 182.2h0M186.8 187.9h0M191.6 193.6h0M196.4 199.3h0M201.2 205.0h0M206.0 210.7h0M210.8 216.5h0M215.6 222.2h0M220.4 227.9h0M225.2 233.6h0M230.0 239.3h0M234.8 245.1h0M239.6 250.8h0M244.3 256.5h0M249.1 262.2h0M75.4 57.1h0M79.6 63.2h0M83.9 69.4h0M88.2 75.5h0M92.5 81.6h0M96.8 87.7h0M101.1 93.8h0M105.3 99.9h0M109.6 106.1h0M113.9 112.2h0M118.2 118.3h0M122.5 124.4h0M126.7 130.5h0M131.0 136.6h0M135.3 142.7h0M139.6 148.9h0M143.9 155.0h0M148.2 161.1h0M152.4 167.2h0M156.7 173.3h0M161.0 179.4h0M165.3 185.6h0M169.6 191.7h0M173.8 197.8h0M178.1 203.9h0M182.4 210.0h0M186.7 216.1h0M191.0 222.2h0M195.3 228.4h0M199.5 234.5h0M203.8 240.6h0M208.1 246.7h0M212.4 252.8h0M216.7 258.9h0M220.9 265.0h0M225.2 271.2h0M74.3 57.8h0M78.0 64.3h0M81.7 70.8h0M85.5 77.2h0M89.2 83.7h0M92.9 90.2h0M96.7 96.6h0M100.4 103.1h0M104.1 109.6h0M107.9 116.0h0M111.6 122.5h0M115.3 128.9h0M119.1 135.4h0M122.8 141.9h0M126.5 148.3h0M130.3 154.8h0M134.0 161.3h0M137.7 167.7h0M141.5 174.2h0M145.2 180.7h0M148.9 187.1h0M152.7 193.6h0M156.4 200.1h0M160.1 206.5h0M163.8 213.0h0M167.6 219.5h0M171.3 225.9h0M175.0 232.4h0M178.8 238.9h0M182.5 245.3h0M186.2 251.8h0M190.0 258.3h0M193.7 264.7h0M201.2 277.6h0M204.9 284.1h0M73.1 58.4h0M76.3 65.2h0M79.4 72.0h0M82.6 78.7h0M85.7 85.5h0M88.9 92.3h0M92.0 99.0h0M95.2 105.8h0M98.3 112.6h0M101.5 119.3h0M104.7 126.1h0M107.8 132.9h0M111.0 139.6h0M114.1 146.4h0M117.3 153.2h0M120.4 159.9h0M123.6 166.7h0M126.7 173.5h0M129.9 180.2h0M133.1 187.0h0M136.2 193.7h0M139.4 200.5h0M142.5 207.3h0M145.7 214.0h0M148.8 220.8h0M152.0 227.6h0M155.1 234.3h0M158.3 241.1h0M161.4 247.9h0M164.6 254.6h0M167.8 261.4h0M174.1 274.9h0M177.2 281.7h0M180.4 288.5h0M183.5 295.2h0M186.7 302.0h0" stroke="#00f" stroke-width="2.8" stroke-linecap="round" fill="none"/><path d="M97.6 135.8h0M95.3 128.7h0M93.0 121.6h0M90.7 114.5h0M88.4 107.4h0M86.0 100.3h0M83.7 93.2h0M81.4 86.1h0M79.1 79.0h0M76.8 71.9h0M74.5 64.8h0M72.2 57.7h0M69.9 50.6h0M56.1 8.0h0M53.7 0.9h0M101.1 142.6h0M99.5 135.3h0M97.8 128.0h0M96.1 120.7h0M94.4 113.5h0M92.7 106.2h0M91.1 98.9h0M89.4 91.6h0M87.7 84.4h0M86.0 77.1h0M84.3 69.8h0M82.7 62.5h0M81.0 55.3h0M79.3 48.0h0M77.6 40.7h0M76.0 33.4h0M74.3 26.2h0M72.6 18.9h0M70.9 11.6h0M69.2 4.3h0M102.4 142.3h0M101.4 134.9h0M100.3 127.5h0M99.3 120.1h0M98.3 112.7h0M97.2 105.4h0M96.2 98.0h0M95.1 90.6h0M94.1 83.2h0M93.1 75.8h0M92.0 68.4h0M91.0 61.0h0M90.0 53.6h0M88.9 46.2h0M87.9 38.8h0M86.8 31.4h0M85.8 24.0h0M84.8 16.6h0M83.7 9.2h0M82.7 1.9h0M103.7 142.2h0M103.3 134.7h0M102.9 127.3h0M102.5 119.8h0M102.2 112.4h0M101.8 104.9h0M101.4 97.5h0M101.0 90.0h0M100.6 82.5h0M100.2 75.1h0M99.8 67.6h0M99.4 60.2h0M99.0 52.7h0M98.6 45.3h0M98.2 37.8h0M97.9 30.4h0M97.5 22.9h0M97.1 15.5h0M96.7 8.0h0M96.3 0.5h0M104.8 149.6h0M105.0 142.2h0M105.3 134.7h0M105.5 127.3h0M105.8 119.8h0M106.1 112.3h0M106.3 104.9h0M106.6 97.4h0M106.8 90.0h0M107.1 82.5h0M107.4 75.0h0M107.6 67.6h0M107.9 60.1h0M108.1 52.6h0M108.4 45.2h0M108.7 37.7h0M108.9 30.3h0M109.2 22.8h0M109.5 15.3h0M109.7 7.9h0M110.0 0.4h0M105.4 149.7h0M106.3 142.3h0M107.2 134.9h0M108.1 127.5h0M109.0 120.1h0M110.0 112.6h0M110.9 105.2h0M111.8 97.8h0M112.7 90.4h0M113.6 83.0h0M114.5 75.6h0M115.4 68.2h0M116.3 60.8h0M117.2 53.4h0M118.1 46.0h0M119.1 38.5h0M120.0 31.1h0M120.9 23.7h0M121.8 16.3h0M122.7 8.9h0M123.6 1.5h0M106.1 149.8h0M107.6 142.5h0M109.2 135.2h0M110.7 127.9h0M112.3 120.6h0M113.8 113.3h0M115.4 106.0h0M116.9 98.7h0M118.5 91.4h0M120.0 84.1h0M121.6 76.8h0M123.1 69.5h0M124.7 62.2h0M126.2 54.9h0M127.8 47.6h0M129.3 40.3h0M130.9 33.0h0M132.4 25.7h0M134.0 18.4h0M135.5 11.1h0M137.1 3.8h0M106.7 150.0h0M108.9 142.8h0M111.0 135.7h0M113.2 128.5h0M115.4 121.4h0M117.6 114.3h0M119.8 107.1h0M122.0 100.0h0M124.1 92.8h0M126.3 85.7h0M128.5 78.6h0M130.7 71.4h0M132.9 64.3h0M135.1 57.2h0M137.2 50.0h0M139.4 42.9h0M141.6 35.7h0M143.8 28.6h0M146.0 21.5h0M148.2 14.3h0M150.3 7.2h0M152.5 0.0h0M107.3 150.2h0M110.1 143.3h0M112.9 136.3h0M115.7 129.4h0M118.5 122.5h0M121.3 115.6h0M124.1 108.6h0M126.9 101.7h0M129.7 94.8h0M132.5 87.9h0M135.3 81.0h0M138.1 74.0h0M140.9 67.1h0M143.7 60.2h0M146.4 53.3h0M149.2 46.4h0M152.0 39.4h0M154.8 32.5h0M157.6 25.6h0M160.4 18.7h0M163.2 11.7h0M166.0 4.8h0M107.9 150.4h0M111.3 143.8h0M114.7 137.1h0M118.1 130.5h0M121.4 123.8h0M124.8 117.2h0M128.2 110.5h0M131.6 103.9h0M135.0 97.2h0M138.4 90.6h0M141.8 83.9h0M145.2 77.3h0M148.6 70.6h0M151.9 64.0h0M155.3 57.3h0M158.7 50.7h0M162.1 44.0h0M165.5 37.4h0M168.9 30.7h0M172.3 24.1h0M175.7 17.4h0M179.1 10.8h0M182.5 4.1h0M108.5 150.8h0M112.4 144.4h0M116.4 138.1h0M120.3 131.8h0M124.3 125.4h0M128.2 119.1h0M132.2 112.8h0M136.1 106.5h0M140.1 100.1h0M144.1 93.8h0M148.0 87.5h0M152.0 81.1h0M155.9 74.8h0M159.9 68.5h0M163.8 62.1h0M167.8 55.8h0M171.8 49.5h0M175.7 43.1h0M179.7 36.8h0M183.6 30.5h0M187.6 24.2h0M191.5 17.8h0M195.5 11.5h0M199.4 5.2h0M203.4 -1.2h0M109.0 151.1h0M113.5 145.2h0M118.0 139.2h0M122.5 133.3h0M127.0 127.3h0M131.5 121.3h0M135.9 115.4h0M140.4 109.4h0M144.9 103.4h0M149.4 97.5h0M153.9 91.5h0M158.4 85.6h0M162.9 79.6h0M167.4 73.6h0M171.9 67.7h0M176.4 61.7h0M180.9 55.7h0M185.4 49.8h0M189.9 43.8h0M194.4 37.9h0M198.8 31.9h0M203.3 25.9h0M207.8 20.0h0M212.3 14.0h0M216.8 8.0h0M221.3 2.1h0M109.5 151.6h0M114.5 146.0h0M119.5 140.5h0M124.5 134.9h0M129.5 129.4h0M134.5 123.8h0M139.5 118.3h0M144.5 112.7h0M149.5 107.2h0M154.5 101.6h0M159.4 96.1h0M164.4 90.5h0M169.4 85.0h0M174.4 79.4h0M179.4 73.9h0M184.4 68.3h0M189.4 62.8h0M194.4 57.2h0M199.4 51.7h0M204.4 46.1h0M209.4 40.6h0M214.4 35.0h0M219.4 29.5h0M224.4 24.0h0M229.4 18.4h0M234.4 12.9h0M239.4 7.3h0M244.4 1.8h0M110.0 152.0h0M115.4 146.9h0M120.9 141.8h0M126.3 136.7h0M131.8 131.6h0M137.3 126.6h0M142.7 121.5h0M148.2 116.4h0M153.6 111.3h0M159.1 106.2h0M164.6 101.1h0M170.0 96.0h0M175.5 90.9h0M180.9 85.8h0M186.4 80.7h0M191.9 75.6h0M197.3 70.5h0M202.8 65.5h0M208.2 60.4h0M213.7 55.3h0M219.2 50.2h0M224.6 45.1h0M230.1 40.0h0M235.5 34.9h0M241.0 29.8h0M246.5 24.7h0M251.9 19.6h0M257.4 14.5h0M262.8 9.5h0M268.3 4.4h0M273.8 -0.7h0M110.4 152.5h0M116.3 147.9h0M122.1 143.3h0M128.0 138.7h0M133.9 134.1h0M139.8 129.5h0M145.7 124.9h0M151.6 120.3h0M157.4 115.7h0M163.3 111.1h0M169.2 106.5h0M175.1 101.9h0M181.0 97.4h0M186.9 92.8h0M192.7 88.2h0M198.6 83.6h0M204.5 79.0h0M210.4 74.4h0M216.3 69.8h0M222.2 65.2h0M228.0 60.6h0M233.9 56.0h0M239.8 51.4h0M245.7 46.8h0M251.6 42.2h0M257.5 37.6h0M263.3 33.0h0M269.2 28.4h0M275.1 23.8h0M281.0 19.2h0M298.6 5.4h0M304.5 0.8h0M110.8 153.0h0M117.0 149.0h0M123.3 144.9h0M129.5 140.8h0M135.8 136.8h0M142.1 132.7h0M148.3 128.6h0M154.6 124.6h0M160.8 120.5h0M167.1 116.4h0M173.4 112.4h0M179.6 108.3h0M185.9 104.2h0M192.2 100.2h0M198.4 96.1h0M204.7 92.0h0M210.9 88.0h0M217.2 83.9h0M223.5 79.8h0M229.7 75.8h0M236.0 71.7h0M242.2 67.7h0M248.5 63.6h0M254.8 59.5h0M261.0 55.5h0M267.3 51.4h0M273.5 47.3h0M279.8 43.3h0M286.1 39.2h0M292.3 35.1h0M298.6 31.1h0M304.9 27.0h0M311.1 22.9h0M317.4 18.9h0M323.6 14.8h0M329.9 10.7h0M336.2 6.7h0M342.4 2.6h0M111.1 153.6h0M117.7 150.1h0M124.3 146.6h0M130.9 143.1h0M137.5 139.6h0M144.0 136.1h0M150.6 132.6h0M157.2 129.1h0M163.8 125.6h0M170.4 122.1h0M177.0 118.5h0M183.6 115.0h0M190.2 111.5h0M196.8 108.0h0M203.4 104.5h0M210.0 101.0h0M216.6 97.5h0M223.1 94.0h0M229.7 90.5h0M236.3 87.0h0M242.9 83.5h0M249.5 80.0h0M256.1 76.5h0M262.7 73.0h0M269.3 69.5h0M275.9 66.0h0M282.5 62.5h0M289.1 59.0h0M295.7 55.5h0M302.2 52.0h0M308.8 48.5h0M315.4 44.9h0M322.0 41.4h0M335.2 34.4h0M341.8 30.9h0M348.4 27.4h0M111.4 154.2h0M118.2 151.3h0M125.1 148.3h0M132.0 145.4h0M138.9 142.5h0M145.7 139.6h0M152.6 136.7h0M159.5 133.8h0M166.3 130.8h0M173.2 127.9h0M180.1 125.0h0M187.0 122.1h0M193.8 119.2h0M200.7 116.3h0M207.6 113.3h0M214.4 110.4h0M221.3 107.5h0M228.2 104.6h0M235.1 101.7h0M241.9 98.8h0M248.8 95.8h0M255.7 92.9h0M262.6 90.0h0M269.4 87.1h0M276.3 84.2h0M283.2 81.3h0M290.0 78.3h0M296.9 75.4h0M303.8 72.5h0M310.7 69.6h0M324.4 63.8h0M345.0 55.0h0M111.6 154.8h0M118.7 152.5h0M125.8 150.2h0M132.9 147.9h0M140.0 145.6h0M147.1 143.3h0M154.2 141.0h0M161.3 138.6h0M168.4 136.3h0M175.5 134.0h0M182.6 131.7h0M189.7 129.4h0M196.8 127.1h0M203.9 124.8h0M211.0 122.5h0M218.1 120.2h0M225.2 117.9h0M232.3 115.6h0M239.4 113.3h0M246.5 111.0h0M253.6 108.7h0M260.7 106.3h0M267.8 104.0h0M274.9 101.7h0M282.0 99.4h0M289.1 97.1h0M296.2 94.8h0M303.3 92.5h0M310.4 90.2h0M317.5 87.9h0M324.6 85.6h0M338.8 81.0h0M345.9 78.7h0M111.8 155.4h0M119.0 153.7h0M126.3 152.1h0M133.6 150.4h0M140.9 148.7h0M148.1 147.0h0M155.4 145.3h0M162.7 143.7h0M170.0 142.0h0M177.2 140.3h0M184.5 138.6h0M191.8 136.9h0M199.1 135.3h0M206.3 133.6h0M213.6 131.9h0M220.9 130.2h0M228.2 128.6h0M235.4 126.9h0M242.7 125.2h0M250.0 123.5h0M257.3 121.8h0M264.5 120.2h0M271.8 118.5h0M279.1 116.8h0M286.3 115.1h0M293.6 113.4h0M300.9 111.8h0M308.2 110.1h0M315.4 108.4h0M322.7 106.7h0M330.0 105.0h0M337.3 103.4h0M344.5 101.7h0M111.9 156.1h0M119.3 155.0h0M126.7 154.0h0M134.1 152.9h0M141.5 151.9h0M148.9 150.9h0M156.2 149.8h0M163.6 148.8h0M171.0 147.7h0M178.4 146.7h0M185.8 145.7h0M193.2 144.6h0M200.6 143.6h0M208.0 142.6h0M215.4 141.5h0M222.8 140.5h0M230.2 139.4h0M237.6 138.4h0M245.0 137.4h0M252.4 136.3h0M259.7 135.3h0M267.1 134.2h0M274.5 133.2h0M281.9 132.2h0M289.3 131.1h0M296.7 130.1h0M304.1 129.0h0M311.5 128.0h0M318.9 127.0h0M326.3 125.9h0M341.1 123.9h0M348.5 122.8h0M112.0 156.7h0M119.4 156.3h0M126.9 155.9h0M134.3 155.5h0M141.8 155.1h0M149.2 154.8h0M156.7 154.4h0M164.1 154.0h0M171.6 153.6h0M179.1 153.2h0M186.5 152.8h0M194.0 152.4h0M201.4 152.0h0M208.9 151.6h0M216.3 151.2h0M223.8 150.8h0M231.2 150.5h0M238.7 150.1h0M246.1 149.7h0M253.6 149.3h0M261.1 148.9h0M268.5 148.5h0M276.0 148.1h0M283.4 147.7h0M290.9 147.3h0M298.3 146.9h0M305.8 146.6h0M313.2 146.2h0M320.7 145.8h0M328.2 145.4h0M335.6 145.0h0M343.1 144.6h0M112.0 157.4h0M119.4 157.6h0M126.9 157.9h0M134.3 158.1h0M141.8 158.4h0M149.3 158.7h0M156.7 158.9h0M164.2 159.2h0M171.6 159.4h0M179.1 159.7h0M186.6 160.0h0M194.0 160.2h0M201.5 160.5h0M209.0 160.7h0M216.4 161.0h0M223.9 161.3h0M231.3 161.5h0M238.8 161.8h0M246.3 162.1h0M253.7 162.3h0M261.2 162.6h0M268.6 162.8h0M276.1 163.1h0M283.6 163.4h0M291.0 163.6h0M298.5 163.9h0M305.9 164.1h0M313.4 164.4h0M320.9 164.7h0M328.3 164.9h0M111.9 158.0h0M119.3 158.9h0M126.7 159.8h0M134.1 160.7h0M141.5 161.6h0M149.0 162.6h0M156.4 163.5h0M163.8 164.4h0M171.2 165.3h0M178.6 166.2h0M186.0 167.1h0M193.4 168.0h0M200.8 168.9h0M208.2 169.8h0M215.6 170.7h0M223.1 171.7h0M230.5 172.6h0M237.9 173.5h0M245.3 174.4h0M252.7 175.3h0M260.1 176.2h0M267.5 177.1h0M274.9 178.0h0M282.3 178.9h0M289.7 179.8h0M297.2 180.8h0M304.6 181.7h0M312.0 182.6h0M319.4 183.5h0M326.8 184.4h0M334.2 185.3h0M349.0 187.1h0M111.8 158.7h0M119.1 160.2h0M126.4 161.8h0M133.7 163.3h0M141.0 164.9h0M148.3 166.4h0M155.6 168.0h0M162.9 169.5h0M170.2 171.1h0M177.5 172.6h0M184.8 174.2h0M192.1 175.7h0M199.4 177.3h0M206.7 178.8h0M214.0 180.4h0M221.3 181.9h0M228.6 183.5h0M235.9 185.0h0M243.2 186.6h0M250.5 188.1h0M257.8 189.7h0M265.1 191.2h0M272.5 192.8h0M279.8 194.4h0M287.1 195.9h0M294.4 197.5h0M301.7 199.0h0M309.0 200.6h0M316.3 202.1h0M323.6 203.7h0M330.9 205.2h0M345.5 208.3h0M111.6 159.3h0M118.8 161.5h0M125.9 163.6h0M133.1 165.8h0M140.2 168.0h0M147.3 170.2h0M154.5 172.4h0M161.6 174.6h0M168.8 176.7h0M175.9 178.9h0M183.0 181.1h0M190.2 183.3h0M197.3 185.5h0M204.4 187.7h0M211.6 189.8h0M218.7 192.0h0M225.9 194.2h0M233.0 196.4h0M240.1 198.6h0M247.3 200.8h0M254.4 202.9h0M261.6 205.1h0M268.7 207.3h0M275.8 209.5h0M283.0 211.7h0M290.1 213.8h0M297.3 216.0h0M304.4 218.2h0M311.5 220.4h0M318.7 222.6h0M325.8 224.8h0M333.0 226.9h0M340.1 229.1h0M347.2 231.3h0M111.4 159.9h0M118.3 162.7h0M125.3 165.5h0M132.2 168.3h0M139.1 171.1h0M146.0 173.9h0M153.0 176.7h0M159.9 179.5h0M166.8 182.3h0M173.7 185.1h0M180.6 187.9h0M187.6 190.7h0M194.5 193.5h0M201.4 196.3h0M208.3 199.0h0M215.2 201.8h0M222.2 204.6h0M229.1 207.4h0M236.0 210.2h0M242.9 213.0h0M249.9 215.8h0M256.8 218.6h0M263.7 221.4h0M270.6 224.2h0M277.5 227.0h0M284.5 229.8h0M291.4 232.6h0M298.3 235.4h0M305.2 238.2h0M312.2 241.0h0M326.0 246.6h0M332.9 249.4h0M339.8 252.2h0M346.8 255.0h0M111.2 160.5h0M117.8 163.9h0M124.5 167.3h0M131.1 170.7h0M137.8 174.0h0M144.4 177.4h0M151.1 180.8h0M157.7 184.2h0M164.4 187.6h0M171.0 191.0h0M177.7 194.4h0M184.3 197.8h0M191.0 201.2h0M197.6 204.5h0M204.3 207.9h0M210.9 211.3h0M217.6 214.7h0M224.2 218.1h0M230.9 221.5h0M237.5 224.9h0M244.2 228.3h0M250.8 231.7h0M257.5 235.1h0M264.1 238.4h0M270.8 241.8h0M277.4 245.2h0M284.1 248.6h0M290.7 252.0h0M297.4 255.4h0M304.0 258.8h0M310.7 262.2h0M317.4 265.6h0M324.0 268.9h0M330.7 272.3h0M110.8 161.1h0M117.2 165.0h0M123.5 169.0h0M129.8 172.9h0M136.2 176.9h0M142.5 180.8h0M148.8 184.8h0M155.1 188.7h0M161.5 192.7h0M167.8 196.7h0M174.1 200.6h0M180.5 204.6h0M186.8 208.5h0M193.1 212.5h0M199.5 216.4h0M205.8 220.4h0M212.1 224.4h0M218.5 228.3h0M224.8 232.3h0M231.1 236.2h0M237.4 240.2h0M243.8 244.1h0M250.1 248.1h0M256.4 252.0h0M262.8 256.0h0M269.1 260.0h0M275.4 263.9h0M281.8 267.9h0M288.1 271.8h0M294.4 275.8h0M300.8 279.7h0M307.1 283.7h0M313.4 287.6h0M319.8 291.6h0M326.1 295.6h0M332.4 299.5h0M345.1 307.4h0M110.5 161.6h0M116.4 166.1h0M122.4 170.6h0M128.3 175.1h0M134.3 179.6h0M140.3 184.1h0M146.2 188.5h0M152.2 193.0h0M158.2 197.5h0M164.1 202.0h0M170.1 206.5h0M176.0 211.0h0M182.0 215.5h0M188.0 220.0h0M193.9 224.5h0M199.9 229.0h0M205.9 233.5h0M211.8 238.0h0M217.8 242.5h0M223.7 247.0h0M229.7 251.4h0M235.7 255.9h0M241.6 260.4h0M247.6 264.9h0M253.6 269.4h0M259.5 273.9h0M265.5 278.4h0M271.4 282.9h0M277.4 287.4h0M283.4 291.9h0M289.3 296.4h0M295.3 300.9h0M301.2 305.4h0M307.2 309.9h0M313.2 314.3h0M331.1 327.8h0M110.0 162.1h0M115.6 167.1h0M121.1 172.1h0M126.7 177.1h0M132.2 182.1h0M137.8 187.1h0M143.3 192.1h0M148.9 197.1h0M154.4 202.1h0M160.0 207.1h0M165.5 212.0h0M171.1 217.0h0M176.6 222.0h0M182.2 227.0h0M187.7 232.0h0M193.3 237.0h0M198.8 242.0h0M204.4 247.0h0M209.9 252.0h0M215.5 257.0h0M221.0 262.0h0M226.6 267.0h0M232.1 272.0h0M237.6 277.0h0M243.2 282.0h0M248.7 287.0h0M254.3 292.0h0M259.8 297.0h0M265.4 302.0h0M270.9 307.0h0M276.5 312.0h0M282.0 316.9h0M293.1 326.9h0M298.7 331.9h0M304.2 336.9h0M309.8 341.9h0M315.3 346.9h0M109.6 162.6h0M114.7 168.0h0M119.8 173.5h0M124.9 178.9h0M130.0 184.4h0M135.0 189.9h0M140.1 195.3h0M145.2 200.8h0M150.3 206.2h0M155.4 211.7h0M160.5 217.2h0M165.6 222.6h0M170.7 228.1h0M175.8 233.5h0M180.9 239.0h0M186.0 244.5h0M191.1 249.9h0M196.1 255.4h0M201.2 260.8h0M206.3 266.3h0M211.4 271.8h0M216.5 277.2h0M221.6 282.7h0M226.7 288.1h0M231.8 293.6h0M236.9 299.1h0M242.0 304.5h0M247.1 310.0h0M252.1 315.4h0M257.2 320.9h0M262.3 326.4h0M272.5 337.3h0M282.7 348.2h0M287.8 353.7h0M292.9 359.1h0M298.0 364.6h0M109.1 163.0h0M113.7 168.9h0M118.3 174.7h0M122.9 180.6h0M127.5 186.5h0M132.1 192.4h0M136.7 198.3h0M141.3 204.2h0M145.9 210.0h0M150.5 215.9h0M155.1 221.8h0M159.7 227.7h0M164.2 233.6h0M168.8 239.5h0M173.4 245.3h0M178.0 251.2h0M182.6 257.1h0M187.2 263.0h0M191.8 268.9h0M196.4 274.8h0M201.0 280.6h0M205.6 286.5h0M210.2 292.4h0M214.8 298.3h0M219.4 304.2h0M224.0 310.1h0M228.6 315.9h0M233.2 321.8h0M237.8 327.7h0M242.4 333.6h0M247.0 339.5h0M251.6 345.3h0M256.2 351.2h0M260.8 357.1h0M265.4 363.0h0M270.0 368.9h0M274.6 374.8h0M279.2 380.6h0M108.6 163.4h0M112.6 169.6h0M116.7 175.9h0M120.8 182.1h0M124.8 188.4h0M128.9 194.7h0M133.0 200.9h0M137.0 207.2h0M141.1 213.4h0M145.2 219.7h0M149.2 226.0h0M153.3 232.2h0M157.4 238.5h0M161.4 244.8h0M165.5 251.0h0M169.6 257.3h0M173.6 263.5h0M177.7 269.8h0M181.8 276.1h0M185.8 282.3h0M189.9 288.6h0M193.9 294.8h0M198.0 301.1h0M202.1 307.4h0M206.1 313.6h0M210.2 319.9h0M214.3 326.1h0M218.3 332.4h0M222.4 338.7h0M226.5 344.9h0M234.6 357.5h0M238.7 363.7h0M246.8 376.2h0M250.9 382.5h0M254.9 388.8h0M259.0 395.0h0M108.0 163.7h0M111.5 170.3h0M115.0 176.9h0M118.5 183.5h0M122.0 190.1h0M125.5 196.6h0M129.0 203.2h0M132.5 209.8h0M136.0 216.4h0M139.5 223.0h0M143.1 229.6h0M146.6 236.2h0M150.1 242.8h0M153.6 249.4h0M157.1 256.0h0M160.6 262.6h0M164.1 269.2h0M167.6 275.7h0M171.1 282.3h0M174.6 288.9h0M178.1 295.5h0M181.6 302.1h0M185.1 308.7h0M188.6 315.3h0M192.1 321.9h0M195.6 328.5h0M199.1 335.1h0M202.6 341.7h0M206.1 348.3h0M209.6 354.8h0M216.7 368.0h0M220.2 374.6h0M227.2 387.8h0M230.7 394.4h0M234.2 401.0h0M237.7 407.6h0M107.4 164.0h0M110.3 170.8h0M113.3 177.7h0M116.2 184.6h0M119.1 191.5h0M122.0 198.3h0M124.9 205.2h0M127.8 212.1h0M130.8 218.9h0M133.7 225.8h0M136.6 232.7h0M139.5 239.6h0M142.4 246.4h0M145.3 253.3h0M148.3 260.2h0M151.2 267.0h0M154.1 273.9h0M157.0 280.8h0M159.9 287.7h0M162.8 294.5h0M165.8 301.4h0M168.7 308.3h0M171.6 315.2h0M174.5 322.0h0M177.4 328.9h0M180.3 335.8h0M183.3 342.6h0M186.2 349.5h0M189.1 356.4h0M192.0 363.3h0M194.9 370.1h0M197.8 377.0h0M215.3 418.2h0M106.8 164.2h0M109.1 171.3h0M111.4 178.4h0M113.7 185.5h0M116.0 192.6h0M118.3 199.7h0M120.6 206.8h0M123.0 213.9h0M125.3 221.0h0M127.6 228.1h0M129.9 235.2h0M132.2 242.3h0M134.5 249.4h0M136.8 256.5h0M139.1 263.6h0M141.4 270.7h0M143.7 277.8h0M146.0 284.9h0M148.3 292.0h0M150.6 299.1h0M152.9 306.2h0M155.3 313.3h0M157.6 320.4h0M159.9 327.5h0M162.2 334.6h0M164.5 341.7h0M166.8 348.8h0M169.1 355.9h0M171.4 363.0h0M173.7 370.1h0M176.0 377.2h0M180.6 391.4h0M182.9 398.5h0M185.2 405.6h0M187.5 412.7h0M189.9 419.8h0M192.2 426.9h0" stroke="#f00" stroke-width="2.8" stroke-linecap="round" fill="none"/><path d="M114.8 242.5h0M116.1 235.2h0M117.4 227.8h0M118.7 220.5h0M120.0 213.1h0M121.3 205.8h0M122.6 198.4h0M123.9 191.1h0M125.2 183.7h0M126.5 176.4h0M127.8 169.0h0M129.1 161.7h0M130.4 154.3h0M131.6 147.0h0M132.9 139.6h0M134.2 132.3h0M135.5 124.9h0M136.8 117.6h0M138.1 110.2h0M139.4 102.9h0M140.7 95.5h0M142.0 88.2h0M143.3 80.8h0M144.6 73.5h0M145.9 66.1h0M147.2 58.8h0M148.5 51.4h0M149.8 44.0h0M151.1 36.7h0M152.4 29.3h0M153.7 22.0h0M156.3 7.3h0M115.4 242.7h0M117.4 235.5h0M119.3 228.3h0M121.2 221.1h0M123.2 213.8h0M125.1 206.6h0M127.0 199.4h0M129.0 192.2h0M130.9 185.0h0M132.8 177.8h0M134.8 170.6h0M136.7 163.4h0M138.6 156.2h0M140.6 148.9h0M142.5 141.7h0M144.4 134.5h0M146.3 127.3h0M148.3 120.1h0M150.2 112.9h0M152.1 105.7h0M154.1 98.5h0M156.0 91.3h0M157.9 84.0h0M159.9 76.8h0M161.8 69.6h0M163.7 62.4h0M165.7 55.2h0M167.6 48.0h0M169.5 40.8h0M171.5 33.6h0M173.4 26.4h0M175.3 19.1h0M177.3 11.9h0M116.1 242.9h0M118.6 235.9h0M121.2 228.9h0M123.7 221.8h0M126.3 214.8h0M128.8 207.8h0M131.4 200.8h0M133.9 193.8h0M136.5 186.8h0M139.0 179.7h0M141.6 172.7h0M144.1 165.7h0M146.7 158.7h0M149.2 151.7h0M151.8 144.7h0M154.4 137.7h0M156.9 130.6h0M159.5 123.6h0M162.0 116.6h0M164.6 109.6h0M167.1 102.6h0M169.7 95.6h0M172.2 88.6h0M174.8 81.5h0M177.3 74.5h0M179.9 67.5h0M182.4 60.5h0M185.0 53.5h0M187.5 46.5h0M190.1 39.4h0M195.2 25.4h0M197.8 18.4h0M200.3 11.4h0M202.9 4.4h0M116.7 243.1h0M119.8 236.4h0M123.0 229.6h0M126.1 222.8h0M129.3 216.1h0M132.4 209.3h0M135.6 202.5h0M138.7 195.8h0M141.9 189.0h0M145.0 182.2h0M148.2 175.5h0M151.4 168.7h0M154.5 161.9h0M157.7 155.2h0M160.8 148.4h0M164.0 141.6h0M167.1 134.9h0M170.3 128.1h0M173.4 121.3h0M176.6 114.6h0M179.8 107.8h0M182.9 101.1h0M186.1 94.3h0M189.2 87.5h0M192.4 80.8h0M195.5 74.0h0M198.7 67.2h0M201.8 60.5h0M205.0 53.7h0M208.1 46.9h0M211.3 40.2h0M214.5 33.4h0M217.6 26.6h0M220.8 19.9h0M223.9 13.1h0M227.1 6.3h0M230.2 -0.4h0M117.2 243.4h0M121.0 237.0h0M124.7 230.5h0M128.4 224.0h0M132.2 217.6h0M135.9 211.1h0M139.6 204.6h0M143.4 198.2h0M147.1 191.7h0M150.8 185.2h0M154.6 178.8h0M158.3 172.3h0M162.0 165.9h0M165.8 159.4h0M169.5 152.9h0M173.2 146.5h0M177.0 140.0h0M180.7 133.5h0M184.4 127.1h0M188.2 120.6h0M191.9 114.1h0M195.6 107.7h0M199.4 101.2h0M203.1 94.7h0M206.8 88.3h0M210.5 81.8h0M214.3 75.3h0M218.0 68.9h0M221.7 62.4h0M225.5 55.9h0M229.2 49.5h0M232.9 43.0h0M240.4 30.1h0M244.1 23.6h0M251.6 10.7h0M255.3 4.2h0M117.8 243.8h0M122.1 237.7h0M126.3 231.6h0M130.6 225.4h0M134.9 219.3h0M139.2 213.2h0M143.5 207.1h0M147.8 201.0h0M152.0 194.9h0M156.3 188.7h0M160.6 182.6h0M164.9 176.5h0M169.2 170.4h0M173.4 164.3h0M177.7 158.2h0M182.0 152.1h0M186.3 145.9h0M190.6 139.8h0M194.9 133.7h0M199.1 127.6h0M203.4 121.5h0M207.7 115.4h0M212.0 109.2h0M216.3 103.1h0M220.5 97.0h0M224.8 90.9h0M229.1 84.8h0M233.4 78.7h0M237.7 72.6h0M242.0 66.4h0M246.2 60.3h0M250.5 54.2h0M254.8 48.1h0M259.1 42.0h0M263.4 35.9h0M267.6 29.8h0M271.9 23.6h0M118.3 244.2h0M123.1 238.5h0M127.9 232.7h0M132.7 227.0h0M137.5 221.3h0M142.3 215.6h0M147.1 209.9h0M151.9 204.1h0M156.7 198.4h0M161.5 192.7h0M166.3 187.0h0M171.1 181.3h0M175.9 175.6h0M180.7 169.8h0M185.5 164.1h0M190.3 158.4h0M195.1 152.7h0M199.9 147.0h0M204.7 141.2h0M209.5 135.5h0M214.3 129.8h0M219.1 124.1h0M223.9 118.4h0M228.7 112.6h0M233.5 106.9h0M238.3 101.2h0M243.1 95.5h0M247.9 89.8h0M252.7 84.1h0M257.5 78.3h0M262.3 72.6h0M267.1 66.9h0M271.9 61.2h0M276.7 55.5h0M281.5 49.7h0M286.3 44.0h0M291.0 38.3h0M118.8 244.6h0M124.1 239.3h0M129.3 234.1h0M134.6 228.8h0M139.9 223.5h0M145.2 218.2h0M150.5 212.9h0M155.7 207.7h0M161.0 202.4h0M166.3 197.1h0M171.6 191.8h0M176.8 186.6h0M182.1 181.3h0M187.4 176.0h0M192.7 170.7h0M198.0 165.4h0M203.2 160.2h0M208.5 154.9h0M213.8 149.6h0M219.1 144.3h0M224.4 139.0h0M229.6 133.8h0M234.9 128.5h0M240.2 123.2h0M245.5 117.9h0M250.7 112.7h0M256.0 107.4h0M261.3 102.1h0M266.6 96.8h0M271.9 91.5h0M277.1 86.3h0M293.0 70.4h0M314.1 49.3h0M119.2 245.1h0M124.9 240.3h0M130.7 235.5h0M136.4 230.7h0M142.1 225.9h0M147.8 221.1h0M153.5 216.3h0M159.3 211.5h0M165.0 206.7h0M170.7 201.9h0M176.4 197.1h0M182.1 192.3h0M187.8 187.5h0M193.6 182.7h0M199.3 177.9h0M205.0 173.1h0M210.7 168.3h0M216.4 163.5h0M222.2 158.7h0M227.9 153.9h0M233.6 149.1h0M239.3 144.3h0M245.0 139.5h0M250.8 134.7h0M256.5 129.9h0M262.2 125.1h0M267.9 120.3h0M273.6 115.5h0M279.3 110.7h0M285.1 105.9h0M302.2 91.5h0M313.7 81.9h0M319.4 77.1h0M325.1 72.4h0M330.8 67.6h0M119.6 245.6h0M125.7 241.3h0M131.8 237.1h0M138.0 232.8h0M144.1 228.5h0M150.2 224.2h0M156.3 219.9h0M162.4 215.6h0M168.5 211.4h0M174.7 207.1h0M180.8 202.8h0M186.9 198.5h0M193.0 194.2h0M199.1 190.0h0M205.2 185.7h0M211.3 181.4h0M217.5 177.1h0M223.6 172.8h0M229.7 168.5h0M235.8 164.3h0M241.9 160.0h0M248.0 155.7h0M254.2 151.4h0M260.3 147.1h0M266.4 142.9h0M272.5 138.6h0M278.6 134.3h0M284.7 130.0h0M290.8 125.7h0M297.0 121.4h0M303.1 117.2h0M309.2 112.9h0M321.4 104.3h0M327.5 100.0h0M333.6 95.8h0M345.9 87.2h0M120.0 246.2h0M126.4 242.4h0M132.9 238.7h0M139.4 235.0h0M145.8 231.2h0M152.3 227.5h0M158.8 223.8h0M165.2 220.0h0M171.7 216.3h0M178.2 212.6h0M184.6 208.8h0M191.1 205.1h0M197.5 201.4h0M204.0 197.6h0M210.5 193.9h0M216.9 190.2h0M223.4 186.4h0M229.9 182.7h0M236.3 179.0h0M242.8 175.2h0M249.3 171.5h0M255.7 167.8h0M262.2 164.0h0M268.7 160.3h0M275.1 156.6h0M281.6 152.9h0M288.1 149.1h0M294.5 145.4h0M301.0 141.7h0M307.5 137.9h0M313.9 134.2h0M326.9 126.7h0M333.3 123.0h0M339.8 119.3h0M120.3 246.7h0M127.0 243.6h0M133.8 240.4h0M140.6 237.3h0M147.3 234.1h0M154.1 231.0h0M160.9 227.8h0M167.6 224.7h0M174.4 221.5h0M181.2 218.4h0M187.9 215.2h0M194.7 212.0h0M201.5 208.9h0M208.2 205.7h0M215.0 202.6h0M221.8 199.4h0M228.5 196.3h0M235.3 193.1h0M242.1 190.0h0M248.8 186.8h0M255.6 183.6h0M262.3 180.5h0M269.1 177.3h0M275.9 174.2h0M282.6 171.0h0M289.4 167.9h0M296.2 164.7h0M302.9 161.6h0M309.7 158.4h0M316.5 155.3h0M336.8 145.8h0M343.5 142.6h0M120.5 247.3h0M127.5 244.8h0M134.5 242.2h0M141.6 239.7h0M148.6 237.1h0M155.6 234.6h0M162.6 232.0h0M169.6 229.5h0M176.6 226.9h0M183.7 224.4h0M190.7 221.8h0M197.7 219.3h0M204.7 216.7h0M211.7 214.2h0M218.7 211.6h0M225.7 209.0h0M232.8 206.5h0M239.8 203.9h0M246.8 201.4h0M253.8 198.8h0M260.8 196.3h0M267.8 193.7h0M274.8 191.2h0M281.9 188.6h0M288.9 186.1h0M295.9 183.5h0M302.9 181.0h0M309.9 178.4h0M316.9 175.9h0M324.0 173.3h0M331.0 170.7h0M338.0 168.2h0M345.0 165.6h0M120.7 248.0h0M127.9 246.0h0M135.1 244.1h0M142.3 242.2h0M149.6 240.2h0M156.8 238.3h0M164.0 236.4h0M171.2 234.4h0M178.4 232.5h0M185.6 230.6h0M192.8 228.6h0M200.0 226.7h0M207.2 224.8h0M214.5 222.8h0M221.7 220.9h0M228.9 219.0h0M236.1 217.1h0M243.3 215.1h0M250.5 213.2h0M257.7 211.3h0M264.9 209.3h0M272.1 207.4h0M279.4 205.5h0M286.6 203.5h0M293.8 201.6h0M301.0 199.7h0M308.2 197.7h0M315.4 195.8h0M322.6 193.9h0M329.8 191.9h0M337.0 190.0h0M344.3 188.1h0M120.9 248.6h0M128.2 247.3h0M135.6 246.0h0M142.9 244.7h0M150.3 243.4h0M157.6 242.1h0M165.0 240.8h0M172.3 239.5h0M179.7 238.2h0M187.0 236.9h0M194.4 235.6h0M201.7 234.3h0M209.1 233.0h0M216.4 231.8h0M223.8 230.5h0M231.1 229.2h0M238.5 227.9h0M245.8 226.6h0M253.2 225.3h0M260.5 224.0h0M267.9 222.7h0M275.2 221.4h0M282.6 220.1h0M289.9 218.8h0M297.3 217.5h0M304.6 216.2h0M312.0 214.9h0M319.4 213.6h0M326.7 212.3h0M334.1 211.0h0M348.8 208.4h0M120.9 249.2h0M128.4 248.6h0M135.8 247.9h0M143.2 247.3h0M150.7 246.6h0M158.1 246.0h0M165.6 245.3h0M173.0 244.7h0M180.4 244.0h0M187.9 243.4h0M195.3 242.7h0M202.7 242.1h0M210.2 241.4h0M217.6 240.8h0M225.1 240.1h0M232.5 239.5h0M239.9 238.8h0M247.4 238.2h0M254.8 237.5h0M262.2 236.9h0M269.7 236.2h0M277.1 235.6h0M284.5 234.9h0M292.0 234.3h0M299.4 233.6h0M306.9 233.0h0M314.3 232.3h0M321.7 231.7h0M329.2 231.0h0M336.6 230.4h0M344.0 229.7h0M121.0 249.9h0M128.4 249.9h0M135.9 249.9h0M143.4 249.9h0M150.8 249.9h0M158.3 249.9h0M165.8 249.9h0M173.2 249.9h0M180.7 249.9h0M188.2 249.9h0M195.6 249.9h0M203.1 249.9h0M210.5 249.9h0M218.0 249.9h0M225.5 249.9h0M232.9 249.9h0M240.4 249.9h0M247.9 249.9h0M255.3 249.9h0M262.8 249.9h0M270.3 249.9h0M277.7 249.9h0M285.2 249.9h0M292.7 249.9h0M300.1 249.9h0M307.6 249.9h0M315.1 249.9h0M322.5 249.9h0M330.0 249.9h0M337.5 249.9h0M344.9 249.9h0M120.9 250.6h0M128.4 251.2h0M135.8 251.9h0M143.2 252.5h0M150.7 253.2h0M158.1 253.8h0M165.6 254.5h0M173.0 255.1h0M180.4 255.8h0M187.9 256.4h0M195.3 257.1h0M202.7 257.7h0M210.2 258.4h0M217.6 259.0h0M225.1 259.7h0M232.5 260.3h0M239.9 261.0h0M247.4 261.6h0M254.8 262.3h0M262.2 262.9h0M269.7 263.6h0M277.1 264.2h0M284.5 264.9h0M292.0 265.5h0M299.4 266.2h0M306.9 266.8h0M314.3 267.5h0M321.7 268.1h0M329.2 268.8h0M336.6 269.4h0M344.0 270.1h0M120.9 251.2h0M128.2 252.5h0M135.6 253.8h0M142.9 255.1h0M150.3 256.4h0M157.6 257.7h0M165.0 259.0h0M172.3 260.3h0M179.7 261.6h0M187.0 262.9h0M194.4 264.2h0M201.7 265.5h0M209.1 266.8h0M216.4 268.0h0M223.8 269.3h0M231.1 270.6h0M238.5 271.9h0M245.8 273.2h0M253.2 274.5h0M260.5 275.8h0M267.9 277.1h0M275.2 278.4h0M282.6 279.7h0M289.9 281.0h0M297.3 282.3h0M304.6 283.6h0M312.0 284.9h0M319.4 286.2h0M326.7 287.5h0M334.1 288.8h0M348.8 291.4h0M120.7 251.8h0M127.9 253.8h0M135.1 255.7h0M142.3 257.6h0M149.6 259.6h0M156.8 261.5h0M164.0 263.4h0M171.2 265.4h0M178.4 267.3h0M185.6 269.2h0M192.8 271.2h0M200.0 273.1h0M207.2 275.0h0M214.5 277.0h0M221.7 278.9h0M228.9 280.8h0M236.1 282.7h0M243.3 284.7h0M250.5 286.6h0M257.7 288.5h0M264.9 290.5h0M272.1 292.4h0M279.4 294.3h0M286.6 296.3h0M293.8 298.2h0M301.0 300.1h0M308.2 302.1h0M315.4 304.0h0M322.6 305.9h0M329.8 307.9h0M337.0 309.8h0M344.3 311.7h0M120.5 252.5h0M127.5 255.0h0M134.5 257.6h0M141.6 260.1h0M148.6 262.7h0M155.6 265.2h0M162.6 267.8h0M169.6 270.3h0M176.6 272.9h0M183.7 275.4h0M190.7 278.0h0M197.7 280.5h0M204.7 283.1h0M211.7 285.6h0M218.7 288.2h0M225.7 290.8h0M232.8 293.3h0M239.8 295.9h0M246.8 298.4h0M253.8 301.0h0M260.8 303.5h0M267.8 306.1h0M274.8 308.6h0M281.9 311.2h0M288.9 313.7h0M295.9 316.3h0M302.9 318.8h0M309.9 321.4h0M316.9 323.9h0M324.0 326.5h0M331.0 329.1h0M338.0 331.6h0M345.0 334.2h0M120.3 253.1h0M127.0 256.2h0M133.8 259.4h0M140.6 262.5h0M147.3 265.7h0M154.1 268.8h0M160.9 272.0h0M167.6 275.1h0M174.4 278.3h0M181.2 281.4h0M187.9 284.6h0M194.7 287.8h0M201.5 290.9h0M208.2 294.1h0M215.0 297.2h0M221.8 300.4h0M228.5 303.5h0M235.3 306.7h0M242.1 309.8h0M248.8 313.0h0M255.6 316.2h0M262.3 319.3h0M269.1 322.5h0M275.9 325.6h0M282.6 328.8h0M289.4 331.9h0M296.2 335.1h0M302.9 338.2h0M309.7 341.4h0M316.5 344.5h0M323.2 347.7h0M343.5 357.2h0M120.0 253.6h0M126.4 257.4h0M132.9 261.1h0M139.4 264.8h0M145.8 268.6h0M152.3 272.3h0M158.8 276.0h0M165.2 279.8h0M171.7 283.5h0M178.2 287.2h0M184.6 291.0h0M191.1 294.7h0M197.5 298.4h0M204.0 302.2h0M210.5 305.9h0M216.9 309.6h0M223.4 313.4h0M229.9 317.1h0M236.3 320.8h0M242.8 324.6h0M249.3 328.3h0M255.7 332.0h0M262.2 335.8h0M268.7 339.5h0M275.1 343.2h0M281.6 346.9h0M288.1 350.7h0M294.5 354.4h0M301.0 358.1h0M307.5 361.9h0M313.9 365.6h0M320.4 369.3h0M326.9 373.1h0M333.3 376.8h0M346.2 384.3h0M119.6 254.2h0M125.7 258.5h0M131.8 262.7h0M138.0 267.0h0M144.1 271.3h0M150.2 275.6h0M156.3 279.9h0M162.4 284.2h0M168.5 288.4h0M174.7 292.7h0M180.8 297.0h0M186.9 301.3h0M193.0 305.6h0M199.1 309.8h0M205.2 314.1h0M211.3 318.4h0M217.5 322.7h0M223.6 327.0h0M229.7 331.3h0M235.8 335.5h0M241.9 339.8h0M248.0 344.1h0M254.2 348.4h0M260.3 352.7h0M266.4 356.9h0M272.5 361.2h0M278.6 365.5h0M284.7 369.8h0M290.8 374.1h0M297.0 378.4h0M309.2 386.9h0M315.3 391.2h0M327.5 399.8h0M333.6 404.0h0M339.8 408.3h0M345.9 412.6h0M119.2 254.7h0M124.9 259.5h0M130.7 264.3h0M136.4 269.1h0M142.1 273.9h0M147.8 278.7h0M153.5 283.5h0M159.3 288.3h0M165.0 293.1h0M170.7 297.9h0M176.4 302.7h0M182.1 307.5h0M187.8 312.3h0M193.6 317.1h0M199.3 321.9h0M205.0 326.7h0M210.7 331.5h0M216.4 336.3h0M222.2 341.1h0M227.9 345.9h0M233.6 350.7h0M239.3 355.5h0M245.0 360.3h0M250.8 365.1h0M256.5 369.9h0M262.2 374.7h0M267.9 379.5h0M273.6 384.3h0M279.3 389.1h0M285.1 393.9h0M290.8 398.7h0M296.5 403.5h0M302.2 408.3h0M307.9 413.1h0M325.1 427.4h0M118.8 255.2h0M124.1 260.5h0M129.3 265.7h0M134.6 271.0h0M139.9 276.3h0M145.2 281.6h0M150.5 286.9h0M155.7 292.1h0M161.0 297.4h0M166.3 302.7h0M171.6 308.0h0M176.8 313.2h0M182.1 318.5h0M187.4 323.8h0M192.7 329.1h0M198.0 334.4h0M203.2 339.6h0M208.5 344.9h0M213.8 350.2h0M219.1 355.5h0M224.4 360.8h0M229.6 366.0h0M234.9 371.3h0M240.2 376.6h0M245.5 381.9h0M250.7 387.1h0M256.0 392.4h0M261.3 397.7h0M266.6 403.0h0M271.9 408.3h0M277.1 413.5h0M287.7 424.1h0M118.3 255.6h0M123.1 261.3h0M127.9 267.1h0M132.7 272.8h0M137.5 278.5h0M142.3 284.2h0M147.1 289.9h0M151.9 295.7h0M156.7 301.4h0M161.5 307.1h0M166.3 312.8h0M171.1 318.5h0M175.9 324.2h0M180.7 330.0h0M185.5 335.7h0M190.3 341.4h0M195.1 347.1h0M199.9 352.8h0M204.7 358.6h0M209.5 364.3h0M214.3 370.0h0M219.1 375.7h0M223.9 381.4h0M228.7 387.2h0M233.5 392.9h0M238.3 398.6h0M243.1 404.3h0M247.9 410.0h0M252.7 415.7h0M257.5 421.5h0M262.3 427.2h0M117.8 256.0h0M122.1 262.1h0M126.3 268.2h0M130.6 274.4h0M134.9 280.5h0M139.2 286.6h0M143.5 292.7h0M147.8 298.8h0M152.0 304.9h0M156.3 311.1h0M160.6 317.2h0M164.9 323.3h0M169.2 329.4h0M173.4 335.5h0M177.7 341.6h0M182.0 347.7h0M186.3 353.9h0M190.6 360.0h0M194.9 366.1h0M199.1 372.2h0M203.4 378.3h0M207.7 384.4h0M212.0 390.6h0M216.3 396.7h0M220.5 402.8h0M224.8 408.9h0M229.1 415.0h0M233.4 421.1h0M237.7 427.2h0M117.2 256.4h0M121.0 262.8h0M124.7 269.3h0M128.4 275.8h0M132.2 282.2h0M135.9 288.7h0M139.6 295.2h0M143.4 301.6h0M147.1 308.1h0M150.8 314.6h0M154.6 321.0h0M158.3 327.5h0M162.0 333.9h0M165.8 340.4h0M169.5 346.9h0M173.2 353.3h0M177.0 359.8h0M180.7 366.3h0M184.4 372.7h0M188.2 379.2h0M191.9 385.7h0M195.6 392.1h0M199.4 398.6h0M203.1 405.1h0M206.8 411.5h0M210.5 418.0h0M214.3 424.5h0M116.7 256.7h0M119.8 263.4h0M123.0 270.2h0M126.1 277.0h0M129.3 283.7h0M132.4 290.5h0M135.6 297.3h0M138.7 304.0h0M141.9 310.8h0M145.0 317.6h0M148.2 324.3h0M151.4 331.1h0M154.5 337.9h0M157.7 344.6h0M160.8 351.4h0M164.0 358.2h0M167.1 364.9h0M170.3 371.7h0M173.4 378.5h0M176.6 385.2h0M179.8 392.0h0M182.9 398.7h0M186.1 405.5h0M189.2 412.3h0M192.4 419.0h0M195.5 425.8h0M116.1 256.9h0M118.6 263.9h0M121.2 270.9h0M123.7 278.0h0M126.3 285.0h0M128.8 292.0h0M131.4 299.0h0M133.9 306.0h0M136.5 313.0h0M139.0 320.1h0M141.6 327.1h0M144.1 334.1h0M146.7 341.1h0M149.2 348.1h0M151.8 355.1h0M154.4 362.1h0M156.9 369.2h0M159.5 376.2h0M162.0 383.2h0M164.6 390.2h0M167.1 397.2h0M169.7 404.2h0M172.2 411.2h0M174.8 418.3h0M177.3 425.3h0M115.4 257.1h0M117.4 264.3h0M119.3 271.5h0M121.2 278.7h0M123.2 286.0h0M125.1 293.2h0M127.0 300.4h0M129.0 307.6h0M130.9 314.8h0M132.8 322.0h0M134.8 329.2h0M136.7 336.4h0M138.6 343.6h0M140.6 350.9h0M142.5 358.1h0M144.4 365.3h0M146.3 372.5h0M148.3 379.7h0M150.2 386.9h0M152.1 394.1h0M154.1 401.3h0M156.0 408.5h0M157.9 415.8h0M159.9 423.0h0M114.8 257.3h0M116.1 264.6h0M117.4 272.0h0M118.7 279.3h0M120.0 286.7h0M121.3 294.0h0M122.6 301.4h0M123.9 308.7h0M125.2 316.1h0M126.5 323.4h0M127.8 330.8h0M129.1 338.1h0M130.4 345.5h0M131.6 352.8h0M132.9 360.2h0M134.2 367.5h0M135.5 374.9h0M136.8 382.2h0M138.1 389.6h0M139.4 396.9h0M140.7 404.3h0M142.0 411.6h0M143.3 419.0h0M144.6 426.3h0M114.2 257.3h0M114.8 264.8h0M115.5 272.2h0M116.1 279.6h0M116.8 287.1h0M117.4 294.5h0M118.1 302.0h0M118.7 309.4h0M119.4 316.8h0M120.0 324.3h0M120.7 331.7h0M121.3 339.1h0M122.0 346.6h0M122.6 354.0h0M123.3 361.5h0M123.9 368.9h0M124.6 376.3h0M125.2 383.8h0M125.9 391.2h0M126.5 398.6h0M127.2 406.1h0M127.8 413.5h0M128.5 420.9h0M129.1 428.4h0M113.5 257.4h0M113.5 264.8h0M113.5 272.3h0M113.5 279.8h0M113.5 287.2h0M113.5 294.7h0M113.5 302.2h0M113.5 309.6h0M113.5 317.1h0M113.5 324.6h0M113.5 332.0h0M113.5 339.5h0M113.5 346.9h0M113.5 354.4h0M113.5 361.9h0M113.5 369.3h0M113.5 376.8h0M113.5 384.3h0M113.5 391.7h0M113.5 399.2h0M113.5 406.7h0M113.5 414.1h0M113.5 421.6h0M113.5 429.1h0M112.8 257.3h0M112.2 264.8h0M111.5 272.2h0M110.9 279.6h0M110.2 287.1h0M109.6 294.5h0M108.9 302.0h0M108.3 309.4h0M107.6 316.8h0M107.0 324.3h0M106.3 331.7h0M105.7 339.1h0M105.0 346.6h0M104.4 354.0h0M103.7 361.5h0M103.1 368.9h0M102.4 376.3h0M101.8 383.8h0M101.1 391.2h0M100.5 398.6h0M99.8 406.1h0M99.2 413.5h0M98.5 420.9h0M97.9 428.4h0M112.2 257.3h0M110.9 264.6h0M109.6 272.0h0M108.3 279.3h0M107.0 286.7h0M105.7 294.0h0M104.4 301.4h0M103.1 308.7h0M101.8 316.1h0M100.5 323.4h0M99.2 330.8h0M97.9 338.1h0M96.6 345.5h0M95.4 352.8h0M94.1 360.2h0M92.8 367.5h0M91.5 374.9h0M90.2 382.2h0M88.9 389.6h0M87.6 396.9h0M86.3 404.3h0M85.0 411.6h0M83.7 419.0h0M82.4 426.3h0" stroke="#0f0" stroke-width="2.8" stroke-linecap="round" fill="none"/><path d="M77.3 274.8h0M84.7 276.1h0M92.0 277.4h0M99.4 278.7h0M106.7 280.0h0M114.1 281.3h0M121.4 282.6h0M128.8 283.9h0M136.1 285.2h0M143.5 286.5h0M150.8 287.8h0M158.2 289.1h0M165.5 290.3h0M172.9 291.6h0M180.2 292.9h0M187.6 294.2h0M194.9 295.5h0M202.3 296.8h0M209.6 298.1h0M77.0 276.1h0M84.2 278.0h0M91.4 279.9h0M98.7 281.9h0M105.9 283.8h0M113.1 285.7h0M120.3 287.7h0M127.5 289.6h0M134.7 291.5h0M141.9 293.5h0M149.1 295.4h0M156.3 297.3h0M163.6 299.3h0M170.8 301.2h0M178.0 303.1h0M185.2 305.0h0M192.4 307.0h0M199.6 308.9h0M206.8 310.8h0M76.6 277.3h0M83.6 279.9h0M90.7 282.4h0M97.7 285.0h0M104.7 287.5h0M111.7 290.1h0M118.7 292.6h0M125.7 295.2h0M132.8 297.7h0M139.8 300.3h0M146.8 302.8h0M153.8 305.4h0M160.8 307.9h0M167.8 310.5h0M174.8 313.1h0M181.9 315.6h0M188.9 318.2h0M195.9 320.7h0M202.9 323.3h0M76.1 278.5h0M82.9 281.7h0M89.7 284.8h0M96.4 288.0h0M103.2 291.1h0M110.0 294.3h0M116.7 297.4h0M123.5 300.6h0M130.3 303.7h0M137.0 306.9h0M143.8 310.1h0M150.6 313.2h0M157.3 316.4h0M164.1 319.5h0M170.9 322.7h0M177.6 325.8h0M184.4 329.0h0M191.2 332.1h0M197.9 335.3h0M75.5 279.7h0M82.0 283.4h0M88.5 287.1h0M94.9 290.9h0M101.4 294.6h0M107.9 298.3h0M114.3 302.1h0M120.8 305.8h0M127.3 309.5h0M133.7 313.3h0M140.2 317.0h0M146.6 320.7h0M153.1 324.5h0M159.6 328.2h0M166.0 331.9h0M172.5 335.7h0M179.0 339.4h0M185.4 343.1h0M191.9 346.9h0M74.8 280.8h0M80.9 285.0h0M87.1 289.3h0M93.2 293.6h0M99.3 297.9h0M105.4 302.2h0M111.5 306.5h0M117.6 310.7h0M123.8 315.0h0M129.9 319.3h0M136.0 323.6h0M142.1 327.9h0M148.2 332.1h0M154.3 336.4h0M160.4 340.7h0M166.6 345.0h0M172.7 349.3h0M178.8 353.6h0M184.9 357.8h0M74.0 281.8h0M79.8 286.6h0M85.5 291.4h0M91.2 296.2h0M96.9 301.0h0M102.6 305.8h0M108.4 310.6h0M114.1 315.4h0M119.8 320.2h0M125.5 325.0h0M131.2 329.8h0M136.9 334.6h0M142.7 339.4h0M148.4 344.2h0M154.1 349.0h0M159.8 353.8h0M165.5 358.6h0M171.3 363.4h0M177.0 368.2h0M73.2 282.8h0M78.4 288.0h0M83.7 293.3h0M89.0 298.6h0M94.3 303.9h0M99.6 309.2h0M104.8 314.4h0M110.1 319.7h0M115.4 325.0h0M120.7 330.3h0M125.9 335.5h0M131.2 340.8h0M136.5 346.1h0M141.8 351.4h0M147.1 356.7h0M152.3 361.9h0M157.6 367.2h0M162.9 372.5h0M168.2 377.8h0M72.2 283.6h0M77.0 289.4h0M81.8 295.1h0M86.6 300.8h0M91.4 306.5h0M96.2 312.2h0M101.0 318.0h0M105.8 323.7h0M110.6 329.4h0M115.4 335.1h0M120.2 340.8h0M125.0 346.5h0M129.8 352.3h0M134.6 358.0h0M139.4 363.7h0M144.2 369.4h0M149.0 375.1h0M153.8 380.9h0M158.6 386.6h0M71.2 284.4h0M75.4 290.5h0M79.7 296.7h0M84.0 302.8h0M88.3 308.9h0M92.6 315.0h0M96.9 321.1h0M101.1 327.2h0M105.4 333.4h0M109.7 339.5h0M114.0 345.6h0M118.3 351.7h0M122.5 357.8h0M126.8 363.9h0M131.1 370.0h0M135.4 376.2h0M139.7 382.3h0M144.0 388.4h0M148.2 394.5h0M70.1 285.1h0M73.8 291.6h0M77.5 298.1h0M81.3 304.5h0M85.0 311.0h0M88.7 317.5h0M92.5 323.9h0M96.2 330.4h0M99.9 336.9h0M103.7 343.3h0M107.4 349.8h0M111.1 356.2h0M114.9 362.7h0M118.6 369.2h0M122.3 375.6h0M126.1 382.1h0M129.8 388.6h0M133.5 395.0h0M137.3 401.5h0M68.9 285.7h0M72.1 292.5h0M75.2 299.3h0M78.4 306.0h0M81.5 312.8h0M84.7 319.6h0M87.8 326.3h0M91.0 333.1h0M94.1 339.9h0M97.3 346.6h0M100.5 353.4h0M103.6 360.2h0M106.8 366.9h0M109.9 373.7h0M113.1 380.5h0M116.2 387.2h0M119.4 394.0h0M122.5 400.8h0M125.7 407.5h0M67.7 286.2h0M70.3 293.2h0M72.8 300.3h0M75.4 307.3h0M77.9 314.3h0M80.5 321.3h0M83.0 328.3h0M85.6 335.3h0M88.1 342.4h0M90.7 349.4h0M93.2 356.4h0M95.8 363.4h0M98.3 370.4h0M100.9 377.4h0M103.5 384.4h0M106.0 391.5h0M108.6 398.5h0M111.1 405.5h0M113.7 412.5h0M66.5 286.6h0M68.4 293.8h0M70.3 301.0h0M72.3 308.3h0M74.2 315.5h0M76.1 322.7h0M78.1 329.9h0M80.0 337.1h0M81.9 344.3h0M83.9 351.5h0M85.8 358.7h0M87.7 365.9h0M89.7 373.2h0M91.6 380.4h0M93.5 387.6h0M95.4 394.8h0M97.4 402.0h0M99.3 409.2h0M101.2 416.4h0M65.2 286.9h0M66.5 294.3h0M67.8 301.6h0M69.1 309.0h0M70.4 316.3h0M71.7 323.7h0M73.0 331.0h0M74.3 338.4h0M75.6 345.7h0M76.9 353.1h0M78.2 360.4h0M79.5 367.8h0M80.7 375.1h0M82.0 382.5h0M83.3 389.8h0M84.6 397.2h0M85.9 404.5h0M87.2 411.9h0M88.5 419.2h0M63.9 287.1h0M64.6 294.5h0M65.2 301.9h0M65.9 309.4h0M66.5 316.8h0M67.2 324.3h0M67.8 331.7h0M68.5 339.1h0M69.1 346.6h0M69.8 354.0h0M70.4 361.4h0M71.1 368.9h0M71.7 376.3h0M72.4 383.8h0M73.0 391.2h0M73.7 398.6h0M74.3 406.1h0M75.0 413.5h0M75.6 420.9h0M62.6 287.1h0M62.6 294.6h0M62.6 302.1h0M62.6 309.5h0M62.6 317.0h0M62.6 324.5h0M62.6 331.9h0M62.6 339.4h0M62.6 346.9h0M62.6 354.3h0M62.6 361.8h0M62.6 369.2h0M62.6 376.7h0M62.6 384.2h0M62.6 391.6h0M62.6 399.1h0M62.6 406.6h0M62.6 414.0h0M62.6 421.5h0M61.3 287.1h0M60.6 294.5h0M60.0 301.9h0M59.3 309.4h0M58.7 316.8h0M58.0 324.3h0M57.4 331.7h0M56.7 339.1h0M56.1 346.6h0M55.4 354.0h0M54.8 361.4h0M54.1 368.9h0M53.5 376.3h0M52.8 383.8h0M52.2 391.2h0M51.5 398.6h0M50.9 406.1h0M50.2 413.5h0M49.6 420.9h0M60.0 286.9h0M58.7 294.3h0M57.4 301.6h0M56.1 309.0h0M54.8 316.3h0M53.5 323.7h0M52.2 331.0h0M50.9 338.4h0M49.6 345.7h0M48.3 353.1h0M47.0 360.4h0M45.7 367.8h0M44.5 375.1h0M43.2 382.5h0M41.9 389.8h0M40.6 397.2h0M39.3 404.5h0M38.0 411.9h0M36.7 419.2h0M58.7 286.6h0M56.8 293.8h0M54.9 301.0h0M52.9 308.3h0M51.0 315.5h0M49.1 322.7h0M47.1 329.9h0M45.2 337.1h0M43.3 344.3h0M41.3 351.5h0M39.4 358.7h0M37.5 365.9h0M35.5 373.2h0M33.6 380.4h0M31.7 387.6h0M29.8 394.8h0M27.8 402.0h0M25.9 409.2h0M24.0 416.4h0M57.5 286.2h0M54.9 293.2h0M52.4 300.3h0M49.8 307.3h0M47.3 314.3h0M44.7 321.3h0M42.2 328.3h0M39.6 335.3h0M37.1 342.4h0M34.5 349.4h0M32.0 356.4h0M29.4 363.4h0M26.9 370.4h0M24.3 377.4h0M21.7 384.4h0M19.2 391.5h0M16.6 398.5h0M14.1 405.5h0M11.5 412.5h0M56.3 285.7h0M53.1 292.5h0M50.0 299.3h0M46.8 306.0h0M43.7 312.8h0M40.5 319.6h0M37.4 326.3h0M34.2 333.1h0M31.1 339.9h0M27.9 346.6h0M24.7 353.4h0M21.6 360.2h0M18.4 366.9h0M15.3 373.7h0M12.1 380.5h0M9.0 387.2h0M5.8 394.0h0M2.7 400.8h0M55.1 285.1h0M51.4 291.6h0M47.7 298.1h0M43.9 304.5h0M40.2 311.0h0M36.5 317.5h0M32.7 323.9h0M29.0 330.4h0M25.3 336.9h0M21.5 343.3h0M17.8 349.8h0M14.1 356.2h0M10.3 362.7h0M6.6 369.2h0M2.9 375.6h0M54.0 284.4h0M49.8 290.5h0M45.5 296.7h0M41.2 302.8h0M36.9 308.9h0M32.6 315.0h0M28.3 321.1h0M24.1 327.2h0M19.8 333.4h0M15.5 339.5h0M11.2 345.6h0M6.9 351.7h0M2.7 357.8h0" stroke="#000" stroke-width="2.8" stroke-linecap="round" fill="none"/>
</g>
<use href="#frame"/>

</g>
<use href="#star" x="141.7" y="787.2"/><use href="#star" x="179.4" y="899.4"/><use href="#star" x="188.4" y="992.2"/><use href="#star" x="137.5" y="1014.5"/>
<text x="67.4" y="749.5" text-anchor="end" style="font-size:20px">37°N</text>
<text x="67.4" y="820.2" text-anchor="end" style="font-size:15.5px">30'</text>
<text x="67.4" y="893.6" text-anchor="end" style="font-size:20px">36°N</text>
<text x="67.4" y="963.4" text-anchor="end" style="font-size:15.5px">30'</text>
<text x="67.4" y="1036.0" text-anchor="end" style="font-size:20px">35°N</text>
<text x="67.4" y="1104.9" text-anchor="end" style="font-size:15.5px">30'</text>
<text x="67.4" y="1176.6" text-anchor="end" style="font-size:20px">34°N</text>
<text x="74.4" y="1187.1" text-anchor="middle" style="font-size:15.5px">30'</text>
<text x="135.4" y="1190.5" text-anchor="middle" style="font-size:20px">76°W</text>
<text x="190.4" y="1187.1" text-anchor="middle" style="font-size:15.5px">30'</text>
<text x="251.4" y="1190.5" text-anchor="middle" style="font-size:20px">75°W</text>
<text x="306.4" y="1187.1" text-anchor="middle" style="font-size:15.5px">30'</text>
<text x="367.4" y="1190.5" text-anchor="middle" style="font-size:20px">74°W</text>
<text x="422.4" y="1187.1" text-anchor="middle" style="font-size:15.5px">30'</text>
<text x="248.9" y="729.5" text-anchor="middle" style="font-size:24.7px;font-weight:bold">Radial Grid</text><text x="388.5" y="780.1" text-anchor="middle" style="font-size:20px">10 km</text><line x1="382.9" y1="785.6" x2="395.9" y2="785.6" stroke="#000" stroke-width="3.6" stroke-linecap="round"/>
<g transform="translate(458.30,742.30)">
<g clip-path="url(#clip)">
<use href="#land"/><use href="#grid"/>
<g shape-rendering="crispEdges"><path fill="#0000d7" d="M68.0 0.0h7.9v6.7h-7.9zM114.0 0.0h7.9v6.7h-7.9zM98.6 6.4h7.9v8.1h-7.9zM75.7 14.2h7.9v8.1h-7.9zM106.3 14.2h7.9v8.1h-7.9zM114.0 29.9h7.9v8.1h-7.9zM91.0 45.6h7.9v8.1h-7.9zM83.3 84.6h15.6v8.0h-15.6zM91.0 92.4h7.9v8.0h-7.9zM106.3 92.4h7.9v8.0h-7.9zM114.0 115.7h7.9v8.0h-7.9zM106.3 139.0h7.9v8.0h-7.9zM182.8 146.7h7.9v8.0h-7.9zM343.6 169.9h4.7v8.0h-4.7zM320.6 177.7h7.9v8.0h-7.9zM313.0 185.4h7.9v8.0h-7.9zM335.9 223.9h7.9v7.9h-7.9zM297.7 231.6h7.9v7.9h-7.9zM297.7 239.3h7.9v7.9h-7.9zM129.3 285.3h15.6v7.9h-15.6zM305.3 285.3h7.9v7.9h-7.9zM305.3 293.0h7.9v7.9h-7.9zM297.7 300.6h7.9v7.9h-7.9zM320.6 300.6h7.9v7.9h-7.9zM129.3 315.9h7.9v7.9h-7.9zM305.3 315.9h7.9v7.9h-7.9zM98.6 331.1h7.9v7.9h-7.9zM251.7 331.1h7.9v7.9h-7.9zM221.1 338.8h7.9v7.9h-7.9zM274.7 346.4h23.2v7.9h-23.2zM251.7 354.0h7.9v7.9h-7.9zM297.7 354.0h15.6v7.9h-15.6zM259.4 361.6h7.9v7.9h-7.9zM259.4 376.8h7.9v7.8h-7.9zM205.8 384.4h7.9v7.8h-7.9zM251.7 384.4h7.9v7.8h-7.9zM221.1 392.0h7.9v7.8h-7.9z"/><path fill="#0000e7" d="M75.7 0.0h7.9v6.7h-7.9zM106.3 0.0h7.9v6.7h-7.9zM75.7 6.4h7.9v8.1h-7.9zM121.6 6.4h7.9v8.1h-7.9zM98.6 14.2h7.9v8.1h-7.9zM136.9 14.2h7.9v8.1h-7.9zM75.7 22.1h7.9v8.1h-7.9zM75.7 29.9h7.9v8.1h-7.9zM98.6 29.9h7.9v8.1h-7.9zM83.3 45.6h7.9v8.1h-7.9zM91.0 61.2h7.9v8.1h-7.9zM83.3 69.0h7.9v8.0h-7.9zM83.3 76.8h7.9v8.0h-7.9zM114.0 107.9h7.9v8.0h-7.9zM114.0 131.2h7.9v8.0h-7.9zM114.0 139.0h7.9v8.0h-7.9zM182.8 154.5h15.6v8.0h-15.6zM328.3 154.5h7.9v8.0h-7.9zM205.8 162.2h7.9v8.0h-7.9zM205.8 169.9h7.9v8.0h-7.9zM328.3 169.9h7.9v8.0h-7.9zM305.3 185.4h7.9v8.0h-7.9zM320.6 208.5h7.9v8.0h-7.9zM335.9 216.2h7.9v7.9h-7.9zM305.3 223.9h7.9v7.9h-7.9zM313.0 231.6h15.6v7.9h-15.6zM313.0 247.0h7.9v7.9h-7.9zM305.3 262.3h7.9v7.9h-7.9zM129.3 277.7h7.9v7.9h-7.9zM297.7 277.7h15.6v7.9h-15.6zM320.6 277.7h7.9v7.9h-7.9zM297.7 285.3h7.9v7.9h-7.9zM129.3 293.0h7.9v7.9h-7.9zM136.9 300.6h7.9v7.9h-7.9zM313.0 300.6h7.9v7.9h-7.9zM144.6 308.2h7.9v7.9h-7.9zM313.0 308.2h7.9v7.9h-7.9zM328.3 308.2h7.9v7.9h-7.9zM267.0 315.9h15.6v7.9h-15.6zM328.3 315.9h7.9v7.9h-7.9zM221.1 323.5h7.9v7.9h-7.9zM259.4 323.5h7.9v7.9h-7.9zM236.4 331.1h7.9v7.9h-7.9zM313.0 331.1h15.6v7.9h-15.6zM244.1 338.8h15.6v7.9h-15.6zM267.0 354.0h15.6v7.9h-15.6zM290.0 354.0h7.9v7.9h-7.9zM251.7 361.6h7.9v7.9h-7.9zM267.0 361.6h15.6v7.9h-15.6zM282.3 369.2h7.9v7.8h-7.9zM213.5 376.8h7.9v7.8h-7.9zM236.4 376.8h7.9v7.8h-7.9zM267.0 376.8h7.9v7.8h-7.9zM244.1 384.4h7.9v7.8h-7.9zM259.4 384.4h7.9v7.8h-7.9zM236.4 392.0h23.2v7.8h-23.2z"/><path fill="#0000b7" d="M83.3 0.0h15.6v6.7h-15.6zM83.3 6.4h7.9v8.1h-7.9zM83.3 22.1h7.9v8.1h-7.9zM121.6 22.1h7.9v8.1h-7.9zM83.3 53.4h7.9v8.1h-7.9zM343.6 185.4h4.7v8.0h-4.7zM320.6 193.1h15.6v8.0h-15.6zM320.6 200.8h7.9v8.0h-7.9zM136.9 293.0h7.9v7.9h-7.9zM313.0 315.9h7.9v7.9h-7.9zM244.1 323.5h7.9v7.9h-7.9zM320.6 323.5h7.9v7.9h-7.9zM236.4 338.8h7.9v7.9h-7.9zM282.3 354.0h7.9v7.9h-7.9zM259.4 369.2h7.9v7.8h-7.9z"/><path fill="#0000f7" d="M98.6 0.0h7.9v6.7h-7.9zM91.0 6.4h7.9v8.1h-7.9zM152.2 6.4h7.9v8.1h-7.9zM91.0 22.1h7.9v8.1h-7.9zM83.3 29.9h7.9v8.1h-7.9zM106.3 29.9h7.9v8.1h-7.9zM98.6 37.7h15.6v8.1h-15.6zM83.3 61.2h7.9v8.1h-7.9zM91.0 69.0h7.9v8.0h-7.9zM98.6 84.6h7.9v8.0h-7.9zM121.6 131.2h7.9v8.0h-7.9zM175.2 154.5h7.9v8.0h-7.9zM328.3 162.2h20.0v8.0h-20.0zM190.5 169.9h15.6v8.0h-15.6zM305.3 169.9h7.9v8.0h-7.9zM198.2 177.7h7.9v8.0h-7.9zM313.0 193.1h7.9v8.0h-7.9zM305.3 208.5h7.9v8.0h-7.9zM313.0 216.2h7.9v7.9h-7.9zM328.3 216.2h7.9v7.9h-7.9zM320.6 223.9h7.9v7.9h-7.9zM343.6 223.9h4.7v7.9h-4.7zM305.3 231.6h7.9v7.9h-7.9zM328.3 231.6h7.9v7.9h-7.9zM305.3 239.3h15.6v7.9h-15.6zM320.6 247.0h7.9v7.9h-7.9zM305.3 254.7h7.9v7.9h-7.9zM320.6 285.3h7.9v7.9h-7.9zM144.6 293.0h7.9v7.9h-7.9zM259.4 293.0h7.9v7.9h-7.9zM313.0 293.0h7.9v7.9h-7.9zM221.1 300.6h7.9v7.9h-7.9zM305.3 300.6h7.9v7.9h-7.9zM328.3 300.6h7.9v7.9h-7.9zM343.6 300.6h4.7v7.9h-4.7zM106.3 308.2h7.9v7.9h-7.9zM121.6 308.2h23.2v7.9h-23.2zM267.0 308.2h7.9v7.9h-7.9zM290.0 308.2h15.6v7.9h-15.6zM106.3 315.9h15.6v7.9h-15.6zM136.9 315.9h7.9v7.9h-7.9zM290.0 315.9h7.9v7.9h-7.9zM320.6 315.9h7.9v7.9h-7.9zM98.6 323.5h7.9v7.9h-7.9zM267.0 323.5h7.9v7.9h-7.9zM282.3 323.5h7.9v7.9h-7.9zM259.4 331.1h7.9v7.9h-7.9zM305.3 331.1h7.9v7.9h-7.9zM98.6 338.8h7.9v7.9h-7.9zM228.8 338.8h7.9v7.9h-7.9zM267.0 346.4h7.9v7.9h-7.9zM305.3 346.4h7.9v7.9h-7.9zM267.0 369.2h15.6v7.8h-15.6zM244.1 376.8h7.9v7.8h-7.9zM213.5 384.4h7.9v7.8h-7.9zM205.8 392.0h7.9v7.8h-7.9z"/><path fill="#0000c7" d="M121.6 0.0h7.9v6.7h-7.9zM114.0 6.4h7.9v8.1h-7.9zM129.3 14.2h7.9v8.1h-7.9zM98.6 22.1h15.6v8.1h-15.6zM91.0 29.9h7.9v8.1h-7.9zM83.3 37.7h7.9v8.1h-7.9zM106.3 123.5h15.6v8.0h-15.6zM320.6 169.9h7.9v8.0h-7.9zM335.9 169.9h7.9v8.0h-7.9zM328.3 185.4h7.9v8.0h-7.9zM343.6 193.1h4.7v8.0h-4.7zM313.0 208.5h7.9v8.0h-7.9zM328.3 208.5h7.9v8.0h-7.9zM320.6 239.3h7.9v7.9h-7.9zM305.3 247.0h7.9v7.9h-7.9zM313.0 285.3h7.9v7.9h-7.9zM244.1 315.9h7.9v7.9h-7.9zM305.3 323.5h15.6v7.9h-15.6zM228.8 331.1h7.9v7.9h-7.9zM267.0 338.8h7.9v7.9h-7.9zM297.7 338.8h7.9v7.9h-7.9zM320.6 338.8h7.9v7.9h-7.9zM251.7 346.4h7.9v7.9h-7.9zM251.7 369.2h7.9v7.8h-7.9zM205.8 376.8h7.9v7.8h-7.9zM236.4 384.4h7.9v7.8h-7.9zM236.4 399.5h7.9v7.8h-7.9z"/><path fill="#0048ff" d="M129.3 0.0h15.6v6.7h-15.6zM205.8 14.2h7.9v8.1h-7.9zM221.1 14.2h7.9v8.1h-7.9zM182.8 22.1h7.9v8.1h-7.9zM205.8 22.1h7.9v8.1h-7.9zM114.0 37.7h7.9v8.1h-7.9zM297.7 45.6h7.9v8.1h-7.9zM313.0 53.4h7.9v8.1h-7.9zM343.6 53.4h4.7v8.1h-4.7zM297.7 61.2h15.6v8.1h-15.6zM343.6 84.6h4.7v8.0h-4.7zM136.9 123.5h7.9v8.0h-7.9zM175.2 131.2h7.9v8.0h-7.9zM282.3 131.2h7.9v8.0h-7.9zM297.7 131.2h15.6v8.0h-15.6zM328.3 131.2h7.9v8.0h-7.9zM129.3 139.0h7.9v8.0h-7.9zM198.2 139.0h7.9v8.0h-7.9zM313.0 139.0h7.9v8.0h-7.9zM313.0 146.7h7.9v8.0h-7.9zM335.9 146.7h7.9v8.0h-7.9zM129.3 154.5h7.9v8.0h-7.9zM282.3 154.5h7.9v8.0h-7.9zM313.0 154.5h7.9v8.0h-7.9zM152.2 162.2h7.9v8.0h-7.9zM129.3 177.7h7.9v8.0h-7.9zM167.5 177.7h7.9v8.0h-7.9zM290.0 177.7h15.6v8.0h-15.6zM129.3 185.4h7.9v8.0h-7.9zM167.5 185.4h15.6v8.0h-15.6zM167.5 193.1h7.9v8.0h-7.9zM282.3 193.1h7.9v8.0h-7.9zM144.6 200.8h15.6v8.0h-15.6zM282.3 208.5h7.9v8.0h-7.9zM213.5 216.2h7.9v7.9h-7.9zM213.5 231.6h7.9v7.9h-7.9zM274.7 231.6h7.9v7.9h-7.9zM290.0 231.6h7.9v7.9h-7.9zM228.8 239.3h7.9v7.9h-7.9zM236.4 247.0h7.9v7.9h-7.9zM267.0 247.0h7.9v7.9h-7.9zM282.3 247.0h7.9v7.9h-7.9zM228.8 254.7h7.9v7.9h-7.9zM259.4 254.7h7.9v7.9h-7.9zM198.2 262.3h7.9v7.9h-7.9zM320.6 262.3h15.6v7.9h-15.6zM343.6 270.0h4.7v7.9h-4.7zM121.6 277.7h7.9v7.9h-7.9zM213.5 277.7h7.9v7.9h-7.9zM228.8 277.7h7.9v7.9h-7.9zM244.1 277.7h7.9v7.9h-7.9zM259.4 277.7h7.9v7.9h-7.9zM114.0 285.3h7.9v7.9h-7.9zM259.4 285.3h7.9v7.9h-7.9zM343.6 285.3h4.7v7.9h-4.7zM182.8 293.0h15.6v7.9h-15.6zM213.5 293.0h7.9v7.9h-7.9zM251.7 293.0h7.9v7.9h-7.9zM290.0 293.0h7.9v7.9h-7.9zM198.2 315.9h7.9v7.9h-7.9zM98.6 346.4h7.9v7.9h-7.9zM106.3 384.4h7.9v7.8h-7.9z"/><path fill="#0008ff" d="M144.6 0.0h7.9v6.7h-7.9zM106.3 6.4h7.9v8.1h-7.9zM136.9 6.4h7.9v8.1h-7.9zM190.5 6.4h7.9v8.1h-7.9zM144.6 14.2h7.9v8.1h-7.9zM129.3 22.1h7.9v8.1h-7.9zM91.0 37.7h7.9v8.1h-7.9zM91.0 53.4h7.9v8.1h-7.9zM98.6 61.2h7.9v8.1h-7.9zM343.6 61.2h4.7v8.1h-4.7zM106.3 100.1h7.9v8.0h-7.9zM98.6 107.9h15.6v8.0h-15.6zM121.6 107.9h7.9v8.0h-7.9zM98.6 115.7h15.6v8.0h-15.6zM121.6 115.7h7.9v8.0h-7.9zM343.6 123.5h4.7v8.0h-4.7zM343.6 131.2h4.7v8.0h-4.7zM106.3 146.7h15.6v8.0h-15.6zM198.2 146.7h15.6v8.0h-15.6zM198.2 154.5h7.9v8.0h-7.9zM335.9 154.5h7.9v8.0h-7.9zM136.9 162.2h7.9v8.0h-7.9zM198.2 162.2h7.9v8.0h-7.9zM313.0 162.2h15.6v8.0h-15.6zM136.9 177.7h7.9v8.0h-7.9zM175.2 177.7h7.9v8.0h-7.9zM190.5 177.7h7.9v8.0h-7.9zM205.8 177.7h7.9v8.0h-7.9zM136.9 185.4h15.6v8.0h-15.6zM297.7 185.4h7.9v8.0h-7.9zM144.6 193.1h7.9v8.0h-7.9zM297.7 193.1h7.9v8.0h-7.9zM305.3 200.8h15.6v8.0h-15.6zM335.9 208.5h7.9v8.0h-7.9zM305.3 216.2h7.9v7.9h-7.9zM274.7 223.9h15.6v7.9h-15.6zM328.3 223.9h7.9v7.9h-7.9zM282.3 239.3h7.9v7.9h-7.9zM328.3 239.3h7.9v7.9h-7.9zM313.0 254.7h15.6v7.9h-15.6zM297.7 262.3h7.9v7.9h-7.9zM198.2 270.0h7.9v7.9h-7.9zM297.7 270.0h23.2v7.9h-23.2zM328.3 270.0h7.9v7.9h-7.9zM313.0 277.7h7.9v7.9h-7.9zM328.3 277.7h7.9v7.9h-7.9zM121.6 285.3h7.9v7.9h-7.9zM251.7 285.3h7.9v7.9h-7.9zM297.7 293.0h7.9v7.9h-7.9zM144.6 300.6h7.9v7.9h-7.9zM251.7 300.6h23.2v7.9h-23.2zM221.1 308.2h7.9v7.9h-7.9zM274.7 308.2h7.9v7.9h-7.9zM305.3 308.2h7.9v7.9h-7.9zM335.9 308.2h7.9v7.9h-7.9zM121.6 315.9h7.9v7.9h-7.9zM221.1 315.9h7.9v7.9h-7.9zM251.7 315.9h7.9v7.9h-7.9zM297.7 315.9h7.9v7.9h-7.9zM213.5 323.5h7.9v7.9h-7.9zM228.8 323.5h7.9v7.9h-7.9zM297.7 323.5h7.9v7.9h-7.9zM114.0 331.1h7.9v7.9h-7.9zM221.1 331.1h7.9v7.9h-7.9zM244.1 331.1h7.9v7.9h-7.9zM290.0 331.1h7.9v7.9h-7.9zM259.4 338.8h7.9v7.9h-7.9zM274.7 338.8h15.6v7.9h-15.6zM297.7 346.4h7.9v7.9h-7.9zM290.0 361.6h7.9v7.9h-7.9zM244.1 369.2h7.9v7.8h-7.9zM228.8 376.8h7.9v7.8h-7.9zM221.1 384.4h7.9v7.8h-7.9zM267.0 384.4h7.9v7.8h-7.9zM213.5 392.0h7.9v7.8h-7.9zM244.1 399.5h7.9v7.8h-7.9z"/><path fill="#0018ff" d="M152.2 0.0h7.9v6.7h-7.9zM190.5 0.0h7.9v6.7h-7.9zM190.5 22.1h7.9v8.1h-7.9zM121.6 29.9h7.9v8.1h-7.9zM106.3 45.6h7.9v8.1h-7.9zM305.3 53.4h7.9v8.1h-7.9zM91.0 76.8h7.9v8.0h-7.9zM106.3 84.6h7.9v8.0h-7.9zM121.6 100.1h7.9v8.0h-7.9zM175.2 139.0h7.9v8.0h-7.9zM190.5 146.7h7.9v8.0h-7.9zM328.3 146.7h7.9v8.0h-7.9zM136.9 154.5h7.9v8.0h-7.9zM343.6 154.5h4.7v8.0h-4.7zM144.6 162.2h7.9v8.0h-7.9zM305.3 162.2h7.9v8.0h-7.9zM175.2 169.9h7.9v8.0h-7.9zM182.8 177.7h7.9v8.0h-7.9zM305.3 177.7h15.6v8.0h-15.6zM182.8 185.4h7.9v8.0h-7.9zM136.9 193.1h7.9v8.0h-7.9zM305.3 193.1h7.9v8.0h-7.9zM290.0 208.5h7.9v8.0h-7.9zM343.6 208.5h4.7v8.0h-4.7zM221.1 216.2h7.9v7.9h-7.9zM320.6 216.2h7.9v7.9h-7.9zM343.6 216.2h4.7v7.9h-4.7zM290.0 223.9h15.6v7.9h-15.6zM313.0 223.9h7.9v7.9h-7.9zM228.8 231.6h7.9v7.9h-7.9zM343.6 231.6h4.7v7.9h-4.7zM290.0 247.0h15.6v7.9h-15.6zM274.7 254.7h15.6v7.9h-15.6zM297.7 254.7h7.9v7.9h-7.9zM205.8 262.3h15.6v7.9h-15.6zM313.0 262.3h7.9v7.9h-7.9zM98.6 277.7h7.9v7.9h-7.9zM136.9 277.7h7.9v7.9h-7.9zM335.9 277.7h7.9v7.9h-7.9zM144.6 285.3h7.9v7.9h-7.9zM228.8 285.3h7.9v7.9h-7.9zM121.6 293.0h7.9v7.9h-7.9zM244.1 293.0h7.9v7.9h-7.9zM129.3 300.6h7.9v7.9h-7.9zM335.9 300.6h7.9v7.9h-7.9zM98.6 308.2h7.9v7.9h-7.9zM198.2 308.2h7.9v7.9h-7.9zM228.8 308.2h7.9v7.9h-7.9zM244.1 308.2h7.9v7.9h-7.9zM282.3 308.2h7.9v7.9h-7.9zM320.6 308.2h7.9v7.9h-7.9zM213.5 315.9h7.9v7.9h-7.9zM236.4 315.9h7.9v7.9h-7.9zM106.3 323.5h15.6v7.9h-15.6zM129.3 323.5h7.9v7.9h-7.9zM251.7 323.5h7.9v7.9h-7.9zM274.7 323.5h7.9v7.9h-7.9zM106.3 331.1h7.9v7.9h-7.9zM274.7 331.1h15.6v7.9h-15.6zM290.0 338.8h7.9v7.9h-7.9zM305.3 338.8h15.6v7.9h-15.6zM213.5 346.4h23.2v7.9h-23.2zM244.1 346.4h7.9v7.9h-7.9zM282.3 361.6h7.9v7.9h-7.9zM290.0 369.2h7.9v7.8h-7.9zM228.8 384.4h7.9v7.8h-7.9z"/><path fill="#00c7ff" d="M159.9 0.0h7.9v6.7h-7.9zM175.2 0.0h7.9v6.7h-7.9zM335.9 0.0h7.9v6.7h-7.9zM221.1 37.7h7.9v8.1h-7.9zM313.0 37.7h7.9v8.1h-7.9zM175.2 45.6h7.9v8.1h-7.9zM228.8 53.4h23.2v8.1h-23.2zM121.6 61.2h7.9v8.1h-7.9zM205.8 61.2h7.9v8.1h-7.9zM251.7 61.2h7.9v8.1h-7.9zM121.6 69.0h7.9v8.0h-7.9zM228.8 69.0h7.9v8.0h-7.9zM228.8 76.8h7.9v8.0h-7.9zM328.3 76.8h7.9v8.0h-7.9zM251.7 84.6h7.9v8.0h-7.9zM297.7 84.6h7.9v8.0h-7.9zM175.2 92.4h7.9v8.0h-7.9zM313.0 92.4h7.9v8.0h-7.9zM274.7 100.1h15.6v8.0h-15.6zM297.7 100.1h7.9v8.0h-7.9zM152.2 123.5h7.9v8.0h-7.9zM182.8 123.5h15.6v8.0h-15.6zM313.0 123.5h7.9v8.0h-7.9zM228.8 131.2h7.9v8.0h-7.9zM152.2 139.0h7.9v8.0h-7.9zM228.8 139.0h7.9v8.0h-7.9zM282.3 146.7h7.9v8.0h-7.9zM221.1 162.2h15.6v8.0h-15.6zM251.7 162.2h7.9v8.0h-7.9zM175.2 200.8h7.9v8.0h-7.9zM121.6 208.5h7.9v8.0h-7.9zM152.2 208.5h7.9v8.0h-7.9zM251.7 216.2h7.9v7.9h-7.9zM136.9 247.0h7.9v7.9h-7.9zM343.6 254.7h4.7v7.9h-4.7zM152.2 270.0h7.9v7.9h-7.9zM274.7 285.3h7.9v7.9h-7.9zM159.9 293.0h7.9v7.9h-7.9zM182.8 323.5h7.9v7.9h-7.9zM106.3 346.4h7.9v7.9h-7.9zM228.8 354.0h7.9v7.9h-7.9zM98.6 361.6h7.9v7.9h-7.9zM129.3 361.6h7.9v7.9h-7.9zM91.0 369.2h7.9v7.8h-7.9zM106.3 369.2h7.9v7.8h-7.9z"/><path fill="#c7ff38" d="M167.5 0.0h7.9v6.7h-7.9zM305.3 0.0h7.9v6.7h-7.9zM167.5 14.2h7.9v8.1h-7.9zM282.3 61.2h7.9v8.1h-7.9zM159.9 69.0h7.9v8.0h-7.9zM251.7 154.5h7.9v8.0h-7.9zM198.2 193.1h7.9v8.0h-7.9zM205.8 208.5h7.9v8.0h-7.9zM152.2 254.7h7.9v7.9h-7.9zM190.5 338.8h7.9v7.9h-7.9z"/><path fill="#0058ff" d="M182.8 0.0h7.9v6.7h-7.9zM213.5 0.0h15.6v6.7h-15.6zM228.8 22.1h7.9v8.1h-7.9zM182.8 29.9h7.9v8.1h-7.9zM205.8 29.9h7.9v8.1h-7.9zM205.8 37.7h7.9v8.1h-7.9zM290.0 37.7h7.9v8.1h-7.9zM297.7 53.4h7.9v8.1h-7.9zM313.0 69.0h7.9v8.0h-7.9zM343.6 69.0h4.7v8.0h-4.7zM343.6 76.8h4.7v8.0h-4.7zM129.3 92.4h7.9v8.0h-7.9zM335.9 123.5h7.9v8.0h-7.9zM167.5 131.2h7.9v8.0h-7.9zM290.0 131.2h7.9v8.0h-7.9zM167.5 139.0h7.9v8.0h-7.9zM182.8 139.0h15.6v8.0h-15.6zM328.3 139.0h15.6v8.0h-15.6zM121.6 146.7h7.9v8.0h-7.9zM136.9 146.7h7.9v8.0h-7.9zM159.9 146.7h15.6v8.0h-15.6zM305.3 146.7h7.9v8.0h-7.9zM213.5 162.2h7.9v8.0h-7.9zM267.0 162.2h15.6v8.0h-15.6zM290.0 162.2h15.6v8.0h-15.6zM136.9 169.9h7.9v8.0h-7.9zM182.8 169.9h7.9v8.0h-7.9zM290.0 185.4h7.9v8.0h-7.9zM129.3 193.1h7.9v8.0h-7.9zM129.3 200.8h7.9v8.0h-7.9zM282.3 200.8h15.6v8.0h-15.6zM228.8 208.5h7.9v8.0h-7.9zM267.0 216.2h23.2v7.9h-23.2zM213.5 223.9h7.9v7.9h-7.9zM251.7 223.9h7.9v7.9h-7.9zM267.0 223.9h7.9v7.9h-7.9zM244.1 231.6h7.9v7.9h-7.9zM244.1 239.3h7.9v7.9h-7.9zM221.1 262.3h15.6v7.9h-15.6zM282.3 262.3h7.9v7.9h-7.9zM343.6 262.3h4.7v7.9h-4.7zM144.6 270.0h7.9v7.9h-7.9zM190.5 270.0h7.9v7.9h-7.9zM205.8 270.0h7.9v7.9h-7.9zM228.8 270.0h7.9v7.9h-7.9zM251.7 270.0h7.9v7.9h-7.9zM335.9 270.0h7.9v7.9h-7.9zM106.3 285.3h7.9v7.9h-7.9zM335.9 285.3h7.9v7.9h-7.9zM98.6 293.0h7.9v7.9h-7.9zM228.8 293.0h7.9v7.9h-7.9zM328.3 293.0h7.9v7.9h-7.9zM182.8 300.6h7.9v7.9h-7.9zM190.5 308.2h7.9v7.9h-7.9zM236.4 308.2h7.9v7.9h-7.9zM335.9 315.9h7.9v7.9h-7.9zM114.0 338.8h7.9v7.9h-7.9zM213.5 338.8h7.9v7.9h-7.9zM198.2 354.0h7.9v7.9h-7.9zM244.1 354.0h7.9v7.9h-7.9zM221.1 369.2h7.9v7.8h-7.9z"/><path fill="#0068ff" d="M198.2 0.0h7.9v6.7h-7.9zM236.4 0.0h7.9v6.7h-7.9zM182.8 14.2h7.9v8.1h-7.9zM221.1 22.1h7.9v8.1h-7.9zM152.2 29.9h7.9v8.1h-7.9zM198.2 37.7h7.9v8.1h-7.9zM297.7 37.7h7.9v8.1h-7.9zM335.9 53.4h7.9v8.1h-7.9zM313.0 61.2h7.9v8.1h-7.9zM106.3 76.8h7.9v8.0h-7.9zM114.0 84.6h7.9v8.0h-7.9zM114.0 92.4h15.6v8.0h-15.6zM343.6 100.1h4.7v8.0h-4.7zM129.3 107.9h7.9v8.0h-7.9zM343.6 107.9h4.7v8.0h-4.7zM136.9 115.7h7.9v8.0h-7.9zM274.7 115.7h7.9v8.0h-7.9zM297.7 115.7h7.9v8.0h-7.9zM274.7 123.5h7.9v8.0h-7.9zM290.0 123.5h7.9v8.0h-7.9zM136.9 131.2h7.9v8.0h-7.9zM205.8 139.0h15.6v8.0h-15.6zM297.7 139.0h7.9v8.0h-7.9zM320.6 139.0h7.9v8.0h-7.9zM213.5 146.7h7.9v8.0h-7.9zM297.7 146.7h7.9v8.0h-7.9zM167.5 154.5h7.9v8.0h-7.9zM305.3 154.5h7.9v8.0h-7.9zM129.3 162.2h7.9v8.0h-7.9zM159.9 162.2h7.9v8.0h-7.9zM175.2 162.2h7.9v8.0h-7.9zM159.9 169.9h7.9v8.0h-7.9zM282.3 177.7h7.9v8.0h-7.9zM175.2 193.1h7.9v8.0h-7.9zM121.6 200.8h7.9v8.0h-7.9zM267.0 208.5h7.9v8.0h-7.9zM236.4 223.9h15.6v7.9h-15.6zM251.7 239.3h7.9v7.9h-7.9zM251.7 247.0h7.9v7.9h-7.9zM328.3 247.0h7.9v7.9h-7.9zM244.1 254.7h15.6v7.9h-15.6zM267.0 262.3h7.9v7.9h-7.9zM175.2 270.0h7.9v7.9h-7.9zM282.3 270.0h7.9v7.9h-7.9zM152.2 277.7h7.9v7.9h-7.9zM213.5 285.3h7.9v7.9h-7.9zM267.0 285.3h7.9v7.9h-7.9zM114.0 293.0h7.9v7.9h-7.9zM274.7 293.0h15.6v7.9h-15.6zM244.1 300.6h7.9v7.9h-7.9zM205.8 308.2h7.9v7.9h-7.9zM190.5 315.9h7.9v7.9h-7.9zM198.2 323.5h7.9v7.9h-7.9zM236.4 369.2h7.9v7.8h-7.9zM114.0 376.8h7.9v7.8h-7.9z"/><path fill="#0038ff" d="M205.8 0.0h7.9v6.7h-7.9zM182.8 6.4h7.9v8.1h-7.9zM198.2 6.4h7.9v8.1h-7.9zM213.5 6.4h7.9v8.1h-7.9zM213.5 14.2h7.9v8.1h-7.9zM136.9 22.1h7.9v8.1h-7.9zM198.2 22.1h7.9v8.1h-7.9zM198.2 29.9h7.9v8.1h-7.9zM343.6 37.7h4.7v8.1h-4.7zM98.6 45.6h7.9v8.1h-7.9zM343.6 45.6h4.7v8.1h-4.7zM106.3 53.4h7.9v8.1h-7.9zM106.3 61.2h7.9v8.1h-7.9zM114.0 100.1h7.9v8.0h-7.9zM129.3 115.7h7.9v8.0h-7.9zM121.6 123.5h15.6v8.0h-15.6zM282.3 123.5h7.9v8.0h-7.9zM335.9 131.2h7.9v8.0h-7.9zM175.2 146.7h7.9v8.0h-7.9zM343.6 146.7h4.7v8.0h-4.7zM297.7 154.5h7.9v8.0h-7.9zM167.5 162.2h7.9v8.0h-7.9zM144.6 169.9h15.6v8.0h-15.6zM213.5 169.9h7.9v8.0h-7.9zM144.6 177.7h15.6v8.0h-15.6zM190.5 185.4h7.9v8.0h-7.9zM290.0 193.1h7.9v8.0h-7.9zM297.7 208.5h7.9v8.0h-7.9zM221.1 223.9h15.6v7.9h-15.6zM236.4 231.6h7.9v7.9h-7.9zM267.0 231.6h7.9v7.9h-7.9zM282.3 231.6h7.9v7.9h-7.9zM335.9 231.6h7.9v7.9h-7.9zM221.1 239.3h7.9v7.9h-7.9zM343.6 239.3h4.7v7.9h-4.7zM221.1 247.0h7.9v7.9h-7.9zM259.4 247.0h7.9v7.9h-7.9zM274.7 247.0h7.9v7.9h-7.9zM213.5 254.7h7.9v7.9h-7.9zM267.0 254.7h7.9v7.9h-7.9zM290.0 254.7h7.9v7.9h-7.9zM129.3 262.3h7.9v7.9h-7.9zM274.7 262.3h7.9v7.9h-7.9zM290.0 262.3h7.9v7.9h-7.9zM129.3 270.0h7.9v7.9h-7.9zM213.5 270.0h7.9v7.9h-7.9zM290.0 270.0h7.9v7.9h-7.9zM106.3 277.7h15.6v7.9h-15.6zM144.6 277.7h7.9v7.9h-7.9zM221.1 277.7h7.9v7.9h-7.9zM290.0 277.7h7.9v7.9h-7.9zM152.2 285.3h7.9v7.9h-7.9zM236.4 285.3h15.6v7.9h-15.6zM290.0 285.3h7.9v7.9h-7.9zM236.4 293.0h7.9v7.9h-7.9zM267.0 293.0h7.9v7.9h-7.9zM320.6 293.0h7.9v7.9h-7.9zM343.6 293.0h4.7v7.9h-4.7zM98.6 300.6h30.9v7.9h-30.9zM213.5 300.6h7.9v7.9h-7.9zM228.8 300.6h7.9v7.9h-7.9zM274.7 300.6h15.6v7.9h-15.6zM114.0 308.2h7.9v7.9h-7.9zM213.5 308.2h7.9v7.9h-7.9zM259.4 308.2h7.9v7.9h-7.9zM205.8 315.9h7.9v7.9h-7.9zM267.0 331.1h7.9v7.9h-7.9zM106.3 338.8h7.9v7.9h-7.9zM236.4 346.4h7.9v7.9h-7.9zM98.6 384.4h7.9v7.8h-7.9z"/><path fill="#0078ff" d="M228.8 0.0h7.9v6.7h-7.9zM205.8 6.4h7.9v8.1h-7.9zM236.4 6.4h7.9v8.1h-7.9zM228.8 14.2h7.9v8.1h-7.9zM152.2 22.1h7.9v8.1h-7.9zM236.4 22.1h7.9v8.1h-7.9zM129.3 29.9h7.9v8.1h-7.9zM190.5 29.9h7.9v8.1h-7.9zM213.5 29.9h7.9v8.1h-7.9zM228.8 29.9h7.9v8.1h-7.9zM290.0 29.9h15.6v8.1h-15.6zM290.0 45.6h7.9v8.1h-7.9zM114.0 53.4h7.9v8.1h-7.9zM106.3 69.0h15.6v8.0h-15.6zM159.9 107.9h7.9v8.0h-7.9zM320.6 107.9h7.9v8.0h-7.9zM328.3 115.7h7.9v8.0h-7.9zM159.9 123.5h7.9v8.0h-7.9zM267.0 123.5h7.9v8.0h-7.9zM190.5 131.2h7.9v8.0h-7.9zM144.6 139.0h7.9v8.0h-7.9zM282.3 139.0h7.9v8.0h-7.9zM121.6 154.5h7.9v8.0h-7.9zM144.6 154.5h7.9v8.0h-7.9zM274.7 154.5h7.9v8.0h-7.9zM282.3 162.2h7.9v8.0h-7.9zM129.3 169.9h7.9v8.0h-7.9zM282.3 169.9h7.9v8.0h-7.9zM213.5 177.7h7.9v8.0h-7.9zM282.3 185.4h7.9v8.0h-7.9zM167.5 200.8h7.9v8.0h-7.9zM221.1 208.5h7.9v8.0h-7.9zM236.4 216.2h15.6v7.9h-15.6zM259.4 223.9h7.9v7.9h-7.9zM251.7 231.6h7.9v7.9h-7.9zM236.4 239.3h7.9v7.9h-7.9zM244.1 247.0h7.9v7.9h-7.9zM221.1 254.7h7.9v7.9h-7.9zM236.4 262.3h7.9v7.9h-7.9zM221.1 270.0h7.9v7.9h-7.9zM236.4 270.0h15.6v7.9h-15.6zM205.8 285.3h7.9v7.9h-7.9zM106.3 293.0h7.9v7.9h-7.9zM205.8 323.5h7.9v7.9h-7.9zM221.1 361.6h7.9v7.9h-7.9zM121.6 369.2h7.9v7.8h-7.9zM98.6 376.8h7.9v7.8h-7.9z"/><path fill="#00e7ff" d="M244.1 0.0h7.9v6.7h-7.9zM159.9 6.4h7.9v8.1h-7.9zM175.2 22.1h7.9v8.1h-7.9zM244.1 22.1h7.9v8.1h-7.9zM282.3 45.6h7.9v8.1h-7.9zM320.6 53.4h7.9v8.1h-7.9zM221.1 61.2h7.9v8.1h-7.9zM190.5 69.0h7.9v8.0h-7.9zM259.4 69.0h7.9v8.0h-7.9zM129.3 76.8h7.9v8.0h-7.9zM205.8 76.8h7.9v8.0h-7.9zM236.4 76.8h7.9v8.0h-7.9zM198.2 84.6h7.9v8.0h-7.9zM213.5 84.6h23.2v8.0h-23.2zM244.1 84.6h7.9v8.0h-7.9zM152.2 92.4h7.9v8.0h-7.9zM190.5 92.4h15.6v8.0h-15.6zM244.1 92.4h7.9v8.0h-7.9zM190.5 100.1h7.9v8.0h-7.9zM175.2 107.9h7.9v8.0h-7.9zM190.5 107.9h7.9v8.0h-7.9zM205.8 107.9h7.9v8.0h-7.9zM221.1 107.9h7.9v8.0h-7.9zM244.1 107.9h7.9v8.0h-7.9zM228.8 115.7h7.9v8.0h-7.9zM259.4 115.7h7.9v8.0h-7.9zM244.1 131.2h7.9v8.0h-7.9zM244.1 169.9h7.9v8.0h-7.9zM251.7 185.4h15.6v8.0h-15.6zM267.0 193.1h7.9v8.0h-7.9zM251.7 200.8h7.9v8.0h-7.9zM136.9 208.5h7.9v8.0h-7.9zM159.9 208.5h7.9v8.0h-7.9zM136.9 216.2h7.9v7.9h-7.9zM335.9 247.0h7.9v7.9h-7.9zM190.5 254.7h7.9v7.9h-7.9zM144.6 262.3h7.9v7.9h-7.9zM167.5 285.3h7.9v7.9h-7.9zM106.3 361.6h15.6v7.9h-15.6zM98.6 369.2h7.9v7.8h-7.9z"/><path fill="#00f7ff" d="M251.7 0.0h7.9v6.7h-7.9zM159.9 14.2h7.9v8.1h-7.9zM282.3 22.1h7.9v8.1h-7.9zM129.3 37.7h7.9v8.1h-7.9zM144.6 37.7h15.6v8.1h-15.6zM282.3 37.7h7.9v8.1h-7.9zM129.3 45.6h7.9v8.1h-7.9zM244.1 45.6h7.9v8.1h-7.9zM182.8 53.4h7.9v8.1h-7.9zM221.1 53.4h7.9v8.1h-7.9zM290.0 61.2h7.9v8.1h-7.9zM320.6 61.2h7.9v8.1h-7.9zM221.1 69.0h7.9v8.0h-7.9zM320.6 69.0h7.9v8.0h-7.9zM136.9 76.8h7.9v8.0h-7.9zM190.5 76.8h7.9v8.0h-7.9zM136.9 92.4h7.9v8.0h-7.9zM221.1 92.4h7.9v8.0h-7.9zM267.0 92.4h7.9v8.0h-7.9zM213.5 100.1h7.9v8.0h-7.9zM236.4 100.1h15.6v8.0h-15.6zM259.4 100.1h7.9v8.0h-7.9zM290.0 100.1h7.9v8.0h-7.9zM144.6 115.7h7.9v8.0h-7.9zM221.1 115.7h7.9v8.0h-7.9zM251.7 123.5h7.9v8.0h-7.9zM244.1 139.0h7.9v8.0h-7.9zM274.7 139.0h7.9v8.0h-7.9zM267.0 154.5h7.9v8.0h-7.9zM236.4 162.2h7.9v8.0h-7.9zM236.4 169.9h7.9v8.0h-7.9zM244.1 177.7h7.9v8.0h-7.9zM190.5 193.1h7.9v8.0h-7.9zM129.3 223.9h7.9v7.9h-7.9zM129.3 239.3h15.6v7.9h-15.6zM144.6 247.0h7.9v7.9h-7.9zM274.7 277.7h7.9v7.9h-7.9zM167.5 293.0h7.9v7.9h-7.9zM198.2 331.1h7.9v7.9h-7.9z"/><path fill="#28ffd7" d="M259.4 0.0h7.9v6.7h-7.9zM335.9 29.9h7.9v8.1h-7.9zM167.5 37.7h7.9v8.1h-7.9zM251.7 45.6h7.9v8.1h-7.9zM129.3 53.4h7.9v8.1h-7.9zM182.8 61.2h7.9v8.1h-7.9zM259.4 61.2h7.9v8.1h-7.9zM221.1 76.8h7.9v8.0h-7.9zM167.5 84.6h7.9v8.0h-7.9zM182.8 84.6h7.9v8.0h-7.9zM205.8 84.6h7.9v8.0h-7.9zM136.9 100.1h7.9v8.0h-7.9zM198.2 100.1h15.6v8.0h-15.6zM228.8 146.7h7.9v8.0h-7.9zM251.7 193.1h15.6v8.0h-15.6zM144.6 239.3h15.6v7.9h-15.6zM121.6 254.7h7.9v7.9h-7.9zM167.5 270.0h7.9v7.9h-7.9zM175.2 300.6h7.9v7.9h-7.9zM175.2 315.9h7.9v7.9h-7.9zM175.2 323.5h7.9v7.9h-7.9zM198.2 346.4h7.9v7.9h-7.9z"/><path fill="#a7ff58" d="M267.0 0.0h7.9v6.7h-7.9zM259.4 6.4h7.9v8.1h-7.9zM259.4 14.2h15.6v8.1h-15.6zM305.3 14.2h7.9v8.1h-7.9zM320.6 14.2h15.6v8.1h-15.6zM259.4 29.9h7.9v8.1h-7.9zM136.9 45.6h7.9v8.1h-7.9zM136.9 53.4h7.9v8.1h-7.9zM167.5 69.0h15.6v8.0h-15.6zM290.0 84.6h7.9v8.0h-7.9zM228.8 177.7h7.9v8.0h-7.9zM182.8 200.8h7.9v8.0h-7.9zM175.2 208.5h7.9v8.0h-7.9zM121.6 239.3h7.9v7.9h-7.9zM167.5 247.0h7.9v7.9h-7.9z"/><path fill="#ffe700" d="M274.7 0.0h7.9v6.7h-7.9zM152.2 53.4h7.9v8.1h-7.9zM167.5 254.7h7.9v7.9h-7.9z"/><path fill="#ff9700" d="M282.3 0.0h7.9v6.7h-7.9zM259.4 146.7h7.9v8.0h-7.9zM213.5 193.1h7.9v8.0h-7.9z"/><path fill="#ff7800" d="M290.0 0.0h7.9v6.7h-7.9zM251.7 146.7h7.9v8.0h-7.9z"/><path fill="#f7ff08" d="M297.7 0.0h7.9v6.7h-7.9zM167.5 6.4h7.9v8.1h-7.9zM290.0 14.2h7.9v8.1h-7.9zM328.3 29.9h7.9v8.1h-7.9zM274.7 76.8h7.9v8.0h-7.9zM244.1 146.7h7.9v8.0h-7.9zM190.5 216.2h7.9v7.9h-7.9zM182.8 239.3h7.9v7.9h-7.9zM114.0 254.7h7.9v7.9h-7.9z"/><path fill="#58ffa7" d="M313.0 0.0h7.9v6.7h-7.9zM251.7 14.2h7.9v8.1h-7.9zM274.7 22.1h7.9v8.1h-7.9zM251.7 37.7h7.9v8.1h-7.9zM167.5 45.6h7.9v8.1h-7.9zM267.0 61.2h7.9v8.1h-7.9zM144.6 69.0h7.9v8.0h-7.9zM267.0 69.0h7.9v8.0h-7.9zM175.2 76.8h7.9v8.0h-7.9zM144.6 92.4h7.9v8.0h-7.9zM121.6 231.6h15.6v7.9h-15.6zM159.9 239.3h7.9v7.9h-7.9zM152.2 247.0h7.9v7.9h-7.9zM167.5 300.6h7.9v7.9h-7.9zM190.5 331.1h7.9v7.9h-7.9z"/><path fill="#18ffe7" d="M320.6 0.0h7.9v6.7h-7.9zM175.2 6.4h7.9v8.1h-7.9zM175.2 14.2h7.9v8.1h-7.9zM244.1 14.2h7.9v8.1h-7.9zM290.0 22.1h7.9v8.1h-7.9zM175.2 53.4h7.9v8.1h-7.9zM328.3 61.2h7.9v8.1h-7.9zM144.6 76.8h7.9v8.0h-7.9zM213.5 76.8h7.9v8.0h-7.9zM190.5 84.6h7.9v8.0h-7.9zM205.8 92.4h7.9v8.0h-7.9zM290.0 92.4h7.9v8.0h-7.9zM198.2 107.9h7.9v8.0h-7.9zM236.4 107.9h7.9v8.0h-7.9zM213.5 115.7h7.9v8.0h-7.9zM205.8 123.5h7.9v8.0h-7.9zM244.1 162.2h7.9v8.0h-7.9zM221.1 177.7h7.9v8.0h-7.9zM244.1 185.4h7.9v8.0h-7.9zM236.4 193.1h7.9v8.0h-7.9zM167.5 208.5h7.9v8.0h-7.9zM144.6 216.2h15.6v7.9h-15.6zM121.6 223.9h7.9v7.9h-7.9zM205.8 239.3h7.9v7.9h-7.9zM335.9 254.7h7.9v7.9h-7.9zM114.0 262.3h7.9v7.9h-7.9zM106.3 354.0h7.9v7.9h-7.9zM236.4 361.6h7.9v7.9h-7.9z"/><path fill="#00b7ff" d="M328.3 0.0h7.9v6.7h-7.9zM236.4 14.2h7.9v8.1h-7.9zM159.9 22.1h7.9v8.1h-7.9zM175.2 29.9h7.9v8.1h-7.9zM244.1 29.9h7.9v8.1h-7.9zM213.5 37.7h7.9v8.1h-7.9zM228.8 37.7h7.9v8.1h-7.9zM121.6 45.6h7.9v8.1h-7.9zM221.1 45.6h15.6v8.1h-15.6zM121.6 53.4h7.9v8.1h-7.9zM198.2 61.2h7.9v8.1h-7.9zM244.1 61.2h7.9v8.1h-7.9zM236.4 69.0h7.9v8.0h-7.9zM328.3 69.0h7.9v8.0h-7.9zM259.4 76.8h7.9v8.0h-7.9zM297.7 76.8h7.9v8.0h-7.9zM259.4 84.6h15.6v8.0h-15.6zM159.9 92.4h7.9v8.0h-7.9zM297.7 92.4h15.6v8.0h-15.6zM343.6 92.4h4.7v8.0h-4.7zM167.5 100.1h15.6v8.0h-15.6zM251.7 100.1h7.9v8.0h-7.9zM267.0 100.1h7.9v8.0h-7.9zM305.3 100.1h7.9v8.0h-7.9zM335.9 100.1h7.9v8.0h-7.9zM136.9 107.9h7.9v8.0h-7.9zM182.8 107.9h7.9v8.0h-7.9zM297.7 107.9h7.9v8.0h-7.9zM190.5 115.7h7.9v8.0h-7.9zM244.1 115.7h7.9v8.0h-7.9zM267.0 115.7h7.9v8.0h-7.9zM198.2 131.2h15.6v8.0h-15.6zM259.4 131.2h7.9v8.0h-7.9zM221.1 139.0h7.9v8.0h-7.9zM221.1 154.5h7.9v8.0h-7.9zM228.8 169.9h7.9v8.0h-7.9zM259.4 169.9h7.9v8.0h-7.9zM267.0 177.7h7.9v8.0h-7.9zM274.7 185.4h7.9v8.0h-7.9zM259.4 200.8h7.9v8.0h-7.9zM251.7 208.5h7.9v8.0h-7.9zM205.8 216.2h7.9v7.9h-7.9zM343.6 247.0h4.7v7.9h-4.7zM129.3 254.7h7.9v7.9h-7.9zM205.8 254.7h7.9v7.9h-7.9zM328.3 254.7h7.9v7.9h-7.9zM175.2 285.3h7.9v7.9h-7.9zM175.2 293.0h7.9v7.9h-7.9zM198.2 293.0h15.6v7.9h-15.6zM335.9 293.0h7.9v7.9h-7.9zM205.8 331.1h7.9v7.9h-7.9zM190.5 354.0h7.9v7.9h-7.9z"/><path fill="#0000a7" d="M68.0 6.4h7.9v8.1h-7.9zM83.3 14.2h15.6v8.1h-15.6zM121.6 14.2h7.9v8.1h-7.9zM320.6 185.4h7.9v8.0h-7.9zM335.9 193.1h7.9v8.0h-7.9zM328.3 200.8h20.0v8.0h-20.0zM98.6 315.9h7.9v7.9h-7.9zM259.4 346.4h7.9v7.9h-7.9zM251.7 376.8h7.9v7.8h-7.9z"/><path fill="#0028ff" d="M129.3 6.4h7.9v8.1h-7.9zM144.6 6.4h7.9v8.1h-7.9zM152.2 14.2h7.9v8.1h-7.9zM190.5 14.2h15.6v8.1h-15.6zM144.6 22.1h7.9v8.1h-7.9zM305.3 37.7h7.9v8.1h-7.9zM305.3 45.6h7.9v8.1h-7.9zM98.6 53.4h7.9v8.1h-7.9zM98.6 69.0h7.9v8.0h-7.9zM98.6 76.8h7.9v8.0h-7.9zM335.9 115.7h12.3v8.0h-12.3zM106.3 131.2h7.9v8.0h-7.9zM129.3 131.2h7.9v8.0h-7.9zM121.6 139.0h7.9v8.0h-7.9zM305.3 139.0h7.9v8.0h-7.9zM343.6 139.0h4.7v8.0h-4.7zM129.3 146.7h7.9v8.0h-7.9zM320.6 146.7h7.9v8.0h-7.9zM205.8 154.5h7.9v8.0h-7.9zM320.6 154.5h7.9v8.0h-7.9zM182.8 162.2h15.6v8.0h-15.6zM167.5 169.9h7.9v8.0h-7.9zM290.0 169.9h15.6v8.0h-15.6zM313.0 169.9h7.9v8.0h-7.9zM159.9 177.7h7.9v8.0h-7.9zM152.2 185.4h15.6v8.0h-15.6zM152.2 193.1h15.6v8.0h-15.6zM297.7 200.8h7.9v8.0h-7.9zM290.0 216.2h15.6v7.9h-15.6zM221.1 231.6h7.9v7.9h-7.9zM259.4 231.6h7.9v7.9h-7.9zM259.4 239.3h23.2v7.9h-23.2zM290.0 239.3h7.9v7.9h-7.9zM228.8 247.0h7.9v7.9h-7.9zM121.6 270.0h7.9v7.9h-7.9zM136.9 270.0h7.9v7.9h-7.9zM320.6 270.0h7.9v7.9h-7.9zM198.2 277.7h7.9v7.9h-7.9zM236.4 277.7h7.9v7.9h-7.9zM251.7 277.7h7.9v7.9h-7.9zM343.6 277.7h4.7v7.9h-4.7zM98.6 285.3h7.9v7.9h-7.9zM221.1 285.3h7.9v7.9h-7.9zM328.3 285.3h7.9v7.9h-7.9zM221.1 293.0h7.9v7.9h-7.9zM190.5 300.6h7.9v7.9h-7.9zM290.0 300.6h7.9v7.9h-7.9zM251.7 308.2h7.9v7.9h-7.9zM228.8 315.9h7.9v7.9h-7.9zM282.3 315.9h7.9v7.9h-7.9zM121.6 323.5h7.9v7.9h-7.9zM290.0 323.5h7.9v7.9h-7.9zM213.5 331.1h7.9v7.9h-7.9zM213.5 354.0h7.9v7.9h-7.9zM244.1 361.6h7.9v7.9h-7.9zM221.1 376.8h7.9v7.8h-7.9zM91.0 384.4h7.9v7.8h-7.9z"/><path fill="#0087ff" d="M221.1 6.4h7.9v8.1h-7.9zM343.6 14.2h4.7v8.1h-4.7zM213.5 22.1h7.9v8.1h-7.9zM190.5 37.7h7.9v8.1h-7.9zM236.4 37.7h7.9v8.1h-7.9zM114.0 45.6h7.9v8.1h-7.9zM205.8 45.6h7.9v8.1h-7.9zM297.7 69.0h15.6v8.0h-15.6zM305.3 76.8h15.6v8.0h-15.6zM121.6 84.6h7.9v8.0h-7.9zM305.3 84.6h7.9v8.0h-7.9zM320.6 92.4h7.9v8.0h-7.9zM129.3 100.1h7.9v8.0h-7.9zM313.0 100.1h7.9v8.0h-7.9zM167.5 107.9h7.9v8.0h-7.9zM274.7 107.9h7.9v8.0h-7.9zM328.3 107.9h7.9v8.0h-7.9zM290.0 115.7h7.9v8.0h-7.9zM320.6 115.7h7.9v8.0h-7.9zM144.6 123.5h7.9v8.0h-7.9zM297.7 123.5h7.9v8.0h-7.9zM328.3 123.5h7.9v8.0h-7.9zM267.0 131.2h7.9v8.0h-7.9zM320.6 131.2h7.9v8.0h-7.9zM136.9 139.0h7.9v8.0h-7.9zM152.2 154.5h15.6v8.0h-15.6zM213.5 154.5h7.9v8.0h-7.9zM290.0 154.5h7.9v8.0h-7.9zM221.1 169.9h7.9v8.0h-7.9zM251.7 169.9h7.9v8.0h-7.9zM267.0 169.9h15.6v8.0h-15.6zM121.6 177.7h7.9v8.0h-7.9zM182.8 193.1h7.9v8.0h-7.9zM136.9 200.8h7.9v8.0h-7.9zM274.7 208.5h7.9v8.0h-7.9zM228.8 216.2h7.9v7.9h-7.9zM335.9 239.3h7.9v7.9h-7.9zM136.9 254.7h7.9v7.9h-7.9zM236.4 254.7h7.9v7.9h-7.9zM190.5 262.3h7.9v7.9h-7.9zM251.7 262.3h15.6v7.9h-15.6zM159.9 277.7h7.9v7.9h-7.9zM175.2 277.7h7.9v7.9h-7.9zM198.2 300.6h15.6v7.9h-15.6zM205.8 346.4h7.9v7.9h-7.9zM221.1 354.0h7.9v7.9h-7.9zM228.8 369.2h7.9v7.8h-7.9z"/><path fill="#0097ff" d="M228.8 6.4h7.9v8.1h-7.9zM136.9 29.9h15.6v8.1h-15.6zM221.1 29.9h7.9v8.1h-7.9zM236.4 29.9h7.9v8.1h-7.9zM305.3 29.9h7.9v8.1h-7.9zM121.6 37.7h7.9v8.1h-7.9zM198.2 45.6h7.9v8.1h-7.9zM313.0 45.6h7.9v8.1h-7.9zM198.2 53.4h7.9v8.1h-7.9zM244.1 69.0h15.6v8.0h-15.6zM335.9 69.0h7.9v8.0h-7.9zM114.0 76.8h7.9v8.0h-7.9zM251.7 76.8h7.9v8.0h-7.9zM320.6 76.8h7.9v8.0h-7.9zM335.9 76.8h7.9v8.0h-7.9zM129.3 84.6h7.9v8.0h-7.9zM159.9 84.6h7.9v8.0h-7.9zM313.0 84.6h7.9v8.0h-7.9zM259.4 107.9h7.9v8.0h-7.9zM282.3 107.9h7.9v8.0h-7.9zM305.3 107.9h15.6v8.0h-15.6zM335.9 107.9h7.9v8.0h-7.9zM159.9 115.7h7.9v8.0h-7.9zM175.2 115.7h7.9v8.0h-7.9zM167.5 123.5h7.9v8.0h-7.9zM305.3 123.5h7.9v8.0h-7.9zM159.9 131.2h7.9v8.0h-7.9zM182.8 131.2h7.9v8.0h-7.9zM313.0 131.2h7.9v8.0h-7.9zM159.9 139.0h7.9v8.0h-7.9zM144.6 146.7h15.6v8.0h-15.6zM290.0 146.7h7.9v8.0h-7.9zM259.4 162.2h7.9v8.0h-7.9zM121.6 169.9h7.9v8.0h-7.9zM259.4 177.7h7.9v8.0h-7.9zM198.2 185.4h7.9v8.0h-7.9zM159.9 200.8h7.9v8.0h-7.9zM274.7 200.8h7.9v8.0h-7.9zM144.6 208.5h7.9v8.0h-7.9zM236.4 208.5h7.9v8.0h-7.9zM205.8 223.9h7.9v7.9h-7.9zM213.5 239.3h7.9v7.9h-7.9zM136.9 262.3h7.9v7.9h-7.9zM335.9 262.3h7.9v7.9h-7.9zM114.0 270.0h7.9v7.9h-7.9zM259.4 270.0h7.9v7.9h-7.9zM267.0 277.7h7.9v7.9h-7.9zM159.9 285.3h7.9v7.9h-7.9zM159.9 300.6h7.9v7.9h-7.9zM236.4 300.6h7.9v7.9h-7.9zM182.8 308.2h7.9v7.9h-7.9zM98.6 354.0h7.9v7.9h-7.9zM91.0 376.8h7.9v7.8h-7.9z"/><path fill="#08fff7" d="M244.1 6.4h7.9v8.1h-7.9zM335.9 14.2h7.9v8.1h-7.9zM313.0 22.1h7.9v8.1h-7.9zM335.9 22.1h7.9v8.1h-7.9zM136.9 37.7h7.9v8.1h-7.9zM175.2 37.7h7.9v8.1h-7.9zM335.9 37.7h7.9v8.1h-7.9zM228.8 61.2h7.9v8.1h-7.9zM136.9 69.0h7.9v8.0h-7.9zM182.8 69.0h7.9v8.0h-7.9zM198.2 69.0h7.9v8.0h-7.9zM198.2 76.8h7.9v8.0h-7.9zM267.0 76.8h7.9v8.0h-7.9zM144.6 84.6h7.9v8.0h-7.9zM182.8 92.4h7.9v8.0h-7.9zM228.8 92.4h15.6v8.0h-15.6zM274.7 92.4h7.9v8.0h-7.9zM152.2 100.1h7.9v8.0h-7.9zM182.8 100.1h7.9v8.0h-7.9zM221.1 100.1h15.6v8.0h-15.6zM152.2 107.9h7.9v8.0h-7.9zM228.8 107.9h7.9v8.0h-7.9zM152.2 115.7h7.9v8.0h-7.9zM213.5 123.5h7.9v8.0h-7.9zM236.4 139.0h7.9v8.0h-7.9zM267.0 139.0h7.9v8.0h-7.9zM274.7 146.7h7.9v8.0h-7.9zM205.8 185.4h7.9v8.0h-7.9zM244.1 193.1h7.9v8.0h-7.9zM244.1 200.8h7.9v8.0h-7.9zM213.5 208.5h7.9v8.0h-7.9zM129.3 216.2h7.9v7.9h-7.9zM136.9 223.9h7.9v7.9h-7.9zM205.8 247.0h7.9v7.9h-7.9zM167.5 308.2h7.9v7.9h-7.9zM190.5 346.4h7.9v7.9h-7.9zM228.8 361.6h7.9v7.9h-7.9z"/><path fill="#38ffc7" d="M251.7 6.4h7.9v8.1h-7.9zM328.3 6.4h7.9v8.1h-7.9zM167.5 29.9h7.9v8.1h-7.9zM159.9 37.7h7.9v8.1h-7.9zM320.6 45.6h7.9v8.1h-7.9zM282.3 53.4h7.9v8.1h-7.9zM129.3 61.2h7.9v8.1h-7.9zM182.8 76.8h7.9v8.0h-7.9zM175.2 84.6h7.9v8.0h-7.9zM213.5 92.4h7.9v8.0h-7.9zM282.3 92.4h7.9v8.0h-7.9zM236.4 177.7h7.9v8.0h-7.9zM221.1 200.8h7.9v8.0h-7.9zM159.9 216.2h7.9v7.9h-7.9zM198.2 216.2h7.9v7.9h-7.9zM144.6 223.9h15.6v7.9h-15.6zM190.5 223.9h7.9v7.9h-7.9zM136.9 231.6h7.9v7.9h-7.9zM190.5 231.6h15.6v7.9h-15.6zM182.8 254.7h7.9v7.9h-7.9zM182.8 346.4h7.9v7.9h-7.9z"/><path fill="#d7ff28" d="M267.0 6.4h7.9v8.1h-7.9zM297.7 14.2h7.9v8.1h-7.9zM320.6 29.9h7.9v8.1h-7.9zM152.2 45.6h7.9v8.1h-7.9zM274.7 61.2h7.9v8.1h-7.9zM182.8 247.0h7.9v7.9h-7.9zM167.5 262.3h7.9v7.9h-7.9z"/><path fill="#ffa700" d="M274.7 6.4h15.6v8.1h-15.6zM221.1 185.4h7.9v8.0h-7.9zM205.8 193.1h7.9v8.0h-7.9z"/><path fill="#ff5800" d="M290.0 6.4h7.9v8.1h-7.9z"/><path fill="#ff6800" d="M297.7 6.4h7.9v8.1h-7.9zM282.3 69.0h7.9v8.0h-7.9zM190.5 200.8h7.9v8.0h-7.9zM182.8 208.5h7.9v8.0h-7.9z"/><path fill="#fff700" d="M305.3 6.4h7.9v8.1h-7.9zM167.5 61.2h7.9v8.1h-7.9zM274.7 69.0h7.9v8.0h-7.9zM244.1 154.5h7.9v8.0h-7.9zM190.5 239.3h7.9v7.9h-7.9zM159.9 262.3h7.9v7.9h-7.9z"/><path fill="#87ff78" d="M313.0 6.4h15.6v8.1h-15.6zM267.0 29.9h7.9v8.1h-7.9zM320.6 37.7h7.9v8.1h-7.9zM259.4 53.4h7.9v8.1h-7.9zM274.7 53.4h7.9v8.1h-7.9zM175.2 61.2h7.9v8.1h-7.9zM251.7 139.0h7.9v8.0h-7.9zM167.5 216.2h7.9v7.9h-7.9zM175.2 223.9h7.9v7.9h-7.9zM152.2 231.6h7.9v7.9h-7.9zM167.5 231.6h7.9v7.9h-7.9zM167.5 239.3h7.9v7.9h-7.9zM121.6 247.0h7.9v7.9h-7.9zM152.2 262.3h7.9v7.9h-7.9z"/><path fill="#00d7ff" d="M335.9 6.4h7.9v8.1h-7.9zM297.7 22.1h15.6v8.1h-15.6zM159.9 29.9h7.9v8.1h-7.9zM282.3 29.9h7.9v8.1h-7.9zM313.0 29.9h7.9v8.1h-7.9zM244.1 37.7h7.9v8.1h-7.9zM213.5 45.6h7.9v8.1h-7.9zM190.5 53.4h7.9v8.1h-7.9zM213.5 53.4h7.9v8.1h-7.9zM251.7 53.4h7.9v8.1h-7.9zM190.5 61.2h7.9v8.1h-7.9zM213.5 61.2h7.9v8.1h-7.9zM236.4 61.2h7.9v8.1h-7.9zM129.3 69.0h7.9v8.0h-7.9zM205.8 69.0h15.6v8.0h-15.6zM121.6 76.8h7.9v8.0h-7.9zM244.1 76.8h7.9v8.0h-7.9zM136.9 84.6h7.9v8.0h-7.9zM236.4 84.6h7.9v8.0h-7.9zM167.5 92.4h7.9v8.0h-7.9zM328.3 92.4h7.9v8.0h-7.9zM213.5 107.9h7.9v8.0h-7.9zM251.7 107.9h7.9v8.0h-7.9zM290.0 107.9h7.9v8.0h-7.9zM198.2 115.7h15.6v8.0h-15.6zM236.4 115.7h7.9v8.0h-7.9zM251.7 115.7h7.9v8.0h-7.9zM198.2 123.5h7.9v8.0h-7.9zM221.1 123.5h30.9v8.0h-30.9zM221.1 131.2h7.9v8.0h-7.9zM251.7 131.2h7.9v8.0h-7.9zM221.1 146.7h7.9v8.0h-7.9zM251.7 177.7h7.9v8.0h-7.9zM228.8 200.8h15.6v8.0h-15.6zM129.3 208.5h7.9v8.0h-7.9zM198.2 223.9h7.9v7.9h-7.9zM129.3 247.0h7.9v7.9h-7.9zM144.6 254.7h7.9v7.9h-7.9zM198.2 254.7h7.9v7.9h-7.9zM167.5 277.7h7.9v7.9h-7.9zM282.3 277.7h7.9v7.9h-7.9zM282.3 285.3h7.9v7.9h-7.9zM205.8 338.8h7.9v7.9h-7.9zM114.0 369.2h7.9v7.8h-7.9z"/><path fill="#000097" d="M114.0 14.2h7.9v8.1h-7.9zM114.0 22.1h7.9v8.1h-7.9zM75.7 37.7h7.9v8.1h-7.9zM75.7 45.6h7.9v8.1h-7.9zM98.6 92.4h7.9v8.0h-7.9zM91.0 100.1h15.6v8.0h-15.6zM328.3 177.7h20.0v8.0h-20.0zM335.9 185.4h7.9v8.0h-7.9zM259.4 354.0h7.9v7.9h-7.9z"/><path fill="#97ff68" d="M274.7 14.2h7.9v8.1h-7.9zM313.0 14.2h7.9v8.1h-7.9zM267.0 22.1h7.9v8.1h-7.9zM320.6 22.1h7.9v8.1h-7.9zM259.4 45.6h7.9v8.1h-7.9zM328.3 45.6h7.9v8.1h-7.9zM167.5 53.4h7.9v8.1h-7.9zM136.9 61.2h7.9v8.1h-7.9zM290.0 69.0h7.9v8.0h-7.9zM144.6 107.9h7.9v8.0h-7.9zM267.0 146.7h7.9v8.0h-7.9zM236.4 154.5h7.9v8.0h-7.9zM259.4 154.5h7.9v8.0h-7.9zM228.8 193.1h7.9v8.0h-7.9zM175.2 239.3h7.9v7.9h-7.9zM198.2 247.0h7.9v7.9h-7.9z"/><path fill="#b7ff48" d="M282.3 14.2h7.9v8.1h-7.9zM328.3 22.1h7.9v8.1h-7.9zM259.4 37.7h7.9v8.1h-7.9zM328.3 37.7h7.9v8.1h-7.9zM144.6 45.6h7.9v8.1h-7.9zM267.0 45.6h7.9v8.1h-7.9zM267.0 53.4h7.9v8.1h-7.9zM290.0 76.8h7.9v8.0h-7.9zM144.6 100.1h7.9v8.0h-7.9zM213.5 185.4h7.9v8.0h-7.9zM159.9 247.0h7.9v7.9h-7.9zM190.5 247.0h7.9v7.9h-7.9zM182.8 338.8h7.9v7.9h-7.9z"/><path fill="#48ffb7" d="M167.5 22.1h7.9v8.1h-7.9zM251.7 29.9h7.9v8.1h-7.9zM274.7 29.9h7.9v8.1h-7.9zM152.2 76.8h7.9v8.0h-7.9zM259.4 139.0h7.9v8.0h-7.9zM159.9 231.6h7.9v7.9h-7.9zM159.9 270.0h7.9v7.9h-7.9zM182.8 331.1h7.9v7.9h-7.9z"/><path fill="#68ff97" d="M251.7 22.1h7.9v8.1h-7.9zM328.3 53.4h7.9v8.1h-7.9zM159.9 76.8h7.9v8.0h-7.9zM236.4 146.7h7.9v8.0h-7.9zM159.9 223.9h7.9v7.9h-7.9zM182.8 223.9h7.9v7.9h-7.9zM144.6 231.6h7.9v7.9h-7.9zM182.8 231.6h7.9v7.9h-7.9zM198.2 239.3h7.9v7.9h-7.9zM175.2 308.2h7.9v7.9h-7.9zM198.2 338.8h7.9v7.9h-7.9zM121.6 354.0h7.9v7.9h-7.9z"/><path fill="#78ff87" d="M259.4 22.1h7.9v8.1h-7.9zM274.7 37.7h7.9v8.1h-7.9zM159.9 45.6h7.9v8.1h-7.9zM274.7 45.6h7.9v8.1h-7.9zM167.5 76.8h7.9v8.0h-7.9zM274.7 84.6h7.9v8.0h-7.9zM228.8 154.5h7.9v8.0h-7.9zM236.4 185.4h7.9v8.0h-7.9zM167.5 223.9h7.9v7.9h-7.9zM175.2 231.6h7.9v7.9h-7.9zM175.2 247.0h7.9v7.9h-7.9zM175.2 254.7h7.9v7.9h-7.9z"/><path fill="#00a7ff" d="M182.8 37.7h7.9v8.1h-7.9zM182.8 45.6h15.6v8.1h-15.6zM236.4 45.6h7.9v8.1h-7.9zM335.9 45.6h7.9v8.1h-7.9zM205.8 53.4h7.9v8.1h-7.9zM290.0 53.4h7.9v8.1h-7.9zM114.0 61.2h7.9v8.1h-7.9zM335.9 61.2h7.9v8.1h-7.9zM152.2 84.6h7.9v8.0h-7.9zM320.6 84.6h23.2v8.0h-23.2zM251.7 92.4h15.6v8.0h-15.6zM335.9 92.4h7.9v8.0h-7.9zM159.9 100.1h7.9v8.0h-7.9zM320.6 100.1h15.6v8.0h-15.6zM267.0 107.9h7.9v8.0h-7.9zM167.5 115.7h7.9v8.0h-7.9zM182.8 115.7h7.9v8.0h-7.9zM282.3 115.7h7.9v8.0h-7.9zM305.3 115.7h15.6v8.0h-15.6zM175.2 123.5h7.9v8.0h-7.9zM259.4 123.5h7.9v8.0h-7.9zM320.6 123.5h7.9v8.0h-7.9zM144.6 131.2h15.6v8.0h-15.6zM213.5 131.2h7.9v8.0h-7.9zM236.4 131.2h7.9v8.0h-7.9zM274.7 131.2h7.9v8.0h-7.9zM290.0 139.0h7.9v8.0h-7.9zM274.7 177.7h7.9v8.0h-7.9zM267.0 185.4h7.9v8.0h-7.9zM274.7 193.1h7.9v8.0h-7.9zM267.0 200.8h7.9v8.0h-7.9zM244.1 208.5h7.9v8.0h-7.9zM259.4 208.5h7.9v8.0h-7.9zM259.4 216.2h7.9v7.9h-7.9zM205.8 231.6h7.9v7.9h-7.9zM213.5 247.0h7.9v7.9h-7.9zM121.6 262.3h7.9v7.9h-7.9zM244.1 262.3h7.9v7.9h-7.9zM267.0 270.0h15.6v7.9h-15.6zM182.8 315.9h7.9v7.9h-7.9zM190.5 323.5h7.9v7.9h-7.9zM121.6 361.6h7.9v7.9h-7.9zM106.3 376.8h7.9v7.8h-7.9z"/><path fill="#e7ff18" d="M267.0 37.7h7.9v8.1h-7.9zM144.6 61.2h7.9v8.1h-7.9zM152.2 69.0h7.9v8.0h-7.9zM213.5 200.8h7.9v8.0h-7.9zM114.0 354.0h7.9v7.9h-7.9z"/><path fill="#ffb700" d="M144.6 53.4h7.9v8.1h-7.9zM114.0 247.0h7.9v7.9h-7.9zM159.9 254.7h7.9v7.9h-7.9z"/><path fill="#ffd700" d="M159.9 53.4h7.9v8.1h-7.9zM159.9 61.2h7.9v8.1h-7.9zM282.3 84.6h7.9v8.0h-7.9zM228.8 185.4h7.9v8.0h-7.9zM182.8 216.2h7.9v7.9h-7.9z"/><path fill="#ffc700" d="M152.2 61.2h7.9v8.1h-7.9zM221.1 193.1h7.9v8.0h-7.9zM175.2 216.2h7.9v7.9h-7.9z"/><path fill="#ff0800" d="M282.3 76.8h7.9v8.0h-7.9zM205.8 200.8h7.9v8.0h-7.9z"/><path fill="#f70000" d="M198.2 200.8h7.9v8.0h-7.9z"/><path fill="#d70000" d="M190.5 208.5h7.9v8.0h-7.9z"/><path fill="#ff2800" d="M198.2 208.5h7.9v8.0h-7.9z"/></g><path transform="translate(-3.8,-3.8)" d="M170.4 2.5L168.7 10.3M172.5 2.5L174.6 10.3M263.2 3.4L258.1 10.3M263.8 2.5L263.2 3.4M319.3 2.5L324.4 7.5M327.5 10.3L324.4 7.5M168.7 10.3L169.4 18.2M174.6 10.3L173.9 18.2M255.6 18.0L255.5 18.2M258.1 10.3L255.6 18.0M327.5 10.3L332.1 14.3M334.5 18.2L332.1 14.3M169.4 18.2L171.4 22.1M173.9 18.2L171.4 22.1M255.5 18.2L255.6 18.6M256.7 26.0L255.6 18.6M286.2 23.5L279.0 26.0M293.8 23.3L286.2 23.5M301.5 22.5L293.8 23.3M309.1 21.3L301.5 22.5M316.8 22.0L309.1 21.3M320.3 26.0L316.8 22.0M334.5 18.2L337.0 26.0M256.7 26.0L257.4 33.8M278.5 27.3L276.9 33.8M279.0 26.0L278.5 27.3M320.3 26.0L321.1 33.8M337.0 26.0L338.6 33.8M257.4 33.8L256.9 41.6M276.9 33.8L278.5 37.1M279.7 41.6L278.5 37.1M321.1 33.8L323.2 41.6M338.6 33.8L335.3 41.6M140.7 47.3L138.5 49.5M148.4 45.1L140.7 47.3M156.1 45.2L148.4 45.1M163.7 45.0L156.1 45.2M170.1 49.5L163.7 45.0M256.9 41.6L258.9 49.5M279.7 41.6L280.2 49.5M323.2 41.6L324.4 44.9M330.7 49.5L324.4 44.9M335.3 41.6L332.5 49.5M138.5 49.5L135.9 57.3M170.1 49.5L171.4 50.6M176.3 57.3L171.4 50.6M258.9 49.5L262.1 57.3M280.2 49.5L283.3 57.3M330.7 49.5L332.1 50.6M332.5 49.5L332.1 50.6M135.9 57.3L137.4 65.1M176.3 57.3L179.0 61.2M182.2 65.1L179.0 61.2M262.1 57.3L263.2 59.1M268.0 65.1L263.2 59.1M283.3 57.3L286.2 59.3M290.3 65.1L286.2 59.3M137.4 65.1L140.7 68.6M146.0 72.9L140.7 68.6M182.2 65.1L182.4 72.9M268.0 65.1L270.9 72.6M270.9 72.9L270.9 72.6M290.3 65.1L293.8 70.3M295.3 72.9L293.8 70.3M146.0 72.9L148.4 75.2M156.1 79.5L148.4 75.2M163.7 80.4L156.1 79.5M165.0 80.7L163.7 80.4M182.4 72.9L180.2 80.7M270.9 72.9L272.9 80.7M295.3 72.9L297.2 80.7M165.0 80.7L171.4 82.3M179.0 81.7L171.4 82.3M180.2 80.7L179.0 81.7M272.9 80.7L276.8 88.5M297.2 80.7L295.8 88.5M276.8 88.5L278.5 90.8M286.2 95.1L278.5 90.8M293.8 91.8L286.2 95.1M295.8 88.5L293.8 91.8M148.4 101.1L146.8 104.0M150.0 104.0L148.4 101.1M146.8 104.0L148.4 108.6M150.0 104.0L148.4 108.6M255.6 141.2L251.8 142.8M263.2 142.3L255.6 141.2M264.2 142.8L263.2 142.3M240.2 149.0L237.9 150.6M247.9 144.2L240.2 149.0M251.8 142.8L247.9 144.2M264.2 142.8L270.9 148.6M272.4 150.6L270.9 148.6M237.9 150.6L236.3 158.3M270.9 152.2L265.5 158.3M272.4 150.6L270.9 152.2M236.3 158.3L240.2 161.1M247.9 163.4L240.2 161.1M255.6 162.1L247.9 163.4M263.2 159.9L255.6 162.1M265.5 158.3L263.2 159.9M232.6 180.5L230.0 181.5M235.9 181.5L232.6 180.5M217.3 187.0L213.0 189.2M224.9 182.9L217.3 187.0M230.0 181.5L224.9 182.9M235.9 181.5L240.2 185.8M242.0 189.2L240.2 185.8M202.0 194.0L196.5 197.0M209.6 190.9L202.0 194.0M213.0 189.2L209.6 190.9M240.2 191.7L237.1 197.0M242.0 189.2L240.2 191.7M186.7 202.2L183.3 204.7M194.3 198.0L186.7 202.2M196.5 197.0L194.3 198.0M224.9 204.3L224.5 204.7M232.6 199.8L224.9 204.3M237.1 197.0L232.6 199.8M179.0 208.8L174.5 212.4M183.3 204.7L179.0 208.8M217.3 210.0L214.8 212.4M224.5 204.7L217.3 210.0M171.4 216.7L166.6 220.1M174.5 212.4L171.4 216.7M209.6 216.6L203.9 220.1M214.8 212.4L209.6 216.6M163.7 227.5L163.2 227.8M166.6 220.1L163.7 227.5M194.3 227.5L193.5 227.8M202.0 222.4L194.3 227.5M203.9 220.1L202.0 222.4M126.2 235.5L125.4 234.9M156.1 233.6L153.1 235.5M163.2 227.8L156.1 233.6M193.5 227.8L194.3 230.0M195.7 235.5L194.3 230.0M126.2 235.5L128.0 243.1M153.1 235.5L156.1 237.0M160.3 243.1L156.1 237.0M195.7 235.5L202.0 240.6M203.9 243.1L202.0 240.6M128.0 243.1L127.8 250.8M156.1 247.7L155.1 250.8M160.3 243.1L156.1 247.7M203.9 243.1L202.4 250.8M125.4 255.0L123.1 258.5M127.8 250.8L125.4 255.0M155.1 250.8L152.9 258.5M186.7 258.2L186.2 258.5M194.3 254.6L186.7 258.2M202.0 251.1L194.3 254.6M202.4 250.8L202.0 251.1M123.1 258.5L117.8 262.8M152.9 258.5L154.8 266.2M154.8 266.2L156.1 267.4M163.7 271.8L156.1 267.4M171.4 271.3L163.7 271.8M194.3 337.7L186.7 336.5M199.8 342.6L194.3 337.7M194.3 346.4L186.7 349.0M199.8 342.6L194.3 346.4M115.6 357.8L117.8 359.7M125.4 358.0L117.8 359.7" fill="none" stroke="#000" stroke-width="1.0" stroke-linecap="round"/><text transform="translate(169.2,13.0) rotate(-70)" text-anchor="middle" style="font-size:14px">30</text><text transform="translate(137.4,58.0) rotate(-70)" text-anchor="middle" style="font-size:14px">30</text><text transform="translate(150.1,104.0) rotate(80)" text-anchor="middle" style="font-size:14px">30</text><text transform="translate(313.1,20.0) rotate(70)" text-anchor="middle" style="font-size:14px">30</text><text transform="translate(277.1,37.0) rotate(-60)" text-anchor="middle" style="font-size:14px">30</text><text transform="translate(281.4,52.0) rotate(-10)" text-anchor="middle" style="font-size:14px">30</text><text transform="translate(245.4,162.0) rotate(-10)" text-anchor="middle" style="font-size:14px">30</text><text transform="translate(198.8,204.0) rotate(10)" text-anchor="middle" style="font-size:14px">30</text><text transform="translate(160.7,268.0) rotate(-75)" text-anchor="middle" style="font-size:14px">30</text>
<use href="#coasttop"/>

</g>
<use href="#frame"/>

</g>
<use href="#star" x="525.1" y="787.2"/><use href="#star" x="562.8" y="899.4"/><use href="#star" x="571.8" y="992.2"/><use href="#star" x="520.9" y="1014.5"/>
<text x="450.8" y="749.5" text-anchor="end" style="font-size:20px">37°N</text>
<text x="450.8" y="820.2" text-anchor="end" style="font-size:15.5px">30'</text>
<text x="450.8" y="893.6" text-anchor="end" style="font-size:20px">36°N</text>
<text x="450.8" y="963.4" text-anchor="end" style="font-size:15.5px">30'</text>
<text x="450.8" y="1036.0" text-anchor="end" style="font-size:20px">35°N</text>
<text x="450.8" y="1104.9" text-anchor="end" style="font-size:15.5px">30'</text>
<text x="450.8" y="1176.6" text-anchor="end" style="font-size:20px">34°N</text>
<text x="457.8" y="1187.1" text-anchor="middle" style="font-size:15.5px">30'</text>
<text x="518.8" y="1190.5" text-anchor="middle" style="font-size:20px">76°W</text>
<text x="573.8" y="1187.1" text-anchor="middle" style="font-size:15.5px">30'</text>
<text x="634.8" y="1190.5" text-anchor="middle" style="font-size:20px">75°W</text>
<text x="689.8" y="1187.1" text-anchor="middle" style="font-size:15.5px">30'</text>
<text x="750.8" y="1190.5" text-anchor="middle" style="font-size:20px">74°W</text>
<text x="805.8" y="1187.1" text-anchor="middle" style="font-size:15.5px">30'</text>
<text x="632.3" y="730.5" text-anchor="middle" style="font-size:20.6px;font-weight:bold">FitDif TotalErrors (30)</text><text x="494.5" y="722.5" style="font-size:21px;fill:#262626">cm/s</text><rect x="462.4" y="762.2" width="113.6" height="25.0" fill="url(#jet)" stroke="#262626" stroke-width="1.2"/><line x1="462.4" y1="762.2" x2="462.4" y2="764.4" stroke="#262626" stroke-width="1"/><text x="461.6" y="749.4" text-anchor="middle" style="font-size:18.7px;fill:#262626">0</text><line x1="556.2" y1="762.2" x2="556.2" y2="764.4" stroke="#262626" stroke-width="1"/><text x="555.4" y="749.4" text-anchor="middle" style="font-size:18.7px;fill:#262626">50</text><text x="771.9" y="780.1" text-anchor="middle" style="font-size:20px">10 km</text><line x1="766.3" y1="785.6" x2="779.3" y2="785.6" stroke="#000" stroke-width="3.6" stroke-linecap="round"/>
<g transform="translate(843.60,742.30)">
<g clip-path="url(#clip)">
<use href="#land"/><use href="#grid"/>
<g shape-rendering="crispEdges"><path fill="#0080ff" d="M68.0 0.0h84.4v6.7h-84.4zM297.7 0.0h46.2v6.7h-46.2zM68.0 6.4h76.8v8.1h-76.8zM297.7 6.4h7.9v8.1h-7.9zM320.6 6.4h23.2v8.1h-23.2zM75.7 14.2h69.1v8.1h-69.1zM328.3 14.2h20.0v8.1h-20.0zM75.7 22.1h69.1v8.1h-69.1zM75.7 29.9h76.8v8.1h-76.8zM75.7 37.7h69.1v8.1h-69.1zM343.6 37.7h4.7v8.1h-4.7zM75.7 45.6h61.5v8.1h-61.5zM83.3 53.4h53.8v8.1h-53.8zM83.3 61.2h53.8v8.1h-53.8zM83.3 69.0h53.8v8.0h-53.8zM83.3 76.8h53.8v8.0h-53.8zM83.3 84.6h61.5v8.0h-61.5zM91.0 92.4h46.2v8.0h-46.2zM91.0 100.1h38.5v8.0h-38.5zM98.6 107.9h30.9v8.0h-30.9zM98.6 115.7h30.9v8.0h-30.9zM106.3 123.5h23.2v8.0h-23.2zM106.3 131.2h23.2v8.0h-23.2zM106.3 139.0h38.5v8.0h-38.5zM106.3 146.7h23.2v8.0h-23.2zM121.6 154.5h7.9v8.0h-7.9zM121.6 169.9h7.9v8.0h-7.9zM121.6 177.7h7.9v8.0h-7.9z"/><path fill="#00ffff" d="M152.2 0.0h145.7v6.7h-145.7zM144.6 6.4h153.3v8.1h-153.3zM305.3 6.4h15.6v8.1h-15.6zM144.6 14.2h183.9v8.1h-183.9zM144.6 22.1h199.3v8.1h-199.3zM152.2 29.9h191.6v8.1h-191.6zM144.6 37.7h199.3v8.1h-199.3zM136.9 45.6h211.3v8.1h-211.3zM136.9 53.4h199.3v8.1h-199.3zM136.9 61.2h206.9v8.1h-206.9zM136.9 69.0h199.3v8.0h-199.3zM136.9 76.8h199.3v8.0h-199.3zM144.6 84.6h191.6v8.0h-191.6zM136.9 92.4h199.3v8.0h-199.3zM129.3 100.1h199.3v8.0h-199.3zM129.3 107.9h199.3v8.0h-199.3zM129.3 115.7h199.3v8.0h-199.3zM129.3 123.5h191.6v8.0h-191.6zM129.3 131.2h191.6v8.0h-191.6zM144.6 139.0h168.6v8.0h-168.6zM129.3 146.7h183.9v8.0h-183.9zM129.3 154.5h183.9v8.0h-183.9zM129.3 162.2h176.3v8.0h-176.3zM129.3 169.9h176.3v8.0h-176.3zM129.3 177.7h168.6v8.0h-168.6zM129.3 185.4h161.0v8.0h-161.0zM129.3 193.1h161.0v8.0h-161.0zM129.3 200.8h145.7v8.0h-145.7zM152.2 208.5h92.1v8.0h-92.1zM251.7 208.5h15.6v8.0h-15.6zM152.2 216.2h76.8v7.9h-76.8zM144.6 223.9h84.4v7.9h-84.4zM152.2 231.6h61.5v7.9h-61.5zM228.8 231.6h23.2v7.9h-23.2zM152.2 239.3h15.6v7.9h-15.6zM175.2 239.3h38.5v7.9h-38.5zM228.8 239.3h23.2v7.9h-23.2zM175.2 247.0h23.2v7.9h-23.2zM205.8 247.0h46.2v7.9h-46.2zM198.2 254.7h15.6v7.9h-15.6zM228.8 254.7h7.9v7.9h-7.9zM221.1 262.3h7.9v7.9h-7.9z"/><path fill="#000088" d="M343.6 0.0h4.7v6.7h-4.7zM343.6 6.4h4.7v8.1h-4.7zM343.6 22.1h4.7v8.1h-4.7zM343.6 29.9h4.7v8.1h-4.7zM91.0 254.7h15.6v7.9h-15.6zM91.0 262.3h15.6v7.9h-15.6zM14.5 323.5h7.9v7.9h-7.9zM91.0 399.5h46.2v7.8h-46.2zM152.2 399.5h7.9v7.8h-7.9zM91.0 407.1h7.9v7.8h-7.9zM106.3 407.1h61.5v7.8h-61.5zM114.0 414.7h53.8v7.8h-53.8zM83.3 422.3h7.9v5.1h-7.9zM114.0 422.3h15.6v5.1h-15.6zM136.9 422.3h7.9v5.1h-7.9zM343.6 422.3h4.7v5.1h-4.7z"/><path fill="#0020ff" d="M335.9 53.4h12.3v8.1h-12.3zM343.6 61.2h4.7v8.1h-4.7zM335.9 69.0h12.3v8.0h-12.3zM335.9 76.8h12.3v8.0h-12.3zM335.9 84.6h12.3v8.0h-12.3zM335.9 92.4h12.3v8.0h-12.3zM328.3 100.1h20.0v8.0h-20.0zM328.3 107.9h20.0v8.0h-20.0zM328.3 115.7h20.0v8.0h-20.0zM320.6 123.5h27.6v8.0h-27.6zM320.6 131.2h27.6v8.0h-27.6zM313.0 139.0h35.3v8.0h-35.3zM313.0 146.7h35.3v8.0h-35.3zM313.0 154.5h35.3v8.0h-35.3zM305.3 162.2h42.9v8.0h-42.9zM305.3 169.9h42.9v8.0h-42.9zM297.7 177.7h50.6v8.0h-50.6zM290.0 185.4h58.3v8.0h-58.3zM290.0 193.1h58.3v8.0h-58.3zM121.6 200.8h7.9v8.0h-7.9zM274.7 200.8h73.6v8.0h-73.6zM121.6 208.5h30.9v8.0h-30.9zM244.1 208.5h7.9v8.0h-7.9zM267.0 208.5h81.2v8.0h-81.2zM129.3 216.2h23.2v7.9h-23.2zM228.8 216.2h119.5v7.9h-119.5zM228.8 223.9h119.5v7.9h-119.5zM213.5 231.6h15.6v7.9h-15.6zM251.7 231.6h96.5v7.9h-96.5zM167.5 239.3h7.9v7.9h-7.9zM213.5 239.3h15.6v7.9h-15.6zM251.7 239.3h96.5v7.9h-96.5zM198.2 247.0h7.9v7.9h-7.9zM251.7 247.0h96.5v7.9h-96.5zM175.2 254.7h15.6v7.9h-15.6zM236.4 254.7h111.8v7.9h-111.8zM228.8 262.3h119.5v7.9h-119.5zM213.5 270.0h134.8v7.9h-134.8zM213.5 277.7h134.8v7.9h-134.8zM205.8 285.3h142.4v7.9h-142.4zM190.5 293.0h157.8v7.9h-157.8zM182.8 300.6h165.4v7.9h-165.4zM167.5 308.2h176.3v7.9h-176.3zM175.2 315.9h84.4v7.9h-84.4zM267.0 315.9h76.8v7.9h-76.8zM175.2 323.5h61.5v7.9h-61.5zM244.1 323.5h84.4v7.9h-84.4zM182.8 331.1h115.1v7.9h-115.1zM305.3 331.1h23.2v7.9h-23.2zM182.8 338.8h145.7v7.9h-145.7zM182.8 346.4h130.4v7.9h-130.4zM190.5 354.0h15.6v7.9h-15.6zM213.5 354.0h23.2v7.9h-23.2zM244.1 354.0h69.1v7.9h-69.1zM221.1 361.6h76.8v7.9h-76.8zM221.1 369.2h76.8v7.8h-76.8zM205.8 376.8h69.1v7.8h-69.1zM205.8 384.4h69.1v7.8h-69.1zM205.8 392.0h23.2v7.8h-23.2zM236.4 392.0h23.2v7.8h-23.2zM236.4 399.5h15.6v7.8h-15.6z"/><path fill="#0000c0" d="M98.6 123.5h7.9v8.0h-7.9zM114.0 154.5h7.9v8.0h-7.9zM114.0 162.2h15.6v8.0h-15.6zM121.6 185.4h7.9v8.0h-7.9zM121.6 193.1h7.9v8.0h-7.9zM121.6 216.2h7.9v7.9h-7.9z"/><path fill="#be0000" d="M121.6 223.9h7.9v7.9h-7.9zM121.6 231.6h15.6v7.9h-15.6zM121.6 239.3h15.6v7.9h-15.6zM114.0 247.0h30.9v7.9h-30.9zM114.0 254.7h30.9v7.9h-30.9zM114.0 262.3h30.9v7.9h-30.9zM114.0 270.0h38.5v7.9h-38.5zM175.2 270.0h7.9v7.9h-7.9zM98.6 277.7h84.4v7.9h-84.4zM98.6 285.3h84.4v7.9h-84.4zM98.6 293.0h53.8v7.9h-53.8zM159.9 293.0h15.6v7.9h-15.6zM182.8 293.0h7.9v7.9h-7.9zM98.6 300.6h53.8v7.9h-53.8zM159.9 300.6h7.9v7.9h-7.9zM98.6 308.2h53.8v7.9h-53.8zM98.6 315.9h46.2v7.9h-46.2zM98.6 323.5h38.5v7.9h-38.5zM98.6 331.1h23.2v7.9h-23.2zM98.6 338.8h23.2v7.9h-23.2zM98.6 346.4h15.6v7.9h-15.6zM98.6 354.0h30.9v7.9h-30.9zM98.6 361.6h38.5v7.9h-38.5zM91.0 369.2h38.5v7.8h-38.5zM91.0 376.8h30.9v7.8h-30.9zM91.0 384.4h23.2v7.8h-23.2zM98.6 392.0h7.9v7.8h-7.9z"/><path fill="#880000" d="M129.3 223.9h15.6v7.9h-15.6zM136.9 231.6h15.6v7.9h-15.6zM136.9 239.3h15.6v7.9h-15.6zM144.6 247.0h30.9v7.9h-30.9zM144.6 254.7h30.9v7.9h-30.9zM144.6 262.3h30.9v7.9h-30.9zM152.2 270.0h23.2v7.9h-23.2zM175.2 293.0h7.9v7.9h-7.9zM167.5 300.6h15.6v7.9h-15.6z"/><path fill="#0000e6" d="M106.3 254.7h7.9v7.9h-7.9zM106.3 262.3h7.9v7.9h-7.9zM175.2 262.3h15.6v7.9h-15.6zM106.3 270.0h7.9v7.9h-7.9zM182.8 270.0h7.9v7.9h-7.9zM182.8 277.7h15.6v7.9h-15.6zM205.8 277.7h7.9v7.9h-7.9zM182.8 285.3h23.2v7.9h-23.2zM152.2 293.0h7.9v7.9h-7.9zM152.2 300.6h7.9v7.9h-7.9zM152.2 308.2h15.6v7.9h-15.6zM343.6 308.2h4.7v7.9h-4.7zM144.6 315.9h30.9v7.9h-30.9zM259.4 315.9h7.9v7.9h-7.9zM343.6 315.9h4.7v7.9h-4.7zM136.9 323.5h38.5v7.9h-38.5zM236.4 323.5h7.9v7.9h-7.9zM328.3 323.5h20.0v7.9h-20.0zM121.6 331.1h61.5v7.9h-61.5zM297.7 331.1h7.9v7.9h-7.9zM328.3 331.1h20.0v7.9h-20.0zM121.6 338.8h61.5v7.9h-61.5zM328.3 338.8h20.0v7.9h-20.0zM114.0 346.4h69.1v7.9h-69.1zM313.0 346.4h35.3v7.9h-35.3zM129.3 354.0h61.5v7.9h-61.5zM205.8 354.0h7.9v7.9h-7.9zM236.4 354.0h7.9v7.9h-7.9zM313.0 354.0h35.3v7.9h-35.3zM136.9 361.6h84.4v7.9h-84.4zM297.7 361.6h50.6v7.9h-50.6zM129.3 369.2h92.1v7.8h-92.1zM297.7 369.2h50.6v7.8h-50.6zM121.6 376.8h84.4v7.8h-84.4zM274.7 376.8h73.6v7.8h-73.6zM114.0 384.4h92.1v7.8h-92.1zM274.7 384.4h73.6v7.8h-73.6zM106.3 392.0h99.8v7.8h-99.8zM228.8 392.0h7.9v7.8h-7.9zM259.4 392.0h88.9v7.8h-88.9zM136.9 399.5h15.6v7.8h-15.6zM159.9 399.5h76.8v7.8h-76.8zM251.7 399.5h96.5v7.8h-96.5zM98.6 407.1h7.9v7.8h-7.9zM167.5 407.1h180.7v7.8h-180.7zM91.0 414.7h23.2v7.8h-23.2zM167.5 414.7h180.7v7.8h-180.7zM91.0 422.3h23.2v5.1h-23.2zM129.3 422.3h7.9v5.1h-7.9zM144.6 422.3h199.3v5.1h-199.3z"/><path fill="#00bfff" d="M190.5 254.7h7.9v7.9h-7.9zM213.5 254.7h15.6v7.9h-15.6zM190.5 262.3h30.9v7.9h-30.9zM190.5 270.0h23.2v7.9h-23.2zM198.2 277.7h7.9v7.9h-7.9z"/><path fill="#ff2000" d="M83.3 262.3h7.9v7.9h-7.9zM68.0 270.0h38.5v7.9h-38.5zM60.4 277.7h38.5v7.9h-38.5zM52.7 285.3h46.2v7.9h-46.2zM45.1 293.0h53.8v7.9h-53.8zM37.4 300.6h61.5v7.9h-61.5zM29.8 308.2h69.1v7.9h-69.1zM22.1 315.9h76.8v7.9h-76.8zM22.1 323.5h76.8v7.9h-76.8zM14.5 331.1h84.4v7.9h-84.4zM6.8 338.8h92.1v7.9h-92.1zM6.8 346.4h92.1v7.9h-92.1zM6.8 354.0h92.1v7.9h-92.1zM6.8 361.6h92.1v7.9h-92.1zM6.8 369.2h84.4v7.8h-84.4zM6.8 376.8h84.4v7.8h-84.4zM6.8 384.4h84.4v7.8h-84.4zM6.8 392.0h92.1v7.8h-92.1zM6.8 399.5h84.4v7.8h-84.4zM6.8 407.1h84.4v7.8h-84.4zM6.8 414.7h84.4v7.8h-84.4zM6.8 422.3h76.8v5.1h-76.8z"/></g>
<use href="#coasttop"/>

</g>
<use href="#frame"/>

</g>
<use href="#star" x="910.4" y="787.2"/><use href="#star" x="948.1" y="899.4"/><use href="#star" x="957.1" y="992.2"/><use href="#star" x="906.2" y="1014.5"/>
<text x="836.1" y="749.5" text-anchor="end" style="font-size:20px">37°N</text>
<text x="836.1" y="820.2" text-anchor="end" style="font-size:15.5px">30'</text>
<text x="836.1" y="893.6" text-anchor="end" style="font-size:20px">36°N</text>
<text x="836.1" y="963.4" text-anchor="end" style="font-size:15.5px">30'</text>
<text x="836.1" y="1036.0" text-anchor="end" style="font-size:20px">35°N</text>
<text x="836.1" y="1104.9" text-anchor="end" style="font-size:15.5px">30'</text>
<text x="836.1" y="1176.6" text-anchor="end" style="font-size:20px">34°N</text>
<text x="843.1" y="1187.1" text-anchor="middle" style="font-size:15.5px">30'</text>
<text x="904.1" y="1190.5" text-anchor="middle" style="font-size:20px">76°W</text>
<text x="959.1" y="1187.1" text-anchor="middle" style="font-size:15.5px">30'</text>
<text x="1020.1" y="1190.5" text-anchor="middle" style="font-size:20px">75°W</text>
<text x="1075.1" y="1187.1" text-anchor="middle" style="font-size:15.5px">30'</text>
<text x="1136.1" y="1190.5" text-anchor="middle" style="font-size:20px">74°W</text>
<text x="1191.1" y="1187.1" text-anchor="middle" style="font-size:15.5px">30'</text>
<text x="1017.6" y="729.5" text-anchor="middle" style="font-size:24.7px;font-weight:bold">Site Codes</text><rect x="847.5" y="762.2" width="111.3" height="25.0" fill="url(#jet)" stroke="#262626" stroke-width="1.2"/><line x1="847.5" y1="762.2" x2="847.5" y2="764.4" stroke="#262626" stroke-width="1"/><text x="846.7" y="749.4" text-anchor="middle" style="font-size:18.7px;fill:#262626">0</text><line x1="904.7" y1="762.2" x2="904.7" y2="764.4" stroke="#262626" stroke-width="1"/><text x="903.9" y="749.4" text-anchor="middle" style="font-size:18.7px;fill:#262626">20</text><text x="1157.2" y="780.1" text-anchor="middle" style="font-size:20px">10 km</text><line x1="1151.6" y1="785.6" x2="1164.6" y2="785.6" stroke="#000" stroke-width="3.6" stroke-linecap="round"/>
</g></svg></body></html>
